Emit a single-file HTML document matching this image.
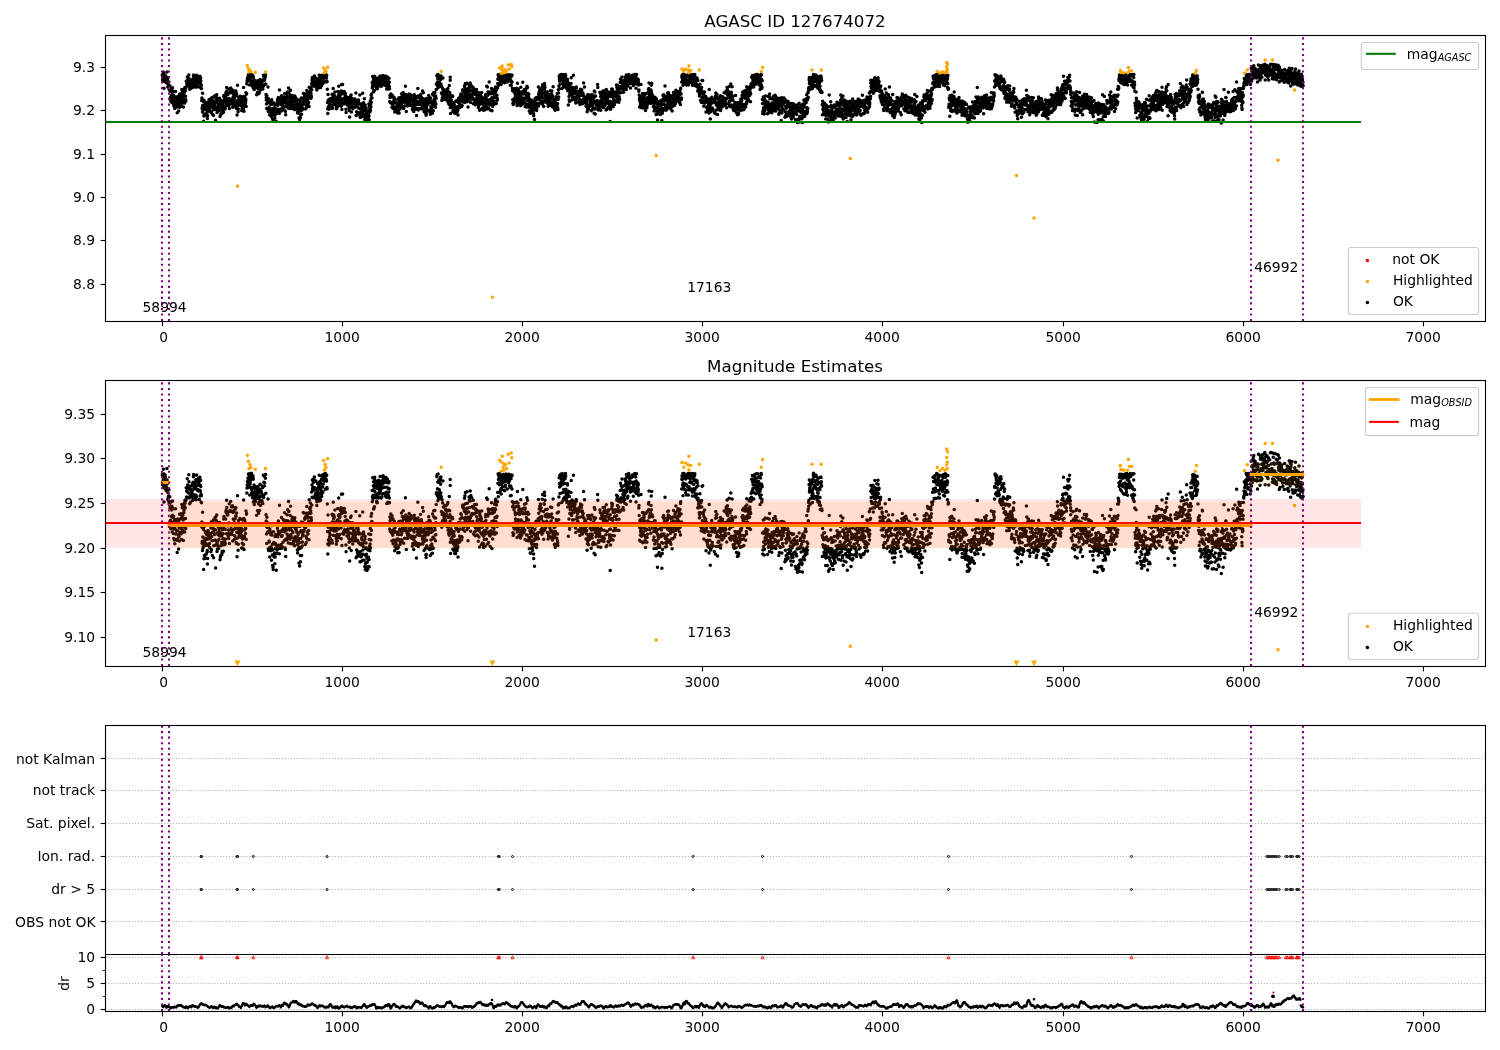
<!DOCTYPE html>
<html lang="en"><head><meta charset="utf-8"><title>AGASC ID 127674072</title>
<style>html,body{margin:0;padding:0;background:#fff;overflow:hidden}svg{display:block;will-change:transform;-webkit-font-smoothing:antialiased}</style>
</head><body>
<svg width="1500" height="1050" viewBox="0 0 1500 1050" font-family='"DejaVu Sans", "Liberation Sans", sans-serif' font-size="13.89" fill="#000">
<rect width="1500" height="1050" fill="#fff"/>
<defs>
<clipPath id="c1"><rect x="105.5" y="35.5" width="1380" height="286"/></clipPath>
<clipPath id="c2"><rect x="105.5" y="380.5" width="1380" height="286"/></clipPath>
<clipPath id="c3"><rect x="105.5" y="725.5" width="1380" height="229"/></clipPath>
<clipPath id="c4"><rect x="105.5" y="954.5" width="1380" height="57"/></clipPath>
</defs>
<g id="panel1">
<g clip-path="url(#c1)">
<path d="M162.3 75.1h.01M162.5 79.9h.01M162.7 74.6h.01M162.9 75.6h.01M163 78h.01M163.2 77.7h.01M163.4 72.3h.01M163.6 76.4h.01M163.8 81h.01M164 88.3h.01M164.1 74.6h.01M164.3 81.6h.01M164.5 80h.01M164.7 79h.01M164.9 81.3h.01M165.1 75.2h.01M165.3 77.4h.01M165.4 76.1h.01M165.6 80.4h.01M165.8 82.3h.01M166 78.5h.01M166.2 80.5h.01M166.4 82.8h.01M166.5 78.8h.01M166.7 78.3h.01M166.9 72h.01M167.1 77.5h.01M167.3 81.6h.01M167.5 79.2h.01M167.7 78.9h.01M167.8 87h.01M168 83.8h.01M168.2 86.2h.01M168.4 87.3h.01M168.6 85.5h.01M168.8 88.1h.01M168.9 82.1h.01M169.1 89.3h.01M169.4 88.2h.01M169.6 89.8h.01M169.8 85.7h.01M170 91.3h.01M170.1 91h.01M170.3 98.5h.01M170.5 97.2h.01M170.7 101.3h.01M170.9 98.7h.01M171.1 88.4h.01M171.2 100.7h.01M171.4 95.4h.01M171.6 92.1h.01M171.8 90.3h.01M172 90.6h.01M172.2 102.8h.01M172.4 94.8h.01M172.5 87.8h.01M172.7 98.3h.01M172.9 100.8h.01M173.1 95.9h.01M173.3 103.6h.01M173.5 91.6h.01M173.6 95.3h.01M173.8 106h.01M174 101.5h.01M174.2 97.6h.01M174.4 106.8h.01M174.6 100.6h.01M174.8 108.6h.01M174.9 96.8h.01M175.1 99.2h.01M175.3 98.5h.01M175.5 91.5h.01M175.7 103.9h.01M175.9 99.1h.01M176 103.8h.01M176.2 101.8h.01M176.4 99.7h.01M176.6 102.4h.01M176.8 106.4h.01M177 106.9h.01M177.2 112.8h.01M177.3 102.2h.01M177.5 97.4h.01M177.7 96.6h.01M177.9 99.4h.01M178.1 98h.01M178.3 97.6h.01M178.4 104.3h.01M178.6 111.1h.01M178.8 97.6h.01M179 105.3h.01M179.2 100.7h.01M179.4 107.2h.01M179.6 94.3h.01M179.7 100.1h.01M179.9 103h.01M180.1 103.1h.01M180.3 101.1h.01M180.5 96.4h.01M180.7 94h.01M180.8 100.9h.01M181 103.9h.01M181.2 99.7h.01M181.4 94.2h.01M181.6 106.5h.01M181.8 89.5h.01M182 95.5h.01M182.1 103.3h.01M182.3 91h.01M182.5 90.7h.01M182.7 102h.01M182.9 94.7h.01M183.1 97h.01M183.2 96.4h.01M183.4 107.1h.01M183.6 100.3h.01M183.8 93.4h.01M184 92.4h.01M184.2 90.2h.01M184.4 88.8h.01M184.5 91h.01M184.7 102.9h.01M184.9 87.4h.01M185.1 88.9h.01M185.3 91.1h.01M185.5 96.2h.01M185.7 99.5h.01M185.8 101.2h.01M186 87.5h.01M186.2 81.3h.01M186.4 86.4h.01M186.6 85.8h.01M186.8 83h.01M186.9 83.2h.01M187.1 81.2h.01M187.3 76.9h.01M187.5 81h.01M187.7 80h.01M187.9 81.6h.01M188.1 81.2h.01M188.2 83.8h.01M188.4 80.5h.01M188.6 80.8h.01M188.8 75h.01M189 78.4h.01M189.2 80.8h.01M189.3 86.4h.01M189.5 85.8h.01M189.7 89.2h.01M189.9 80.9h.01M190.1 82.3h.01M190.3 84.7h.01M190.5 85.8h.01M190.6 88.4h.01M190.8 82.1h.01M191 82.5h.01M191.2 82.8h.01M191.4 84.9h.01M191.6 83.8h.01M191.7 80.2h.01M191.9 83.3h.01M192.1 82.6h.01M192.3 82.7h.01M192.5 79.2h.01M192.7 87.5h.01M192.9 86h.01M193 84.6h.01M193.2 78.7h.01M193.4 76h.01M193.6 74.9h.01M193.8 80.7h.01M194 75.3h.01M194.1 81.8h.01M194.3 79.8h.01M194.5 84.9h.01M194.7 79h.01M194.9 86.8h.01M195.1 81.5h.01M195.3 81.3h.01M195.4 79.7h.01M195.6 81.7h.01M195.8 77.5h.01M196 85h.01M196.2 87.2h.01M196.4 85.8h.01M196.5 78.1h.01M196.7 75.2h.01M196.9 82.2h.01M197.1 78.1h.01M197.3 77.6h.01M197.5 82.5h.01M197.7 82.2h.01M197.8 80.2h.01M198 79.9h.01M198.2 76.9h.01M198.4 82.9h.01M198.6 78.7h.01M198.8 78.7h.01M198.9 79.3h.01M199.1 76.8h.01M199.3 87h.01M199.5 80.2h.01M199.7 82.6h.01M199.9 76.3h.01M200.1 85.4h.01M200.2 80.2h.01M200.4 82.9h.01M200.6 77.7h.01M200.8 80.8h.01M201 84.4h.01M201.2 88.4h.01M201.3 85.3h.01M201.5 88.6h.01M201.7 100.4h.01M201.9 98h.01M202.1 108.4h.01M202.3 107.3h.01M202.5 111.9h.01M202.6 93.2h.01M202.8 105.3h.01M203 110.6h.01M203.2 110.1h.01M203.4 101.5h.01M203.6 121.2h.01M203.7 109.1h.01M203.9 115.9h.01M204.1 100.3h.01M204.3 114.3h.01M204.5 107.7h.01M204.7 107h.01M204.9 105.9h.01M205 114.2h.01M205.2 102.7h.01M205.4 109.4h.01M205.6 115.6h.01M205.8 103.5h.01M206 103.6h.01M206.1 108.4h.01M206.3 113.5h.01M206.5 106.5h.01M206.7 106.1h.01M206.9 104.2h.01M207.1 112.6h.01M207.3 111.9h.01M207.4 118.5h.01M207.6 115.7h.01M207.8 109.4h.01M208 102.1h.01M208.2 104.9h.01M208.4 102.9h.01M208.5 106.3h.01M208.7 109.2h.01M208.9 103.6h.01M209.1 99.4h.01M209.3 99.7h.01M209.5 108.5h.01M209.7 110.4h.01M209.8 105.5h.01M210 99.7h.01M210.2 104.1h.01M210.4 104.1h.01M210.6 105.6h.01M210.8 103.6h.01M210.9 112.4h.01M211.1 100.9h.01M211.3 98h.01M211.5 111.5h.01M211.7 105h.01M211.9 107h.01M212.1 99.9h.01M212.2 100.9h.01M212.4 114.3h.01M212.6 97.6h.01M212.8 102.8h.01M213 106.9h.01M213.2 103h.01M213.4 97.1h.01M213.5 115.4h.01M213.7 109.6h.01M213.9 101.5h.01M214.1 103.5h.01M214.3 109.5h.01M214.5 104.1h.01M214.6 101.9h.01M214.8 96.7h.01M215 95.8h.01M215.2 106.7h.01M215.4 101.7h.01M215.6 120.3h.01M215.8 95.5h.01M215.9 109.2h.01M216.1 98.7h.01M216.3 97.3h.01M216.5 108.9h.01M216.7 94.7h.01M216.9 108h.01M217 112.4h.01M217.2 108.8h.01M217.4 111.1h.01M217.6 103.2h.01M217.8 107.3h.01M218 104.2h.01M218.2 100.4h.01M218.3 109.8h.01M218.5 98.4h.01M218.7 110.9h.01M218.9 106.5h.01M219.1 101.8h.01M219.3 104.4h.01M219.4 103.8h.01M219.6 98.2h.01M219.8 104.8h.01M220 116.4h.01M220.2 103.1h.01M220.4 115h.01M220.6 114.7h.01M220.7 103.4h.01M220.9 109.5h.01M221.1 114h.01M221.3 100.7h.01M221.5 108h.01M221.7 104.8h.01M221.8 113.8h.01M222 113.1h.01M222.2 112.2h.01M222.4 108.8h.01M222.6 101.8h.01M222.8 106.3h.01M223 109.2h.01M223.1 103.8h.01M223.3 106.2h.01M223.5 112.2h.01M223.7 96.5h.01M223.9 95.4h.01M224.1 101.2h.01M224.2 108.2h.01M224.4 99.4h.01M224.6 107.8h.01M224.8 99.2h.01M225 108.9h.01M225.2 108.3h.01M225.4 101.6h.01M225.5 106.3h.01M225.7 96.5h.01M225.9 93.2h.01M226.1 92.3h.01M226.3 93.5h.01M226.5 103.7h.01M226.6 87.5h.01M226.8 90.9h.01M227 98.9h.01M227.2 94.7h.01M227.4 93.7h.01M227.6 104.1h.01M227.8 94.6h.01M227.9 99.9h.01M228.1 93.3h.01M228.3 104.8h.01M228.5 101.9h.01M228.7 106.1h.01M228.9 98.5h.01M229 103.5h.01M229.2 89.1h.01M229.4 108.5h.01M229.6 99.4h.01M229.8 104.1h.01M230 92.5h.01M230.2 92.8h.01M230.3 92.8h.01M230.5 92.6h.01M230.7 88h.01M230.9 101.7h.01M231.1 100.2h.01M231.3 103.6h.01M231.4 90.6h.01M231.6 104h.01M231.8 99h.01M232 102.7h.01M232.2 90.8h.01M232.4 90.1h.01M232.6 99.1h.01M232.7 107.2h.01M232.9 99.3h.01M233.1 93.4h.01M233.3 96.6h.01M233.5 92.7h.01M233.7 101.7h.01M233.8 92.8h.01M234 96.8h.01M234.2 98.2h.01M234.4 106.5h.01M234.6 104.7h.01M234.8 101.3h.01M235 91h.01M235.1 96.4h.01M235.3 91.8h.01M235.5 106.1h.01M235.7 95.2h.01M235.9 91.1h.01M236.1 95.2h.01M236.2 108h.01M236.4 108.5h.01M236.6 93.7h.01M236.8 103h.01M237 114.9h.01M237.2 100.4h.01M237.4 105.7h.01M237.5 85.3h.01M237.7 101.2h.01M237.9 101.1h.01M238.1 111.7h.01M238.3 108.9h.01M238.5 97.3h.01M238.6 103.2h.01M238.8 102.7h.01M239 101.8h.01M239.2 104.3h.01M239.4 104.6h.01M239.6 103.5h.01M239.8 100.1h.01M239.9 96.3h.01M240.1 99.3h.01M240.3 103.6h.01M240.5 105.4h.01M240.7 102.2h.01M240.9 96.6h.01M241 100.7h.01M241.2 104.2h.01M241.4 100h.01M241.6 110.6h.01M241.8 102.6h.01M242 104.8h.01M242.2 108.3h.01M242.3 110.6h.01M242.5 106.3h.01M242.7 97h.01M242.9 101.9h.01M243.1 110.9h.01M243.3 111.1h.01M243.5 108.9h.01M243.6 87.4h.01M243.8 96.4h.01M244 111.3h.01M244.2 99.4h.01M244.4 105h.01M244.6 101.9h.01M244.7 97.1h.01M244.9 106h.01M245.1 100.2h.01M245.3 98.3h.01M245.5 103.6h.01M245.7 101.2h.01M245.9 99.5h.01M246 92.7h.01M246.2 106.5h.01M246.4 94.2h.01M246.6 93.8h.01M246.8 83.9h.01M247 81.5h.01M247.1 81.4h.01M247.3 80.1h.01M247.5 78.4h.01M247.7 78.4h.01M247.9 76.7h.01M248.1 76.9h.01M248.3 78h.01M248.4 74.7h.01M248.6 76.5h.01M248.8 75.2h.01M249 74.5h.01M249.2 79.2h.01M249.4 81.1h.01M249.5 77.8h.01M249.7 84.9h.01M249.9 76.3h.01M250.1 79.5h.01M250.3 78.3h.01M250.5 75.1h.01M250.7 75.4h.01M250.8 77.3h.01M251 84.6h.01M251.2 81.3h.01M251.4 74.4h.01M251.6 82.2h.01M251.8 83.7h.01M251.9 76.2h.01M252.1 81.5h.01M252.3 83.5h.01M252.5 86.2h.01M252.7 85.3h.01M252.9 75.5h.01M253.1 76.7h.01M253.2 77.3h.01M253.4 88.2h.01M253.6 83.7h.01M253.8 85.1h.01M254 80h.01M254.2 80.8h.01M254.3 89.6h.01M254.5 85.3h.01M254.7 87.3h.01M254.9 86.1h.01M255.1 82.1h.01M255.3 84.7h.01M255.5 88h.01M255.6 82.8h.01M255.8 80.9h.01M256 85h.01M256.2 83.8h.01M256.4 82.8h.01M256.6 94.8h.01M256.7 83.9h.01M256.9 85.4h.01M257.1 82.2h.01M257.3 86.6h.01M257.5 92.6h.01M257.7 82.7h.01M257.9 85.6h.01M258 80.8h.01M258.2 84.2h.01M258.4 89.1h.01M258.6 93.8h.01M258.8 83.3h.01M259 82.8h.01M259.1 88.6h.01M259.3 86.8h.01M259.5 92.4h.01M259.7 82.1h.01M259.9 87.9h.01M260.1 79.6h.01M260.3 83.1h.01M260.4 89.9h.01M260.6 85.4h.01M260.8 87.7h.01M261 87.7h.01M261.2 83.1h.01M261.4 83.7h.01M261.5 87.8h.01M261.7 85.4h.01M261.9 87.6h.01M262.1 88.3h.01M262.3 80.6h.01M262.5 81.3h.01M262.7 85h.01M262.8 89h.01M263 86h.01M263.2 85.4h.01M263.4 75.3h.01M263.6 86h.01M263.8 78.6h.01M263.9 75.7h.01M264.1 84.8h.01M264.3 80.5h.01M264.5 75.5h.01M264.7 79h.01M264.9 75.3h.01M265.1 74.9h.01M265.2 75h.01M265.4 76.7h.01M265.6 74.9h.01M265.8 84.1h.01M266 94.4h.01M266.2 97.6h.01M266.3 100.1h.01M266.5 103.9h.01M266.7 108.5h.01M266.9 95.7h.01M267.1 98.1h.01M267.3 100.7h.01M267.5 99.4h.01M267.6 102.8h.01M267.8 103.1h.01M268 86.9h.01M268.2 111.2h.01M268.4 98.7h.01M268.6 111.8h.01M268.7 100.9h.01M268.9 110.9h.01M269.1 107.2h.01M269.3 107.8h.01M269.5 110.5h.01M269.7 115.1h.01M269.9 101.7h.01M270 103h.01M270.2 103.1h.01M270.4 111.5h.01M270.6 110.1h.01M270.8 104.2h.01M271 112h.01M271.1 103h.01M271.3 110.4h.01M271.5 116.7h.01M271.7 99.8h.01M271.9 104.3h.01M272.1 111.5h.01M272.3 108.8h.01M272.4 114h.01M272.6 119.2h.01M272.8 111.5h.01M273 120h.01M273.2 121.2h.01M273.4 102.8h.01M273.6 108.3h.01M273.7 107.9h.01M273.9 108.6h.01M274.1 115h.01M274.3 114.6h.01M274.5 113.1h.01M274.7 108.6h.01M274.8 118.3h.01M275 105h.01M275.2 115h.01M275.4 108.5h.01M275.6 110.8h.01M275.8 104.1h.01M276 109.1h.01M276.1 111h.01M276.3 121.5h.01M276.5 113.4h.01M276.7 104.9h.01M276.9 113.3h.01M277.1 111.6h.01M277.2 109.4h.01M277.4 101h.01M277.6 99.1h.01M277.8 105.2h.01M278 103.8h.01M278.2 102.4h.01M278.4 97.6h.01M278.5 109.3h.01M278.7 98.8h.01M278.9 110.9h.01M279.1 104h.01M279.3 113.4h.01M279.5 89.9h.01M279.6 103.3h.01M279.8 102.9h.01M280 110.5h.01M280.2 99.5h.01M280.4 98.8h.01M280.6 110.1h.01M280.8 109.3h.01M280.9 109.3h.01M281.1 108.9h.01M281.3 110.9h.01M281.5 95.8h.01M281.7 105.1h.01M281.9 102.6h.01M282 101.8h.01M282.2 104.5h.01M282.4 110.1h.01M282.6 99.2h.01M282.8 102.2h.01M283 107.8h.01M283.2 96.9h.01M283.3 98.7h.01M283.5 99.4h.01M283.7 100.5h.01M283.9 101.7h.01M284.1 98.5h.01M284.3 97.1h.01M284.4 106.9h.01M284.6 93.5h.01M284.8 102.9h.01M285 110.7h.01M285.2 111.2h.01M285.4 111.4h.01M285.6 100.6h.01M285.7 114.8h.01M285.9 100.7h.01M286.1 106.3h.01M286.3 102.1h.01M286.5 106.7h.01M286.7 97.4h.01M286.8 98.4h.01M287 94.5h.01M287.2 104h.01M287.4 105.7h.01M287.6 92h.01M287.8 106.1h.01M288 97.5h.01M288.1 104.4h.01M288.3 108.3h.01M288.5 88h.01M288.7 92.9h.01M288.9 92.9h.01M289.1 101.2h.01M289.2 105.7h.01M289.4 106.3h.01M289.6 101.9h.01M289.8 98.2h.01M290 106.2h.01M290.2 94.9h.01M290.4 108.5h.01M290.5 90.3h.01M290.7 104.2h.01M290.9 104.5h.01M291.1 101.9h.01M291.3 105.4h.01M291.5 100.5h.01M291.6 98.1h.01M291.8 97.8h.01M292 96.7h.01M292.2 108.6h.01M292.4 95.7h.01M292.6 108.4h.01M292.8 102.9h.01M292.9 103.1h.01M293.1 100.1h.01M293.3 107.1h.01M293.5 97.8h.01M293.7 108.7h.01M293.9 107.5h.01M294 105.9h.01M294.2 109.3h.01M294.4 96.9h.01M294.6 109.6h.01M294.8 95.9h.01M295 105.2h.01M295.2 105.6h.01M295.3 101.2h.01M295.5 106.6h.01M295.7 101.4h.01M295.9 98h.01M296.1 99h.01M296.3 102.1h.01M296.4 100.7h.01M296.6 106.3h.01M296.8 103h.01M297 105.3h.01M297.2 107.8h.01M297.4 111.7h.01M297.6 113.1h.01M297.7 109h.01M297.9 105.9h.01M298.1 104.2h.01M298.3 111.3h.01M298.5 106.8h.01M298.7 110.4h.01M298.8 100.1h.01M299 117.9h.01M299.2 108.1h.01M299.4 110.3h.01M299.6 119.4h.01M299.8 110.8h.01M300 102.9h.01M300.1 100h.01M300.3 114.3h.01M300.5 117.4h.01M300.7 106.1h.01M300.9 110.3h.01M301.1 102.2h.01M301.3 98h.01M301.4 110.4h.01M301.6 114.3h.01M301.8 107.8h.01M302 98.2h.01M302.2 109.8h.01M302.4 107.8h.01M302.5 104.8h.01M302.7 103.6h.01M302.9 104.1h.01M303.1 98.2h.01M303.3 93.4h.01M303.5 102.6h.01M303.7 99.7h.01M303.8 93.6h.01M304 102h.01M304.2 99.6h.01M304.4 100.4h.01M304.6 96.3h.01M304.8 96.6h.01M304.9 99.1h.01M305.1 100.7h.01M305.3 109h.01M305.5 95.4h.01M305.7 100.7h.01M305.9 104.9h.01M306.1 96h.01M306.2 108h.01M306.4 93.7h.01M306.6 105.8h.01M306.8 90.5h.01M307 94.4h.01M307.2 102.8h.01M307.3 106.3h.01M307.5 95.3h.01M307.7 99.2h.01M307.9 96h.01M308.1 103.8h.01M308.3 93.6h.01M308.5 97.8h.01M308.6 102.2h.01M308.8 98.1h.01M309 106.6h.01M309.2 87.2h.01M309.4 95.9h.01M309.6 93.8h.01M309.7 91.4h.01M309.9 91.4h.01M310.1 98.1h.01M310.3 88.8h.01M310.5 90.9h.01M310.7 92.5h.01M310.9 93.7h.01M311 98.3h.01M311.2 96h.01M311.4 97.1h.01M311.6 83.4h.01M311.8 89.8h.01M312 80h.01M312.1 86h.01M312.3 77.6h.01M312.5 82h.01M312.7 82h.01M312.9 81.3h.01M313.1 86.2h.01M313.3 78.7h.01M313.4 82.7h.01M313.6 86h.01M313.8 82.3h.01M314 76.9h.01M314.2 78.6h.01M314.4 76.1h.01M314.5 81.3h.01M314.7 81.8h.01M314.9 82h.01M315.1 84.9h.01M315.3 82h.01M315.5 82h.01M315.7 84.1h.01M315.8 78.1h.01M316 86.9h.01M316.2 85.5h.01M316.4 83.7h.01M316.6 81.8h.01M316.8 90h.01M316.9 88.2h.01M317.1 88.1h.01M317.3 84.1h.01M317.5 83h.01M317.7 79.4h.01M317.9 81.5h.01M318.1 86.6h.01M318.2 84.9h.01M318.4 83.9h.01M318.6 86h.01M318.8 80.7h.01M319 81.3h.01M319.2 75.3h.01M319.3 78.6h.01M319.5 87.8h.01M319.7 84.3h.01M319.9 82h.01M320.1 86.2h.01M320.3 75.5h.01M320.5 79.3h.01M320.6 87.4h.01M320.8 80.8h.01M321 82.6h.01M321.2 77.9h.01M321.4 83.6h.01M321.6 77.2h.01M321.7 85.5h.01M321.9 84.1h.01M322.1 77.2h.01M322.3 77h.01M322.5 75.2h.01M322.7 81h.01M322.9 83.4h.01M323 77.6h.01M323.2 79.6h.01M323.4 75.8h.01M323.6 76h.01M323.8 74.8h.01M324 77.4h.01M324.1 77.7h.01M324.3 74.8h.01M324.5 77h.01M324.7 76.2h.01M324.9 78h.01M325.1 77.6h.01M325.3 82.1h.01M325.4 74.4h.01M325.6 77.2h.01M325.8 74.7h.01M326 77.1h.01M326.2 77.3h.01M326.4 75.4h.01M326.5 78.1h.01M326.7 75.3h.01M326.9 81.2h.01M327.1 81.8h.01M327.3 89.3h.01M327.5 102.6h.01M327.7 108.7h.01M327.8 113.5h.01M328 94.6h.01M328.2 100.6h.01M328.4 106.8h.01M328.6 102.8h.01M328.8 109.2h.01M328.9 109.2h.01M329.1 99.3h.01M329.3 108.1h.01M329.5 105.2h.01M329.7 102.4h.01M329.9 103.7h.01M330.1 104.2h.01M330.2 105.9h.01M330.4 98.7h.01M330.6 108.1h.01M330.8 108.1h.01M331 98.8h.01M331.2 101.1h.01M331.4 99.7h.01M331.5 100.3h.01M331.7 99.3h.01M331.9 107h.01M332.1 94.2h.01M332.3 98h.01M332.5 108.2h.01M332.6 94.9h.01M332.8 100.9h.01M333 102.1h.01M333.2 88.4h.01M333.4 104.5h.01M333.6 96.5h.01M333.8 94.6h.01M333.9 98.3h.01M334.1 95.3h.01M334.3 95.7h.01M334.5 102.5h.01M334.7 99.3h.01M334.9 92.1h.01M335 104.7h.01M335.2 101.1h.01M335.4 100.4h.01M335.6 99.6h.01M335.8 98.1h.01M336 102.4h.01M336.2 106.1h.01M336.3 108.8h.01M336.5 107.6h.01M336.7 101h.01M336.9 104.8h.01M337.1 104.1h.01M337.3 107.2h.01M337.4 104.3h.01M337.6 97h.01M337.8 91.5h.01M338 105.1h.01M338.2 98.4h.01M338.4 94.9h.01M338.6 101.4h.01M338.7 86.3h.01M338.9 99.7h.01M339.1 105.6h.01M339.3 99.2h.01M339.5 94.4h.01M339.7 96h.01M339.8 104.1h.01M340 95.4h.01M340.2 97.9h.01M340.4 92.4h.01M340.6 92.5h.01M340.8 98.8h.01M341 91.1h.01M341.1 100.9h.01M341.3 106.2h.01M341.5 93.9h.01M341.7 93.2h.01M341.9 109.4h.01M342.1 99.7h.01M342.2 91.4h.01M342.4 99h.01M342.6 84.4h.01M342.8 103.6h.01M343 93.5h.01M343.2 93.4h.01M343.4 98.8h.01M343.5 102.7h.01M343.7 104h.01M343.9 92h.01M344.1 99.9h.01M344.3 91.5h.01M344.5 92.9h.01M344.6 101.8h.01M344.8 97.8h.01M345 97.6h.01M345.2 95.3h.01M345.4 93.4h.01M345.6 98.9h.01M345.8 99h.01M345.9 109.3h.01M346.1 112.5h.01M346.3 102.9h.01M346.5 101.7h.01M346.7 97h.01M346.9 97.3h.01M347 104.8h.01M347.2 99.2h.01M347.4 101.5h.01M347.6 97.4h.01M347.8 102.4h.01M348 99.9h.01M348.2 101.7h.01M348.3 104.1h.01M348.5 99.6h.01M348.7 104.8h.01M348.9 106.1h.01M349.1 107.8h.01M349.3 110.6h.01M349.4 103.5h.01M349.6 116.9h.01M349.8 98.3h.01M350 99.6h.01M350.2 99.3h.01M350.4 103.4h.01M350.6 95.8h.01M350.7 101h.01M350.9 107.2h.01M351.1 95.1h.01M351.3 111.9h.01M351.5 107.2h.01M351.7 106.3h.01M351.8 99.9h.01M352 103.7h.01M352.2 98.4h.01M352.4 105.7h.01M352.6 100.3h.01M352.8 108.7h.01M353 100.3h.01M353.1 103.3h.01M353.3 104.4h.01M353.5 101.9h.01M353.7 102.9h.01M353.9 103h.01M354.1 101.9h.01M354.2 102.6h.01M354.4 107.1h.01M354.6 99.2h.01M354.8 105.1h.01M355 99h.01M355.2 107h.01M355.4 107.1h.01M355.5 105.8h.01M355.7 104.1h.01M355.9 92.9h.01M356.1 115.4h.01M356.3 106.7h.01M356.5 103.1h.01M356.6 111.7h.01M356.8 100.9h.01M357 114.7h.01M357.2 103.5h.01M357.4 113h.01M357.6 112.4h.01M357.8 107.1h.01M357.9 101.7h.01M358.1 107.6h.01M358.3 101.7h.01M358.5 100h.01M358.7 108.2h.01M358.9 103.1h.01M359 103.9h.01M359.2 113.8h.01M359.4 114.6h.01M359.6 114.5h.01M359.8 95h.01M360 117.3h.01M360.2 112.4h.01M360.3 108.9h.01M360.5 114.3h.01M360.7 117.3h.01M360.9 114.9h.01M361.1 103.9h.01M361.3 108.4h.01M361.5 114.6h.01M361.6 105.7h.01M361.8 106.5h.01M362 109.3h.01M362.2 113.8h.01M362.4 108.7h.01M362.6 116.6h.01M362.7 93.2h.01M362.9 111.6h.01M363.1 113.7h.01M363.3 109.9h.01M363.5 102.8h.01M363.7 103.8h.01M363.9 107.8h.01M364 104.7h.01M364.2 116.6h.01M364.4 98.8h.01M364.6 108.1h.01M364.8 119.7h.01M365 106.4h.01M365.1 105h.01M365.3 121.2h.01M365.5 118.2h.01M365.7 114.3h.01M365.9 110.9h.01M366.1 108.3h.01M366.3 110.5h.01M366.4 113.6h.01M366.6 120h.01M366.8 115.2h.01M367 115.6h.01M367.2 117.6h.01M367.4 119.8h.01M367.5 115.4h.01M367.7 120.8h.01M367.9 111.7h.01M368.1 119.7h.01M368.3 116.4h.01M368.5 115.1h.01M368.7 110.9h.01M368.8 103.9h.01M369 116.3h.01M369.2 106.5h.01M369.4 111.2h.01M369.6 109.6h.01M369.8 110h.01M369.9 112h.01M370.1 108.7h.01M370.3 101.1h.01M370.5 110.6h.01M370.7 104.1h.01M370.9 106.8h.01M371.1 95.2h.01M371.2 98.4h.01M371.4 102.2h.01M371.6 93.9h.01M371.8 97.8h.01M372 97.9h.01M372.2 82.7h.01M372.3 88.1h.01M372.5 85.8h.01M372.7 76.5h.01M372.9 86.9h.01M373.1 85h.01M373.3 80.4h.01M373.5 91.6h.01M373.6 78.4h.01M373.8 91.7h.01M374 91.3h.01M374.2 81.5h.01M374.4 90.6h.01M374.6 77.8h.01M374.7 76.3h.01M374.9 83.1h.01M375.1 77.7h.01M375.3 79.3h.01M375.5 84.8h.01M375.7 86.1h.01M375.9 78.8h.01M376 80.2h.01M376.2 78.5h.01M376.4 81.5h.01M376.6 87.9h.01M376.8 88.6h.01M377 84.8h.01M377.1 78.8h.01M377.3 88.7h.01M377.5 80.2h.01M377.7 81.7h.01M377.9 84.1h.01M378.1 84.2h.01M378.3 81.2h.01M378.4 86.3h.01M378.6 77.7h.01M378.8 81.9h.01M379 79.4h.01M379.2 78.3h.01M379.4 85.9h.01M379.5 83.1h.01M379.7 83h.01M379.9 84h.01M380.1 75.9h.01M380.3 80.8h.01M380.5 82.8h.01M380.7 82h.01M380.8 79.5h.01M381 78.8h.01M381.2 86.3h.01M381.4 78.1h.01M381.6 85.9h.01M381.8 85.9h.01M381.9 80h.01M382.1 79.4h.01M382.3 81.1h.01M382.5 81.5h.01M382.7 84.2h.01M382.9 79.2h.01M383.1 75.5h.01M383.2 77h.01M383.4 76.3h.01M383.6 79h.01M383.8 76.9h.01M384 84.2h.01M384.2 77.2h.01M384.3 78.1h.01M384.5 76.3h.01M384.7 81.1h.01M384.9 84.3h.01M385.1 77.8h.01M385.3 85.4h.01M385.5 84.7h.01M385.6 77.4h.01M385.8 77h.01M386 76.3h.01M386.2 83.5h.01M386.4 85.9h.01M386.6 78.8h.01M386.7 89h.01M386.9 83.7h.01M387.1 81.1h.01M387.3 77.1h.01M387.5 84.2h.01M387.7 83.6h.01M387.9 88.9h.01M388 88.4h.01M388.2 81.7h.01M388.4 79.1h.01M388.6 85.3h.01M388.8 83.4h.01M389 78.3h.01M389.2 81.9h.01M389.3 86.4h.01M389.5 88.7h.01M389.7 101.4h.01M389.9 95.5h.01M390.1 97.4h.01M390.3 102.6h.01M390.4 97h.01M390.6 96.7h.01M390.8 94.1h.01M391 95.3h.01M391.2 95.6h.01M391.4 96.1h.01M391.6 103.4h.01M391.7 96.7h.01M391.9 107.2h.01M392.1 95h.01M392.3 103.6h.01M392.5 102.2h.01M392.7 96.9h.01M392.8 104.4h.01M393 96.5h.01M393.2 108.6h.01M393.4 102.1h.01M393.6 106.7h.01M393.8 101.7h.01M394 100h.01M394.1 103h.01M394.3 97.7h.01M394.5 102.2h.01M394.7 112h.01M394.9 110h.01M395.1 100.7h.01M395.2 99.2h.01M395.4 107.3h.01M395.6 102.9h.01M395.8 108.2h.01M396 110.4h.01M396.2 107.2h.01M396.4 109.1h.01M396.5 109.6h.01M396.7 110.7h.01M396.9 110.8h.01M397.1 106.3h.01M397.3 103.1h.01M397.5 110.8h.01M397.6 104.1h.01M397.8 113h.01M398 106.2h.01M398.2 110.4h.01M398.4 110.3h.01M398.6 99.6h.01M398.8 104h.01M398.9 97.8h.01M399.1 112.9h.01M399.3 102.5h.01M399.5 106.7h.01M399.7 101.4h.01M399.9 107.5h.01M400 108.9h.01M400.2 101.8h.01M400.4 106.8h.01M400.6 107.9h.01M400.8 97.6h.01M401 102.3h.01M401.2 98.5h.01M401.3 104.2h.01M401.5 93.7h.01M401.7 106.6h.01M401.9 103.1h.01M402.1 107.5h.01M402.3 95.4h.01M402.4 97.5h.01M402.6 100.8h.01M402.8 101.6h.01M403 100.2h.01M403.2 92.6h.01M403.4 96.9h.01M403.6 100.7h.01M403.7 108.4h.01M403.9 99h.01M404.1 96.2h.01M404.3 102.2h.01M404.5 95.5h.01M404.7 105.9h.01M404.8 101.6h.01M405 102h.01M405.2 101.3h.01M405.4 86.2h.01M405.6 95.4h.01M405.8 94.6h.01M406 100.7h.01M406.1 96.9h.01M406.3 111.4h.01M406.5 98h.01M406.7 95.7h.01M406.9 103.3h.01M407.1 95.9h.01M407.2 102.5h.01M407.4 106.1h.01M407.6 104.5h.01M407.8 103.2h.01M408 95.6h.01M408.2 97.4h.01M408.4 97.1h.01M408.5 103.8h.01M408.7 96.6h.01M408.9 99.4h.01M409.1 93.9h.01M409.3 101.3h.01M409.5 97.2h.01M409.6 104.4h.01M409.8 105.3h.01M410 102.1h.01M410.2 96.4h.01M410.4 101.4h.01M410.6 96.3h.01M410.8 100.8h.01M410.9 94.9h.01M411.1 96.6h.01M411.3 95.9h.01M411.5 95.9h.01M411.7 105h.01M411.9 106.1h.01M412 96h.01M412.2 99.5h.01M412.4 109.8h.01M412.6 99.6h.01M412.8 108.5h.01M413 109.2h.01M413.2 105h.01M413.3 102h.01M413.5 105.9h.01M413.7 111.4h.01M413.9 106.7h.01M414.1 102.9h.01M414.3 94.8h.01M414.4 98.9h.01M414.6 97.2h.01M414.8 96.2h.01M415 105.4h.01M415.2 101.2h.01M415.4 101.2h.01M415.6 107.9h.01M415.7 108.6h.01M415.9 101.1h.01M416.1 109.3h.01M416.3 98.4h.01M416.5 115.5h.01M416.7 108.4h.01M416.8 101.4h.01M417 96.6h.01M417.2 104.2h.01M417.4 97.4h.01M417.6 102.8h.01M417.8 88.4h.01M418 96h.01M418.1 103.7h.01M418.3 109.9h.01M418.5 108.5h.01M418.7 103.1h.01M418.9 103h.01M419.1 97.6h.01M419.3 104.6h.01M419.4 103.4h.01M419.6 101.8h.01M419.8 104.1h.01M420 100.8h.01M420.2 98.5h.01M420.4 100.6h.01M420.5 94.4h.01M420.7 108.8h.01M420.9 101.9h.01M421.1 101.1h.01M421.3 96.9h.01M421.5 108.8h.01M421.7 98h.01M421.8 98.4h.01M422 104.9h.01M422.2 103h.01M422.4 106.4h.01M422.6 90.9h.01M422.8 98.5h.01M422.9 108.7h.01M423.1 107.8h.01M423.3 92.8h.01M423.5 102.4h.01M423.7 106.1h.01M423.9 98.9h.01M424.1 111.8h.01M424.2 107.5h.01M424.4 101.6h.01M424.6 104.2h.01M424.8 105.4h.01M425 104.1h.01M425.2 100h.01M425.3 110.8h.01M425.5 103h.01M425.7 104.3h.01M425.9 113.9h.01M426.1 115.2h.01M426.3 113.8h.01M426.5 98.4h.01M426.6 106.9h.01M426.8 109.5h.01M427 110.8h.01M427.2 101.5h.01M427.4 110.4h.01M427.6 99.8h.01M427.7 100.8h.01M427.9 99.1h.01M428.1 104.2h.01M428.3 103h.01M428.5 103.4h.01M428.7 95.4h.01M428.9 103.3h.01M429 97.2h.01M429.2 101.7h.01M429.4 110.7h.01M429.6 111.4h.01M429.8 97.4h.01M430 100.5h.01M430.1 111.1h.01M430.3 114.3h.01M430.5 98h.01M430.7 109.4h.01M430.9 106.8h.01M431.1 103.1h.01M431.3 101.2h.01M431.4 101.3h.01M431.6 113.4h.01M431.8 108.7h.01M432 111h.01M432.2 109.9h.01M432.4 113.2h.01M432.5 94.2h.01M432.7 102.5h.01M432.9 105.4h.01M433.1 106.2h.01M433.3 110.8h.01M433.5 105.9h.01M433.7 92.5h.01M433.8 95.5h.01M434 106h.01M434.2 99.3h.01M434.4 98.8h.01M434.6 100.6h.01M434.8 96h.01M434.9 92.4h.01M435.1 101.8h.01M435.3 104.4h.01M435.5 107.2h.01M435.7 96h.01M435.9 104.1h.01M436.1 98.3h.01M436.2 89.6h.01M436.4 84.2h.01M436.6 83.7h.01M436.8 75.8h.01M437 84.7h.01M437.2 75.1h.01M437.3 85.1h.01M437.5 81.9h.01M437.7 78.6h.01M437.9 87.7h.01M438.1 74.6h.01M438.3 86.2h.01M438.5 78.2h.01M438.6 86.3h.01M438.8 77.6h.01M439 84.2h.01M439.2 82.4h.01M439.4 82.6h.01M439.6 86.5h.01M439.7 78.9h.01M439.9 85.6h.01M440.1 84.8h.01M440.3 76.3h.01M440.5 77.4h.01M440.7 79.6h.01M440.9 83.9h.01M441 76.1h.01M441.2 85.7h.01M441.4 92.9h.01M441.6 86.8h.01M441.8 100.6h.01M442 87.2h.01M442.1 94.3h.01M442.3 97.9h.01M442.5 97.4h.01M442.7 88.8h.01M442.9 78h.01M443.1 97.1h.01M443.3 90.7h.01M443.4 93.7h.01M443.6 97.9h.01M443.8 99.6h.01M444 95.7h.01M444.2 99.2h.01M444.4 97.5h.01M444.5 94.6h.01M444.7 96.9h.01M444.9 90.1h.01M445.1 97.4h.01M445.3 96.8h.01M445.5 92.1h.01M445.7 97.2h.01M445.8 91.8h.01M446 90h.01M446.2 95h.01M446.4 94.2h.01M446.6 99.9h.01M446.8 89.7h.01M446.9 92.8h.01M447.1 98.8h.01M447.3 100.3h.01M447.5 89.2h.01M447.7 99.3h.01M447.9 88.5h.01M448.1 102.1h.01M448.2 98.7h.01M448.4 95.8h.01M448.6 103.6h.01M448.8 100.5h.01M449 92.3h.01M449.2 104.4h.01M449.4 102.8h.01M449.5 102.6h.01M449.7 92.5h.01M449.9 94.5h.01M450.1 97.7h.01M450.3 107.8h.01M450.5 99.7h.01M450.6 113.4h.01M450.8 95.6h.01M451 106.3h.01M451.2 101.6h.01M451.4 100h.01M451.6 103.8h.01M451.8 96.2h.01M451.9 102.3h.01M452.1 105.5h.01M452.3 95.7h.01M452.5 106.8h.01M452.7 96.4h.01M452.9 111.2h.01M453 111.1h.01M453.2 108.5h.01M453.4 111.6h.01M453.6 104.9h.01M453.8 104.2h.01M454 102.7h.01M454.2 104.8h.01M454.3 109.3h.01M454.5 107.5h.01M454.7 113.3h.01M454.9 113h.01M455.1 107.1h.01M455.3 110.8h.01M455.4 110.9h.01M455.6 113.3h.01M455.8 100.9h.01M456 112.1h.01M456.2 108.1h.01M456.4 100.8h.01M456.6 101.5h.01M456.7 107.9h.01M456.9 109.6h.01M457.1 111.9h.01M457.3 106.8h.01M457.5 108.1h.01M457.7 109.7h.01M457.8 110.4h.01M458 115.1h.01M458.2 101.6h.01M458.4 102.6h.01M458.6 98.2h.01M458.8 107.9h.01M459 107.1h.01M459.1 102h.01M459.3 98.4h.01M459.5 105h.01M459.7 107.8h.01M459.9 101.4h.01M460.1 106h.01M460.2 96.5h.01M460.4 98.5h.01M460.6 105.1h.01M460.8 94h.01M461 98.9h.01M461.2 99.2h.01M461.4 94.4h.01M461.5 105.1h.01M461.7 106.6h.01M461.9 95.9h.01M462.1 105.4h.01M462.3 99.9h.01M462.5 98.5h.01M462.6 90.5h.01M462.8 89.8h.01M463 101.7h.01M463.2 91.2h.01M463.4 100.8h.01M463.6 98.6h.01M463.8 96.3h.01M463.9 89.7h.01M464.1 91.5h.01M464.3 92.8h.01M464.5 86.4h.01M464.7 102.5h.01M464.9 85.2h.01M465 100.1h.01M465.2 97.7h.01M465.4 95.8h.01M465.6 96.8h.01M465.8 89.1h.01M466 93.8h.01M466.2 92.9h.01M466.3 94h.01M466.5 98.4h.01M466.7 91.3h.01M466.9 83.3h.01M467.1 101.7h.01M467.3 88.9h.01M467.4 100.1h.01M467.6 91.4h.01M467.8 98.1h.01M468 107.1h.01M468.2 95.7h.01M468.4 100.8h.01M468.6 96h.01M468.7 93.2h.01M468.9 96.9h.01M469.1 85.8h.01M469.3 87.3h.01M469.5 90.9h.01M469.7 97.6h.01M469.8 86.2h.01M470 88h.01M470.2 83h.01M470.4 96h.01M470.6 102.5h.01M470.8 85.1h.01M471 94.7h.01M471.1 94.8h.01M471.3 98.9h.01M471.5 94.9h.01M471.7 86.2h.01M471.9 94.1h.01M472.1 93.9h.01M472.2 90.5h.01M472.4 99.2h.01M472.6 94.2h.01M472.8 97.8h.01M473 91.2h.01M473.2 87.4h.01M473.4 91.1h.01M473.5 103.8h.01M473.7 98.9h.01M473.9 91h.01M474.1 94.2h.01M474.3 100h.01M474.5 102.8h.01M474.6 89.6h.01M474.8 100.1h.01M475 93.8h.01M475.2 104.7h.01M475.4 100.8h.01M475.6 92.1h.01M475.8 102.4h.01M475.9 91.7h.01M476.1 98.8h.01M476.3 93.5h.01M476.5 89.6h.01M476.7 95.5h.01M476.9 98.5h.01M477.1 97.6h.01M477.2 104.3h.01M477.4 97.1h.01M477.6 98.7h.01M477.8 101.1h.01M478 92.6h.01M478.2 99.4h.01M478.3 107.4h.01M478.5 98.9h.01M478.7 101.8h.01M478.9 105.3h.01M479.1 96.7h.01M479.3 102.3h.01M479.5 110.2h.01M479.6 94.2h.01M479.8 92.9h.01M480 99.9h.01M480.2 95h.01M480.4 100.8h.01M480.6 95.5h.01M480.7 98.2h.01M480.9 96.9h.01M481.1 103.7h.01M481.3 96.5h.01M481.5 109h.01M481.7 92.6h.01M481.9 103.3h.01M482 100.6h.01M482.2 108.7h.01M482.4 108.2h.01M482.6 104.3h.01M482.8 100.1h.01M483 98.1h.01M483.1 98.7h.01M483.3 102.8h.01M483.5 110.3h.01M483.7 105h.01M483.9 108.7h.01M484.1 109.5h.01M484.3 106.5h.01M484.4 102.1h.01M484.6 98.1h.01M484.8 98.6h.01M485 99.2h.01M485.2 109.8h.01M485.4 103.9h.01M485.5 95.5h.01M485.7 94.4h.01M485.9 97.3h.01M486.1 102.5h.01M486.3 103.7h.01M486.5 106.4h.01M486.7 86.3h.01M486.8 100.2h.01M487 101h.01M487.2 99.5h.01M487.4 87.1h.01M487.6 99.8h.01M487.8 108.8h.01M487.9 95.2h.01M488.1 91.7h.01M488.3 94.2h.01M488.5 107.9h.01M488.7 92.9h.01M488.9 103.2h.01M489.1 103h.01M489.2 81.9h.01M489.4 104.5h.01M489.6 102.6h.01M489.8 92h.01M490 104.8h.01M490.2 109.9h.01M490.3 103.8h.01M490.5 99.6h.01M490.7 93.8h.01M490.9 102.3h.01M491.1 103.2h.01M491.3 102.6h.01M491.5 88.6h.01M491.6 103.8h.01M491.8 97.7h.01M492 110.8h.01M492.2 100.4h.01M492.4 91.5h.01M492.6 106.2h.01M492.7 92.5h.01M492.9 93.8h.01M493.1 91.5h.01M493.3 92.5h.01M493.5 103.6h.01M493.7 97.4h.01M493.9 102.6h.01M494 101.2h.01M494.2 92.5h.01M494.4 93.1h.01M494.6 89.4h.01M494.8 104h.01M495 95.9h.01M495.1 91.6h.01M495.3 88.2h.01M495.5 86.9h.01M495.7 91.9h.01M495.9 95.8h.01M496.1 97.9h.01M496.3 103.4h.01M496.4 89.8h.01M496.6 95.9h.01M496.8 87.9h.01M497 95.2h.01M497.2 100.2h.01M497.4 98.8h.01M497.5 88.1h.01M497.7 83.6h.01M497.9 79.2h.01M498.1 74.7h.01M498.3 85.7h.01M498.5 77.4h.01M498.7 75.2h.01M498.8 75.1h.01M499 75.9h.01M499.2 75.3h.01M499.4 79.9h.01M499.6 74.4h.01M499.8 83.4h.01M499.9 79h.01M500.1 76.8h.01M500.3 75.4h.01M500.5 82.6h.01M500.7 76h.01M500.9 79.5h.01M501.1 81.7h.01M501.2 84.4h.01M501.4 78.3h.01M501.6 82.3h.01M501.8 76h.01M502 79.2h.01M502.2 76.3h.01M502.3 75.4h.01M502.5 76.9h.01M502.7 80.8h.01M502.9 75.1h.01M503.1 75.7h.01M503.3 76.3h.01M503.5 78.6h.01M503.6 74.9h.01M503.8 77h.01M504 76.5h.01M504.2 82.6h.01M504.4 78.4h.01M504.6 74.9h.01M504.7 82.8h.01M504.9 76.6h.01M505.1 80.8h.01M505.3 74.9h.01M505.5 80.2h.01M505.7 77.3h.01M505.9 74.7h.01M506 77.5h.01M506.2 76.9h.01M506.4 75.2h.01M506.6 77.1h.01M506.8 75.8h.01M507 76.1h.01M507.2 76.8h.01M507.3 82h.01M507.5 75.8h.01M507.7 76.7h.01M507.9 78.7h.01M508.1 74.8h.01M508.3 75.2h.01M508.4 76.6h.01M508.6 78.9h.01M508.8 74.9h.01M509 74.8h.01M509.2 78.2h.01M509.4 75.1h.01M509.6 80.4h.01M509.7 75.1h.01M509.9 76.9h.01M510.1 81.1h.01M510.3 85.2h.01M510.5 76.9h.01M510.7 76.1h.01M510.8 80.6h.01M511 77h.01M511.2 85.1h.01M511.4 81.6h.01M511.6 75.1h.01M511.8 75.6h.01M512 81.9h.01M512.1 75.3h.01M512.3 88.2h.01M512.5 90.6h.01M512.7 99.8h.01M512.9 103.2h.01M513.1 90.3h.01M513.2 104.5h.01M513.4 100.3h.01M513.6 88.8h.01M513.8 103.8h.01M514 92.1h.01M514.2 101.4h.01M514.4 98.6h.01M514.5 91h.01M514.7 98.7h.01M514.9 88.7h.01M515.1 93.4h.01M515.3 94.5h.01M515.5 96.5h.01M515.6 100h.01M515.8 96.9h.01M516 98h.01M516.2 97.3h.01M516.4 101.4h.01M516.6 90.4h.01M516.8 88.2h.01M516.9 101h.01M517.1 105.5h.01M517.3 102.8h.01M517.5 100.3h.01M517.7 93.9h.01M517.9 97.9h.01M518 88.9h.01M518.2 97h.01M518.4 101.8h.01M518.6 90.5h.01M518.8 92.4h.01M519 104.6h.01M519.2 91.5h.01M519.3 100.3h.01M519.5 94.4h.01M519.7 92h.01M519.9 104.5h.01M520.1 98.4h.01M520.3 92.6h.01M520.4 103.3h.01M520.6 105.7h.01M520.8 87.2h.01M521 97.1h.01M521.2 93.4h.01M521.4 102.1h.01M521.6 97.7h.01M521.7 104.5h.01M521.9 102.2h.01M522.1 100.8h.01M522.3 93.2h.01M522.5 99.4h.01M522.7 91.6h.01M522.8 82.3h.01M523 94h.01M523.2 98.3h.01M523.4 100.9h.01M523.6 98.3h.01M523.8 103.3h.01M524 101.8h.01M524.1 91.2h.01M524.3 102.5h.01M524.5 89.4h.01M524.7 101.9h.01M524.9 91.9h.01M525.1 106.5h.01M525.2 91.3h.01M525.4 98.3h.01M525.6 94h.01M525.8 93.4h.01M526 89.1h.01M526.2 106.9h.01M526.4 96h.01M526.5 104.3h.01M526.7 97h.01M526.9 86.2h.01M527.1 104.3h.01M527.3 99.7h.01M527.5 87.4h.01M527.6 93.4h.01M527.8 93.3h.01M528 94.2h.01M528.2 100.8h.01M528.4 107.2h.01M528.6 97.1h.01M528.8 94.2h.01M528.9 105.7h.01M529.1 105.6h.01M529.3 111h.01M529.5 99h.01M529.7 105.7h.01M529.9 102.3h.01M530 106.7h.01M530.2 113.1h.01M530.4 103.6h.01M530.6 113.2h.01M530.8 107.5h.01M531 103.4h.01M531.2 102.3h.01M531.3 100.6h.01M531.5 108.5h.01M531.7 105h.01M531.9 100.3h.01M532.1 110.1h.01M532.3 100.7h.01M532.4 110.6h.01M532.6 111.8h.01M532.8 107.2h.01M533 103.2h.01M533.2 103.1h.01M533.4 106.8h.01M533.6 113.6h.01M533.7 115.7h.01M533.9 107.1h.01M534.1 103.9h.01M534.3 109h.01M534.5 119.6h.01M534.7 104.1h.01M534.9 101.7h.01M535 109.7h.01M535.2 98.5h.01M535.4 105.6h.01M535.6 108.9h.01M535.8 106.4h.01M536 97.7h.01M536.1 100h.01M536.3 103.9h.01M536.5 110.4h.01M536.7 109h.01M536.9 99.3h.01M537.1 105.8h.01M537.3 104.7h.01M537.4 104.3h.01M537.6 103.4h.01M537.8 105.7h.01M538 98.1h.01M538.2 96.5h.01M538.4 87.1h.01M538.5 106.1h.01M538.7 93.7h.01M538.9 97.5h.01M539.1 99.3h.01M539.3 91.8h.01M539.5 103h.01M539.7 91.4h.01M539.8 90.3h.01M540 98.8h.01M540.2 95.5h.01M540.4 89.2h.01M540.6 89.4h.01M540.8 92.5h.01M540.9 95.9h.01M541.1 101.6h.01M541.3 91.1h.01M541.5 96.6h.01M541.7 95.3h.01M541.9 103.9h.01M542.1 101.2h.01M542.2 86.9h.01M542.4 102.9h.01M542.6 84.7h.01M542.8 103.3h.01M543 101.9h.01M543.2 102.6h.01M543.3 97.9h.01M543.5 92.9h.01M543.7 106.4h.01M543.9 101.4h.01M544.1 89.1h.01M544.3 89.4h.01M544.5 83.5h.01M544.6 85.1h.01M544.8 101.9h.01M545 87.4h.01M545.2 95.2h.01M545.4 94.6h.01M545.6 100.9h.01M545.7 91.9h.01M545.9 99h.01M546.1 94.4h.01M546.3 94.8h.01M546.5 97.7h.01M546.7 97.7h.01M546.9 95.5h.01M547 94.1h.01M547.2 91.8h.01M547.4 103.1h.01M547.6 94.8h.01M547.8 99.7h.01M548 98.5h.01M548.1 106.3h.01M548.3 95.6h.01M548.5 104.6h.01M548.7 105.2h.01M548.9 94.3h.01M549.1 95h.01M549.3 103.3h.01M549.4 98.6h.01M549.6 105.2h.01M549.8 100.8h.01M550 100.3h.01M550.2 98.7h.01M550.4 101.8h.01M550.5 90.7h.01M550.7 98.7h.01M550.9 95.5h.01M551.1 97.5h.01M551.3 105.5h.01M551.5 102.2h.01M551.7 94.1h.01M551.8 91h.01M552 106.1h.01M552.2 102.9h.01M552.4 106.7h.01M552.6 96h.01M552.8 104.8h.01M552.9 104.3h.01M553.1 86.8h.01M553.3 105.9h.01M553.5 98.9h.01M553.7 102.7h.01M553.9 105.5h.01M554.1 100.8h.01M554.2 105.6h.01M554.4 109h.01M554.6 105.6h.01M554.8 108.7h.01M555 104.2h.01M555.2 110.3h.01M555.3 100.3h.01M555.5 102.6h.01M555.7 109.6h.01M555.9 98.5h.01M556.1 96.8h.01M556.3 98.1h.01M556.5 98.8h.01M556.6 103.7h.01M556.8 105.9h.01M557 98.3h.01M557.2 93.6h.01M557.4 107.1h.01M557.6 103.8h.01M557.7 108.1h.01M557.9 109.4h.01M558.1 99.6h.01M558.3 89.7h.01M558.5 93.1h.01M558.7 96.9h.01M558.9 85.9h.01M559 89h.01M559.2 76.5h.01M559.4 79.3h.01M559.6 80.9h.01M559.8 75.3h.01M560 84.2h.01M560.1 80.6h.01M560.3 79.3h.01M560.5 76.5h.01M560.7 74.8h.01M560.9 80.4h.01M561.1 76.9h.01M561.3 75.8h.01M561.4 78.3h.01M561.6 74.6h.01M561.8 88.5h.01M562 78.5h.01M562.2 76h.01M562.4 83.8h.01M562.5 76h.01M562.7 74.6h.01M562.9 75.1h.01M563.1 87.4h.01M563.3 79.6h.01M563.5 86.8h.01M563.7 82.2h.01M563.8 77.5h.01M564 75.6h.01M564.2 75.7h.01M564.4 86.1h.01M564.6 79.3h.01M564.8 77h.01M565 85.9h.01M565.1 76.9h.01M565.3 83.3h.01M565.5 74.4h.01M565.7 75.8h.01M565.9 82.1h.01M566.1 84.3h.01M566.2 87.3h.01M566.4 85.5h.01M566.6 86.5h.01M566.8 88.6h.01M567 83.4h.01M567.2 88.3h.01M567.4 79.2h.01M567.5 80h.01M567.7 90.7h.01M567.9 84.4h.01M568.1 88.2h.01M568.3 105h.01M568.5 83.1h.01M568.6 89h.01M568.8 89h.01M569 96.6h.01M569.2 100.1h.01M569.4 85.6h.01M569.6 101.5h.01M569.8 93.8h.01M569.9 90.3h.01M570.1 92.1h.01M570.3 89h.01M570.5 91.2h.01M570.7 88h.01M570.9 89.6h.01M571 83.6h.01M571.2 77.8h.01M571.4 88.6h.01M571.6 94.8h.01M571.8 99.9h.01M572 87.3h.01M572.2 99.8h.01M572.3 93.6h.01M572.5 97.1h.01M572.7 99h.01M572.9 90.5h.01M573.1 92.4h.01M573.3 93h.01M573.4 75.3h.01M573.6 89.2h.01M573.8 96.9h.01M574 93.4h.01M574.2 92.8h.01M574.4 88.1h.01M574.6 91.2h.01M574.7 90.2h.01M574.9 91.5h.01M575.1 89.3h.01M575.3 98.7h.01M575.5 101h.01M575.7 92.3h.01M575.8 103.1h.01M576 99.3h.01M576.2 87.1h.01M576.4 87.9h.01M576.6 92.6h.01M576.8 96.4h.01M577 95.3h.01M577.1 91.7h.01M577.3 95.6h.01M577.5 93.8h.01M577.7 97.5h.01M577.9 92h.01M578.1 98.1h.01M578.2 101.9h.01M578.4 93h.01M578.6 91.8h.01M578.8 91.8h.01M579 102.5h.01M579.2 91.1h.01M579.4 102.2h.01M579.5 95.7h.01M579.7 99.3h.01M579.9 104.6h.01M580.1 102.3h.01M580.3 90.5h.01M580.5 89.2h.01M580.6 100.6h.01M580.8 89.6h.01M581 101.8h.01M581.2 92.8h.01M581.4 91h.01M581.6 103.2h.01M581.8 89.8h.01M581.9 101.8h.01M582.1 95.5h.01M582.3 92.6h.01M582.5 103.8h.01M582.7 93.9h.01M582.9 95.3h.01M583 95.5h.01M583.2 93.8h.01M583.4 99.2h.01M583.6 83.1h.01M583.8 101.1h.01M584 96.2h.01M584.2 102.2h.01M584.3 102.8h.01M584.5 87.1h.01M584.7 97.9h.01M584.9 97.4h.01M585.1 98.2h.01M585.3 101.8h.01M585.4 101.2h.01M585.6 97.6h.01M585.8 98.1h.01M586 106.3h.01M586.2 106.2h.01M586.4 100.2h.01M586.6 103.9h.01M586.7 102.2h.01M586.9 106.5h.01M587.1 111.8h.01M587.3 106.5h.01M587.5 108.7h.01M587.7 94.8h.01M587.8 107.5h.01M588 96.3h.01M588.2 98.8h.01M588.4 105.2h.01M588.6 109.1h.01M588.8 94.8h.01M589 96.1h.01M589.1 95.7h.01M589.3 95.2h.01M589.5 106.5h.01M589.7 99.1h.01M589.9 103.9h.01M590.1 101.1h.01M590.2 96.1h.01M590.4 104.3h.01M590.6 98.6h.01M590.8 96.9h.01M591 101.2h.01M591.2 110.8h.01M591.4 105.3h.01M591.5 101.9h.01M591.7 103.9h.01M591.9 94.6h.01M592.1 105.8h.01M592.3 104.3h.01M592.5 99.5h.01M592.6 108.8h.01M592.8 109h.01M593 108.9h.01M593.2 100.4h.01M593.4 108h.01M593.6 98.1h.01M593.8 101.6h.01M593.9 95.9h.01M594.1 113.2h.01M594.3 91h.01M594.5 108.8h.01M594.7 96.7h.01M594.9 91.9h.01M595.1 103.1h.01M595.2 113.9h.01M595.4 101.5h.01M595.6 96.1h.01M595.8 108.7h.01M596 105.2h.01M596.2 102h.01M596.3 103h.01M596.5 100.9h.01M596.7 100.8h.01M596.9 104h.01M597.1 102.4h.01M597.3 101.5h.01M597.5 100.8h.01M597.6 84.6h.01M597.8 87.5h.01M598 101.8h.01M598.2 110h.01M598.4 106.9h.01M598.6 103.6h.01M598.7 108h.01M598.9 102.2h.01M599.1 105h.01M599.3 101.7h.01M599.5 103.3h.01M599.7 104.1h.01M599.9 92.2h.01M600 102.5h.01M600.2 107.1h.01M600.4 93.6h.01M600.6 96.4h.01M600.8 110.3h.01M601 100h.01M601.1 96.3h.01M601.3 101.4h.01M601.5 105.3h.01M601.7 94.9h.01M601.9 101.9h.01M602.1 106.4h.01M602.3 94.2h.01M602.4 96.5h.01M602.6 98.7h.01M602.8 107.3h.01M603 90.9h.01M603.2 105.1h.01M603.4 95.1h.01M603.5 97.8h.01M603.7 93h.01M603.9 107.5h.01M604.1 102.1h.01M604.3 106h.01M604.5 90.9h.01M604.7 99h.01M604.8 93.4h.01M605 92.1h.01M605.2 96.4h.01M605.4 99.4h.01M605.6 97.6h.01M605.8 95.2h.01M605.9 104.2h.01M606.1 110h.01M606.3 89.6h.01M606.5 98.5h.01M606.7 102.5h.01M606.9 109.5h.01M607.1 97.7h.01M607.2 102.6h.01M607.4 94.3h.01M607.6 99.6h.01M607.8 93h.01M608 107.5h.01M608.2 107.8h.01M608.3 92.7h.01M608.5 92h.01M608.7 107.7h.01M608.9 95.8h.01M609.1 96.4h.01M609.3 104.3h.01M609.5 101.7h.01M609.6 105.8h.01M609.8 105h.01M610 107h.01M610.2 94.5h.01M610.4 101.4h.01M610.6 109.2h.01M610.7 106.7h.01M610.9 104.4h.01M611.1 96.8h.01M611.3 106.4h.01M611.5 91.7h.01M611.7 88.9h.01M611.9 90.5h.01M612 96.3h.01M612.2 90.2h.01M612.4 89.2h.01M612.6 104.7h.01M612.8 97.2h.01M613 93.3h.01M613.1 106.8h.01M613.3 102.3h.01M613.5 92.2h.01M613.7 99.8h.01M613.9 99.2h.01M614.1 100.1h.01M614.3 104.7h.01M614.4 93.4h.01M614.6 95.3h.01M614.8 100.7h.01M615 92.1h.01M615.2 101.8h.01M615.4 100.7h.01M615.5 95.2h.01M615.7 102h.01M615.9 92.7h.01M616.1 92.9h.01M616.3 96.8h.01M616.5 85h.01M616.7 95h.01M616.8 87.4h.01M617 86.7h.01M617.2 92.8h.01M617.4 90h.01M617.6 85.6h.01M617.8 91.8h.01M617.9 98.6h.01M618.1 99.6h.01M618.3 102h.01M618.5 88h.01M618.7 90.8h.01M618.9 102.2h.01M619.1 96.7h.01M619.2 93.1h.01M619.4 98.8h.01M619.6 99.4h.01M619.8 92.6h.01M620 93h.01M620.2 82.6h.01M620.3 86.8h.01M620.5 79.1h.01M620.7 88.4h.01M620.9 86.7h.01M621.1 86.2h.01M621.3 80.5h.01M621.5 82.4h.01M621.6 92.2h.01M621.8 87.5h.01M622 77.1h.01M622.2 80.7h.01M622.4 82.6h.01M622.6 87.9h.01M622.8 87.7h.01M622.9 84.6h.01M623.1 91h.01M623.3 86.3h.01M623.5 84.1h.01M623.7 92.2h.01M623.9 80.4h.01M624 87.3h.01M624.2 82.7h.01M624.4 85.4h.01M624.6 87.1h.01M624.8 88.9h.01M625 84.2h.01M625.2 82.4h.01M625.3 77.1h.01M625.5 77.8h.01M625.7 78.3h.01M625.9 79.6h.01M626.1 78.3h.01M626.3 89.4h.01M626.4 74.9h.01M626.6 83.2h.01M626.8 81h.01M627 76h.01M627.2 78.6h.01M627.4 75.4h.01M627.6 86.3h.01M627.7 79.2h.01M627.9 85.5h.01M628.1 80.2h.01M628.3 81.8h.01M628.5 81.7h.01M628.7 74.4h.01M628.8 74.8h.01M629 76.8h.01M629.2 78.6h.01M629.4 79.5h.01M629.6 82.1h.01M629.8 76.6h.01M630 78.1h.01M630.1 76.1h.01M630.3 83.4h.01M630.5 87.9h.01M630.7 82.6h.01M630.9 81.2h.01M631.1 82.4h.01M631.2 83.2h.01M631.4 82.2h.01M631.6 76.4h.01M631.8 82.7h.01M632 82.1h.01M632.2 78.8h.01M632.4 81.6h.01M632.5 75.2h.01M632.7 75.3h.01M632.9 79.1h.01M633.1 82.3h.01M633.3 85.5h.01M633.5 75.8h.01M633.6 80.2h.01M633.8 81.3h.01M634 78.6h.01M634.2 74.8h.01M634.4 74.9h.01M634.6 74.9h.01M634.8 74.5h.01M634.9 83.5h.01M635.1 78.9h.01M635.3 79.2h.01M635.5 74.6h.01M635.7 76.1h.01M635.9 82h.01M636 88.2h.01M636.2 78.1h.01M636.4 84.1h.01M636.6 74.5h.01M636.8 83.1h.01M637 81.7h.01M637.2 80.5h.01M637.3 79.6h.01M637.5 81.9h.01M637.7 81.3h.01M637.9 79.1h.01M638.1 83.4h.01M638.3 79.9h.01M638.4 82.2h.01M638.6 85h.01M638.8 91.2h.01M639 89.9h.01M639.2 94.9h.01M639.4 98.9h.01M639.6 106.9h.01M639.7 100.8h.01M639.9 97.2h.01M640.1 97.7h.01M640.3 104.4h.01M640.5 102.7h.01M640.7 101.8h.01M640.8 107.5h.01M641 84.6h.01M641.2 96.6h.01M641.4 102.5h.01M641.6 104.9h.01M641.8 100.3h.01M642 100.9h.01M642.1 103.9h.01M642.3 96.4h.01M642.5 93.4h.01M642.7 102.8h.01M642.9 108.1h.01M643.1 107.7h.01M643.2 98h.01M643.4 103h.01M643.6 100.7h.01M643.8 94.9h.01M644 100.6h.01M644.2 95.7h.01M644.4 97.4h.01M644.5 104.6h.01M644.7 93.6h.01M644.9 101.3h.01M645.1 106.9h.01M645.3 107.7h.01M645.5 110.4h.01M645.6 105.6h.01M645.8 102.2h.01M646 93.8h.01M646.2 107.6h.01M646.4 101.8h.01M646.6 101.5h.01M646.8 98.8h.01M646.9 107.8h.01M647.1 105.5h.01M647.3 92.9h.01M647.5 104h.01M647.7 97.6h.01M647.9 97.6h.01M648 99.6h.01M648.2 98.5h.01M648.4 89.3h.01M648.6 92.1h.01M648.8 88.6h.01M649 82.9h.01M649.2 100.2h.01M649.3 95.9h.01M649.5 95.4h.01M649.7 101.8h.01M649.9 94.8h.01M650.1 94.1h.01M650.3 94.9h.01M650.4 98.3h.01M650.6 93.5h.01M650.8 103.5h.01M651 90h.01M651.2 85.3h.01M651.4 92.1h.01M651.6 94.4h.01M651.7 83.2h.01M651.9 98.4h.01M652.1 94.5h.01M652.3 95.4h.01M652.5 101h.01M652.7 95.5h.01M652.9 98.2h.01M653 98.3h.01M653.2 98.8h.01M653.4 106.8h.01M653.6 99.9h.01M653.8 102.7h.01M654 105.3h.01M654.1 110.9h.01M654.3 98.6h.01M654.5 97.4h.01M654.7 108.8h.01M654.9 107.1h.01M655.1 97.4h.01M655.3 101.4h.01M655.4 102.8h.01M655.6 100.9h.01M655.8 101.9h.01M656 114.4h.01M656.2 110.9h.01M656.4 102.5h.01M656.5 98.9h.01M656.7 110.7h.01M656.9 107.3h.01M657.1 107.2h.01M657.3 103.7h.01M657.5 120h.01M657.7 101.7h.01M657.8 114h.01M658 104.8h.01M658.2 108.8h.01M658.4 106h.01M658.6 110.3h.01M658.8 104.5h.01M658.9 105.6h.01M659.1 112.8h.01M659.3 105.3h.01M659.5 109.3h.01M659.7 104.9h.01M659.9 110.3h.01M660.1 101.2h.01M660.2 114.4h.01M660.4 114.6h.01M660.6 104.3h.01M660.8 104.7h.01M661 100.4h.01M661.2 105.1h.01M661.3 101.9h.01M661.5 101.6h.01M661.7 108h.01M661.9 120.5h.01M662.1 103.8h.01M662.3 113.3h.01M662.5 111.4h.01M662.6 104.4h.01M662.8 108.4h.01M663 95.6h.01M663.2 99.1h.01M663.4 95.6h.01M663.6 94.8h.01M663.7 96.2h.01M663.9 100.4h.01M664.1 103.9h.01M664.3 97.8h.01M664.5 100.5h.01M664.7 96.2h.01M664.9 105.1h.01M665 86h.01M665.2 110.1h.01M665.4 105.7h.01M665.6 106.2h.01M665.8 108h.01M666 98h.01M666.1 105.6h.01M666.3 108.4h.01M666.5 110h.01M666.7 100.3h.01M666.9 96.1h.01M667.1 106.5h.01M667.3 101.4h.01M667.4 97h.01M667.6 92.9h.01M667.8 104.3h.01M668 100.3h.01M668.2 94.7h.01M668.4 107.9h.01M668.5 92.7h.01M668.7 101.9h.01M668.9 95.8h.01M669.1 102.2h.01M669.3 106.8h.01M669.5 99.3h.01M669.7 99.6h.01M669.8 95.3h.01M670 102.3h.01M670.2 98.7h.01M670.4 107.9h.01M670.6 103.4h.01M670.8 100.9h.01M670.9 108.9h.01M671.1 96.6h.01M671.3 98.3h.01M671.5 101.8h.01M671.7 98.4h.01M671.9 106.2h.01M672.1 111h.01M672.2 100.9h.01M672.4 102.7h.01M672.6 101.4h.01M672.8 106.2h.01M673 95.6h.01M673.2 101h.01M673.3 102.7h.01M673.5 92.4h.01M673.7 97.6h.01M673.9 95.6h.01M674.1 98.4h.01M674.3 100h.01M674.5 100.8h.01M674.6 105.3h.01M674.8 99.5h.01M675 94.2h.01M675.2 104.1h.01M675.4 100.4h.01M675.6 101.2h.01M675.7 93.4h.01M675.9 90.3h.01M676.1 102.1h.01M676.3 99.8h.01M676.5 95.5h.01M676.7 97.8h.01M676.9 101.4h.01M677 99.9h.01M677.2 96.5h.01M677.4 95.5h.01M677.6 92.3h.01M677.8 96.7h.01M678 100.5h.01M678.1 91.5h.01M678.3 101.3h.01M678.5 97.7h.01M678.7 92h.01M678.9 94.4h.01M679.1 97.9h.01M679.3 93.5h.01M679.4 95.1h.01M679.6 102.7h.01M679.8 94.4h.01M680 91.9h.01M680.2 100.6h.01M680.4 104.4h.01M680.5 89h.01M680.7 88.2h.01M680.9 98.6h.01M681.1 94.1h.01M681.3 99.5h.01M681.5 98h.01M681.7 82h.01M681.8 77.3h.01M682 75.6h.01M682.2 77.3h.01M682.4 76.4h.01M682.6 80h.01M682.8 74.4h.01M683 85.3h.01M683.1 79h.01M683.3 80.7h.01M683.5 81.3h.01M683.7 80.5h.01M683.9 76.8h.01M684.1 74.4h.01M684.2 82.1h.01M684.4 75.8h.01M684.6 79.4h.01M684.8 75.9h.01M685 75.1h.01M685.2 76.7h.01M685.4 80h.01M685.5 83.8h.01M685.7 77.2h.01M685.9 75.7h.01M686.1 82.4h.01M686.3 79.6h.01M686.5 76h.01M686.6 84.9h.01M686.8 76.6h.01M687 75.8h.01M687.2 76.2h.01M687.4 75.6h.01M687.6 80.7h.01M687.8 75.9h.01M687.9 80.8h.01M688.1 74.5h.01M688.3 84.9h.01M688.5 75.1h.01M688.7 82.4h.01M688.9 76h.01M689 80.8h.01M689.2 75.4h.01M689.4 82.4h.01M689.6 75.9h.01M689.8 78.8h.01M690 77.2h.01M690.2 74.5h.01M690.3 75.6h.01M690.5 75.6h.01M690.7 75h.01M690.9 76h.01M691.1 82h.01M691.3 78.5h.01M691.4 78.9h.01M691.6 75.5h.01M691.8 75.6h.01M692 75.9h.01M692.2 83.5h.01M692.4 85.3h.01M692.6 76h.01M692.7 74.4h.01M692.9 82.5h.01M693.1 74.7h.01M693.3 76.9h.01M693.5 76.5h.01M693.7 79.7h.01M693.8 81.8h.01M694 83.5h.01M694.2 77.8h.01M694.4 82.5h.01M694.6 75.5h.01M694.8 74.6h.01M695 82.2h.01M695.1 85.6h.01M695.3 84.9h.01M695.5 85.1h.01M695.7 77.6h.01M695.9 85.3h.01M696.1 78.5h.01M696.2 86.2h.01M696.4 86.2h.01M696.6 81h.01M696.8 84.5h.01M697 77.9h.01M697.2 78.9h.01M697.4 87h.01M697.5 86.4h.01M697.7 91.1h.01M697.9 80.4h.01M698.1 86.6h.01M698.3 91.3h.01M698.5 89.2h.01M698.6 87.9h.01M698.8 90.9h.01M699 90h.01M699.2 93.5h.01M699.4 96.1h.01M699.6 94.5h.01M699.8 95.8h.01M699.9 84.2h.01M700.1 90.3h.01M700.3 93.4h.01M700.5 100.2h.01M700.7 90.8h.01M700.9 87.7h.01M701 88.5h.01M701.2 102.3h.01M701.4 100.8h.01M701.6 87.5h.01M701.8 90.7h.01M702 80.6h.01M702.2 101.6h.01M702.3 97.4h.01M702.5 102.5h.01M702.7 80.4h.01M702.9 102.6h.01M703.1 94.1h.01M703.3 94.3h.01M703.4 101.3h.01M703.6 93.1h.01M703.8 106.3h.01M704 95.4h.01M704.2 98h.01M704.4 101.7h.01M704.6 92.1h.01M704.7 103.1h.01M704.9 96.2h.01M705.1 101.4h.01M705.3 97.8h.01M705.5 102.2h.01M705.7 96.6h.01M705.8 102.3h.01M706 112h.01M706.2 107.1h.01M706.4 98.1h.01M706.6 101h.01M706.8 100.2h.01M707 98.5h.01M707.1 107.9h.01M707.3 108.1h.01M707.5 109.5h.01M707.7 106.8h.01M707.9 109.2h.01M708.1 109.6h.01M708.2 102.8h.01M708.4 110.2h.01M708.6 104.5h.01M708.8 110h.01M709 113h.01M709.2 89.5h.01M709.4 104.4h.01M709.5 110.3h.01M709.7 99.7h.01M709.9 106.8h.01M710.1 98.8h.01M710.3 119h.01M710.5 104.6h.01M710.7 111.7h.01M710.8 100.6h.01M711 98.5h.01M711.2 110.7h.01M711.4 102.8h.01M711.6 109.1h.01M711.8 97.2h.01M711.9 110.1h.01M712.1 101.4h.01M712.3 108h.01M712.5 98.7h.01M712.7 102.8h.01M712.9 109.6h.01M713.1 109.7h.01M713.2 100h.01M713.4 100.7h.01M713.6 98.9h.01M713.8 100.6h.01M714 101.4h.01M714.2 98.7h.01M714.3 112.4h.01M714.5 102.3h.01M714.7 98.7h.01M714.9 100h.01M715.1 101.2h.01M715.3 113.5h.01M715.5 103.1h.01M715.6 96.2h.01M715.8 93h.01M716 102.8h.01M716.2 94.8h.01M716.4 109.9h.01M716.6 105.2h.01M716.7 95.9h.01M716.9 94.3h.01M717.1 105h.01M717.3 104.4h.01M717.5 114.5h.01M717.7 98.6h.01M717.9 102.6h.01M718 108h.01M718.2 107.7h.01M718.4 99.2h.01M718.6 107.4h.01M718.8 107.7h.01M719 97.7h.01M719.1 109.8h.01M719.3 105.3h.01M719.5 101.9h.01M719.7 98.6h.01M719.9 97.4h.01M720.1 100.5h.01M720.3 103.2h.01M720.4 95.8h.01M720.6 110.6h.01M720.8 109.2h.01M721 96.8h.01M721.2 104.5h.01M721.4 106.3h.01M721.5 99.6h.01M721.7 101.4h.01M721.9 98.9h.01M722.1 106.7h.01M722.3 97.3h.01M722.5 96.7h.01M722.7 102.5h.01M722.8 104.6h.01M723 100.1h.01M723.2 100.2h.01M723.4 98.8h.01M723.6 98.9h.01M723.8 105.7h.01M723.9 100.7h.01M724.1 92.7h.01M724.3 104.6h.01M724.5 98.3h.01M724.7 101h.01M724.9 101h.01M725.1 98.3h.01M725.2 103.3h.01M725.4 101.2h.01M725.6 101.8h.01M725.8 104.6h.01M726 93.3h.01M726.2 90.7h.01M726.3 91.6h.01M726.5 93.6h.01M726.7 107.7h.01M726.9 98.5h.01M727.1 87.4h.01M727.3 94.6h.01M727.5 90.1h.01M727.6 97.9h.01M727.8 94.8h.01M728 92.5h.01M728.2 97h.01M728.4 91.8h.01M728.6 97.2h.01M728.7 103.7h.01M728.9 92h.01M729.1 86.5h.01M729.3 101.5h.01M729.5 106h.01M729.7 96.4h.01M729.9 97h.01M730 93.6h.01M730.2 98.1h.01M730.4 92.7h.01M730.6 106.8h.01M730.8 83.9h.01M731 104.9h.01M731.1 100.5h.01M731.3 92.2h.01M731.5 96.6h.01M731.7 97.3h.01M731.9 95.3h.01M732.1 86.8h.01M732.3 99.2h.01M732.4 106.2h.01M732.6 97.3h.01M732.8 96.4h.01M733 100.1h.01M733.2 109.1h.01M733.4 109.4h.01M733.5 110.3h.01M733.7 109h.01M733.9 104.8h.01M734.1 109.3h.01M734.3 110.8h.01M734.5 107.1h.01M734.7 105.8h.01M734.8 106.9h.01M735 102.6h.01M735.2 104.8h.01M735.4 107.7h.01M735.6 95.5h.01M735.8 108.3h.01M735.9 103.7h.01M736.1 110.6h.01M736.3 103.6h.01M736.5 112.8h.01M736.7 107h.01M736.9 105.9h.01M737.1 113h.01M737.2 103.7h.01M737.4 114.8h.01M737.6 108.1h.01M737.8 107.4h.01M738 102.6h.01M738.2 114.6h.01M738.3 113.7h.01M738.5 113.1h.01M738.7 113.6h.01M738.9 108.3h.01M739.1 109.6h.01M739.3 104.8h.01M739.5 107.4h.01M739.6 103.2h.01M739.8 108h.01M740 105.1h.01M740.2 106.3h.01M740.4 110.2h.01M740.6 101.4h.01M740.8 99h.01M740.9 101.7h.01M741.1 102h.01M741.3 104.4h.01M741.5 99.2h.01M741.7 100.9h.01M741.9 106.5h.01M742 95.6h.01M742.2 109.9h.01M742.4 96h.01M742.6 92.2h.01M742.8 94.9h.01M743 97.3h.01M743.2 106.2h.01M743.3 92.1h.01M743.5 104.5h.01M743.7 91.3h.01M743.9 109.4h.01M744.1 97.8h.01M744.3 104.9h.01M744.4 91.9h.01M744.6 91.4h.01M744.8 92.7h.01M745 96.3h.01M745.2 98.3h.01M745.4 91.6h.01M745.6 90.4h.01M745.7 106.9h.01M745.9 95.4h.01M746.1 96h.01M746.3 102.6h.01M746.5 103.8h.01M746.7 86.7h.01M746.8 89.7h.01M747 96.5h.01M747.2 100.7h.01M747.4 92.8h.01M747.6 98.1h.01M747.8 91.9h.01M748 94.7h.01M748.1 99.3h.01M748.3 93.2h.01M748.5 91.5h.01M748.7 95.7h.01M748.9 95.7h.01M749.1 87.8h.01M749.2 95.8h.01M749.4 101.2h.01M749.6 95.6h.01M749.8 90.7h.01M750 91.8h.01M750.2 86.6h.01M750.4 93.2h.01M750.5 101.7h.01M750.7 93.9h.01M750.9 87.9h.01M751.1 84h.01M751.3 87.5h.01M751.5 86h.01M751.6 77.3h.01M751.8 87h.01M752 83h.01M752.2 83.5h.01M752.4 75.5h.01M752.6 78.6h.01M752.8 82.2h.01M752.9 81.8h.01M753.1 79.9h.01M753.3 83.7h.01M753.5 77.5h.01M753.7 86.9h.01M753.9 83.7h.01M754 83.7h.01M754.2 76.9h.01M754.4 75.9h.01M754.6 76.9h.01M754.8 75h.01M755 80.7h.01M755.2 78.1h.01M755.3 78.3h.01M755.5 78.4h.01M755.7 79.9h.01M755.9 84.3h.01M756.1 78.8h.01M756.3 82h.01M756.4 74.6h.01M756.6 81h.01M756.8 76.6h.01M757 82.1h.01M757.2 82.7h.01M757.4 80.6h.01M757.6 83.4h.01M757.7 74.6h.01M757.9 78.7h.01M758.1 81.4h.01M758.3 78.2h.01M758.5 83h.01M758.7 83.9h.01M758.8 78.5h.01M759 76.2h.01M759.2 82.5h.01M759.4 76h.01M759.6 85h.01M759.8 80.1h.01M760 83h.01M760.1 89.5h.01M760.3 86.2h.01M760.5 76.6h.01M760.7 81.8h.01M760.9 79.6h.01M761.1 74.4h.01M761.2 84.9h.01M761.4 74.9h.01M761.6 79.6h.01M761.8 88.2h.01M762 87.1h.01M762.2 80.7h.01M762.4 99.6h.01M762.5 103.4h.01M762.7 113.6h.01M762.9 111.6h.01M763.1 98.9h.01M763.3 97h.01M763.5 109.9h.01M763.6 107.7h.01M763.8 102.8h.01M764 97h.01M764.2 114.1h.01M764.4 103.6h.01M764.6 111.3h.01M764.8 99.4h.01M764.9 107h.01M765.1 105.6h.01M765.3 96.1h.01M765.5 108.7h.01M765.7 101.4h.01M765.9 101.5h.01M766 103.5h.01M766.2 104.2h.01M766.4 103.1h.01M766.6 105.6h.01M766.8 105h.01M767 106.9h.01M767.2 102.4h.01M767.3 103.6h.01M767.5 113.8h.01M767.7 96.3h.01M767.9 101.9h.01M768.1 108.2h.01M768.3 110.3h.01M768.5 108.3h.01M768.6 104.8h.01M768.8 109.8h.01M769 104.1h.01M769.2 96.6h.01M769.4 112.4h.01M769.6 93.9h.01M769.7 106.8h.01M769.9 98.8h.01M770.1 109.8h.01M770.3 108h.01M770.5 106.1h.01M770.7 110.2h.01M770.9 104.4h.01M771 108.4h.01M771.2 105.3h.01M771.4 110.9h.01M771.6 107.8h.01M771.8 112.8h.01M772 103.1h.01M772.1 98.9h.01M772.3 104.9h.01M772.5 97.8h.01M772.7 109.8h.01M772.9 105.7h.01M773.1 104h.01M773.3 108h.01M773.4 103.4h.01M773.6 96.3h.01M773.8 107.7h.01M774 102.7h.01M774.2 102.7h.01M774.4 99.7h.01M774.5 110.7h.01M774.7 104.1h.01M774.9 104.4h.01M775.1 95.3h.01M775.3 106.6h.01M775.5 102.8h.01M775.7 96.6h.01M775.8 110.9h.01M776 109.7h.01M776.2 107.6h.01M776.4 97.8h.01M776.6 101.6h.01M776.8 102.1h.01M776.9 97.8h.01M777.1 98.8h.01M777.3 104.7h.01M777.5 101.5h.01M777.7 100.4h.01M777.9 108.6h.01M778.1 99.5h.01M778.2 102.8h.01M778.4 107.3h.01M778.6 98.7h.01M778.8 114.3h.01M779 104.2h.01M779.2 104.1h.01M779.3 112.9h.01M779.5 102.5h.01M779.7 109.9h.01M779.9 102.8h.01M780.1 103.6h.01M780.3 110.5h.01M780.5 102.7h.01M780.6 99.5h.01M780.8 97.9h.01M781 104.7h.01M781.2 120.6h.01M781.4 106.4h.01M781.6 100.1h.01M781.7 105.9h.01M781.9 113.1h.01M782.1 97.7h.01M782.3 101.5h.01M782.5 108.5h.01M782.7 102.4h.01M782.9 104.3h.01M783 110h.01M783.2 104.7h.01M783.4 100.6h.01M783.6 103.2h.01M783.8 102h.01M784 98h.01M784.1 100.5h.01M784.3 100.7h.01M784.5 101.7h.01M784.7 99.9h.01M784.9 117.3h.01M785.1 99.5h.01M785.3 101.3h.01M785.4 111.8h.01M785.6 116h.01M785.8 106.4h.01M786 108.2h.01M786.2 114.3h.01M786.4 116.4h.01M786.5 108h.01M786.7 106.2h.01M786.9 101.7h.01M787.1 103.7h.01M787.3 105.7h.01M787.5 104.4h.01M787.7 113.3h.01M787.8 101.3h.01M788 115h.01M788.2 115.6h.01M788.4 104.5h.01M788.6 102.6h.01M788.8 111.5h.01M788.9 103.4h.01M789.1 106.8h.01M789.3 113.2h.01M789.5 111.8h.01M789.7 105.8h.01M789.9 112.8h.01M790.1 111.9h.01M790.2 109.8h.01M790.4 110.1h.01M790.6 112h.01M790.8 117h.01M791 107.9h.01M791.2 103.6h.01M791.3 113.8h.01M791.5 118.9h.01M791.7 115.3h.01M791.9 110.4h.01M792.1 110.5h.01M792.3 104.1h.01M792.5 114.7h.01M792.6 103.8h.01M792.8 107.1h.01M793 115.2h.01M793.2 117.1h.01M793.4 109h.01M793.6 103.9h.01M793.7 113.1h.01M793.9 109.2h.01M794.1 108.7h.01M794.3 106.1h.01M794.5 113.1h.01M794.7 107.2h.01M794.9 112.9h.01M795 112.6h.01M795.2 108.7h.01M795.4 119.6h.01M795.6 108.5h.01M795.8 113.9h.01M796 120.9h.01M796.1 113.5h.01M796.3 108.8h.01M796.5 108.6h.01M796.7 114.5h.01M796.9 105h.01M797.1 111.2h.01M797.3 108.5h.01M797.4 122.5h.01M797.6 107.1h.01M797.8 121.4h.01M798 120.4h.01M798.2 110.6h.01M798.4 120.1h.01M798.6 119h.01M798.7 119.9h.01M798.9 120.3h.01M799.1 103.3h.01M799.3 111h.01M799.5 122h.01M799.7 118.3h.01M799.8 116.6h.01M800 110.3h.01M800.2 110.1h.01M800.4 107h.01M800.6 105.9h.01M800.8 116.5h.01M801 116.9h.01M801.1 112.7h.01M801.3 116.6h.01M801.5 108.8h.01M801.7 108.8h.01M801.9 118.7h.01M802.1 118.1h.01M802.2 105h.01M802.4 107.6h.01M802.6 110.6h.01M802.8 103.9h.01M803 116.3h.01M803.2 111.1h.01M803.4 112h.01M803.5 115h.01M803.7 107.4h.01M803.9 99.9h.01M804.1 105.7h.01M804.3 104.7h.01M804.5 114.5h.01M804.6 116.4h.01M804.8 111.9h.01M805 102.7h.01M805.2 113.1h.01M805.4 112.9h.01M805.6 101.4h.01M805.8 99.4h.01M805.9 113.9h.01M806.1 102.7h.01M806.3 110.9h.01M806.5 98.7h.01M806.7 94.8h.01M806.9 107.7h.01M807 113.4h.01M807.2 110.1h.01M807.4 111.7h.01M807.6 99.8h.01M807.8 108.5h.01M808 92.7h.01M808.2 91.7h.01M808.3 97.4h.01M808.5 88.5h.01M808.7 90.4h.01M808.9 87.4h.01M809.1 79.7h.01M809.3 77.6h.01M809.4 83.4h.01M809.6 82.4h.01M809.8 81.4h.01M810 82.6h.01M810.2 80.9h.01M810.4 89.3h.01M810.6 78.8h.01M810.7 86.5h.01M810.9 77.8h.01M811.1 78.2h.01M811.3 79.5h.01M811.5 86.4h.01M811.7 82.5h.01M811.8 79h.01M812 85h.01M812.2 83.8h.01M812.4 88.5h.01M812.6 82.6h.01M812.8 84h.01M813 85.2h.01M813.1 77.2h.01M813.3 75.2h.01M813.5 74.4h.01M813.7 81.4h.01M813.9 75.9h.01M814.1 86.5h.01M814.2 80.4h.01M814.4 77.9h.01M814.6 85.6h.01M814.8 80.2h.01M815 78.6h.01M815.2 75.4h.01M815.4 80.2h.01M815.5 81.4h.01M815.7 75.5h.01M815.9 75.1h.01M816.1 75.5h.01M816.3 85.6h.01M816.5 76h.01M816.6 82.1h.01M816.8 85.8h.01M817 77.7h.01M817.2 87.2h.01M817.4 79.8h.01M817.6 83.7h.01M817.8 85.6h.01M817.9 88.2h.01M818.1 84.1h.01M818.3 76.8h.01M818.5 78.5h.01M818.7 88h.01M818.9 81.8h.01M819 88.1h.01M819.2 78.7h.01M819.4 89.7h.01M819.6 88.6h.01M819.8 82.4h.01M820 86.1h.01M820.2 81.2h.01M820.3 92h.01M820.5 90h.01M820.7 76.1h.01M820.9 79.5h.01M821.1 76.4h.01M821.3 80.6h.01M821.4 78.5h.01M821.6 80.5h.01M821.8 91.7h.01M822 92.4h.01M822.2 104.6h.01M822.4 114.8h.01M822.6 101.2h.01M822.7 105.6h.01M822.9 109.1h.01M823.1 105.8h.01M823.3 110.2h.01M823.5 105.7h.01M823.7 106.7h.01M823.8 103.3h.01M824 112.7h.01M824.2 114h.01M824.4 106.6h.01M824.6 103.2h.01M824.8 106.5h.01M825 114.7h.01M825.1 111.4h.01M825.3 109.6h.01M825.5 110.5h.01M825.7 119.1h.01M825.9 115.5h.01M826.1 113.4h.01M826.2 113.8h.01M826.4 105.3h.01M826.6 106.3h.01M826.8 111.3h.01M827 110.3h.01M827.2 112.7h.01M827.4 106.4h.01M827.5 119.1h.01M827.7 110.1h.01M827.9 107.1h.01M828.1 115.2h.01M828.3 112.4h.01M828.5 122h.01M828.7 121.6h.01M828.8 111h.01M829 115.3h.01M829.2 94.9h.01M829.4 115.7h.01M829.6 112.7h.01M829.8 106.4h.01M829.9 120.7h.01M830.1 116.9h.01M830.3 117h.01M830.5 113.7h.01M830.7 101.8h.01M830.9 110.8h.01M831.1 111.2h.01M831.2 105.6h.01M831.4 118.4h.01M831.6 113.6h.01M831.8 108h.01M832 111.1h.01M832.2 112.3h.01M832.3 119.1h.01M832.5 115.1h.01M832.7 106.8h.01M832.9 107.7h.01M833.1 114.5h.01M833.3 121.1h.01M833.5 114h.01M833.6 118.3h.01M833.8 114.2h.01M834 116h.01M834.2 113.1h.01M834.4 105h.01M834.6 113.8h.01M834.7 116.9h.01M834.9 112.1h.01M835.1 107.2h.01M835.3 117.9h.01M835.5 114.2h.01M835.7 115.1h.01M835.9 112.5h.01M836 113.4h.01M836.2 109.7h.01M836.4 114.7h.01M836.6 104.8h.01M836.8 111.5h.01M837 102.3h.01M837.1 113.7h.01M837.3 104.6h.01M837.5 110.8h.01M837.7 105.8h.01M837.9 103.6h.01M838.1 109.4h.01M838.3 104.7h.01M838.4 116.1h.01M838.6 109.4h.01M838.8 111h.01M839 114h.01M839.2 109.5h.01M839.4 111h.01M839.5 113h.01M839.7 103.2h.01M839.9 113h.01M840.1 107.7h.01M840.3 104.7h.01M840.5 100.2h.01M840.7 116.6h.01M840.8 95.1h.01M841 110.4h.01M841.2 109.1h.01M841.4 110.7h.01M841.6 112.5h.01M841.8 97.9h.01M841.9 109.4h.01M842.1 111.1h.01M842.3 114.4h.01M842.5 115.3h.01M842.7 102.6h.01M842.9 96.1h.01M843.1 101.8h.01M843.2 119h.01M843.4 105.6h.01M843.6 102.4h.01M843.8 109.6h.01M844 117h.01M844.2 108.3h.01M844.3 99.9h.01M844.5 103.5h.01M844.7 104.3h.01M844.9 111.2h.01M845.1 113.8h.01M845.3 107.6h.01M845.5 113.4h.01M845.6 111.2h.01M845.8 106.3h.01M846 117.5h.01M846.2 110h.01M846.4 101.3h.01M846.6 109.5h.01M846.7 105.2h.01M846.9 107h.01M847.1 115.1h.01M847.3 121.4h.01M847.5 103h.01M847.7 106h.01M847.9 112.4h.01M848 104.5h.01M848.2 114.4h.01M848.4 111.5h.01M848.6 108.8h.01M848.8 112.1h.01M849 107.1h.01M849.1 102.4h.01M849.3 115.3h.01M849.5 112.9h.01M849.7 101.3h.01M849.9 114h.01M850.1 102.7h.01M850.3 108h.01M850.4 115.8h.01M850.6 109.6h.01M850.8 111.4h.01M851 119.7h.01M851.2 113.9h.01M851.4 105.5h.01M851.5 103.7h.01M851.7 106.1h.01M851.9 104.3h.01M852.1 106.2h.01M852.3 116.5h.01M852.5 110.1h.01M852.7 98.9h.01M852.8 101h.01M853 115.9h.01M853.2 109.8h.01M853.4 105.1h.01M853.6 104.3h.01M853.8 104.7h.01M853.9 114h.01M854.1 108.8h.01M854.3 108.9h.01M854.5 110.7h.01M854.7 105.6h.01M854.9 104h.01M855.1 106.1h.01M855.2 106.6h.01M855.4 101.4h.01M855.6 110.5h.01M855.8 105.3h.01M856 113.4h.01M856.2 112h.01M856.4 103.9h.01M856.5 114.9h.01M856.7 113.1h.01M856.9 108.3h.01M857.1 106.4h.01M857.3 102.4h.01M857.5 107.1h.01M857.6 102.7h.01M857.8 100.4h.01M858 105.4h.01M858.2 99h.01M858.4 106.2h.01M858.6 109.3h.01M858.8 103.2h.01M858.9 103.3h.01M859.1 111.2h.01M859.3 101.9h.01M859.5 105.7h.01M859.7 100h.01M859.9 114h.01M860 106.5h.01M860.2 110.5h.01M860.4 114h.01M860.6 114.4h.01M860.8 105.8h.01M861 115.2h.01M861.2 104.9h.01M861.3 101h.01M861.5 101.6h.01M861.7 106.5h.01M861.9 104.3h.01M862.1 105.7h.01M862.3 103h.01M862.4 95.3h.01M862.6 101.4h.01M862.8 104.2h.01M863 104h.01M863.2 113.5h.01M863.4 107.4h.01M863.6 113.8h.01M863.7 100.6h.01M863.9 102.5h.01M864.1 105.5h.01M864.3 113.2h.01M864.5 105.7h.01M864.7 110.3h.01M864.8 105h.01M865 108.7h.01M865.2 99.9h.01M865.4 107.6h.01M865.6 112.1h.01M865.8 107.6h.01M866 102.4h.01M866.1 109.5h.01M866.3 109.6h.01M866.5 110.3h.01M866.7 108.1h.01M866.9 97.1h.01M867.1 100.2h.01M867.2 102.5h.01M867.4 101.4h.01M867.6 112.2h.01M867.8 98.4h.01M868 98.4h.01M868.2 108.8h.01M868.4 99.8h.01M868.5 98.5h.01M868.7 103.7h.01M868.9 104.3h.01M869.1 105.1h.01M869.3 93h.01M869.5 106.7h.01M869.6 102.1h.01M869.8 103.9h.01M870 96.8h.01M870.2 91.7h.01M870.4 98.8h.01M870.6 96.3h.01M870.8 83.1h.01M870.9 80.2h.01M871.1 86.2h.01M871.3 87.9h.01M871.5 83.4h.01M871.7 82.3h.01M871.9 89h.01M872 83h.01M872.2 82.6h.01M872.4 81.2h.01M872.6 84.2h.01M872.8 91.2h.01M873 80.2h.01M873.2 85.9h.01M873.3 93.2h.01M873.5 80.8h.01M873.7 88.7h.01M873.9 83h.01M874.1 86.2h.01M874.3 89.2h.01M874.4 86.7h.01M874.6 91h.01M874.8 77.8h.01M875 85.2h.01M875.2 84.2h.01M875.4 86.7h.01M875.6 88.4h.01M875.7 81.5h.01M875.9 90.4h.01M876.1 85h.01M876.3 82.8h.01M876.5 83.9h.01M876.7 90.2h.01M876.8 79.4h.01M877 82.1h.01M877.2 82.8h.01M877.4 85.6h.01M877.6 90.3h.01M877.8 86.1h.01M878 77.7h.01M878.1 79.7h.01M878.3 84.1h.01M878.5 88.9h.01M878.7 82.3h.01M878.9 81.5h.01M879.1 81.7h.01M879.2 88.2h.01M879.4 89.3h.01M879.6 91.5h.01M879.8 86.1h.01M880 95.7h.01M880.2 97.6h.01M880.4 87.2h.01M880.5 98h.01M880.7 86h.01M880.9 97.6h.01M881.1 99.9h.01M881.3 101.9h.01M881.5 98.2h.01M881.6 91.1h.01M881.8 97.4h.01M882 93.2h.01M882.2 93.7h.01M882.4 104.5h.01M882.6 101.6h.01M882.8 96.9h.01M882.9 95.4h.01M883.1 101.7h.01M883.3 97.7h.01M883.5 109.2h.01M883.7 110.4h.01M883.9 100.5h.01M884 100.7h.01M884.2 98.4h.01M884.4 105.2h.01M884.6 108h.01M884.8 108.4h.01M885 95.7h.01M885.2 89.1h.01M885.3 99.2h.01M885.5 98.7h.01M885.7 108.3h.01M885.9 98.4h.01M886.1 103.1h.01M886.3 92.9h.01M886.5 102.1h.01M886.6 104.4h.01M886.8 99.6h.01M887 110.8h.01M887.2 98.9h.01M887.4 98.1h.01M887.6 106.9h.01M887.7 102.5h.01M887.9 97.4h.01M888.1 109.9h.01M888.3 105.6h.01M888.5 94.7h.01M888.7 97h.01M888.9 101.1h.01M889 98h.01M889.2 98.3h.01M889.4 87.1h.01M889.6 110h.01M889.8 104.7h.01M890 112.3h.01M890.1 102.1h.01M890.3 101.2h.01M890.5 109.7h.01M890.7 98h.01M890.9 104h.01M891.1 103.6h.01M891.3 111.1h.01M891.4 104.5h.01M891.6 100.4h.01M891.8 100.8h.01M892 113.2h.01M892.2 109.4h.01M892.4 108.1h.01M892.5 115.5h.01M892.7 94.5h.01M892.9 109h.01M893.1 110.8h.01M893.3 107.1h.01M893.5 106.7h.01M893.7 110.4h.01M893.8 111.9h.01M894 104.2h.01M894.2 117.6h.01M894.4 113h.01M894.6 112.1h.01M894.8 115.3h.01M894.9 101.8h.01M895.1 108.1h.01M895.3 113.1h.01M895.5 108.6h.01M895.7 101.2h.01M895.9 108h.01M896.1 104.5h.01M896.2 110.6h.01M896.4 105.8h.01M896.6 101.6h.01M896.8 110.9h.01M897 97.5h.01M897.2 104.5h.01M897.3 109.5h.01M897.5 103.4h.01M897.7 100.3h.01M897.9 97.7h.01M898.1 109.7h.01M898.3 110.7h.01M898.5 108h.01M898.6 106.9h.01M898.8 103h.01M899 101.4h.01M899.2 102.9h.01M899.4 98.8h.01M899.6 100.9h.01M899.7 100.6h.01M899.9 98.8h.01M900.1 99.2h.01M900.3 112.4h.01M900.5 103.9h.01M900.7 105.8h.01M900.9 98.6h.01M901 100.9h.01M901.2 114.7h.01M901.4 98.3h.01M901.6 105.8h.01M901.8 96.4h.01M902 101.4h.01M902.1 98.2h.01M902.3 93.9h.01M902.5 100.9h.01M902.7 100.8h.01M902.9 97h.01M903.1 102.2h.01M903.3 104.1h.01M903.4 101.1h.01M903.6 101.7h.01M903.8 109.1h.01M904 96h.01M904.2 101h.01M904.4 97.5h.01M904.5 103.2h.01M904.7 95.9h.01M904.9 110.8h.01M905.1 110.4h.01M905.3 106.6h.01M905.5 99.5h.01M905.7 101.8h.01M905.8 95.2h.01M906 108h.01M906.2 106.6h.01M906.4 100.2h.01M906.6 96.4h.01M906.8 103h.01M906.9 111.1h.01M907.1 110.6h.01M907.3 104.1h.01M907.5 103.3h.01M907.7 112.2h.01M907.9 107.4h.01M908.1 105h.01M908.2 100h.01M908.4 112.1h.01M908.6 105.4h.01M908.8 112.6h.01M909 97.6h.01M909.2 102.8h.01M909.3 105.2h.01M909.5 107.9h.01M909.7 112.2h.01M909.9 107.7h.01M910.1 104.1h.01M910.3 107.2h.01M910.5 100.1h.01M910.6 106.8h.01M910.8 99.7h.01M911 101.4h.01M911.2 110.8h.01M911.4 107.7h.01M911.6 98.5h.01M911.7 112.6h.01M911.9 101.7h.01M912.1 109.2h.01M912.3 111.6h.01M912.5 106h.01M912.7 110.9h.01M912.9 113.3h.01M913 99.9h.01M913.2 106.6h.01M913.4 109h.01M913.6 112.7h.01M913.8 111.1h.01M914 112.3h.01M914.1 104.4h.01M914.3 110.8h.01M914.5 99.8h.01M914.7 94.5h.01M914.9 103h.01M915.1 114.9h.01M915.3 113.2h.01M915.4 113.4h.01M915.6 106.9h.01M915.8 111.6h.01M916 101.5h.01M916.2 108.5h.01M916.4 110.6h.01M916.6 108.9h.01M916.7 114.4h.01M916.9 96.5h.01M917.1 113.3h.01M917.3 110.9h.01M917.5 107.2h.01M917.7 115.2h.01M917.8 107.1h.01M918 109.4h.01M918.2 105.3h.01M918.4 113.2h.01M918.6 107.7h.01M918.8 119h.01M919 107.4h.01M919.1 108h.01M919.3 109.6h.01M919.5 120.1h.01M919.7 116.6h.01M919.9 112h.01M920.1 110.6h.01M920.2 116h.01M920.4 103.1h.01M920.6 114h.01M920.8 113.9h.01M921 115h.01M921.2 105h.01M921.4 108h.01M921.5 118h.01M921.7 122.6h.01M921.9 105.3h.01M922.1 104.2h.01M922.3 103h.01M922.5 115.2h.01M922.6 100.7h.01M922.8 105.7h.01M923 106h.01M923.2 110.4h.01M923.4 109h.01M923.6 101.1h.01M923.8 108.5h.01M923.9 97h.01M924.1 94.9h.01M924.3 97.9h.01M924.5 109.3h.01M924.7 97.5h.01M924.9 112.2h.01M925 100.1h.01M925.2 94.9h.01M925.4 106.4h.01M925.6 100.4h.01M925.8 96.5h.01M926 98.9h.01M926.2 93.9h.01M926.3 107h.01M926.5 105.6h.01M926.7 105.2h.01M926.9 94.1h.01M927.1 105.5h.01M927.3 106.8h.01M927.4 90.4h.01M927.6 98.3h.01M927.8 108.9h.01M928 91.4h.01M928.2 91.1h.01M928.4 102.6h.01M928.6 97.6h.01M928.7 97h.01M928.9 104.3h.01M929.1 95.3h.01M929.3 100.8h.01M929.5 96.3h.01M929.7 99.7h.01M929.8 104.2h.01M930 108.3h.01M930.2 105.5h.01M930.4 98.1h.01M930.6 95.1h.01M930.8 90.7h.01M931 92h.01M931.1 95.7h.01M931.3 103.5h.01M931.5 94h.01M931.7 88.4h.01M931.9 100.8h.01M932.1 99.4h.01M932.2 88.9h.01M932.4 89.5h.01M932.6 83.5h.01M932.8 88.2h.01M933 76.2h.01M933.2 76.2h.01M933.4 81.9h.01M933.5 78.4h.01M933.7 78.3h.01M933.9 83.2h.01M934.1 86.5h.01M934.3 83.5h.01M934.5 78.1h.01M934.6 86.7h.01M934.8 75.5h.01M935 77.1h.01M935.2 77.4h.01M935.4 81.5h.01M935.6 86.7h.01M935.8 86.6h.01M935.9 78.3h.01M936.1 79.1h.01M936.3 83.1h.01M936.5 78.5h.01M936.7 74.5h.01M936.9 79.8h.01M937 77.7h.01M937.2 82.9h.01M937.4 75.2h.01M937.6 78.7h.01M937.8 79.7h.01M938 86.2h.01M938.2 76.3h.01M938.3 77.3h.01M938.5 82.8h.01M938.7 75.2h.01M938.9 80h.01M939.1 78.2h.01M939.3 84.4h.01M939.4 79h.01M939.6 86.4h.01M939.8 80h.01M940 75.7h.01M940.2 82.3h.01M940.4 81.7h.01M940.6 79.1h.01M940.7 81.2h.01M940.9 75.5h.01M941.1 75.5h.01M941.3 78.4h.01M941.5 81.8h.01M941.7 78.3h.01M941.8 77.9h.01M942 79.3h.01M942.2 80.5h.01M942.4 83h.01M942.6 81.3h.01M942.8 82.7h.01M943 81.2h.01M943.1 76.5h.01M943.3 75.1h.01M943.5 85h.01M943.7 76.3h.01M943.9 79.5h.01M944.1 81.8h.01M944.3 78.8h.01M944.4 78.9h.01M944.6 85.4h.01M944.8 81h.01M945 78.6h.01M945.2 74.6h.01M945.4 76.3h.01M945.5 83.7h.01M945.7 74.9h.01M945.9 78.5h.01M946.1 75.6h.01M946.3 75.5h.01M946.5 75.1h.01M946.7 75.2h.01M946.8 82.7h.01M947 79.9h.01M947.2 77.9h.01M947.4 87.2h.01M947.6 78.6h.01M947.8 83.4h.01M947.9 75.4h.01M948.1 89.3h.01M948.3 89.3h.01M948.5 88.6h.01M948.7 106.7h.01M948.9 107.6h.01M949.1 104.2h.01M949.2 98.3h.01M949.4 105h.01M949.6 100h.01M949.8 116.2h.01M950 95.8h.01M950.2 97.3h.01M950.3 107.8h.01M950.5 107.9h.01M950.7 110.8h.01M950.9 98.7h.01M951.1 103.7h.01M951.3 101.2h.01M951.5 95.3h.01M951.6 110h.01M951.8 95.2h.01M952 111.6h.01M952.2 95.8h.01M952.4 105.6h.01M952.6 100.2h.01M952.7 97.9h.01M952.9 99.6h.01M953.1 101h.01M953.3 101.2h.01M953.5 104.1h.01M953.7 110.2h.01M953.9 96.5h.01M954 103.2h.01M954.2 92h.01M954.4 99.1h.01M954.6 105.1h.01M954.8 98.4h.01M955 111.3h.01M955.1 110.4h.01M955.3 102.8h.01M955.5 107.3h.01M955.7 99.8h.01M955.9 105.5h.01M956.1 109.2h.01M956.3 108.6h.01M956.4 111.9h.01M956.6 106.9h.01M956.8 113h.01M957 113h.01M957.2 108.8h.01M957.4 99.5h.01M957.5 104.6h.01M957.7 101.7h.01M957.9 112.1h.01M958.1 103.8h.01M958.3 100.5h.01M958.5 111h.01M958.7 104.8h.01M958.8 100.8h.01M959 97.6h.01M959.2 111.2h.01M959.4 104.9h.01M959.6 104.7h.01M959.8 100.9h.01M959.9 106.1h.01M960.1 110.2h.01M960.3 107h.01M960.5 102.9h.01M960.7 111.4h.01M960.9 106.3h.01M961.1 105.7h.01M961.2 111.3h.01M961.4 109h.01M961.6 106.2h.01M961.8 101h.01M962 115.2h.01M962.2 113.4h.01M962.3 102.3h.01M962.5 109.7h.01M962.7 102.1h.01M962.9 104.9h.01M963.1 103.7h.01M963.3 103.6h.01M963.5 111.5h.01M963.6 102h.01M963.8 103.9h.01M964 115.2h.01M964.2 107.9h.01M964.4 102.3h.01M964.6 112.1h.01M964.7 104.2h.01M964.9 114.3h.01M965.1 103.1h.01M965.3 104.2h.01M965.5 116.1h.01M965.7 111h.01M965.9 113.3h.01M966 109.6h.01M966.2 110.1h.01M966.4 104.2h.01M966.6 110.3h.01M966.8 111.8h.01M967 114.7h.01M967.1 108.9h.01M967.3 121.9h.01M967.5 119h.01M967.7 116.1h.01M967.9 119.7h.01M968.1 116.6h.01M968.3 115.8h.01M968.4 115.9h.01M968.6 107.1h.01M968.8 115.1h.01M969 121.5h.01M969.2 116.8h.01M969.4 116.7h.01M969.5 118.1h.01M969.7 120.7h.01M969.9 116h.01M970.1 108.3h.01M970.3 111.7h.01M970.5 115.8h.01M970.7 107.9h.01M970.8 116.1h.01M971 109.8h.01M971.2 112.4h.01M971.4 106.7h.01M971.6 117.4h.01M971.8 115.5h.01M971.9 116h.01M972.1 110.1h.01M972.3 116.9h.01M972.5 101.9h.01M972.7 110.9h.01M972.9 117.5h.01M973.1 106.8h.01M973.2 116.9h.01M973.4 106.4h.01M973.6 108.5h.01M973.8 105.3h.01M974 109.1h.01M974.2 108h.01M974.4 118.1h.01M974.5 104.9h.01M974.7 113.2h.01M974.9 108.5h.01M975.1 113.8h.01M975.3 106.2h.01M975.5 101.5h.01M975.6 103.3h.01M975.8 110.4h.01M976 96.9h.01M976.2 110.2h.01M976.4 103.3h.01M976.6 109.2h.01M976.8 100.8h.01M976.9 111.8h.01M977.1 106.6h.01M977.3 87.6h.01M977.5 98.7h.01M977.7 111.5h.01M977.9 98.4h.01M978 113.4h.01M978.2 97.1h.01M978.4 107.6h.01M978.6 98.1h.01M978.8 109h.01M979 101.2h.01M979.2 103.4h.01M979.3 99.6h.01M979.5 99.8h.01M979.7 108.4h.01M979.9 106.5h.01M980.1 111.2h.01M980.3 103.1h.01M980.4 111.2h.01M980.6 110.7h.01M980.8 98.6h.01M981 98.9h.01M981.2 103.9h.01M981.4 104.2h.01M981.6 105.4h.01M981.7 97.3h.01M981.9 102.8h.01M982.1 107.4h.01M982.3 103.8h.01M982.5 103.8h.01M982.7 106.2h.01M982.8 102h.01M983 100.9h.01M983.2 108h.01M983.4 106.3h.01M983.6 113.8h.01M983.8 102.8h.01M984 100.3h.01M984.1 99.2h.01M984.3 107h.01M984.5 95.7h.01M984.7 105.7h.01M984.9 98.3h.01M985.1 99.9h.01M985.2 100.7h.01M985.4 97.4h.01M985.6 96.6h.01M985.8 96.4h.01M986 101.3h.01M986.2 100.3h.01M986.4 104.3h.01M986.5 95h.01M986.7 106.5h.01M986.9 108.6h.01M987.1 102h.01M987.3 102.8h.01M987.5 98.6h.01M987.6 100.5h.01M987.8 108h.01M988 108.3h.01M988.2 97.9h.01M988.4 100.5h.01M988.6 103.9h.01M988.8 100.4h.01M988.9 107.9h.01M989.1 103.8h.01M989.3 100h.01M989.5 103.5h.01M989.7 101h.01M989.9 109.1h.01M990 107.2h.01M990.2 104.4h.01M990.4 97.9h.01M990.6 98.9h.01M990.8 97.3h.01M991 100h.01M991.2 104.8h.01M991.3 92.6h.01M991.5 108.4h.01M991.7 98h.01M991.9 105.3h.01M992.1 105.7h.01M992.3 105.2h.01M992.4 106.1h.01M992.6 99.8h.01M992.8 103.8h.01M993 93.1h.01M993.2 93.1h.01M993.4 98.4h.01M993.6 94.5h.01M993.7 100.8h.01M993.9 96.8h.01M994.1 93h.01M994.3 95.6h.01M994.5 86.9h.01M994.7 80.7h.01M994.8 81.3h.01M995 74.9h.01M995.2 74.7h.01M995.4 75.1h.01M995.6 84.5h.01M995.8 75.9h.01M996 79.1h.01M996.1 76.4h.01M996.3 77.6h.01M996.5 77.5h.01M996.7 83.7h.01M996.9 75.5h.01M997.1 85.3h.01M997.2 81.4h.01M997.4 84.3h.01M997.6 83.7h.01M997.8 79.1h.01M998 79.8h.01M998.2 83.1h.01M998.4 79.4h.01M998.5 84.1h.01M998.7 84.1h.01M998.9 85.1h.01M999.1 78.2h.01M999.3 84.8h.01M999.5 76.8h.01M999.6 79h.01M999.8 87.6h.01M1000 88.5h.01M1000.2 87h.01M1000.4 78.7h.01M1000.6 82.2h.01M1000.8 76h.01M1000.9 87h.01M1001.1 77.2h.01M1001.3 89.7h.01M1001.5 81.4h.01M1001.7 88.1h.01M1001.9 89.7h.01M1002 80.2h.01M1002.2 87.1h.01M1002.4 87.1h.01M1002.6 89.3h.01M1002.8 88.3h.01M1003 80.8h.01M1003.2 85.8h.01M1003.3 86.7h.01M1003.5 91.4h.01M1003.7 79.3h.01M1003.9 89.4h.01M1004.1 93.5h.01M1004.3 83.1h.01M1004.5 86.6h.01M1004.6 81.9h.01M1004.8 93h.01M1005 98.5h.01M1005.2 96.9h.01M1005.4 89.9h.01M1005.6 93.1h.01M1005.7 97.2h.01M1005.9 94.4h.01M1006.1 94.2h.01M1006.3 89.3h.01M1006.5 96.1h.01M1006.7 102.2h.01M1006.9 94.3h.01M1007 100.1h.01M1007.2 87h.01M1007.4 86.9h.01M1007.6 97.9h.01M1007.8 85.7h.01M1008 89.5h.01M1008.1 94.5h.01M1008.3 94.3h.01M1008.5 95.5h.01M1008.7 100.3h.01M1008.9 90.2h.01M1009.1 101h.01M1009.3 96.8h.01M1009.4 102.2h.01M1009.6 89.6h.01M1009.8 86h.01M1010 94.7h.01M1010.2 97.3h.01M1010.4 93h.01M1010.5 100.4h.01M1010.7 99.2h.01M1010.9 95.4h.01M1011.1 98.6h.01M1011.3 94.4h.01M1011.5 106.2h.01M1011.7 105.2h.01M1011.8 93.2h.01M1012 104h.01M1012.2 94.7h.01M1012.4 96.2h.01M1012.6 96h.01M1012.8 97.7h.01M1012.9 97.1h.01M1013.1 92.3h.01M1013.3 91.2h.01M1013.5 101.1h.01M1013.7 92.2h.01M1013.9 88.6h.01M1014.1 100.6h.01M1014.2 106.1h.01M1014.4 106.9h.01M1014.6 97.3h.01M1014.8 108h.01M1015 98.2h.01M1015.2 112.2h.01M1015.3 96.9h.01M1015.5 99.2h.01M1015.7 97.3h.01M1015.9 99.7h.01M1016.1 103.9h.01M1016.3 99.8h.01M1016.5 102.7h.01M1016.6 99.8h.01M1016.8 99.2h.01M1017 110.7h.01M1017.2 115.5h.01M1017.4 112.9h.01M1017.6 113.1h.01M1017.7 118.7h.01M1017.9 112.2h.01M1018.1 105.4h.01M1018.3 105h.01M1018.5 106.6h.01M1018.7 112h.01M1018.9 112.6h.01M1019 106.4h.01M1019.2 113.6h.01M1019.4 108.2h.01M1019.6 101.3h.01M1019.8 105h.01M1020 107.5h.01M1020.1 110.4h.01M1020.3 104.7h.01M1020.5 103.6h.01M1020.7 111.3h.01M1020.9 110.9h.01M1021.1 105h.01M1021.3 104h.01M1021.4 117.3h.01M1021.6 104.9h.01M1021.8 101.1h.01M1022 105.3h.01M1022.2 108.1h.01M1022.4 111h.01M1022.5 113.8h.01M1022.7 101.9h.01M1022.9 99.4h.01M1023.1 112.2h.01M1023.3 103.9h.01M1023.5 111.4h.01M1023.7 104.6h.01M1023.8 112.2h.01M1024 99.6h.01M1024.2 98.8h.01M1024.4 103.1h.01M1024.6 101.7h.01M1024.8 100.6h.01M1024.9 99h.01M1025.1 105h.01M1025.3 109.5h.01M1025.5 100h.01M1025.7 104h.01M1025.9 105h.01M1026.1 102.3h.01M1026.2 102.9h.01M1026.4 90.2h.01M1026.6 100.1h.01M1026.8 95.6h.01M1027 109.4h.01M1027.2 109.3h.01M1027.3 99.8h.01M1027.5 98h.01M1027.7 105.3h.01M1027.9 111.8h.01M1028.1 107.2h.01M1028.3 96.6h.01M1028.5 106.1h.01M1028.6 105.9h.01M1028.8 107.4h.01M1029 100.5h.01M1029.2 108.8h.01M1029.4 111.7h.01M1029.6 97.6h.01M1029.7 114.7h.01M1029.9 101.1h.01M1030.1 113.1h.01M1030.3 106.7h.01M1030.5 109.5h.01M1030.7 102.9h.01M1030.9 105h.01M1031 100.9h.01M1031.2 109.8h.01M1031.4 108.7h.01M1031.6 110.3h.01M1031.8 97.5h.01M1032 102.6h.01M1032.2 101.1h.01M1032.3 99.1h.01M1032.5 105.9h.01M1032.7 105.5h.01M1032.9 105.1h.01M1033.1 103.7h.01M1033.3 112.5h.01M1033.4 97.7h.01M1033.6 112.7h.01M1033.8 108h.01M1034 111.5h.01M1034.2 111.3h.01M1034.4 104.9h.01M1034.6 111.9h.01M1034.7 110.2h.01M1034.9 108.5h.01M1035.1 107.8h.01M1035.3 110.6h.01M1035.5 103.3h.01M1035.7 101.8h.01M1035.8 111.4h.01M1036 110.1h.01M1036.2 115.3h.01M1036.4 107.3h.01M1036.6 105.3h.01M1036.8 114.2h.01M1037 106.8h.01M1037.1 110.5h.01M1037.3 101.3h.01M1037.5 107h.01M1037.7 103.5h.01M1037.9 112.3h.01M1038.1 109.4h.01M1038.2 106.7h.01M1038.4 111.8h.01M1038.6 97.1h.01M1038.8 98.6h.01M1039 102.9h.01M1039.2 107.8h.01M1039.4 101.7h.01M1039.5 110h.01M1039.7 108.3h.01M1039.9 98.6h.01M1040.1 102.5h.01M1040.3 109.6h.01M1040.5 104.4h.01M1040.6 105.4h.01M1040.8 104.6h.01M1041 102.9h.01M1041.2 106.5h.01M1041.4 98.8h.01M1041.6 103.9h.01M1041.8 102.5h.01M1041.9 108.9h.01M1042.1 101.6h.01M1042.3 115.3h.01M1042.5 107.3h.01M1042.7 109.3h.01M1042.9 106.8h.01M1043 109.1h.01M1043.2 115.3h.01M1043.4 113.6h.01M1043.6 106.1h.01M1043.8 107h.01M1044 110.5h.01M1044.2 104.7h.01M1044.3 104h.01M1044.5 108.7h.01M1044.7 109.2h.01M1044.9 113.6h.01M1045.1 113.7h.01M1045.3 116h.01M1045.4 99.9h.01M1045.6 113.8h.01M1045.8 103.9h.01M1046 109.6h.01M1046.2 116.7h.01M1046.4 116.4h.01M1046.6 101.8h.01M1046.7 108.1h.01M1046.9 111.5h.01M1047.1 107.1h.01M1047.3 111.5h.01M1047.5 113.4h.01M1047.7 100.6h.01M1047.8 108.2h.01M1048 118.7h.01M1048.2 114.4h.01M1048.4 110.7h.01M1048.6 107.5h.01M1048.8 114.3h.01M1049 104.8h.01M1049.1 100.7h.01M1049.3 102.7h.01M1049.5 111.3h.01M1049.7 111.1h.01M1049.9 99.9h.01M1050.1 102.8h.01M1050.2 106.8h.01M1050.4 103.9h.01M1050.6 112.1h.01M1050.8 101.6h.01M1051 102.8h.01M1051.2 94.8h.01M1051.4 112.4h.01M1051.5 104.1h.01M1051.7 99.6h.01M1051.9 112h.01M1052.1 95.3h.01M1052.3 97h.01M1052.5 102.8h.01M1052.6 105.6h.01M1052.8 102.1h.01M1053 110.1h.01M1053.2 106h.01M1053.4 110.2h.01M1053.6 104.8h.01M1053.8 108.9h.01M1053.9 95.6h.01M1054.1 96.4h.01M1054.3 109.6h.01M1054.5 100.1h.01M1054.7 98.3h.01M1054.9 102.8h.01M1055 106.5h.01M1055.2 108.3h.01M1055.4 101.6h.01M1055.6 106.4h.01M1055.8 95h.01M1056 93.7h.01M1056.2 103.2h.01M1056.3 96.4h.01M1056.5 94.5h.01M1056.7 96.4h.01M1056.9 95.1h.01M1057.1 98.7h.01M1057.3 95.5h.01M1057.4 88.1h.01M1057.6 90.3h.01M1057.8 100.8h.01M1058 93.4h.01M1058.2 96.6h.01M1058.4 104.4h.01M1058.6 96.7h.01M1058.7 93.8h.01M1058.9 92.3h.01M1059.1 93.4h.01M1059.3 100.2h.01M1059.5 94.2h.01M1059.7 103.7h.01M1059.8 101.7h.01M1060 96.3h.01M1060.2 102.9h.01M1060.4 99.2h.01M1060.6 104.8h.01M1060.8 103.3h.01M1061 89.2h.01M1061.1 89.7h.01M1061.3 95h.01M1061.5 92.6h.01M1061.7 99.6h.01M1061.9 87.2h.01M1062.1 101.1h.01M1062.3 89.4h.01M1062.4 94.1h.01M1062.6 84.9h.01M1062.8 96.8h.01M1063 86.5h.01M1063.2 84.4h.01M1063.4 98.6h.01M1063.5 76.3h.01M1063.7 87.8h.01M1063.9 96.3h.01M1064.1 93.3h.01M1064.3 89.7h.01M1064.5 81.2h.01M1064.7 90.3h.01M1064.8 88.2h.01M1065 84.3h.01M1065.2 98.5h.01M1065.4 90.7h.01M1065.6 84h.01M1065.8 84.4h.01M1065.9 81.3h.01M1066.1 89.1h.01M1066.3 91.2h.01M1066.5 92.7h.01M1066.7 84.3h.01M1066.9 88.6h.01M1067.1 87.1h.01M1067.2 87h.01M1067.4 80.5h.01M1067.6 80.8h.01M1067.8 77.4h.01M1068 82h.01M1068.2 78h.01M1068.3 88.2h.01M1068.5 86h.01M1068.7 86.1h.01M1068.9 85.6h.01M1069.1 77.2h.01M1069.3 80.5h.01M1069.5 86.8h.01M1069.6 75.3h.01M1069.8 85.9h.01M1070 81h.01M1070.2 89.4h.01M1070.4 87.7h.01M1070.6 91h.01M1070.7 94.5h.01M1070.9 92.4h.01M1071.1 105.8h.01M1071.3 101.5h.01M1071.5 97.8h.01M1071.7 105.9h.01M1071.9 102.7h.01M1072 101.8h.01M1072.2 107.2h.01M1072.4 110.6h.01M1072.6 97.7h.01M1072.8 102.1h.01M1073 93h.01M1073.1 104.3h.01M1073.3 97h.01M1073.5 102.1h.01M1073.7 109.2h.01M1073.9 96.5h.01M1074.1 98.4h.01M1074.3 100.3h.01M1074.4 100.2h.01M1074.6 101.3h.01M1074.8 111.5h.01M1075 109.6h.01M1075.2 114.9h.01M1075.4 100.2h.01M1075.5 95.2h.01M1075.7 105.1h.01M1075.9 109.3h.01M1076.1 92.4h.01M1076.3 97.1h.01M1076.5 100.6h.01M1076.7 91.8h.01M1076.8 100.3h.01M1077 95.6h.01M1077.2 115.5h.01M1077.4 104h.01M1077.6 110.2h.01M1077.8 100.3h.01M1077.9 100.7h.01M1078.1 103.8h.01M1078.3 99.2h.01M1078.5 105.5h.01M1078.7 99.1h.01M1078.9 107.7h.01M1079.1 97.7h.01M1079.2 97.6h.01M1079.4 106.4h.01M1079.6 92.6h.01M1079.8 100.7h.01M1080 101.2h.01M1080.2 112.6h.01M1080.3 110.2h.01M1080.5 99.2h.01M1080.7 104h.01M1080.9 102.1h.01M1081.1 111.4h.01M1081.3 105.4h.01M1081.5 98.2h.01M1081.6 98.4h.01M1081.8 98.6h.01M1082 99.7h.01M1082.2 100.8h.01M1082.4 106.2h.01M1082.6 114.8h.01M1082.7 96.1h.01M1082.9 108.9h.01M1083.1 102.8h.01M1083.3 100.4h.01M1083.5 103.7h.01M1083.7 98.9h.01M1083.9 101.5h.01M1084 102.2h.01M1084.2 107.3h.01M1084.4 94.3h.01M1084.6 108h.01M1084.8 98.9h.01M1085 100.9h.01M1085.1 96.5h.01M1085.3 104.1h.01M1085.5 99h.01M1085.7 101.5h.01M1085.9 105.2h.01M1086.1 96.6h.01M1086.3 95.2h.01M1086.4 104.8h.01M1086.6 94.4h.01M1086.8 108.1h.01M1087 102.8h.01M1087.2 107.3h.01M1087.4 105.8h.01M1087.5 104.3h.01M1087.7 105h.01M1087.9 98.5h.01M1088.1 104.1h.01M1088.3 106.9h.01M1088.5 100.2h.01M1088.7 105h.01M1088.8 96.9h.01M1089 105h.01M1089.2 98.7h.01M1089.4 102.9h.01M1089.6 109.4h.01M1089.8 98.3h.01M1090 99.4h.01M1090.1 104.8h.01M1090.3 112.4h.01M1090.5 106.6h.01M1090.7 97.5h.01M1090.9 107.5h.01M1091.1 98.3h.01M1091.2 106.8h.01M1091.4 97.8h.01M1091.6 104.2h.01M1091.8 107.4h.01M1092 101.5h.01M1092.2 101.4h.01M1092.4 101.7h.01M1092.5 110.1h.01M1092.7 114.3h.01M1092.9 107.7h.01M1093.1 110.5h.01M1093.3 116.5h.01M1093.5 112.4h.01M1093.6 106.1h.01M1093.8 110.1h.01M1094 100.5h.01M1094.2 111.1h.01M1094.4 122.1h.01M1094.6 110.9h.01M1094.8 111.5h.01M1094.9 109.6h.01M1095.1 108.7h.01M1095.3 110.9h.01M1095.5 110.6h.01M1095.7 103.5h.01M1095.9 105.1h.01M1096 107.3h.01M1096.2 104.5h.01M1096.4 110.2h.01M1096.6 106.1h.01M1096.8 112h.01M1097 122.4h.01M1097.2 108.9h.01M1097.3 106.8h.01M1097.5 106.8h.01M1097.7 106.3h.01M1097.9 110.7h.01M1098.1 119.8h.01M1098.3 114.2h.01M1098.4 103.1h.01M1098.6 110.7h.01M1098.8 106h.01M1099 109.5h.01M1099.2 107.7h.01M1099.4 112.7h.01M1099.6 111.5h.01M1099.7 106.6h.01M1099.9 105.3h.01M1100.1 109.1h.01M1100.3 109.7h.01M1100.5 104.2h.01M1100.7 119.6h.01M1100.8 112.8h.01M1101 105.7h.01M1101.2 110.7h.01M1101.4 106.9h.01M1101.6 110.9h.01M1101.8 119.7h.01M1102 120.7h.01M1102.1 104.6h.01M1102.3 105.4h.01M1102.5 94.8h.01M1102.7 113h.01M1102.9 121.6h.01M1103.1 105.7h.01M1103.2 116.7h.01M1103.4 121h.01M1103.6 109.6h.01M1103.8 104.7h.01M1104 109.5h.01M1104.2 111.2h.01M1104.4 96.4h.01M1104.5 114.4h.01M1104.7 111h.01M1104.9 114.5h.01M1105.1 107h.01M1105.3 115.6h.01M1105.5 116.5h.01M1105.6 112.1h.01M1105.8 107.1h.01M1106 108.1h.01M1106.2 112.7h.01M1106.4 111.4h.01M1106.6 113.2h.01M1106.8 100.4h.01M1106.9 109.7h.01M1107.1 103.2h.01M1107.3 109.9h.01M1107.5 112.8h.01M1107.7 103h.01M1107.9 111.2h.01M1108 109h.01M1108.2 111.1h.01M1108.4 113.6h.01M1108.6 101.3h.01M1108.8 109h.01M1109 112.3h.01M1109.2 102.3h.01M1109.3 101.7h.01M1109.5 95.1h.01M1109.7 102.6h.01M1109.9 100.5h.01M1110.1 107.2h.01M1110.3 98h.01M1110.4 102.1h.01M1110.6 102.1h.01M1110.8 92h.01M1111 105.2h.01M1111.2 106.2h.01M1111.4 109h.01M1111.6 107h.01M1111.7 100.9h.01M1111.9 103.7h.01M1112.1 96.4h.01M1112.3 98.3h.01M1112.5 98h.01M1112.7 100.7h.01M1112.8 96.6h.01M1113 107.3h.01M1113.2 106.6h.01M1113.4 99.4h.01M1113.6 106.4h.01M1113.8 105.5h.01M1114 105.9h.01M1114.1 100.9h.01M1114.3 95.2h.01M1114.5 111.5h.01M1114.7 104.6h.01M1114.9 97.6h.01M1115.1 100.4h.01M1115.2 101.8h.01M1115.4 95.5h.01M1115.6 108.8h.01M1115.8 104.3h.01M1116 99.9h.01M1116.2 101.9h.01M1116.4 102.1h.01M1116.5 104.8h.01M1116.7 103.2h.01M1116.9 104.9h.01M1117.1 96.1h.01M1117.3 96.3h.01M1117.5 103.4h.01M1117.6 89.3h.01M1117.8 102h.01M1118 94.9h.01M1118.2 86.5h.01M1118.4 89.3h.01M1118.6 87.5h.01M1118.8 88.1h.01M1118.9 78.9h.01M1119.1 80.8h.01M1119.3 76.2h.01M1119.5 79.9h.01M1119.7 74.8h.01M1119.9 79.5h.01M1120.1 80h.01M1120.2 75.9h.01M1120.4 82.2h.01M1120.6 78.1h.01M1120.8 75.3h.01M1121 74.8h.01M1121.2 79.8h.01M1121.3 76.2h.01M1121.5 82.9h.01M1121.7 80.2h.01M1121.9 80.3h.01M1122.1 74.9h.01M1122.3 75.2h.01M1122.5 75.9h.01M1122.6 80.8h.01M1122.8 76.7h.01M1123 79.6h.01M1123.2 84.1h.01M1123.4 75h.01M1123.6 75.4h.01M1123.7 75.3h.01M1123.9 75.2h.01M1124.1 75.5h.01M1124.3 76.3h.01M1124.5 75.4h.01M1124.7 84.6h.01M1124.9 79.1h.01M1125 81.4h.01M1125.2 74.7h.01M1125.4 75.3h.01M1125.6 79.6h.01M1125.8 75.5h.01M1126 79.9h.01M1126.1 74.5h.01M1126.3 82.1h.01M1126.5 83.5h.01M1126.7 74.4h.01M1126.9 76.3h.01M1127.1 77.5h.01M1127.3 79.7h.01M1127.4 75.1h.01M1127.6 85h.01M1127.8 76.2h.01M1128 81h.01M1128.2 76.3h.01M1128.4 75.3h.01M1128.5 76.7h.01M1128.7 80.7h.01M1128.9 78h.01M1129.1 76.1h.01M1129.3 78.8h.01M1129.5 81.4h.01M1129.7 79.8h.01M1129.8 74.7h.01M1130 79.8h.01M1130.2 79.6h.01M1130.4 74.5h.01M1130.6 79.9h.01M1130.8 75.9h.01M1130.9 80.3h.01M1131.1 75.1h.01M1131.3 80.8h.01M1131.5 80.6h.01M1131.7 85.2h.01M1131.9 84.8h.01M1132.1 80.7h.01M1132.2 84.9h.01M1132.4 74.9h.01M1132.6 81.8h.01M1132.8 86.2h.01M1133 74.6h.01M1133.2 87h.01M1133.3 84.5h.01M1133.5 82.2h.01M1133.7 77.6h.01M1133.9 74.5h.01M1134.1 88h.01M1134.3 82.3h.01M1134.5 82.3h.01M1134.6 84.9h.01M1134.8 91.2h.01M1135 103.2h.01M1135.2 105.9h.01M1135.4 104.5h.01M1135.6 112.5h.01M1135.7 109.3h.01M1135.9 108.4h.01M1136.1 92.1h.01M1136.3 98.3h.01M1136.5 101.9h.01M1136.7 100.6h.01M1136.9 110.9h.01M1137 108.2h.01M1137.2 117.9h.01M1137.4 106h.01M1137.6 104.3h.01M1137.8 105.1h.01M1138 106.1h.01M1138.1 110h.01M1138.3 110.5h.01M1138.5 109.4h.01M1138.7 102.1h.01M1138.9 103.5h.01M1139.1 106.1h.01M1139.3 103.5h.01M1139.4 104.5h.01M1139.6 103.8h.01M1139.8 115.2h.01M1140 105.8h.01M1140.2 107.3h.01M1140.4 107.3h.01M1140.5 117.1h.01M1140.7 104.8h.01M1140.9 112.5h.01M1141.1 118.6h.01M1141.3 106.6h.01M1141.5 105.5h.01M1141.7 120.5h.01M1141.8 113.7h.01M1142 109.3h.01M1142.2 107.7h.01M1142.4 117.2h.01M1142.6 107h.01M1142.8 111.1h.01M1142.9 119.1h.01M1143.1 110.9h.01M1143.3 108.5h.01M1143.5 104.4h.01M1143.7 108.6h.01M1143.9 107.2h.01M1144.1 119.3h.01M1144.2 116.3h.01M1144.4 117.1h.01M1144.6 102.5h.01M1144.8 115.5h.01M1145 109.7h.01M1145.2 105.3h.01M1145.3 113.9h.01M1145.5 103h.01M1145.7 110.7h.01M1145.9 113.6h.01M1146.1 110h.01M1146.3 106.6h.01M1146.5 99.2h.01M1146.6 106.1h.01M1146.8 116.6h.01M1147 109.6h.01M1147.2 111.8h.01M1147.4 112.6h.01M1147.6 121.3h.01M1147.7 111.7h.01M1147.9 113.8h.01M1148.1 106.1h.01M1148.3 112.7h.01M1148.5 118.4h.01M1148.7 111.8h.01M1148.9 113.2h.01M1149 100.3h.01M1149.2 95.7h.01M1149.4 117.6h.01M1149.6 110.2h.01M1149.8 111.1h.01M1150 118.3h.01M1150.2 110h.01M1150.3 111.2h.01M1150.5 109.9h.01M1150.7 106.6h.01M1150.9 103.9h.01M1151.1 98.8h.01M1151.3 109.2h.01M1151.4 109.7h.01M1151.6 100.8h.01M1151.8 98.6h.01M1152 99.4h.01M1152.2 106h.01M1152.4 100.4h.01M1152.6 105h.01M1152.7 96.6h.01M1152.9 107h.01M1153.1 98.6h.01M1153.3 102.7h.01M1153.5 98.5h.01M1153.7 95.2h.01M1153.8 108.1h.01M1154 97.8h.01M1154.2 109.5h.01M1154.4 106.9h.01M1154.6 110h.01M1154.8 105.5h.01M1155 107.4h.01M1155.1 96.6h.01M1155.3 100.4h.01M1155.5 99.9h.01M1155.7 92.7h.01M1155.9 97.3h.01M1156.1 105.2h.01M1156.2 110.7h.01M1156.4 91.9h.01M1156.6 95.2h.01M1156.8 90.6h.01M1157 95.7h.01M1157.2 105h.01M1157.4 100.6h.01M1157.5 97.2h.01M1157.7 99.9h.01M1157.9 107.9h.01M1158.1 102h.01M1158.3 104.5h.01M1158.5 107.2h.01M1158.6 91.6h.01M1158.8 102h.01M1159 95.8h.01M1159.2 109.4h.01M1159.4 94.8h.01M1159.6 95.9h.01M1159.8 103.2h.01M1159.9 98.4h.01M1160.1 103h.01M1160.3 103.7h.01M1160.5 105.2h.01M1160.7 107.5h.01M1160.9 102.5h.01M1161 98.3h.01M1161.2 101.5h.01M1161.4 94.9h.01M1161.6 91.9h.01M1161.8 99.2h.01M1162 87.3h.01M1162.2 110.2h.01M1162.3 101.9h.01M1162.5 94.9h.01M1162.7 98.1h.01M1162.9 104.2h.01M1163.1 99.4h.01M1163.3 98.8h.01M1163.4 97.7h.01M1163.6 96.1h.01M1163.8 102.7h.01M1164 99.3h.01M1164.2 95.3h.01M1164.4 100.3h.01M1164.6 92.6h.01M1164.7 93.3h.01M1164.9 102.5h.01M1165.1 98.1h.01M1165.3 92.9h.01M1165.5 92.3h.01M1165.7 102h.01M1165.8 96.4h.01M1166 88.6h.01M1166.2 102.6h.01M1166.4 95.8h.01M1166.6 100.9h.01M1166.8 90.8h.01M1167 96.5h.01M1167.1 106.7h.01M1167.3 105.5h.01M1167.5 105.5h.01M1167.7 100.7h.01M1167.9 99.7h.01M1168.1 115.8h.01M1168.2 84.4h.01M1168.4 96.9h.01M1168.6 97h.01M1168.8 101.7h.01M1169 103.7h.01M1169.2 100.7h.01M1169.4 101h.01M1169.5 99.3h.01M1169.7 96.2h.01M1169.9 108.1h.01M1170.1 110.6h.01M1170.3 101.5h.01M1170.5 106.8h.01M1170.6 94.6h.01M1170.8 96.6h.01M1171 111.4h.01M1171.2 97.3h.01M1171.4 98.9h.01M1171.6 101.4h.01M1171.8 107.7h.01M1171.9 112.2h.01M1172.1 103h.01M1172.3 109.3h.01M1172.5 104.7h.01M1172.7 110.9h.01M1172.9 110.1h.01M1173 101.8h.01M1173.2 108.4h.01M1173.4 104.2h.01M1173.6 112.9h.01M1173.8 101.4h.01M1174 101.5h.01M1174.2 110.2h.01M1174.3 112.9h.01M1174.5 115.7h.01M1174.7 119h.01M1174.9 99.2h.01M1175.1 94.5h.01M1175.3 96.4h.01M1175.4 107.2h.01M1175.6 107.5h.01M1175.8 110.8h.01M1176 103h.01M1176.2 107.3h.01M1176.4 93.5h.01M1176.6 107.6h.01M1176.7 110.4h.01M1176.9 96.2h.01M1177.1 99.1h.01M1177.3 101h.01M1177.5 100.4h.01M1177.7 103.2h.01M1177.9 95.2h.01M1178 101h.01M1178.2 104.5h.01M1178.4 95.6h.01M1178.6 94.9h.01M1178.8 105.4h.01M1179 95.5h.01M1179.1 99.2h.01M1179.3 93.8h.01M1179.5 101.2h.01M1179.7 90.7h.01M1179.9 95.1h.01M1180.1 93h.01M1180.3 83.4h.01M1180.4 95h.01M1180.6 100.4h.01M1180.8 107.8h.01M1181 91.8h.01M1181.2 87.8h.01M1181.4 91.4h.01M1181.5 105.1h.01M1181.7 92.7h.01M1181.9 95.4h.01M1182.1 92h.01M1182.3 98.1h.01M1182.5 90.9h.01M1182.7 98.6h.01M1182.8 97.5h.01M1183 94.2h.01M1183.2 93.2h.01M1183.4 103.3h.01M1183.6 106.6h.01M1183.8 97.8h.01M1183.9 89.5h.01M1184.1 99.8h.01M1184.3 87.5h.01M1184.5 101.1h.01M1184.7 92h.01M1184.9 96.9h.01M1185.1 99.9h.01M1185.2 89.2h.01M1185.4 99.9h.01M1185.6 98.2h.01M1185.8 97.9h.01M1186 101.7h.01M1186.2 94.6h.01M1186.3 84.9h.01M1186.5 89.1h.01M1186.7 79.9h.01M1186.9 104.5h.01M1187.1 87.2h.01M1187.3 94.8h.01M1187.5 95.4h.01M1187.6 95.9h.01M1187.8 94h.01M1188 102.8h.01M1188.2 97.8h.01M1188.4 97.6h.01M1188.6 90.4h.01M1188.7 90h.01M1188.9 92.6h.01M1189.1 100.8h.01M1189.3 92.4h.01M1189.5 94.5h.01M1189.7 98.6h.01M1189.9 97.4h.01M1190 83.9h.01M1190.2 96.2h.01M1190.4 89h.01M1190.6 92.2h.01M1190.8 81.2h.01M1191 79.1h.01M1191.1 85.4h.01M1191.3 90.4h.01M1191.5 85.7h.01M1191.7 81.2h.01M1191.9 85.6h.01M1192.1 77.9h.01M1192.3 83.8h.01M1192.4 86.6h.01M1192.6 75.1h.01M1192.8 76.4h.01M1193 74.9h.01M1193.2 79.2h.01M1193.4 77.8h.01M1193.5 85.4h.01M1193.7 78.1h.01M1193.9 79.8h.01M1194.1 78.9h.01M1194.3 80h.01M1194.5 76.8h.01M1194.7 75.3h.01M1194.8 82.8h.01M1195 77.2h.01M1195.2 76.7h.01M1195.4 81.7h.01M1195.6 77.9h.01M1195.8 85.2h.01M1195.9 78.3h.01M1196.1 82.3h.01M1196.3 80.4h.01M1196.5 84.8h.01M1196.7 84.1h.01M1196.9 80.4h.01M1197.1 83.2h.01M1197.2 75.8h.01M1197.4 78.6h.01M1197.6 82.4h.01M1197.8 79.4h.01M1198 89.3h.01M1198.2 97.2h.01M1198.3 95.8h.01M1198.5 102.1h.01M1198.7 97.7h.01M1198.9 100.2h.01M1199.1 109.4h.01M1199.3 103.6h.01M1199.5 95h.01M1199.6 97h.01M1199.8 111.9h.01M1200 107.7h.01M1200.2 103h.01M1200.4 111.3h.01M1200.6 103.2h.01M1200.7 102.4h.01M1200.9 115.1h.01M1201.1 112.4h.01M1201.3 104.3h.01M1201.5 103.6h.01M1201.7 102.2h.01M1201.9 113.7h.01M1202 106.3h.01M1202.2 99.7h.01M1202.4 92.6h.01M1202.6 107.3h.01M1202.8 103.2h.01M1203 108.4h.01M1203.1 107.6h.01M1203.3 98.9h.01M1203.5 103.7h.01M1203.7 113.2h.01M1203.9 111.3h.01M1204.1 108.4h.01M1204.3 101.6h.01M1204.4 104.3h.01M1204.6 108.8h.01M1204.8 115.1h.01M1205 117h.01M1205.2 114.8h.01M1205.4 119.4h.01M1205.5 112.5h.01M1205.7 111.9h.01M1205.9 110.4h.01M1206.1 106.5h.01M1206.3 106.2h.01M1206.5 114.9h.01M1206.7 113.8h.01M1206.8 115.1h.01M1207 114.5h.01M1207.2 117.8h.01M1207.4 110.1h.01M1207.6 120.4h.01M1207.8 112.4h.01M1208 116.1h.01M1208.1 119.7h.01M1208.3 104h.01M1208.5 111.7h.01M1208.7 107.5h.01M1208.9 106.1h.01M1209.1 107.5h.01M1209.2 114.9h.01M1209.4 114.2h.01M1209.6 118h.01M1209.8 105h.01M1210 117.7h.01M1210.2 115.2h.01M1210.4 117.7h.01M1210.5 112.8h.01M1210.7 106.9h.01M1210.9 104.9h.01M1211.1 117.6h.01M1211.3 113.5h.01M1211.5 117.5h.01M1211.6 105h.01M1211.8 111.9h.01M1212 108.5h.01M1212.2 120.9h.01M1212.4 106.3h.01M1212.6 108.1h.01M1212.8 104.6h.01M1212.9 110.3h.01M1213.1 107.7h.01M1213.3 114.4h.01M1213.5 120.7h.01M1213.7 102.6h.01M1213.9 107.9h.01M1214 108.3h.01M1214.2 103.3h.01M1214.4 108.5h.01M1214.6 115.1h.01M1214.8 109.9h.01M1215 117.5h.01M1215.2 96.1h.01M1215.3 113h.01M1215.5 104.3h.01M1215.7 110.2h.01M1215.9 97.2h.01M1216.1 109.9h.01M1216.3 104.4h.01M1216.4 107.3h.01M1216.6 101.4h.01M1216.8 116.1h.01M1217 108.7h.01M1217.2 116.5h.01M1217.4 102.7h.01M1217.6 108.8h.01M1217.7 110.5h.01M1217.9 101.7h.01M1218.1 115.8h.01M1218.3 118.9h.01M1218.5 106.3h.01M1218.7 107.8h.01M1218.8 113.3h.01M1219 119.8h.01M1219.2 114.3h.01M1219.4 106.5h.01M1219.6 108.1h.01M1219.8 114.2h.01M1220 109.6h.01M1220.1 111.2h.01M1220.3 113.4h.01M1220.5 116.1h.01M1220.7 111.7h.01M1220.9 109h.01M1221.1 106.1h.01M1221.2 102.8h.01M1221.4 99.2h.01M1221.6 107.7h.01M1221.8 106.3h.01M1222 100.1h.01M1222.2 102.3h.01M1222.4 108.9h.01M1222.5 101.6h.01M1222.7 113.2h.01M1222.9 103.5h.01M1223.1 120h.01M1223.3 105.7h.01M1223.5 108.7h.01M1223.6 110.2h.01M1223.8 105.9h.01M1224 89.6h.01M1224.2 102.1h.01M1224.4 110.4h.01M1224.6 105.2h.01M1224.8 115.4h.01M1224.9 105.8h.01M1225.1 113.6h.01M1225.3 108.9h.01M1225.5 110.8h.01M1225.7 97.5h.01M1225.9 111.1h.01M1226 97.6h.01M1226.2 109.1h.01M1226.4 109h.01M1226.6 101.5h.01M1226.8 104.3h.01M1227 107h.01M1227.2 111.2h.01M1227.3 103.4h.01M1227.5 110h.01M1227.7 111.3h.01M1227.9 108.9h.01M1228.1 103.8h.01M1228.3 104.9h.01M1228.4 92.2h.01M1228.6 111.4h.01M1228.8 106h.01M1229 111.4h.01M1229.2 104.2h.01M1229.4 106.8h.01M1229.6 104h.01M1229.7 104.3h.01M1229.9 103.9h.01M1230.1 109.1h.01M1230.3 107.4h.01M1230.5 111.7h.01M1230.7 111.6h.01M1230.8 111h.01M1231 111.3h.01M1231.2 108.8h.01M1231.4 107.8h.01M1231.6 101.4h.01M1231.8 99.8h.01M1232 101.1h.01M1232.1 110.3h.01M1232.3 105.1h.01M1232.5 98.9h.01M1232.7 101.6h.01M1232.9 107.4h.01M1233.1 91.6h.01M1233.2 109.6h.01M1233.4 110.6h.01M1233.6 102.4h.01M1233.8 106.4h.01M1234 106.2h.01M1234.2 97.6h.01M1234.4 106h.01M1234.5 104.2h.01M1234.7 106.7h.01M1234.9 89.7h.01M1235.1 101.5h.01M1235.3 109.1h.01M1235.5 108.5h.01M1235.6 100.9h.01M1235.8 101.7h.01M1236 97.4h.01M1236.2 98.3h.01M1236.4 105.9h.01M1236.6 82.1h.01M1236.8 99.4h.01M1236.9 92.1h.01M1237.1 97.3h.01M1237.3 96.7h.01M1237.5 91.2h.01M1237.7 91.7h.01M1237.9 91.7h.01M1238.1 98.4h.01M1238.2 99.3h.01M1238.4 93.9h.01M1238.6 98.8h.01M1238.8 88.4h.01M1239 100.8h.01M1239.2 93.2h.01M1239.3 89.5h.01M1239.5 95.6h.01M1239.7 98.7h.01M1239.9 92.4h.01M1240.1 90h.01M1240.3 96.6h.01M1240.5 98.7h.01M1240.6 95.1h.01M1240.8 88.6h.01M1241 94.6h.01M1241.2 101.3h.01M1241.4 93.6h.01M1241.6 98.7h.01M1241.7 105.2h.01M1241.9 108h.01M1242.1 109.6h.01M1242.3 92.4h.01M1242.5 102.7h.01M1242.7 101.4h.01M1242.9 102.4h.01M1243 96.7h.01M1243.2 95h.01M1243.4 88.6h.01M1243.6 85.9h.01M1243.8 86.4h.01M1244 83h.01M1244.1 85.1h.01M1244.3 78.4h.01M1244.5 84.3h.01M1244.7 81.2h.01M1244.9 78.9h.01M1245.1 81.2h.01M1245.3 83.6h.01M1245.4 80h.01M1245.6 83.4h.01M1245.8 77.7h.01M1246 78.9h.01M1246.2 74.4h.01M1246.4 77.4h.01M1246.5 75h.01M1246.7 79.8h.01M1246.9 84.6h.01M1247.1 81.6h.01M1247.3 75.7h.01M1247.5 75.2h.01M1247.7 74.9h.01M1247.8 77.9h.01M1248 81.9h.01M1248.2 77.7h.01M1248.4 81.3h.01M1248.6 74.4h.01M1248.8 75.5h.01M1248.9 76.8h.01M1249.1 77.4h.01M1249.3 74.6h.01M1249.5 75h.01M1249.7 77.3h.01M1249.9 75.2h.01M1250.1 79.5h.01M1250.2 77.5h.01M1250.4 84.4h.01M1250.6 82.7h.01M1250.8 82.8h.01M1251 77.6h.01M1251.2 68.5h.01M1251.4 68.3h.01M1251.6 80.6h.01M1251.7 75.2h.01M1251.9 77.5h.01M1252.1 71.3h.01M1252.3 78.8h.01M1252.5 74.1h.01M1252.7 76.3h.01M1252.8 70.4h.01M1253 67.6h.01M1253.2 66.8h.01M1253.4 72.6h.01M1253.6 68h.01M1253.8 65.7h.01M1254 74.3h.01M1254.1 70.5h.01M1254.3 73.8h.01M1254.5 77.5h.01M1254.7 69.4h.01M1254.9 70.8h.01M1255.1 68.5h.01M1255.2 69.1h.01M1255.4 77.8h.01M1255.6 69.7h.01M1255.8 70.8h.01M1256 73.2h.01M1256.2 75.6h.01M1256.4 72.7h.01M1256.5 77.6h.01M1256.7 70.8h.01M1256.9 78.1h.01M1257.1 70.2h.01M1257.3 70.6h.01M1257.5 82h.01M1257.6 76.1h.01M1257.8 71.3h.01M1258 69.8h.01M1258.2 70.1h.01M1258.4 65.1h.01M1258.6 75.2h.01M1258.8 74.5h.01M1258.9 76h.01M1259.1 76h.01M1259.3 72.7h.01M1259.5 73h.01M1259.7 77.9h.01M1259.9 73h.01M1260 80.1h.01M1260.2 65.7h.01M1260.4 67.5h.01M1260.6 75.5h.01M1260.8 66.5h.01M1261 76.4h.01M1261.2 72.1h.01M1261.3 77.7h.01M1261.5 69.9h.01M1261.7 73.1h.01M1261.9 77.2h.01M1262.1 67.8h.01M1262.3 66.9h.01M1262.4 65.3h.01M1262.6 66.9h.01M1262.8 72.8h.01M1263 72.9h.01M1263.2 71.9h.01M1263.4 69.5h.01M1263.6 71.1h.01M1263.7 70.6h.01M1263.9 65h.01M1264.1 67.8h.01M1264.3 71h.01M1264.5 67.6h.01M1264.7 69.4h.01M1264.8 64.3h.01M1265 66.6h.01M1265.2 79.9h.01M1265.4 68.5h.01M1265.6 75.3h.01M1265.8 69.1h.01M1266 74h.01M1266.1 71.7h.01M1266.3 65.5h.01M1266.5 69.2h.01M1266.7 66.1h.01M1266.9 65.6h.01M1267.1 71.1h.01M1267.3 73.6h.01M1267.4 76.1h.01M1267.6 68.5h.01M1267.8 76.9h.01M1268 76.8h.01M1268.2 66.7h.01M1268.4 70.5h.01M1268.5 73.2h.01M1268.7 80.1h.01M1268.9 67.5h.01M1269.1 72.5h.01M1269.3 73.7h.01M1269.5 75h.01M1269.7 67.7h.01M1269.8 72.6h.01M1270 73.4h.01M1270.2 73.4h.01M1270.4 64.4h.01M1270.6 74.2h.01M1270.8 64.2h.01M1270.9 74.1h.01M1271.1 69.8h.01M1271.3 75h.01M1271.5 73.7h.01M1271.7 72.2h.01M1271.9 72h.01M1272.1 72.6h.01M1272.2 72.5h.01M1272.4 78.7h.01M1272.6 77.1h.01M1272.8 69.5h.01M1273 64.5h.01M1273.2 66.5h.01M1273.3 64.6h.01M1273.5 74.2h.01M1273.7 75.4h.01M1273.9 69.3h.01M1274.1 77.4h.01M1274.3 79h.01M1274.5 69.9h.01M1274.6 69.8h.01M1274.8 73.2h.01M1275 74.5h.01M1275.2 64.8h.01M1275.4 74.2h.01M1275.6 75.7h.01M1275.7 75.2h.01M1275.9 78.4h.01M1276.1 67.5h.01M1276.3 78.5h.01M1276.5 75.8h.01M1276.7 79.8h.01M1276.9 75.2h.01M1277 69.6h.01M1277.2 74.6h.01M1277.4 68h.01M1277.6 65.2h.01M1277.8 76.6h.01M1278 75.4h.01M1278.1 76.6h.01M1278.3 65.6h.01M1278.5 71.5h.01M1278.7 72.9h.01M1278.9 77.3h.01M1279.1 70.9h.01M1279.3 82.1h.01M1279.4 66.9h.01M1279.6 69.6h.01M1279.8 69.3h.01M1280 81.3h.01M1280.2 72.4h.01M1280.4 77.7h.01M1280.5 73.4h.01M1280.7 75.4h.01M1280.9 70h.01M1281.1 72.6h.01M1281.3 75.1h.01M1281.5 71.7h.01M1281.7 76.9h.01M1281.8 70.4h.01M1282 72.5h.01M1282.2 77h.01M1282.4 78.9h.01M1282.6 79h.01M1282.8 72.9h.01M1282.9 80.6h.01M1283.1 72.8h.01M1283.3 73.5h.01M1283.5 77.5h.01M1283.7 77.2h.01M1283.9 73.3h.01M1284.1 82.2h.01M1284.2 74.5h.01M1284.4 77h.01M1284.6 69.6h.01M1284.8 77.4h.01M1285 75.2h.01M1285.2 74.6h.01M1285.3 73.4h.01M1285.5 79h.01M1285.7 75.1h.01M1285.9 74.1h.01M1286.1 72.7h.01M1286.3 77.6h.01M1286.5 79.4h.01M1286.6 75.1h.01M1286.8 72.4h.01M1287 82h.01M1287.2 70.8h.01M1287.4 78.4h.01M1287.6 71h.01M1287.7 71.1h.01M1287.9 81.8h.01M1288.1 73.9h.01M1288.3 72.5h.01M1288.5 79.4h.01M1288.7 83h.01M1288.9 73.6h.01M1289 79.1h.01M1289.2 68.2h.01M1289.4 74.8h.01M1289.6 77.1h.01M1289.8 77.5h.01M1290 77.5h.01M1290.1 80.4h.01M1290.3 69.4h.01M1290.5 72h.01M1290.7 86h.01M1290.9 71.2h.01M1291.1 70.1h.01M1291.3 77.3h.01M1291.4 73.4h.01M1291.6 76.7h.01M1291.8 79.2h.01M1292 68.6h.01M1292.2 82.3h.01M1292.4 78.2h.01M1292.5 76h.01M1292.7 75.6h.01M1292.9 83.9h.01M1293.1 79.4h.01M1293.3 74.5h.01M1293.5 73.4h.01M1293.7 84h.01M1293.8 83.8h.01M1294 75.2h.01M1294.2 75.5h.01M1294.4 77.4h.01M1294.6 76.7h.01M1294.8 71.6h.01M1295 83.7h.01M1295.1 82.5h.01M1295.3 73h.01M1295.5 69h.01M1295.7 82.8h.01M1295.9 75.6h.01M1296.1 80.1h.01M1296.2 73h.01M1296.4 74h.01M1296.6 80.7h.01M1296.8 78.5h.01M1297 80.4h.01M1297.2 77.4h.01M1297.4 73.4h.01M1297.5 79.5h.01M1297.7 84.9h.01M1297.9 82.5h.01M1298.1 77.6h.01M1298.3 75h.01M1298.5 82.4h.01M1298.6 73.8h.01M1298.8 82.5h.01M1299 70.9h.01M1299.2 76h.01M1299.4 78.7h.01M1299.6 84.9h.01M1299.8 74.4h.01M1299.9 81.2h.01M1300.1 80.4h.01M1300.3 85.7h.01M1300.5 85.9h.01M1300.7 83.3h.01M1300.9 80.3h.01M1301 80.5h.01M1301.2 78.8h.01M1301.4 74.2h.01M1301.6 76.6h.01M1301.8 81.7h.01M1302 86.4h.01M1302.2 76.3h.01M1302.3 82.2h.01M1302.5 79.6h.01M1302.7 83.1h.01M1302.9 82.1h.01M1303.1 85.7h.01M341.5 84.6h.01M1202.3 92.3h.01M450.2 77.3h.01M450.2 80.2h.01M449.3 85.6h.01M517.4 83.2h.01M610.2 121.5h.01M465.4 83.6h.01M1166.7 86.6h.01M1182.3 86h.01M802.4 122.4h.01M968.4 122h.01M1221.3 123.1h.01M1216.5 121.1h.01M366.8 121.6h.01M369.2 119.8h.01" fill="none" stroke="#000" stroke-width="3.5" stroke-linecap="round" />
<path d="M247.3 65.6h.01M248.4 68.5h.01M250 70h.01M248.9 72h.01M250.8 71.6h.01M255.3 72.3h.01M265.5 72h.01M323.6 68.1h.01M327.6 67.3h.01M325.2 70h.01M326 71.6h.01M324.4 72.7h.01M441.2 71.4h.01M499.6 68h.01M502.2 66.1h.01M501.3 68.9h.01M503.9 69.7h.01M505.6 70.1h.01M509.1 69.3h.01M508.2 65.1h.01M511.2 64.4h.01M511.7 66.8h.01M503.1 71.4h.01M506.5 72h.01M501.3 73.3h.01M503.9 72.8h.01M688.9 66.1h.01M682 69.1h.01M685.5 69.3h.01M688.1 70.1h.01M690.7 70.6h.01M683.7 71.4h.01M699.3 70h.01M688.9 72.7h.01M762.6 67.6h.01M761.2 71.4h.01M812 70h.01M821.2 70h.01M946.7 62.6h.01M947.6 63.8h.01M946.7 66.6h.01M947.2 68.9h.01M946.7 70.1h.01M937.2 71.4h.01M942.4 72h.01M939.8 73.1h.01M945 72.8h.01M947.2 72h.01M1128.4 67.6h.01M1120.4 70.6h.01M1129.6 71h.01M1131.6 71h.01M1120.9 72.5h.01M1123.5 72.8h.01M1127.5 72.8h.01M1196.4 70.6h.01M1195.3 73.3h.01M1247.3 70.1h.01M1244.4 73.1h.01M1265.2 59.9h.01M1272.4 59.9h.01M1294.5 89.9h.01M237.5 186.2h.01M492.4 297.3h.01M656.2 155.4h.01M850.3 158.4h.01M1016.5 175.4h.01M1034 217.9h.01M1278 160.2h.01" fill="none" stroke="#ffa500" stroke-width="3.5" stroke-linecap="round" />
<line x1="105.5" y1="122" x2="1361" y2="122" stroke="#008000" stroke-width="2.08" />
<line x1="162" y1="321" x2="162" y2="35.5" stroke="#800080" stroke-width="2.08" stroke-dasharray="2.083 3.4375"/>
<line x1="169" y1="321" x2="169" y2="35.5" stroke="#800080" stroke-width="2.08" stroke-dasharray="2.083 3.4375"/>
<line x1="1251" y1="321" x2="1251" y2="35.5" stroke="#800080" stroke-width="2.08" stroke-dasharray="2.083 3.4375"/>
<line x1="1303" y1="321" x2="1303" y2="35.5" stroke="#800080" stroke-width="2.08" stroke-dasharray="2.083 3.4375"/>
</g>
<rect x="105.5" y="35.5" width="1380" height="286" fill="none" stroke="#000" stroke-width="1.11"/>
<line x1="162.5" y1="321.5" x2="162.5" y2="326.36" stroke="#000" stroke-width="1.11" />
<text x="163.7" y="341.8" text-anchor="middle" >0</text>
<line x1="342.5" y1="321.5" x2="342.5" y2="326.36" stroke="#000" stroke-width="1.11" />
<text x="342.2" y="341.8" text-anchor="middle" >1000</text>
<line x1="522.5" y1="321.5" x2="522.5" y2="326.36" stroke="#000" stroke-width="1.11" />
<text x="522.2" y="341.8" text-anchor="middle" >2000</text>
<line x1="702.5" y1="321.5" x2="702.5" y2="326.36" stroke="#000" stroke-width="1.11" />
<text x="702.2" y="341.8" text-anchor="middle" >3000</text>
<line x1="882.5" y1="321.5" x2="882.5" y2="326.36" stroke="#000" stroke-width="1.11" />
<text x="882.2" y="341.8" text-anchor="middle" >4000</text>
<line x1="1063.5" y1="321.5" x2="1063.5" y2="326.36" stroke="#000" stroke-width="1.11" />
<text x="1063.2" y="341.8" text-anchor="middle" >5000</text>
<line x1="1243.5" y1="321.5" x2="1243.5" y2="326.36" stroke="#000" stroke-width="1.11" />
<text x="1243.2" y="341.8" text-anchor="middle" >6000</text>
<line x1="1423.5" y1="321.5" x2="1423.5" y2="326.36" stroke="#000" stroke-width="1.11" />
<text x="1423.2" y="341.8" text-anchor="middle" >7000</text>
<line x1="100.64" y1="67.5" x2="105.5" y2="67.5" stroke="#000" stroke-width="1.11" />
<text x="95.1" y="72.45" text-anchor="end" >9.3</text>
<line x1="100.64" y1="110.5" x2="105.5" y2="110.5" stroke="#000" stroke-width="1.11" />
<text x="95.1" y="115.45" text-anchor="end" >9.2</text>
<line x1="100.64" y1="154.5" x2="105.5" y2="154.5" stroke="#000" stroke-width="1.11" />
<text x="95.1" y="159.45" text-anchor="end" >9.1</text>
<line x1="100.64" y1="197.5" x2="105.5" y2="197.5" stroke="#000" stroke-width="1.11" />
<text x="95.1" y="202.45" text-anchor="end" >9.0</text>
<line x1="100.64" y1="240.5" x2="105.5" y2="240.5" stroke="#000" stroke-width="1.11" />
<text x="95.1" y="245.45" text-anchor="end" >8.9</text>
<line x1="100.64" y1="284.5" x2="105.5" y2="284.5" stroke="#000" stroke-width="1.11" />
<text x="95.1" y="289.45" text-anchor="end" >8.8</text>
<text x="164.6" y="312" text-anchor="middle" >58994</text>
<text x="709.3" y="292" text-anchor="middle" >17163</text>
<text x="1276.3" y="272" text-anchor="middle" >46992</text>
<text x="795" y="26.7" text-anchor="middle" font-size="16.67" >AGASC ID 127674072</text>
<rect x="1361.3" y="42.5" width="117.3" height="27" rx="2.8" ry="2.8" fill="#fff" fill-opacity="0.8" stroke="#ccc" stroke-width="1.11"/>
<line x1="1366.9" y1="53.8" x2="1394.7" y2="53.8" stroke="#008000" stroke-width="2.08" stroke-linecap="square"/>
<text x="1406.8" y="58.8">mag<tspan font-size="9.72" font-style="italic" dy="2">AGASC</tspan></text>
<rect x="1348.3" y="247.5" width="130.3" height="67" rx="2.8" ry="2.8" fill="#fff" fill-opacity="0.8" stroke="#ccc" stroke-width="1.11"/>
<circle cx="1367.4" cy="260.4" r="1.75" fill="#f00"/>
<text x="1392.3" y="264" >not OK</text>
<circle cx="1367.4" cy="281.4" r="1.75" fill="#ffa500"/>
<text x="1392.9" y="285" >Highlighted</text>
<circle cx="1367.4" cy="302.4" r="1.75" fill="#000"/>
<text x="1392.9" y="306" >OK</text>
</g>
<g id="panel2">
<g clip-path="url(#c2)">
<path d="M162.3 474.8h.01M162.5 484.7h.01M162.7 473.9h.01M162.9 475.8h.01M163 480.8h.01M163.2 480.1h.01M163.4 469.2h.01M163.6 477.5h.01M163.8 487h.01M164 502.1h.01M164.1 473.9h.01M164.3 488.1h.01M164.5 485h.01M164.7 482.9h.01M164.9 487.6h.01M165.1 475h.01M165.3 479.7h.01M165.4 477h.01M165.6 485.7h.01M165.8 489.7h.01M166 481.8h.01M166.2 485.9h.01M166.4 490.7h.01M166.5 482.5h.01M166.7 481.5h.01M166.9 468.4h.01M167.1 479.9h.01M167.3 488.3h.01M167.5 483.4h.01M167.7 482.7h.01M167.8 499.4h.01M168 492.8h.01M168.2 497.7h.01M168.4 499.9h.01M168.6 496.2h.01M168.8 501.5h.01M168.9 489.4h.01M169.1 504h.01M169.4 501.9h.01M169.6 505h.01M169.8 496.7h.01M170 508.1h.01M170.1 507.7h.01M170.3 523h.01M170.5 520.3h.01M170.7 528.8h.01M170.9 523.5h.01M171.1 502.1h.01M171.2 527.5h.01M171.4 516.6h.01M171.6 509.9h.01M171.8 506.2h.01M172 506.8h.01M172.2 531.9h.01M172.4 515.3h.01M172.5 500.9h.01M172.7 522.5h.01M172.9 527.8h.01M173.1 517.6h.01M173.3 533.4h.01M173.5 508.7h.01M173.6 516.4h.01M173.8 538.4h.01M174 529.1h.01M174.2 521.1h.01M174.4 540.1h.01M174.6 527.4h.01M174.8 543.8h.01M174.9 519.5h.01M175.1 524.4h.01M175.3 523h.01M175.5 508.7h.01M175.7 534.1h.01M175.9 524.2h.01M176 533.9h.01M176.2 529.9h.01M176.4 525.4h.01M176.6 531.1h.01M176.8 539.2h.01M177 540.3h.01M177.2 552.5h.01M177.3 530.6h.01M177.5 520.6h.01M177.7 519.1h.01M177.9 524.9h.01M178.1 521.9h.01M178.3 521.1h.01M178.4 535h.01M178.6 549h.01M178.8 521.1h.01M179 537h.01M179.2 527.5h.01M179.4 540.9h.01M179.6 514.3h.01M179.7 526.2h.01M179.9 532.3h.01M180.1 532.4h.01M180.3 528.3h.01M180.5 518.7h.01M180.7 513.7h.01M180.8 528h.01M181 534.1h.01M181.2 525.4h.01M181.4 514.1h.01M181.6 539.5h.01M181.8 504.5h.01M182 516.8h.01M182.1 532.9h.01M182.3 507.7h.01M182.5 507h.01M182.7 530.2h.01M182.9 515.1h.01M183.1 519.9h.01M183.2 518.7h.01M183.4 540.6h.01M183.6 526.7h.01M183.8 512.4h.01M184 510.4h.01M184.2 505.9h.01M184.4 503h.01M184.5 507.6h.01M184.7 532.1h.01M184.9 500.2h.01M185.1 503.2h.01M185.3 507.8h.01M185.5 518.4h.01M185.7 525.1h.01M185.8 528.5h.01M186 500.4h.01M186.2 487.7h.01M186.4 498.1h.01M186.6 497h.01M186.8 491.1h.01M186.9 491.5h.01M187.1 487.5h.01M187.3 478.7h.01M187.5 487h.01M187.7 484.9h.01M187.9 488.2h.01M188.1 487.4h.01M188.2 492.7h.01M188.4 486.1h.01M188.6 486.5h.01M188.8 474.7h.01M189 481.7h.01M189.2 486.6h.01M189.3 498h.01M189.5 496.8h.01M189.7 503.8h.01M189.9 486.8h.01M190.1 489.6h.01M190.3 494.5h.01M190.5 496.9h.01M190.6 502.3h.01M190.8 489.3h.01M191 490.1h.01M191.2 490.7h.01M191.4 494.9h.01M191.6 492.7h.01M191.7 485.4h.01M191.9 491.7h.01M192.1 490.3h.01M192.3 490.4h.01M192.5 483.4h.01M192.7 500.3h.01M192.9 497.2h.01M193 494.4h.01M193.2 482.3h.01M193.4 476.8h.01M193.6 474.5h.01M193.8 486.4h.01M194 475.3h.01M194.1 488.7h.01M194.3 484.6h.01M194.5 495h.01M194.7 482.8h.01M194.9 498.9h.01M195.1 488h.01M195.3 487.6h.01M195.4 484.4h.01M195.6 488.5h.01M195.8 479.8h.01M196 495.3h.01M196.2 499.7h.01M196.4 496.8h.01M196.5 481.1h.01M196.7 475.1h.01M196.9 489.5h.01M197.1 481.1h.01M197.3 480.1h.01M197.5 490.2h.01M197.7 489.5h.01M197.8 485.4h.01M198 484.7h.01M198.2 478.5h.01M198.4 490.9h.01M198.6 482.3h.01M198.8 482.2h.01M198.9 483.6h.01M199.1 478.3h.01M199.3 499.4h.01M199.5 485.3h.01M199.7 490.3h.01M199.9 477.3h.01M200.1 496.1h.01M200.2 485.3h.01M200.4 490.9h.01M200.6 480.2h.01M200.8 486.6h.01M201 494h.01M201.2 502.2h.01M201.3 495.8h.01M201.5 502.7h.01M201.7 527h.01M201.9 522h.01M202.1 543.3h.01M202.3 541.2h.01M202.5 550.6h.01M202.6 512.2h.01M202.8 536.9h.01M203 547.9h.01M203.2 546.8h.01M203.4 529.2h.01M203.6 569.6h.01M203.7 544.8h.01M203.9 558.7h.01M204.1 526.7h.01M204.3 555.5h.01M204.5 542h.01M204.7 540.5h.01M204.9 538.3h.01M205 555.3h.01M205.2 531.7h.01M205.4 545.5h.01M205.6 558.2h.01M205.8 533.3h.01M206 533.5h.01M206.1 543.4h.01M206.3 553.9h.01M206.5 539.5h.01M206.7 538.7h.01M206.9 534.8h.01M207.1 551.9h.01M207.3 550.6h.01M207.4 564.1h.01M207.6 558.4h.01M207.8 545.3h.01M208 530.4h.01M208.2 536.1h.01M208.4 532.1h.01M208.5 539h.01M208.7 545h.01M208.9 533.5h.01M209.1 524.8h.01M209.3 525.4h.01M209.5 543.5h.01M209.7 547.4h.01M209.8 537.5h.01M210 525.4h.01M210.2 534.6h.01M210.4 534.6h.01M210.6 537.6h.01M210.8 533.5h.01M210.9 551.7h.01M211.1 528h.01M211.3 522.1h.01M211.5 549.8h.01M211.7 536.4h.01M211.9 540.6h.01M212.1 525.9h.01M212.2 527.9h.01M212.4 555.5h.01M212.6 521.2h.01M212.8 531.9h.01M213 540.4h.01M213.2 532.4h.01M213.4 520.1h.01M213.5 557.7h.01M213.7 545.7h.01M213.9 529.1h.01M214.1 533.2h.01M214.3 545.6h.01M214.5 534.5h.01M214.6 530h.01M214.8 519.3h.01M215 517.5h.01M215.2 540h.01M215.4 529.7h.01M215.6 567.9h.01M215.8 516.9h.01M215.9 545.1h.01M216.1 523.5h.01M216.3 520.5h.01M216.5 544.4h.01M216.7 515.1h.01M216.9 542.5h.01M217 551.6h.01M217.2 544.2h.01M217.4 548.9h.01M217.6 532.7h.01M217.8 541h.01M218 534.8h.01M218.2 526.9h.01M218.3 546.3h.01M218.5 522.8h.01M218.7 548.6h.01M218.9 539.5h.01M219.1 529.8h.01M219.3 535.1h.01M219.4 533.9h.01M219.6 522.4h.01M219.8 536h.01M220 559.7h.01M220.2 532.5h.01M220.4 556.9h.01M220.6 556.2h.01M220.7 533h.01M220.9 545.7h.01M221.1 554.9h.01M221.3 527.4h.01M221.5 542.6h.01M221.7 536h.01M221.8 554.5h.01M222 553.1h.01M222.2 551.2h.01M222.4 544.2h.01M222.6 529.7h.01M222.8 539.1h.01M223 545h.01M223.1 533.8h.01M223.3 538.8h.01M223.5 551.2h.01M223.7 518.9h.01M223.9 516.5h.01M224.1 528.6h.01M224.2 542.9h.01M224.4 524.9h.01M224.6 542.1h.01M224.8 524.5h.01M225 544.4h.01M225.2 543.1h.01M225.4 529.4h.01M225.5 538.9h.01M225.7 518.9h.01M225.9 512h.01M226.1 510.2h.01M226.3 512.7h.01M226.5 533.8h.01M226.6 500.3h.01M226.8 507.4h.01M227 523.8h.01M227.2 515.1h.01M227.4 513.1h.01M227.6 534.6h.01M227.8 514.9h.01M227.9 525.9h.01M228.1 512.3h.01M228.3 536h.01M228.5 530h.01M228.7 538.6h.01M228.9 523.1h.01M229 533.2h.01M229.2 503.8h.01M229.4 543.5h.01M229.6 524.9h.01M229.8 534.6h.01M230 510.6h.01M230.2 511.3h.01M230.3 511.4h.01M230.5 510.8h.01M230.7 501.5h.01M230.9 529.5h.01M231.1 526.5h.01M231.3 533.4h.01M231.4 506.7h.01M231.6 534.4h.01M231.8 524h.01M232 531.7h.01M232.2 507.1h.01M232.4 505.7h.01M232.6 524.2h.01M232.7 540.9h.01M232.9 524.7h.01M233.1 512.4h.01M233.3 519.1h.01M233.5 511.1h.01M233.7 529.5h.01M233.8 511.3h.01M234 519.4h.01M234.2 522.4h.01M234.4 539.5h.01M234.6 535.8h.01M234.8 528.7h.01M235 507.5h.01M235.1 518.7h.01M235.3 509.2h.01M235.5 538.5h.01M235.7 516.1h.01M235.9 507.8h.01M236.1 516.3h.01M236.2 542.5h.01M236.4 543.6h.01M236.6 513.1h.01M236.8 532.2h.01M237 556.8h.01M237.2 526.9h.01M237.4 537.9h.01M237.5 495.8h.01M237.7 528.6h.01M237.9 528.3h.01M238.1 550.2h.01M238.3 544.3h.01M238.5 520.6h.01M238.6 532.6h.01M238.8 531.6h.01M239 529.8h.01M239.2 535h.01M239.4 535.5h.01M239.6 533.2h.01M239.8 526.3h.01M239.9 518.5h.01M240.1 524.7h.01M240.3 533.4h.01M240.5 537.2h.01M240.7 530.7h.01M240.9 519.1h.01M241 527.6h.01M241.2 534.8h.01M241.4 526h.01M241.6 548h.01M241.8 531.3h.01M242 536h.01M242.2 543.2h.01M242.3 547.9h.01M242.5 539h.01M242.7 520h.01M242.9 530h.01M243.1 548.5h.01M243.3 548.8h.01M243.5 544.4h.01M243.6 500.1h.01M243.8 518.6h.01M244 549.4h.01M244.2 524.9h.01M244.4 536.3h.01M244.6 530.1h.01M244.7 520.1h.01M244.9 538.3h.01M245.1 526.5h.01M245.3 522.6h.01M245.5 533.5h.01M245.7 528.5h.01M245.9 525.1h.01M246 511h.01M246.2 539.4h.01M246.4 514.2h.01M246.6 513.4h.01M246.8 492.9h.01M247 487.9h.01M247.1 487.9h.01M247.3 485.1h.01M247.5 481.7h.01M247.7 481.6h.01M247.9 478.3h.01M248.1 478.5h.01M248.3 480.9h.01M248.4 474.1h.01M248.6 477.7h.01M248.8 475.1h.01M249 473.7h.01M249.2 483.3h.01M249.4 487.2h.01M249.5 480.5h.01M249.7 495h.01M249.9 477.3h.01M250.1 483.9h.01M250.3 481.4h.01M250.5 474.8h.01M250.7 475.5h.01M250.8 479.4h.01M251 494.5h.01M251.2 487.6h.01M251.4 473.3h.01M251.6 489.5h.01M251.8 492.5h.01M251.9 477.2h.01M252.1 487.9h.01M252.3 492.2h.01M252.5 497.7h.01M252.7 495.7h.01M252.9 475.8h.01M253.1 478.1h.01M253.2 479.3h.01M253.4 501.9h.01M253.6 492.6h.01M253.8 495.4h.01M254 485h.01M254.2 486.5h.01M254.3 504.6h.01M254.5 495.9h.01M254.7 500h.01M254.9 497.5h.01M255.1 489.3h.01M255.3 494.6h.01M255.5 501.4h.01M255.6 490.7h.01M255.8 486.7h.01M256 495.1h.01M256.2 492.8h.01M256.4 490.7h.01M256.6 515.3h.01M256.7 493.1h.01M256.9 496h.01M257.1 489.5h.01M257.3 498.5h.01M257.5 510.8h.01M257.7 490.6h.01M257.9 496.5h.01M258 486.6h.01M258.2 493.5h.01M258.4 503.7h.01M258.6 513.3h.01M258.8 491.8h.01M259 490.7h.01M259.1 502.5h.01M259.3 499h.01M259.5 510.4h.01M259.7 489.2h.01M259.9 501.2h.01M260.1 484.2h.01M260.3 491.3h.01M260.4 505.4h.01M260.6 496.1h.01M260.8 500.7h.01M261 500.7h.01M261.2 491.3h.01M261.4 492.5h.01M261.5 500.9h.01M261.7 496h.01M261.9 500.7h.01M262.1 502.1h.01M262.3 486.1h.01M262.5 487.7h.01M262.7 495.2h.01M262.8 503.4h.01M263 497.2h.01M263.2 496h.01M263.4 475.3h.01M263.6 497.4h.01M263.8 482.2h.01M263.9 476.1h.01M264.1 494.8h.01M264.3 485.9h.01M264.5 475.7h.01M264.7 482.8h.01M264.9 475.4h.01M265.1 474.5h.01M265.2 474.7h.01M265.4 478.2h.01M265.6 474.4h.01M265.8 493.3h.01M266 514.7h.01M266.2 521.1h.01M266.3 526.3h.01M266.5 534h.01M266.7 543.6h.01M266.9 517.2h.01M267.1 522.3h.01M267.3 527.5h.01M267.5 524.8h.01M267.6 531.9h.01M267.8 532.5h.01M268 499.1h.01M268.2 549.1h.01M268.4 523.4h.01M268.6 550.4h.01M268.7 527.8h.01M268.9 548.5h.01M269.1 541h.01M269.3 542.1h.01M269.5 547.7h.01M269.7 557.1h.01M269.9 529.6h.01M270 532.2h.01M270.2 532.5h.01M270.4 549.7h.01M270.6 546.9h.01M270.8 534.7h.01M271 550.7h.01M271.1 532.3h.01M271.3 547.4h.01M271.5 560.3h.01M271.7 525.7h.01M271.9 534.9h.01M272.1 549.7h.01M272.3 544.3h.01M272.4 554.9h.01M272.6 565.6h.01M272.8 549.7h.01M273 567.2h.01M273.2 569.6h.01M273.4 531.8h.01M273.6 543.1h.01M273.7 542.4h.01M273.9 543.8h.01M274.1 556.9h.01M274.3 556.1h.01M274.5 552.9h.01M274.7 543.7h.01M274.8 563.8h.01M275 536.4h.01M275.2 556.9h.01M275.4 543.5h.01M275.6 548.2h.01M275.8 534.6h.01M276 544.7h.01M276.1 548.6h.01M276.3 570.2h.01M276.5 553.6h.01M276.7 536.3h.01M276.9 553.4h.01M277.1 549.9h.01M277.2 545.3h.01M277.4 528.2h.01M277.6 524.3h.01M277.8 536.8h.01M278 534h.01M278.2 531h.01M278.4 521.1h.01M278.5 545.3h.01M278.7 523.7h.01M278.9 548.6h.01M279.1 534.2h.01M279.3 553.7h.01M279.5 505.3h.01M279.6 532.8h.01M279.8 532.1h.01M280 547.6h.01M280.2 525.1h.01M280.4 523.7h.01M280.6 546.8h.01M280.8 545.3h.01M280.9 545.2h.01M281.1 544.4h.01M281.3 548.5h.01M281.5 517.4h.01M281.7 536.6h.01M281.9 531.4h.01M282 529.9h.01M282.2 535.4h.01M282.4 546.9h.01M282.6 524.5h.01M282.8 530.5h.01M283 542.2h.01M283.2 519.8h.01M283.3 523.4h.01M283.5 524.9h.01M283.7 527.2h.01M283.9 529.7h.01M284.1 522.9h.01M284.3 520.2h.01M284.4 540.4h.01M284.6 512.7h.01M284.8 532h.01M285 548.1h.01M285.2 549.1h.01M285.4 549.6h.01M285.6 527.2h.01M285.7 556.5h.01M285.9 527.4h.01M286.1 539h.01M286.3 530.3h.01M286.5 540h.01M286.7 520.8h.01M286.8 522.8h.01M287 514.7h.01M287.2 534.2h.01M287.4 537.8h.01M287.6 509.7h.01M287.8 538.7h.01M288 520.9h.01M288.1 535.2h.01M288.3 543.1h.01M288.5 501.5h.01M288.7 511.5h.01M288.9 511.5h.01M289.1 528.6h.01M289.2 537.9h.01M289.4 539.1h.01M289.6 530h.01M289.8 522.3h.01M290 538.9h.01M290.2 515.6h.01M290.4 543.5h.01M290.5 506.2h.01M290.7 534.8h.01M290.9 535.4h.01M291.1 530h.01M291.3 537.2h.01M291.5 527h.01M291.6 522.3h.01M291.8 521.6h.01M292 519.2h.01M292.2 543.8h.01M292.4 517.2h.01M292.6 543.4h.01M292.8 532.1h.01M292.9 532.4h.01M293.1 526.3h.01M293.3 540.7h.01M293.5 521.5h.01M293.7 543.9h.01M293.9 541.5h.01M294 538.2h.01M294.2 545.3h.01M294.4 519.8h.01M294.6 545.8h.01M294.8 517.8h.01M295 536.8h.01M295.2 537.7h.01M295.3 528.5h.01M295.5 539.7h.01M295.7 528.9h.01M295.9 521.9h.01M296.1 524.1h.01M296.3 530.3h.01M296.4 527.5h.01M296.6 539h.01M296.8 532.3h.01M297 537h.01M297.2 542.1h.01M297.4 550.1h.01M297.6 553.1h.01M297.7 544.6h.01M297.9 538.3h.01M298.1 534.7h.01M298.3 549.2h.01M298.5 540.1h.01M298.7 547.5h.01M298.8 526.3h.01M299 562.9h.01M299.2 542.8h.01M299.4 547.2h.01M299.6 565.9h.01M299.8 548.4h.01M300 532h.01M300.1 526.2h.01M300.3 555.6h.01M300.5 561.8h.01M300.7 538.5h.01M300.9 547.2h.01M301.1 530.5h.01M301.3 522h.01M301.4 547.4h.01M301.6 555.6h.01M301.8 542.2h.01M302 522.4h.01M302.2 546.1h.01M302.4 542h.01M302.5 535.9h.01M302.7 533.6h.01M302.9 534.5h.01M303.1 522.4h.01M303.3 512.6h.01M303.5 531.4h.01M303.7 525.4h.01M303.8 513h.01M304 530.2h.01M304.2 525.2h.01M304.4 527h.01M304.6 518.5h.01M304.8 519.2h.01M304.9 524.2h.01M305.1 527.5h.01M305.3 544.5h.01M305.5 516.7h.01M305.7 527.6h.01M305.9 536.2h.01M306.1 517.9h.01M306.2 542.5h.01M306.4 513.2h.01M306.6 538.1h.01M306.8 506.5h.01M307 514.5h.01M307.2 531.9h.01M307.3 538.9h.01M307.5 516.4h.01M307.7 524.5h.01M307.9 517.9h.01M308.1 533.9h.01M308.3 513h.01M308.5 521.5h.01M308.6 530.6h.01M308.8 522.1h.01M309 539.7h.01M309.2 499.7h.01M309.4 517.6h.01M309.6 513.3h.01M309.7 508.4h.01M309.9 508.4h.01M310.1 522.1h.01M310.3 503.1h.01M310.5 507.3h.01M310.7 510.7h.01M310.9 513.2h.01M311 522.5h.01M311.2 517.8h.01M311.4 520.2h.01M311.6 492h.01M311.8 505.1h.01M312 485h.01M312.1 497.2h.01M312.3 480.1h.01M312.5 489h.01M312.7 489h.01M312.9 487.6h.01M313.1 497.8h.01M313.3 482.3h.01M313.4 490.5h.01M313.6 497.3h.01M313.8 489.6h.01M314 478.6h.01M314.2 482.1h.01M314.4 477h.01M314.5 487.6h.01M314.7 488.7h.01M314.9 489h.01M315.1 495.1h.01M315.3 489h.01M315.5 489.1h.01M315.7 493.4h.01M315.8 481h.01M316 499h.01M316.2 496.2h.01M316.4 492.5h.01M316.6 488.7h.01M316.8 505.5h.01M316.9 501.8h.01M317.1 501.6h.01M317.3 493.3h.01M317.5 491.2h.01M317.7 483.8h.01M317.9 488.1h.01M318.1 498.5h.01M318.2 495.1h.01M318.4 493h.01M318.6 497.4h.01M318.8 486.3h.01M319 487.6h.01M319.2 475.2h.01M319.3 482h.01M319.5 501h.01M319.7 493.8h.01M319.9 489.1h.01M320.1 497.7h.01M320.3 475.8h.01M320.5 483.4h.01M320.6 500.2h.01M320.8 486.7h.01M321 490.3h.01M321.2 480.6h.01M321.4 492.3h.01M321.6 479.2h.01M321.7 496.2h.01M321.9 493.4h.01M322.1 479.2h.01M322.3 478.9h.01M322.5 475h.01M322.7 487h.01M322.9 492h.01M323 480h.01M323.2 484.1h.01M323.4 476.3h.01M323.6 476.6h.01M323.8 474.2h.01M324 479.6h.01M324.1 480.2h.01M324.3 474.2h.01M324.5 478.9h.01M324.7 477.1h.01M324.9 480.9h.01M325.1 480.1h.01M325.3 489.2h.01M325.4 473.5h.01M325.6 479.3h.01M325.8 474h.01M326 478.9h.01M326.2 479.4h.01M326.4 475.5h.01M326.5 481h.01M326.7 475.3h.01M326.9 487.4h.01M327.1 488.7h.01M327.3 504h.01M327.5 531.5h.01M327.7 543.9h.01M327.8 553.9h.01M328 515.1h.01M328.2 527.3h.01M328.4 540.1h.01M328.6 531.8h.01M328.8 545.1h.01M328.9 545h.01M329.1 524.7h.01M329.3 542.7h.01M329.5 536.8h.01M329.7 531.1h.01M329.9 533.7h.01M330.1 534.7h.01M330.2 538.3h.01M330.4 523.4h.01M330.6 542.7h.01M330.8 542.7h.01M331 523.6h.01M331.2 528.4h.01M331.4 525.5h.01M331.5 526.6h.01M331.7 524.6h.01M331.9 540.4h.01M332.1 514.2h.01M332.3 522.1h.01M332.5 542.9h.01M332.6 515.6h.01M332.8 527.9h.01M333 530.3h.01M333.2 502.2h.01M333.4 535.3h.01M333.6 518.8h.01M333.8 515.1h.01M333.9 522.7h.01M334.1 516.4h.01M334.3 517.2h.01M334.5 531.1h.01M334.7 524.6h.01M334.9 509.9h.01M335 535.8h.01M335.2 528.4h.01M335.4 526.9h.01M335.6 525.3h.01M335.8 522.1h.01M336 530.9h.01M336.2 538.6h.01M336.3 544.2h.01M336.5 541.6h.01M336.7 528.2h.01M336.9 536h.01M337.1 534.5h.01M337.3 541h.01M337.4 534.9h.01M337.6 519.9h.01M337.8 508.5h.01M338 536.6h.01M338.2 522.8h.01M338.4 515.6h.01M338.6 528.9h.01M338.7 498h.01M338.9 525.4h.01M339.1 537.7h.01M339.3 524.5h.01M339.5 514.5h.01M339.7 517.8h.01M339.8 534.6h.01M340 516.7h.01M340.2 521.7h.01M340.4 510.4h.01M340.6 510.6h.01M340.8 523.5h.01M341 507.8h.01M341.1 528h.01M341.3 538.8h.01M341.5 513.5h.01M341.7 512.1h.01M341.9 545.4h.01M342.1 525.5h.01M342.2 508.3h.01M342.4 524h.01M342.6 494h.01M342.8 533.5h.01M343 512.7h.01M343.2 512.5h.01M343.4 523.5h.01M343.5 531.7h.01M343.7 534.2h.01M343.9 509.6h.01M344.1 525.8h.01M344.3 508.5h.01M344.5 511.5h.01M344.6 529.8h.01M344.8 521.6h.01M345 521.1h.01M345.2 516.5h.01M345.4 512.4h.01M345.6 523.7h.01M345.8 523.9h.01M345.9 545.1h.01M346.1 551.7h.01M346.3 532h.01M346.5 529.7h.01M346.7 520h.01M346.9 520.5h.01M347 536h.01M347.2 524.4h.01M347.4 529.2h.01M347.6 520.7h.01M347.8 531h.01M348 525.8h.01M348.2 529.5h.01M348.3 534.6h.01M348.5 525.2h.01M348.7 536h.01M348.9 538.7h.01M349.1 542.2h.01M349.3 547.9h.01M349.4 533.2h.01M349.6 560.9h.01M349.8 522.5h.01M350 525.3h.01M350.2 524.6h.01M350.4 533h.01M350.6 517.5h.01M350.7 528.2h.01M350.9 540.8h.01M351.1 516h.01M351.3 550.5h.01M351.5 540.8h.01M351.7 539h.01M351.8 525.9h.01M352 533.7h.01M352.2 522.8h.01M352.4 537.8h.01M352.6 526.8h.01M352.8 544h.01M353 526.8h.01M353.1 532.9h.01M353.3 535.1h.01M353.5 530.1h.01M353.7 532h.01M353.9 532.2h.01M354.1 529.9h.01M354.2 531.3h.01M354.4 540.7h.01M354.6 524.4h.01M354.8 536.6h.01M355 524h.01M355.2 540.4h.01M355.4 540.7h.01M355.5 538h.01M355.7 534.5h.01M355.9 511.5h.01M356.1 557.7h.01M356.3 539.8h.01M356.5 532.4h.01M356.6 550h.01M356.8 527.9h.01M357 556.3h.01M357.2 533.3h.01M357.4 552.9h.01M357.6 551.5h.01M357.8 540.6h.01M357.9 529.5h.01M358.1 541.8h.01M358.3 529.6h.01M358.5 526.2h.01M358.7 542.9h.01M358.9 532.5h.01M359 534h.01M359.2 554.4h.01M359.4 556h.01M359.6 555.9h.01M359.8 515.7h.01M360 561.7h.01M360.2 551.7h.01M360.3 544.4h.01M360.5 555.4h.01M360.7 561.7h.01M360.9 556.7h.01M361.1 534.1h.01M361.3 543.3h.01M361.5 556.2h.01M361.6 537.7h.01M361.8 539.5h.01M362 545.2h.01M362.2 554.5h.01M362.4 544h.01M362.6 560.2h.01M362.7 512h.01M362.9 549.9h.01M363.1 554.2h.01M363.3 546.5h.01M363.5 531.9h.01M363.7 533.9h.01M363.9 542.1h.01M364 535.7h.01M364.2 560.3h.01M364.4 523.6h.01M364.6 542.7h.01M364.8 566.6h.01M365 539.3h.01M365.1 536.4h.01M365.3 569.6h.01M365.5 563.5h.01M365.7 555.5h.01M365.9 548.5h.01M366.1 543.1h.01M366.3 547.7h.01M366.4 554.2h.01M366.6 567.2h.01M366.8 557.3h.01M367 558.1h.01M367.2 562.3h.01M367.4 566.8h.01M367.5 557.7h.01M367.7 569h.01M367.9 550.1h.01M368.1 566.6h.01M368.3 559.9h.01M368.5 557.2h.01M368.7 548.6h.01M368.8 534h.01M369 559.6h.01M369.2 539.4h.01M369.4 549h.01M369.6 545.9h.01M369.8 546.6h.01M369.9 550.8h.01M370.1 544h.01M370.3 528.4h.01M370.5 547.8h.01M370.7 534.5h.01M370.9 540.1h.01M371.1 516.3h.01M371.2 522.8h.01M371.4 530.6h.01M371.6 513.6h.01M371.8 521.5h.01M372 521.8h.01M372.2 490.4h.01M372.3 501.7h.01M372.5 496.8h.01M372.7 477.8h.01M372.9 499.1h.01M373.1 495.3h.01M373.3 485.8h.01M373.5 508.9h.01M373.6 481.7h.01M373.8 508.9h.01M374 508.2h.01M374.2 488.1h.01M374.4 506.8h.01M374.6 480.5h.01M374.7 477.3h.01M374.9 491.4h.01M375.1 480.2h.01M375.3 483.6h.01M375.5 494.7h.01M375.7 497.6h.01M375.9 482.5h.01M376 485.3h.01M376.2 481.8h.01M376.4 488.1h.01M376.6 501.2h.01M376.8 502.7h.01M377 494.9h.01M377.1 482.5h.01M377.3 502.8h.01M377.5 485.3h.01M377.7 488.4h.01M377.9 493.5h.01M378.1 493.6h.01M378.3 487.4h.01M378.4 497.9h.01M378.6 480.3h.01M378.8 488.8h.01M379 483.6h.01M379.2 481.4h.01M379.4 497.1h.01M379.5 491.4h.01M379.7 491.2h.01M379.9 493.2h.01M380.1 476.4h.01M380.3 486.6h.01M380.5 490.7h.01M380.7 489h.01M380.8 484h.01M381 482.6h.01M381.2 497.9h.01M381.4 481h.01M381.6 497.1h.01M381.8 497.1h.01M381.9 484.9h.01M382.1 483.6h.01M382.3 487.3h.01M382.5 488.1h.01M382.7 493.7h.01M382.9 483.3h.01M383.1 475.7h.01M383.2 478.8h.01M383.4 477.2h.01M383.6 482.9h.01M383.8 478.5h.01M384 493.6h.01M384.2 479.3h.01M384.3 481h.01M384.5 477.3h.01M384.7 487.2h.01M384.9 493.8h.01M385.1 480.4h.01M385.3 496.1h.01M385.5 494.5h.01M385.6 479.6h.01M385.8 478.8h.01M386 477.4h.01M386.2 492.2h.01M386.4 497.2h.01M386.6 482.5h.01M386.7 503.4h.01M386.9 492.6h.01M387.1 487.2h.01M387.3 479h.01M387.5 493.5h.01M387.7 492.4h.01M387.9 503.3h.01M388 502.3h.01M388.2 488.4h.01M388.4 483.1h.01M388.6 495.8h.01M388.8 492h.01M389 481.4h.01M389.2 488.8h.01M389.3 498h.01M389.5 502.8h.01M389.7 528.9h.01M389.9 516.9h.01M390.1 520.8h.01M390.3 531.5h.01M390.4 519.8h.01M390.6 519.3h.01M390.8 514h.01M391 516.4h.01M391.2 517.1h.01M391.4 518h.01M391.6 533h.01M391.7 519.2h.01M391.9 540.9h.01M392.1 515.8h.01M392.3 533.5h.01M392.5 530.7h.01M392.7 519.7h.01M392.8 535.2h.01M393 519h.01M393.2 543.8h.01M393.4 530.5h.01M393.6 539.9h.01M393.8 529.5h.01M394 526h.01M394.1 532.3h.01M394.3 521.3h.01M394.5 530.5h.01M394.7 550.8h.01M394.9 546.7h.01M395.1 527.6h.01M395.2 524.4h.01M395.4 541h.01M395.6 532h.01M395.8 542.9h.01M396 547.6h.01M396.2 541h.01M396.4 544.9h.01M396.5 545.7h.01M396.7 548.2h.01M396.9 548.2h.01M397.1 539h.01M397.3 532.5h.01M397.5 548.3h.01M397.6 534.6h.01M397.8 552.7h.01M398 538.9h.01M398.2 547.6h.01M398.4 547.2h.01M398.6 525.2h.01M398.8 534.4h.01M398.9 521.5h.01M399.1 552.6h.01M399.3 531.1h.01M399.5 539.9h.01M399.7 528.9h.01M399.9 541.4h.01M400 544.4h.01M400.2 529.7h.01M400.4 540h.01M400.6 542.3h.01M400.8 521.2h.01M401 530.8h.01M401.2 523h.01M401.3 534.7h.01M401.5 513.1h.01M401.7 539.8h.01M401.9 532.5h.01M402.1 541.6h.01M402.3 516.6h.01M402.4 520.9h.01M402.6 527.8h.01M402.8 529.3h.01M403 526.5h.01M403.2 510.8h.01M403.4 519.6h.01M403.6 527.5h.01M403.7 543.3h.01M403.9 524.1h.01M404.1 518.2h.01M404.3 530.5h.01M404.5 516.9h.01M404.7 538.2h.01M404.8 529.4h.01M405 530.1h.01M405.2 528.7h.01M405.4 497.7h.01M405.6 516.6h.01M405.8 515h.01M406 527.5h.01M406.1 519.6h.01M406.3 549.6h.01M406.5 521.9h.01M406.7 517.2h.01M406.9 532.9h.01M407.1 517.7h.01M407.2 531.1h.01M407.4 538.6h.01M407.6 535.4h.01M407.8 532.7h.01M408 517h.01M408.2 520.7h.01M408.4 520.1h.01M408.5 533.9h.01M408.7 519.2h.01M408.9 524.9h.01M409.1 513.6h.01M409.3 528.7h.01M409.5 520.4h.01M409.6 535.2h.01M409.8 536.9h.01M410 530.4h.01M410.2 518.8h.01M410.4 528.9h.01M410.6 518.5h.01M410.8 527.7h.01M410.9 515.5h.01M411.1 519.1h.01M411.3 517.7h.01M411.5 517.6h.01M411.7 536.3h.01M411.9 538.6h.01M412 517.8h.01M412.2 525h.01M412.4 546.3h.01M412.6 525.3h.01M412.8 543.6h.01M413 545.1h.01M413.2 536.3h.01M413.3 530.1h.01M413.5 538.2h.01M413.7 549.6h.01M413.9 540h.01M414.1 532h.01M414.3 515.3h.01M414.4 523.9h.01M414.6 520.4h.01M414.8 518.3h.01M415 537.1h.01M415.2 528.6h.01M415.4 528.6h.01M415.6 542.3h.01M415.7 543.8h.01M415.9 528.3h.01M416.1 545.2h.01M416.3 522.9h.01M416.5 557.9h.01M416.7 543.4h.01M416.8 528.9h.01M417 519h.01M417.2 534.7h.01M417.4 520.7h.01M417.6 531.8h.01M417.8 502.2h.01M418 517.9h.01M418.1 533.7h.01M418.3 546.4h.01M418.5 543.6h.01M418.7 532.4h.01M418.9 532.2h.01M419.1 521.1h.01M419.3 535.6h.01M419.4 533.1h.01M419.6 529.8h.01M419.8 534.5h.01M420 527.8h.01M420.2 522.9h.01M420.4 527.3h.01M420.5 514.6h.01M420.7 544.2h.01M420.9 529.9h.01M421.1 528.4h.01M421.3 519.8h.01M421.5 544.1h.01M421.7 522h.01M421.8 522.9h.01M422 536.2h.01M422.2 532.3h.01M422.4 539.2h.01M422.6 507.5h.01M422.8 523h.01M422.9 543.9h.01M423.1 542.2h.01M423.3 511.3h.01M423.5 531.1h.01M423.7 538.7h.01M423.9 523.9h.01M424.1 550.4h.01M424.2 541.5h.01M424.4 529.3h.01M424.6 534.6h.01M424.8 537.2h.01M425 534.5h.01M425.2 526h.01M425.3 548.3h.01M425.5 532.3h.01M425.7 534.9h.01M425.9 554.7h.01M426.1 557.4h.01M426.3 554.5h.01M426.5 522.8h.01M426.6 540.3h.01M426.8 545.7h.01M427 548.2h.01M427.2 529.1h.01M427.4 547.5h.01M427.6 525.6h.01M427.7 527.8h.01M427.9 524.3h.01M428.1 534.7h.01M428.3 532.2h.01M428.5 533.1h.01M428.7 516.7h.01M428.9 532.9h.01M429 520.4h.01M429.2 529.5h.01M429.4 548.2h.01M429.6 549.6h.01M429.8 520.6h.01M430 527.1h.01M430.1 548.9h.01M430.3 555.5h.01M430.5 521.9h.01M430.7 545.4h.01M430.9 540h.01M431.1 532.4h.01M431.3 528.6h.01M431.4 528.8h.01M431.6 553.7h.01M431.8 544.1h.01M432 548.7h.01M432.2 546.5h.01M432.4 553.2h.01M432.5 514.1h.01M432.7 531.2h.01M432.9 537.2h.01M433.1 538.8h.01M433.3 548.3h.01M433.5 538.2h.01M433.7 510.7h.01M433.8 516.7h.01M434 538.4h.01M434.2 524.7h.01M434.4 523.5h.01M434.6 527.3h.01M434.8 517.9h.01M434.9 510.5h.01M435.1 529.8h.01M435.3 535.1h.01M435.5 540.8h.01M435.7 518h.01M435.9 534.6h.01M436.1 522.7h.01M436.2 504.6h.01M436.4 493.7h.01M436.6 492.6h.01M436.8 476.4h.01M437 494.6h.01M437.2 474.8h.01M437.3 495.4h.01M437.5 488.8h.01M437.7 482h.01M437.9 500.8h.01M438.1 473.9h.01M438.3 497.7h.01M438.5 481.2h.01M438.6 497.8h.01M438.8 480h.01M439 493.5h.01M439.2 489.8h.01M439.4 490.2h.01M439.6 498.3h.01M439.7 482.7h.01M439.9 496.5h.01M440.1 494.9h.01M440.3 477.4h.01M440.5 479.6h.01M440.7 484.2h.01M440.9 493.1h.01M441 477h.01M441.2 496.6h.01M441.4 511.5h.01M441.6 498.9h.01M441.8 527.3h.01M442 499.7h.01M442.1 514.4h.01M442.3 521.7h.01M442.5 520.7h.01M442.7 503h.01M442.9 480.9h.01M443.1 520.2h.01M443.3 506.9h.01M443.4 513h.01M443.6 521.8h.01M443.8 525.3h.01M444 517.3h.01M444.2 524.5h.01M444.4 520.8h.01M444.5 514.9h.01M444.7 519.7h.01M444.9 505.6h.01M445.1 520.8h.01M445.3 519.6h.01M445.5 509.8h.01M445.7 520.4h.01M445.8 509.3h.01M446 505.6h.01M446.2 515.7h.01M446.4 514.2h.01M446.6 525.9h.01M446.8 504.9h.01M446.9 511.2h.01M447.1 523.6h.01M447.3 526.8h.01M447.5 503.8h.01M447.7 524.6h.01M447.9 502.4h.01M448.1 530.3h.01M448.2 523.4h.01M448.4 517.5h.01M448.6 533.6h.01M448.8 527.1h.01M449 510.3h.01M449.2 535.2h.01M449.4 531.8h.01M449.5 531.5h.01M449.7 510.7h.01M449.9 514.8h.01M450.1 521.3h.01M450.3 542.2h.01M450.5 525.5h.01M450.6 553.6h.01M450.8 517.1h.01M451 539.1h.01M451.2 529.4h.01M451.4 526h.01M451.6 533.9h.01M451.8 518.3h.01M451.9 530.7h.01M452.1 537.4h.01M452.3 517.2h.01M452.5 540.2h.01M452.7 518.7h.01M452.9 549.2h.01M453 549h.01M453.2 543.6h.01M453.4 550h.01M453.6 536.2h.01M453.8 534.6h.01M454 531.7h.01M454.2 536h.01M454.3 545.2h.01M454.5 541.5h.01M454.7 553.5h.01M454.9 552.8h.01M455.1 540.6h.01M455.3 548.3h.01M455.4 548.6h.01M455.6 553.4h.01M455.8 528h.01M456 550.9h.01M456.2 542.7h.01M456.4 527.8h.01M456.6 529.2h.01M456.7 542.3h.01M456.9 545.8h.01M457.1 550.5h.01M457.3 540h.01M457.5 542.8h.01M457.7 545.9h.01M457.8 547.5h.01M458 557.1h.01M458.2 529.4h.01M458.4 531.5h.01M458.6 522.4h.01M458.8 542.4h.01M459 540.8h.01M459.1 530.2h.01M459.3 522.8h.01M459.5 536.3h.01M459.7 542.1h.01M459.9 529.1h.01M460.1 538.4h.01M460.2 518.9h.01M460.4 523.1h.01M460.6 536.5h.01M460.8 513.7h.01M461 523.9h.01M461.2 524.4h.01M461.4 514.6h.01M461.5 536.5h.01M461.7 539.7h.01M461.9 517.6h.01M462.1 537.3h.01M462.3 526h.01M462.5 523.1h.01M462.6 506.5h.01M462.8 505.1h.01M463 529.5h.01M463.2 508h.01M463.4 527.6h.01M463.6 523.2h.01M463.8 518.5h.01M463.9 504.9h.01M464.1 508.7h.01M464.3 511.2h.01M464.5 498.2h.01M464.7 531.3h.01M464.9 495.7h.01M465 526.3h.01M465.2 521.4h.01M465.4 517.4h.01M465.6 519.5h.01M465.8 503.6h.01M466 513.4h.01M466.2 511.4h.01M466.3 513.8h.01M466.5 522.8h.01M466.7 508.3h.01M466.9 491.8h.01M467.1 529.5h.01M467.3 503.2h.01M467.4 526.4h.01M467.6 508.3h.01M467.8 522.2h.01M468 540.8h.01M468.2 517.2h.01M468.4 527.8h.01M468.6 517.8h.01M468.7 512h.01M468.9 519.6h.01M469.1 496.9h.01M469.3 500h.01M469.5 507.5h.01M469.7 521.1h.01M469.8 497.8h.01M470 501.3h.01M470.2 491h.01M470.4 517.9h.01M470.6 531.2h.01M470.8 495.4h.01M471 515.2h.01M471.1 515.3h.01M471.3 523.9h.01M471.5 515.5h.01M471.7 497.8h.01M471.9 514h.01M472.1 513.6h.01M472.2 506.6h.01M472.4 524.4h.01M472.6 514.3h.01M472.8 521.5h.01M473 508.1h.01M473.2 500.2h.01M473.4 507.9h.01M473.5 533.9h.01M473.7 523.9h.01M473.9 507.6h.01M474.1 514.1h.01M474.3 526h.01M474.5 531.9h.01M474.6 504.6h.01M474.8 526.4h.01M475 513.3h.01M475.2 535.8h.01M475.4 527.7h.01M475.6 509.8h.01M475.8 531h.01M475.9 509h.01M476.1 523.6h.01M476.3 512.8h.01M476.5 504.6h.01M476.7 516.7h.01M476.9 523h.01M477.1 521.1h.01M477.2 534.9h.01M477.4 520h.01M477.6 523.3h.01M477.8 528.3h.01M478 510.9h.01M478.2 524.8h.01M478.3 541.2h.01M478.5 523.7h.01M478.7 529.8h.01M478.9 536.9h.01M479.1 519.4h.01M479.3 530.9h.01M479.5 547h.01M479.6 514.2h.01M479.8 511.6h.01M480 525.9h.01M480.2 515.8h.01M480.4 527.7h.01M480.6 516.9h.01M480.7 522.4h.01M480.9 519.7h.01M481.1 533.8h.01M481.3 518.8h.01M481.5 544.6h.01M481.7 510.9h.01M481.9 532.9h.01M482 527.4h.01M482.2 543.9h.01M482.4 543h.01M482.6 535h.01M482.8 526.3h.01M483 522.2h.01M483.1 523.5h.01M483.3 531.8h.01M483.5 547.4h.01M483.7 536.3h.01M483.9 543.9h.01M484.1 545.6h.01M484.3 539.6h.01M484.4 530.4h.01M484.6 522.3h.01M484.8 523.3h.01M485 524.4h.01M485.2 546.2h.01M485.4 534.1h.01M485.5 516.8h.01M485.7 514.5h.01M485.9 520.6h.01M486.1 531.2h.01M486.3 533.6h.01M486.5 539.2h.01M486.7 497.9h.01M486.8 526.4h.01M487 528.1h.01M487.2 525h.01M487.4 499.6h.01M487.6 525.7h.01M487.8 544.1h.01M487.9 516.1h.01M488.1 509h.01M488.3 514.1h.01M488.5 542.4h.01M488.7 511.6h.01M488.9 532.7h.01M489.1 532.3h.01M489.2 488.8h.01M489.4 535.3h.01M489.6 531.4h.01M489.8 509.5h.01M490 535.9h.01M490.2 546.4h.01M490.3 533.9h.01M490.5 525.3h.01M490.7 513.4h.01M490.9 530.8h.01M491.1 532.7h.01M491.3 531.5h.01M491.5 502.7h.01M491.6 534h.01M491.8 521.4h.01M492 548.4h.01M492.2 526.9h.01M492.4 508.7h.01M492.6 538.9h.01M492.7 510.8h.01M492.9 513.3h.01M493.1 508.6h.01M493.3 510.6h.01M493.5 533.5h.01M493.7 520.7h.01M493.9 531.4h.01M494 528.5h.01M494.2 510.6h.01M494.4 512h.01M494.6 504.3h.01M494.8 534.2h.01M495 517.6h.01M495.1 508.7h.01M495.3 501.7h.01M495.5 499.2h.01M495.7 509.5h.01M495.9 517.4h.01M496.1 521.8h.01M496.3 533.1h.01M496.4 505.1h.01M496.6 517.6h.01M496.8 501.2h.01M497 516.2h.01M497.2 526.6h.01M497.4 523.7h.01M497.5 501.7h.01M497.7 492.4h.01M497.9 483.3h.01M498.1 474.1h.01M498.3 496.8h.01M498.5 479.6h.01M498.7 475.1h.01M498.8 474.8h.01M499 476.5h.01M499.2 475.2h.01M499.4 484.7h.01M499.6 473.5h.01M499.8 492h.01M499.9 482.8h.01M500.1 478.3h.01M500.3 475.5h.01M500.5 490.2h.01M500.7 476.7h.01M500.9 483.9h.01M501.1 488.5h.01M501.2 494.1h.01M501.4 481.4h.01M501.6 489.7h.01M501.8 476.8h.01M502 483.4h.01M502.2 477.4h.01M502.3 475.4h.01M502.5 478.6h.01M502.7 486.7h.01M502.9 474.8h.01M503.1 476.1h.01M503.3 477.4h.01M503.5 482.1h.01M503.6 474.5h.01M503.8 478.7h.01M504 477.7h.01M504.2 490.4h.01M504.4 481.7h.01M504.6 474.5h.01M504.7 490.7h.01M504.9 478h.01M505.1 486.7h.01M505.3 474.4h.01M505.5 485.3h.01M505.7 479.4h.01M505.9 474.1h.01M506 479.8h.01M506.2 478.6h.01M506.4 475.1h.01M506.6 479h.01M506.8 476.3h.01M507 476.9h.01M507.2 478.3h.01M507.3 489.1h.01M507.5 476.2h.01M507.7 478.1h.01M507.9 482.2h.01M508.1 474.4h.01M508.3 475.2h.01M508.4 478h.01M508.6 482.8h.01M508.8 474.5h.01M509 474.2h.01M509.2 481.3h.01M509.4 474.9h.01M509.6 485.9h.01M509.7 474.8h.01M509.9 478.5h.01M510.1 487.2h.01M510.3 495.7h.01M510.5 478.6h.01M510.7 477h.01M510.8 486.1h.01M511 478.7h.01M511.2 495.4h.01M511.4 488.2h.01M511.6 474.9h.01M511.8 475.9h.01M512 488.9h.01M512.1 475.2h.01M512.3 501.8h.01M512.5 506.7h.01M512.7 525.7h.01M512.9 532.7h.01M513.1 506h.01M513.2 535.4h.01M513.4 526.7h.01M513.6 503.1h.01M513.8 533.9h.01M514 509.8h.01M514.2 529h.01M514.4 523.1h.01M514.5 507.5h.01M514.7 523.4h.01M514.9 502.8h.01M515.1 512.4h.01M515.3 514.7h.01M515.5 519h.01M515.6 526.2h.01M515.8 519.7h.01M516 522h.01M516.2 520.5h.01M516.4 528.9h.01M516.6 506.4h.01M516.8 501.9h.01M516.9 528.2h.01M517.1 537.4h.01M517.3 531.9h.01M517.5 526.8h.01M517.7 513.6h.01M517.9 521.8h.01M518 503.3h.01M518.2 519.8h.01M518.4 529.8h.01M518.6 506.5h.01M518.8 510.6h.01M519 535.5h.01M519.2 508.6h.01M519.3 526.8h.01M519.5 514.5h.01M519.7 509.5h.01M519.9 535.3h.01M520.1 522.7h.01M520.3 510.9h.01M520.4 532.8h.01M520.6 537.9h.01M520.8 499.8h.01M521 520.1h.01M521.2 512.5h.01M521.4 530.3h.01M521.6 521.4h.01M521.7 535.3h.01M521.9 530.7h.01M522.1 527.6h.01M522.3 512.1h.01M522.5 524.9h.01M522.7 508.8h.01M522.8 489.6h.01M523 513.8h.01M523.2 522.7h.01M523.4 528h.01M523.6 522.6h.01M523.8 532.8h.01M524 529.9h.01M524.1 507.9h.01M524.3 531.2h.01M524.5 504.2h.01M524.7 530h.01M524.9 509.3h.01M525.1 539.4h.01M525.2 508.3h.01M525.4 522.5h.01M525.6 513.8h.01M525.8 512.5h.01M526 503.6h.01M526.2 540.3h.01M526.4 517.8h.01M526.5 535h.01M526.7 519.9h.01M526.9 497.7h.01M527.1 535h.01M527.3 525.6h.01M527.5 500.2h.01M527.6 512.4h.01M527.8 512.3h.01M528 514.2h.01M528.2 527.6h.01M528.4 540.8h.01M528.6 520h.01M528.8 514.1h.01M528.9 537.8h.01M529.1 537.5h.01M529.3 548.7h.01M529.5 524h.01M529.7 537.7h.01M529.9 530.7h.01M530 539.9h.01M530.2 553h.01M530.4 533.4h.01M530.6 553.2h.01M530.8 541.4h.01M531 533.1h.01M531.2 530.8h.01M531.3 527.2h.01M531.5 543.5h.01M531.7 536.4h.01M531.9 526.6h.01M532.1 546.8h.01M532.3 527.5h.01M532.4 547.8h.01M532.6 550.4h.01M532.8 540.9h.01M533 532.6h.01M533.2 532.4h.01M533.4 540.1h.01M533.6 554.1h.01M533.7 558.4h.01M533.9 540.7h.01M534.1 534.1h.01M534.3 544.5h.01M534.5 566.3h.01M534.7 534.5h.01M534.9 529.6h.01M535 546.1h.01M535.2 523h.01M535.4 537.7h.01M535.6 544.5h.01M535.8 539.2h.01M536 521.3h.01M536.1 526.1h.01M536.3 534.1h.01M536.5 547.5h.01M536.7 544.6h.01M536.9 524.6h.01M537.1 538h.01M537.3 535.8h.01M537.4 534.9h.01M537.6 533.1h.01M537.8 537.9h.01M538 522.2h.01M538.2 518.8h.01M538.4 499.6h.01M538.5 538.7h.01M538.7 513.2h.01M538.9 520.9h.01M539.1 524.6h.01M539.3 509.1h.01M539.5 532.2h.01M539.7 508.5h.01M539.8 506.2h.01M540 523.6h.01M540.2 516.9h.01M540.4 503.9h.01M540.6 504.3h.01M540.8 510.7h.01M540.9 517.6h.01M541.1 529.4h.01M541.3 507.7h.01M541.5 519.1h.01M541.7 516.5h.01M541.9 534.2h.01M542.1 528.6h.01M542.2 499.2h.01M542.4 532h.01M542.6 494.6h.01M542.8 532.8h.01M543 530h.01M543.2 531.3h.01M543.3 521.8h.01M543.5 511.4h.01M543.7 539.3h.01M543.9 529h.01M544.1 503.8h.01M544.3 504.3h.01M544.5 492.2h.01M544.6 495.5h.01M544.8 530h.01M545 500.2h.01M545.2 516.2h.01M545.4 514.9h.01M545.6 527.8h.01M545.7 509.5h.01M545.9 524h.01M546.1 514.6h.01M546.3 515.3h.01M546.5 521.4h.01M546.7 521.3h.01M546.9 516.9h.01M547 513.9h.01M547.2 509.2h.01M547.4 532.4h.01M547.6 515.3h.01M547.8 525.6h.01M548 523h.01M548.1 539h.01M548.3 517.1h.01M548.5 535.5h.01M548.7 536.8h.01M548.9 514.5h.01M549.1 515.8h.01M549.3 532.9h.01M549.4 523.3h.01M549.6 536.8h.01M549.8 527.8h.01M550 526.6h.01M550.2 523.5h.01M550.4 529.8h.01M550.5 507h.01M550.7 523.5h.01M550.9 516.8h.01M551.1 521h.01M551.3 537.4h.01M551.5 530.7h.01M551.7 514h.01M551.8 507.6h.01M552 538.7h.01M552.2 532.1h.01M552.4 539.9h.01M552.6 517.8h.01M552.8 536h.01M552.9 534.8h.01M553.1 498.9h.01M553.3 538.3h.01M553.5 523.8h.01M553.7 531.7h.01M553.9 537.5h.01M554.1 527.8h.01M554.2 537.5h.01M554.4 544.6h.01M554.6 537.6h.01M554.8 544h.01M555 534.7h.01M555.2 547.3h.01M555.3 526.8h.01M555.5 531.5h.01M555.7 545.8h.01M555.9 523h.01M556.1 519.5h.01M556.3 522.1h.01M556.5 523.6h.01M556.6 533.7h.01M556.8 538.2h.01M557 522.5h.01M557.2 513h.01M557.4 540.7h.01M557.6 534h.01M557.7 542.7h.01M557.9 545.4h.01M558.1 525.3h.01M558.3 505h.01M558.5 512h.01M558.7 519.7h.01M558.9 497h.01M559 503.4h.01M559.2 477.7h.01M559.4 483.4h.01M559.6 486.9h.01M559.8 475.3h.01M560 493.6h.01M560.1 486.2h.01M560.3 483.5h.01M560.5 477.7h.01M560.7 474.2h.01M560.9 485.7h.01M561.1 478.6h.01M561.3 476.3h.01M561.4 481.5h.01M561.6 473.9h.01M561.8 502.4h.01M562 481.9h.01M562.2 476.7h.01M562.4 492.8h.01M562.5 476.8h.01M562.7 473.8h.01M562.9 474.8h.01M563.1 500.2h.01M563.3 484.1h.01M563.5 499h.01M563.7 489.5h.01M563.8 479.9h.01M564 475.9h.01M564.2 476.1h.01M564.4 497.5h.01M564.6 483.6h.01M564.8 478.7h.01M565 497.1h.01M565.1 478.5h.01M565.3 491.7h.01M565.5 473.5h.01M565.7 476.2h.01M565.9 489.3h.01M566.1 493.8h.01M566.2 499.9h.01M566.4 496.4h.01M566.6 498.2h.01M566.8 502.5h.01M567 492h.01M567.2 502h.01M567.4 483.4h.01M567.5 484.9h.01M567.7 507h.01M567.9 494h.01M568.1 501.8h.01M568.3 536.3h.01M568.5 491.3h.01M568.6 503.4h.01M568.8 503.4h.01M569 519h.01M569.2 526.3h.01M569.4 496.6h.01M569.6 529.2h.01M569.8 513.4h.01M569.9 506.2h.01M570.1 509.8h.01M570.3 503.5h.01M570.5 508h.01M570.7 501.5h.01M570.9 504.6h.01M571 492.4h.01M571.2 480.4h.01M571.4 502.6h.01M571.6 515.4h.01M571.8 525.9h.01M572 500h.01M572.2 525.8h.01M572.3 512.8h.01M572.5 520.1h.01M572.7 524.1h.01M572.9 506.6h.01M573.1 510.5h.01M573.3 511.6h.01M573.4 475.3h.01M573.6 503.8h.01M573.8 519.7h.01M574 512.6h.01M574.2 511.2h.01M574.4 501.6h.01M574.6 508h.01M574.7 505.9h.01M574.9 508.5h.01M575.1 504h.01M575.3 523.4h.01M575.5 528.1h.01M575.7 510.2h.01M575.8 532.5h.01M576 524.7h.01M576.2 499.5h.01M576.4 501.2h.01M576.6 510.9h.01M576.8 518.7h.01M577 516.5h.01M577.1 509.1h.01M577.3 517h.01M577.5 513.4h.01M577.7 520.9h.01M577.9 509.7h.01M578.1 522.2h.01M578.2 529.9h.01M578.4 511.7h.01M578.6 509.2h.01M578.8 509.3h.01M579 531.2h.01M579.2 507.7h.01M579.4 530.6h.01M579.5 517.2h.01M579.7 524.7h.01M579.9 535.5h.01M580.1 530.8h.01M580.3 506.5h.01M580.5 503.9h.01M580.6 527.3h.01M580.8 504.7h.01M581 529.8h.01M581.2 511.3h.01M581.4 507.5h.01M581.6 532.7h.01M581.8 505.1h.01M581.9 529.7h.01M582.1 516.8h.01M582.3 510.9h.01M582.5 533.9h.01M582.7 513.6h.01M582.9 516.3h.01M583 516.8h.01M583.2 513.4h.01M583.4 524.4h.01M583.6 491.4h.01M583.8 528.3h.01M584 518.2h.01M584.2 530.5h.01M584.3 531.9h.01M584.5 499.7h.01M584.7 521.7h.01M584.9 520.8h.01M585.1 522.3h.01M585.3 529.8h.01M585.4 528.7h.01M585.6 521.1h.01M585.8 522.2h.01M586 539h.01M586.2 538.8h.01M586.4 526.6h.01M586.6 534h.01M586.7 530.6h.01M586.9 539.4h.01M587.1 550.3h.01M587.3 539.5h.01M587.5 543.9h.01M587.7 515.5h.01M587.8 541.5h.01M588 518.5h.01M588.2 523.5h.01M588.4 536.7h.01M588.6 544.7h.01M588.8 515.4h.01M589 518h.01M589.1 517.3h.01M589.3 516.1h.01M589.5 539.4h.01M589.7 524.3h.01M589.9 534.2h.01M590.1 528.3h.01M590.2 518.1h.01M590.4 535h.01M590.6 523.2h.01M590.8 519.6h.01M591 528.6h.01M591.2 548.3h.01M591.4 536.9h.01M591.5 530h.01M591.7 534.1h.01M591.9 515h.01M592.1 538h.01M592.3 535h.01M592.5 525h.01M592.6 544.1h.01M592.8 544.7h.01M593 544.3h.01M593.2 526.9h.01M593.4 542.4h.01M593.6 522.1h.01M593.8 529.4h.01M593.9 517.6h.01M594.1 553.2h.01M594.3 507.6h.01M594.5 544.1h.01M594.7 519.2h.01M594.9 509.4h.01M595.1 532.4h.01M595.2 554.7h.01M595.4 529.2h.01M595.6 518h.01M595.8 543.9h.01M596 536.8h.01M596.2 530.1h.01M596.3 532.2h.01M596.5 528h.01M596.7 527.8h.01M596.9 534.3h.01M597.1 531h.01M597.3 529.1h.01M597.5 527.7h.01M597.6 494.4h.01M597.8 500.3h.01M598 529.8h.01M598.2 546.7h.01M598.4 540.2h.01M598.6 533.6h.01M598.7 542.5h.01M598.9 530.6h.01M599.1 536.4h.01M599.3 529.5h.01M599.5 532.8h.01M599.7 534.4h.01M599.9 510h.01M600 531.2h.01M600.2 540.8h.01M600.4 512.8h.01M600.6 518.6h.01M600.8 547.3h.01M601 526.1h.01M601.1 518.5h.01M601.3 528.9h.01M601.5 537.1h.01M601.7 515.7h.01M601.9 530.1h.01M602.1 539.2h.01M602.3 514.1h.01M602.4 518.9h.01M602.6 523.4h.01M602.8 541.1h.01M603 507.4h.01M603.2 536.6h.01M603.4 516.1h.01M603.5 521.5h.01M603.7 511.6h.01M603.9 541.4h.01M604.1 530.3h.01M604.3 538.5h.01M604.5 507.4h.01M604.7 524.1h.01M604.8 512.6h.01M605 509.9h.01M605.2 518.8h.01M605.4 524.9h.01M605.6 521.2h.01M605.8 516.2h.01M605.9 534.7h.01M606.1 546.7h.01M606.3 504.8h.01M606.5 523.1h.01M606.7 531.3h.01M606.9 545.6h.01M607.1 521.3h.01M607.2 531.5h.01M607.4 514.3h.01M607.6 525.3h.01M607.8 511.6h.01M608 541.5h.01M608.2 542.1h.01M608.3 511h.01M608.5 509.7h.01M608.7 541.9h.01M608.9 517.4h.01M609.1 518.7h.01M609.3 534.8h.01M609.5 529.6h.01M609.6 538h.01M609.8 536.4h.01M610 540.4h.01M610.2 514.7h.01M610.4 529h.01M610.6 545.1h.01M610.7 539.8h.01M610.9 535.2h.01M611.1 519.5h.01M611.3 539.2h.01M611.5 509.1h.01M611.7 503.2h.01M611.9 506.5h.01M612 518.4h.01M612.2 505.8h.01M612.4 503.9h.01M612.6 535.7h.01M612.8 520.3h.01M613 512.3h.01M613.1 540h.01M613.3 530.8h.01M613.5 510.1h.01M613.7 525.7h.01M613.9 524.5h.01M614.1 526.3h.01M614.3 535.8h.01M614.4 512.6h.01M614.6 516.4h.01M614.8 527.5h.01M615 509.8h.01M615.2 529.7h.01M615.4 527.5h.01M615.5 516.2h.01M615.7 530.2h.01M615.9 511.1h.01M616.1 511.5h.01M616.3 519.5h.01M616.5 495.2h.01M616.7 515.7h.01M616.8 500.2h.01M617 498.7h.01M617.2 511.4h.01M617.4 505.4h.01M617.6 496.5h.01M617.8 509.3h.01M617.9 523.2h.01M618.1 525.3h.01M618.3 530.2h.01M618.5 501.3h.01M618.7 507.1h.01M618.9 530.5h.01M619.1 519.3h.01M619.2 511.9h.01M619.4 523.7h.01M619.6 524.9h.01M619.8 510.9h.01M620 511.7h.01M620.2 490.4h.01M620.3 498.9h.01M620.5 483.2h.01M620.7 502.2h.01M620.9 498.8h.01M621.1 497.8h.01M621.3 486.1h.01M621.5 489.8h.01M621.6 510h.01M621.8 500.3h.01M622 479.1h.01M622.2 486.4h.01M622.4 490.3h.01M622.6 501.2h.01M622.8 500.8h.01M622.9 494.5h.01M623.1 507.5h.01M623.3 497.9h.01M623.5 493.4h.01M623.7 510.1h.01M623.9 485.8h.01M624 499.9h.01M624.2 490.5h.01M624.4 496h.01M624.6 499.6h.01M624.8 503.2h.01M625 493.5h.01M625.2 489.9h.01M625.3 479.1h.01M625.5 480.4h.01M625.7 481.4h.01M625.9 484.1h.01M626.1 481.4h.01M626.3 504.3h.01M626.4 474.4h.01M626.6 491.5h.01M626.8 487.1h.01M627 476.8h.01M627.2 482.1h.01M627.4 475.5h.01M627.6 497.9h.01M627.7 483.4h.01M627.9 496.2h.01M628.1 485.3h.01M628.3 488.7h.01M628.5 488.3h.01M628.7 473.4h.01M628.8 474.2h.01M629 478.3h.01M629.2 482h.01M629.4 483.9h.01M629.6 489.3h.01M629.8 477.9h.01M630 481.1h.01M630.1 477h.01M630.3 492h.01M630.5 501.2h.01M630.7 490.3h.01M630.9 487.5h.01M631.1 489.8h.01M631.2 491.6h.01M631.4 489.6h.01M631.6 477.6h.01M631.8 490.5h.01M632 489.3h.01M632.2 482.5h.01M632.4 488.3h.01M632.5 475.1h.01M632.7 475.3h.01M632.9 483.2h.01M633.1 489.6h.01M633.3 496.2h.01M633.5 476.2h.01M633.6 485.3h.01M633.8 487.6h.01M634 482.1h.01M634.2 474.3h.01M634.4 474.5h.01M634.6 474.4h.01M634.8 473.6h.01M634.9 492.1h.01M635.1 482.8h.01M635.3 483.4h.01M635.5 473.8h.01M635.7 476.9h.01M635.9 489.1h.01M636 501.9h.01M636.2 481.1h.01M636.4 493.5h.01M636.6 473.7h.01M636.8 491.4h.01M637 488.4h.01M637.2 485.9h.01M637.3 484.1h.01M637.5 488.9h.01M637.7 487.6h.01M637.9 483.1h.01M638.1 492h.01M638.3 484.7h.01M638.4 489.5h.01M638.6 495.2h.01M638.8 508h.01M639 505.4h.01M639.2 515.6h.01M639.4 523.8h.01M639.6 540.2h.01M639.7 527.6h.01M639.9 520.3h.01M640.1 521.3h.01M640.3 535.1h.01M640.5 531.6h.01M640.7 529.7h.01M640.8 541.5h.01M641 494.4h.01M641.2 519h.01M641.4 531.2h.01M641.6 536.3h.01M641.8 526.6h.01M642 528h.01M642.1 534.2h.01M642.3 518.8h.01M642.5 512.5h.01M642.7 531.8h.01M642.9 542.7h.01M643.1 541.9h.01M643.2 521.9h.01M643.4 532.2h.01M643.6 527.6h.01M643.8 515.7h.01M644 527.3h.01M644.2 517.2h.01M644.4 520.7h.01M644.5 535.5h.01M644.7 512.9h.01M644.9 528.7h.01M645.1 540.4h.01M645.3 542h.01M645.5 547.6h.01M645.6 537.5h.01M645.8 530.5h.01M646 513.4h.01M646.2 541.8h.01M646.4 529.8h.01M646.6 529.2h.01M646.8 523.7h.01M646.9 542.2h.01M647.1 537.5h.01M647.3 511.6h.01M647.5 534.3h.01M647.7 521.1h.01M647.9 521.1h.01M648 525.3h.01M648.2 523h.01M648.4 504.1h.01M648.6 509.8h.01M648.8 502.6h.01M649 491h.01M649.2 526.6h.01M649.3 517.6h.01M649.5 516.6h.01M649.7 529.8h.01M649.9 515.4h.01M650.1 514h.01M650.3 515.6h.01M650.4 522.5h.01M650.6 512.7h.01M650.8 533.3h.01M651 505.5h.01M651.2 495.9h.01M651.4 509.8h.01M651.6 514.5h.01M651.7 491.5h.01M651.9 522.8h.01M652.1 514.8h.01M652.3 516.7h.01M652.5 528.1h.01M652.7 516.8h.01M652.9 522.4h.01M653 522.6h.01M653.2 523.5h.01M653.4 540h.01M653.6 525.8h.01M653.8 531.6h.01M654 537h.01M654.1 548.6h.01M654.3 523.2h.01M654.5 520.8h.01M654.7 544.1h.01M654.9 540.8h.01M655.1 520.8h.01M655.3 529h.01M655.4 531.8h.01M655.6 528h.01M655.8 530h.01M656 555.8h.01M656.2 548.5h.01M656.4 531.3h.01M656.5 523.9h.01M656.7 548.1h.01M656.9 541.2h.01M657.1 540.8h.01M657.3 533.7h.01M657.5 567.3h.01M657.7 529.6h.01M657.8 554.8h.01M658 535.9h.01M658.2 544.2h.01M658.4 538.4h.01M658.6 547.2h.01M658.8 535.4h.01M658.9 537.6h.01M659.1 552.4h.01M659.3 537h.01M659.5 545.2h.01M659.7 536.1h.01M659.9 547.3h.01M660.1 528.6h.01M660.2 555.8h.01M660.4 556.1h.01M660.6 534.9h.01M660.8 535.7h.01M661 526.9h.01M661.2 536.5h.01M661.3 530h.01M661.5 529.4h.01M661.7 542.5h.01M661.9 568.2h.01M662.1 533.9h.01M662.3 553.4h.01M662.5 549.5h.01M662.6 535.1h.01M662.8 543.3h.01M663 517h.01M663.2 524.2h.01M663.4 516.9h.01M663.6 515.4h.01M663.7 518.2h.01M663.9 527h.01M664.1 534h.01M664.3 521.5h.01M664.5 527.1h.01M664.7 518.2h.01M664.9 536.6h.01M665 497.2h.01M665.2 546.9h.01M665.4 537.9h.01M665.6 538.8h.01M665.8 542.5h.01M666 522h.01M666.1 537.6h.01M666.3 543.4h.01M666.5 546.6h.01M666.7 526.8h.01M666.9 518.1h.01M667.1 539.4h.01M667.3 529h.01M667.4 519.9h.01M667.6 511.5h.01M667.8 535h.01M668 526.7h.01M668.2 515.1h.01M668.4 542.3h.01M668.5 511.1h.01M668.7 529.9h.01M668.9 517.4h.01M669.1 530.6h.01M669.3 540.2h.01M669.5 524.7h.01M669.7 525.2h.01M669.8 516.4h.01M670 530.8h.01M670.2 523.4h.01M670.4 542.3h.01M670.6 533.2h.01M670.8 528h.01M670.9 544.3h.01M671.1 519.1h.01M671.3 522.6h.01M671.5 529.7h.01M671.7 522.8h.01M671.9 538.8h.01M672.1 548.8h.01M672.2 527.9h.01M672.4 531.6h.01M672.6 529h.01M672.8 538.8h.01M673 517h.01M673.2 528.2h.01M673.3 531.6h.01M673.5 510.4h.01M673.7 521.1h.01M673.9 517.1h.01M674.1 522.9h.01M674.3 526.2h.01M674.5 527.6h.01M674.6 536.9h.01M674.8 525.1h.01M675 514.1h.01M675.2 534.4h.01M675.4 526.8h.01M675.6 528.5h.01M675.7 512.5h.01M675.9 506.1h.01M676.1 530.5h.01M676.3 525.7h.01M676.5 516.9h.01M676.7 521.6h.01M676.9 529h.01M677 525.9h.01M677.2 518.9h.01M677.4 516.9h.01M677.6 510.2h.01M677.8 519.3h.01M678 527.1h.01M678.1 508.7h.01M678.3 528.7h.01M678.5 521.3h.01M678.7 509.6h.01M678.9 514.6h.01M679.1 521.8h.01M679.3 512.6h.01M679.4 516.1h.01M679.6 531.7h.01M679.8 514.5h.01M680 509.4h.01M680.2 527.3h.01M680.4 535.1h.01M680.5 503.5h.01M680.7 501.7h.01M680.9 523.2h.01M681.1 514h.01M681.3 525.1h.01M681.5 521.9h.01M681.7 489h.01M681.8 479.3h.01M682 475.9h.01M682.2 479.4h.01M682.4 477.4h.01M682.6 485h.01M682.8 473.4h.01M683 495.8h.01M683.1 482.9h.01M683.3 486.3h.01M683.5 487.6h.01M683.7 485.9h.01M683.9 478.3h.01M684.1 473.5h.01M684.2 489.2h.01M684.4 476.4h.01M684.6 483.7h.01M684.8 476.5h.01M685 474.8h.01M685.2 478.2h.01M685.4 484.9h.01M685.5 492.8h.01M685.7 479.1h.01M685.9 476.1h.01M686.1 489.9h.01M686.3 484.2h.01M686.5 476.7h.01M686.6 495h.01M686.8 477.9h.01M687 476.4h.01M687.2 477h.01M687.4 475.8h.01M687.6 486.4h.01M687.8 476.6h.01M687.9 486.5h.01M688.1 473.6h.01M688.3 495h.01M688.5 474.8h.01M688.7 489.8h.01M688.9 476.7h.01M689 486.7h.01M689.2 475.5h.01M689.4 489.9h.01M689.6 476.6h.01M689.8 482.4h.01M690 479.1h.01M690.2 473.6h.01M690.3 475.9h.01M690.5 475.8h.01M690.7 474.8h.01M690.9 476.8h.01M691.1 489.1h.01M691.3 481.9h.01M691.4 482.8h.01M691.6 475.6h.01M691.8 475.8h.01M692 476.5h.01M692.2 492.1h.01M692.4 496h.01M692.6 476.8h.01M692.7 473.4h.01M692.9 490h.01M693.1 474.1h.01M693.3 478.6h.01M693.5 477.7h.01M693.7 484.4h.01M693.8 488.7h.01M694 492.1h.01M694.2 480.5h.01M694.4 490h.01M694.6 475.7h.01M694.8 473.8h.01M695 489.5h.01M695.1 496.4h.01M695.3 495h.01M695.5 495.5h.01M695.7 480.1h.01M695.9 495.8h.01M696.1 481.9h.01M696.2 497.6h.01M696.4 497.6h.01M696.6 487h.01M696.8 494.1h.01M697 480.7h.01M697.2 482.7h.01M697.4 499.4h.01M697.5 498.1h.01M697.7 507.7h.01M697.9 485.8h.01M698.1 498.6h.01M698.3 508.1h.01M698.5 503.9h.01M698.6 501.2h.01M698.8 507.3h.01M699 505.5h.01M699.2 512.7h.01M699.4 518h.01M699.6 514.7h.01M699.8 517.4h.01M699.9 493.7h.01M700.1 506.1h.01M700.3 512.5h.01M700.5 526.4h.01M700.7 507.2h.01M700.9 500.8h.01M701 502.5h.01M701.2 530.8h.01M701.4 527.7h.01M701.6 500.4h.01M701.8 507h.01M702 486.2h.01M702.2 529.4h.01M702.3 520.7h.01M702.5 531.1h.01M702.7 485.7h.01M702.9 531.5h.01M703.1 514h.01M703.3 514.3h.01M703.4 528.8h.01M703.6 511.9h.01M703.8 539.1h.01M704 516.6h.01M704.2 521.9h.01M704.4 529.7h.01M704.6 509.9h.01M704.7 532.4h.01M704.9 518.2h.01M705.1 528.9h.01M705.3 521.6h.01M705.5 530.6h.01M705.7 519h.01M705.8 530.8h.01M706 550.7h.01M706.2 540.7h.01M706.4 522.1h.01M706.6 528.2h.01M706.8 526.4h.01M707 523.1h.01M707.1 542.4h.01M707.3 542.8h.01M707.5 545.6h.01M707.7 540.2h.01M707.9 545h.01M708.1 545.9h.01M708.2 531.8h.01M708.4 547.1h.01M708.6 535.3h.01M708.8 546.6h.01M709 552.9h.01M709.2 504.5h.01M709.4 535.1h.01M709.5 547.4h.01M709.7 525.4h.01M709.9 540.2h.01M710.1 523.6h.01M710.3 565.2h.01M710.5 535.6h.01M710.7 550.1h.01M710.8 527.3h.01M711 523.1h.01M711.2 548.1h.01M711.4 531.8h.01M711.6 544.8h.01M711.8 520.4h.01M711.9 547h.01M712.1 528.9h.01M712.3 542.5h.01M712.5 523.5h.01M712.7 531.7h.01M712.9 545.8h.01M713.1 546h.01M713.2 526h.01M713.4 527.4h.01M713.6 523.8h.01M713.8 527.4h.01M714 528.9h.01M714.2 523.4h.01M714.3 551.5h.01M714.5 530.9h.01M714.7 523.4h.01M714.9 526h.01M715.1 528.5h.01M715.3 553.9h.01M715.5 532.4h.01M715.6 518.3h.01M715.8 511.6h.01M716 531.9h.01M716.2 515.4h.01M716.4 546.4h.01M716.6 536.7h.01M716.7 517.7h.01M716.9 514.3h.01M717.1 536.4h.01M717.3 535.1h.01M717.5 556h.01M717.7 523.3h.01M717.9 531.3h.01M718 542.6h.01M718.2 541.9h.01M718.4 524.4h.01M718.6 541.2h.01M718.8 541.9h.01M719 521.3h.01M719.1 546.3h.01M719.3 537h.01M719.5 529.9h.01M719.7 523.2h.01M719.9 520.7h.01M720.1 527.1h.01M720.3 532.6h.01M720.4 517.4h.01M720.6 547.9h.01M720.8 545h.01M721 519.4h.01M721.2 535.3h.01M721.4 539h.01M721.5 525.3h.01M721.7 528.9h.01M721.9 523.8h.01M722.1 539.9h.01M722.3 520.5h.01M722.5 519.2h.01M722.7 531.1h.01M722.8 535.6h.01M723 526.2h.01M723.2 526.4h.01M723.4 523.6h.01M723.6 523.9h.01M723.8 537.9h.01M723.9 527.6h.01M724.1 511h.01M724.3 535.5h.01M724.5 522.7h.01M724.7 528.2h.01M724.9 528.1h.01M725.1 522.6h.01M725.2 532.9h.01M725.4 528.6h.01M725.6 529.8h.01M725.8 535.6h.01M726 512.2h.01M726.2 506.9h.01M726.3 508.8h.01M726.5 513h.01M726.7 541.9h.01M726.9 523.1h.01M727.1 500.1h.01M727.3 515h.01M727.5 505.7h.01M727.6 521.7h.01M727.8 515.4h.01M728 510.8h.01M728.2 519.9h.01M728.4 509.3h.01M728.6 520.4h.01M728.7 533.6h.01M728.9 509.5h.01M729.1 498.3h.01M729.3 529.1h.01M729.5 538.3h.01M729.7 518.7h.01M729.9 519.9h.01M730 513h.01M730.2 522.2h.01M730.4 511.1h.01M730.6 540.1h.01M730.8 492.9h.01M731 536.2h.01M731.1 527.2h.01M731.3 510.1h.01M731.5 519.1h.01M731.7 520.5h.01M731.9 516.5h.01M732.1 498.9h.01M732.3 524.5h.01M732.4 538.9h.01M732.6 520.6h.01M732.8 518.7h.01M733 526.3h.01M733.2 544.8h.01M733.4 545.4h.01M733.5 547.3h.01M733.7 544.6h.01M733.9 536h.01M734.1 545.2h.01M734.3 548.3h.01M734.5 540.6h.01M734.7 538.1h.01M734.8 540.3h.01M735 531.5h.01M735.2 536h.01M735.4 541.9h.01M735.6 516.9h.01M735.8 543.1h.01M735.9 533.7h.01M736.1 547.8h.01M736.3 533.6h.01M736.5 552.4h.01M736.7 540.5h.01M736.9 538.2h.01M737.1 552.8h.01M737.2 533.6h.01M737.4 556.5h.01M737.6 542.8h.01M737.8 541.3h.01M738 531.5h.01M738.2 556.1h.01M738.3 554.3h.01M738.5 553h.01M738.7 554h.01M738.9 543.1h.01M739.1 545.7h.01M739.3 536h.01M739.5 541.3h.01M739.6 532.7h.01M739.8 542.6h.01M740 536.6h.01M740.2 539.1h.01M740.4 547.2h.01M740.6 529h.01M740.8 524h.01M740.9 529.5h.01M741.1 530.2h.01M741.3 535.2h.01M741.5 524.4h.01M741.7 528h.01M741.9 539.4h.01M742 517.1h.01M742.2 546.5h.01M742.4 517.8h.01M742.6 510h.01M742.8 515.6h.01M743 520.5h.01M743.2 538.9h.01M743.3 509.8h.01M743.5 535.4h.01M743.7 508.2h.01M743.9 545.5h.01M744.1 521.6h.01M744.3 536.1h.01M744.4 509.3h.01M744.6 508.5h.01M744.8 511h.01M745 518.5h.01M745.2 522.6h.01M745.4 508.8h.01M745.6 506.4h.01M745.7 540.3h.01M745.9 516.7h.01M746.1 517.8h.01M746.3 531.5h.01M746.5 533.9h.01M746.7 498.8h.01M746.8 504.9h.01M747 518.8h.01M747.2 527.6h.01M747.4 511.3h.01M747.6 522.2h.01M747.8 509.4h.01M748 515.1h.01M748.1 524.6h.01M748.3 512h.01M748.5 508.5h.01M748.7 517.3h.01M748.9 517.3h.01M749.1 501h.01M749.2 517.4h.01M749.4 528.6h.01M749.6 517.1h.01M749.8 506.9h.01M750 509.2h.01M750.2 498.5h.01M750.4 512.2h.01M750.5 529.6h.01M750.7 513.5h.01M750.9 501.2h.01M751.1 493.2h.01M751.3 500.4h.01M751.5 497.3h.01M751.6 479.3h.01M751.8 499.4h.01M752 491.2h.01M752.2 492.1h.01M752.4 475.6h.01M752.6 482.1h.01M752.8 489.5h.01M752.9 488.6h.01M753.1 484.8h.01M753.3 492.5h.01M753.5 479.8h.01M753.7 499.1h.01M753.9 492.6h.01M754 492.7h.01M754.2 478.5h.01M754.4 476.6h.01M754.6 478.6h.01M754.8 474.6h.01M755 486.5h.01M755.2 481h.01M755.3 481.5h.01M755.5 481.6h.01M755.7 484.8h.01M755.9 493.7h.01M756.1 482.4h.01M756.3 489.1h.01M756.4 473.8h.01M756.6 486.9h.01M756.8 477.9h.01M757 489.3h.01M757.2 490.6h.01M757.4 486.1h.01M757.6 492h.01M757.7 473.8h.01M757.9 482.4h.01M758.1 487.9h.01M758.3 481.2h.01M758.5 491.1h.01M758.7 492.9h.01M758.8 481.9h.01M759 477.1h.01M759.2 490.1h.01M759.4 476.8h.01M759.6 495.2h.01M759.8 485.2h.01M760 491.2h.01M760.1 504.5h.01M760.3 497.8h.01M760.5 477.9h.01M760.7 488.7h.01M760.9 484.2h.01M761.1 473.5h.01M761.2 495h.01M761.4 474.5h.01M761.6 484.2h.01M761.8 501.9h.01M762 499.6h.01M762.2 486.5h.01M762.4 525.2h.01M762.5 533.1h.01M762.7 554.1h.01M762.9 549.9h.01M763.1 523.8h.01M763.3 520h.01M763.5 546.4h.01M763.6 542h.01M763.8 531.8h.01M764 519.8h.01M764.2 555h.01M764.4 533.6h.01M764.6 549.3h.01M764.8 524.8h.01M764.9 540.5h.01M765.1 537.7h.01M765.3 518.1h.01M765.5 543.9h.01M765.7 529h.01M765.9 529.1h.01M766 533.3h.01M766.2 534.8h.01M766.4 532.4h.01M766.6 537.5h.01M766.8 536.3h.01M767 540.3h.01M767.2 531h.01M767.3 533.5h.01M767.5 554.4h.01M767.7 518.5h.01M767.9 529.9h.01M768.1 542.9h.01M768.3 547.3h.01M768.5 543.1h.01M768.6 535.9h.01M768.8 546.3h.01M769 534.6h.01M769.2 519.1h.01M769.4 551.5h.01M769.6 513.5h.01M769.7 540.2h.01M769.9 523.6h.01M770.1 546.2h.01M770.3 542.5h.01M770.5 538.6h.01M770.7 547.1h.01M770.9 535.1h.01M771 543.3h.01M771.2 537h.01M771.4 548.5h.01M771.6 542.1h.01M771.8 552.3h.01M772 532.5h.01M772.1 523.9h.01M772.3 536.2h.01M772.5 521.6h.01M772.7 546.1h.01M772.9 537.8h.01M773.1 534.2h.01M773.3 542.5h.01M773.4 533h.01M773.6 518.4h.01M773.8 542h.01M774 531.7h.01M774.2 531.6h.01M774.4 525.5h.01M774.5 548.1h.01M774.7 534.4h.01M774.9 535h.01M775.1 516.4h.01M775.3 539.7h.01M775.5 531.9h.01M775.7 519.1h.01M775.8 548.6h.01M776 546h.01M776.2 541.6h.01M776.4 521.6h.01M776.6 529.3h.01M776.8 530.4h.01M776.9 521.6h.01M777.1 523.6h.01M777.3 535.7h.01M777.5 529.2h.01M777.7 526.8h.01M777.9 543.8h.01M778.1 525h.01M778.2 531.9h.01M778.4 541h.01M778.6 523.4h.01M778.8 555.5h.01M779 534.7h.01M779.2 534.5h.01M779.3 552.6h.01M779.5 531.2h.01M779.7 546.4h.01M779.9 531.8h.01M780.1 533.4h.01M780.3 547.6h.01M780.5 531.6h.01M780.6 525.1h.01M780.8 521.8h.01M781 535.8h.01M781.2 568.4h.01M781.4 539.2h.01M781.6 526.2h.01M781.7 538.3h.01M781.9 553.1h.01M782.1 521.4h.01M782.3 529.1h.01M782.5 543.6h.01M782.7 531.1h.01M782.9 535h.01M783 546.6h.01M783.2 535.8h.01M783.4 527.3h.01M783.6 532.6h.01M783.8 530.2h.01M784 522h.01M784.1 527.1h.01M784.3 527.6h.01M784.5 529.7h.01M784.7 525.8h.01M784.9 561.8h.01M785.1 525h.01M785.3 528.7h.01M785.4 550.3h.01M785.6 559h.01M785.8 539.3h.01M786 542.9h.01M786.2 555.5h.01M786.4 559.9h.01M786.5 542.6h.01M786.7 538.9h.01M786.9 529.6h.01M787.1 533.6h.01M787.3 537.8h.01M787.5 535.1h.01M787.7 553.4h.01M787.8 528.8h.01M788 556.9h.01M788.2 558.3h.01M788.4 535.4h.01M788.6 531.5h.01M788.8 549.7h.01M788.9 533.1h.01M789.1 540h.01M789.3 553.2h.01M789.5 550.4h.01M789.7 538.1h.01M789.9 552.4h.01M790.1 550.6h.01M790.2 546.1h.01M790.4 546.8h.01M790.6 550.8h.01M790.8 561h.01M791 542.4h.01M791.2 533.4h.01M791.3 554.5h.01M791.5 565h.01M791.7 557.6h.01M791.9 547.4h.01M792.1 547.7h.01M792.3 534.6h.01M792.5 556.3h.01M792.6 533.9h.01M792.8 540.6h.01M793 557.3h.01M793.2 561.2h.01M793.4 544.7h.01M793.6 534.1h.01M793.7 553.1h.01M793.9 545.1h.01M794.1 544h.01M794.3 538.7h.01M794.5 553h.01M794.7 540.8h.01M794.9 552.7h.01M795 552.1h.01M795.2 544h.01M795.4 566.5h.01M795.6 543.6h.01M795.8 554.7h.01M796 569.1h.01M796.1 553.9h.01M796.3 544.1h.01M796.5 543.8h.01M796.7 556h.01M796.9 536.5h.01M797.1 549h.01M797.3 543.7h.01M797.4 572.3h.01M797.6 540.8h.01M797.8 570.1h.01M798 568.1h.01M798.2 548h.01M798.4 567.4h.01M798.6 565.1h.01M798.7 567.1h.01M798.9 567.7h.01M799.1 532.9h.01M799.3 548.6h.01M799.5 571.4h.01M799.7 563.7h.01M799.8 560.3h.01M800 547.2h.01M800.2 546.8h.01M800.4 540.5h.01M800.6 538.3h.01M800.8 560.1h.01M801 560.8h.01M801.1 552.1h.01M801.3 560.2h.01M801.5 544.3h.01M801.7 544.2h.01M801.9 564.6h.01M802.1 563.3h.01M802.2 536.4h.01M802.4 541.6h.01M802.6 547.9h.01M802.8 534.1h.01M803 559.6h.01M803.2 548.8h.01M803.4 550.7h.01M803.5 556.9h.01M803.7 541.3h.01M803.9 525.8h.01M804.1 537.8h.01M804.3 535.8h.01M804.5 556h.01M804.6 559.7h.01M804.8 550.5h.01M805 531.6h.01M805.2 553.1h.01M805.4 552.6h.01M805.6 528.9h.01M805.8 524.9h.01M805.9 554.8h.01M806.1 531.6h.01M806.3 548.5h.01M806.5 523.5h.01M806.7 515.5h.01M806.9 541.9h.01M807 553.6h.01M807.2 546.8h.01M807.4 550.2h.01M807.6 525.6h.01M807.8 543.5h.01M808 511h.01M808.2 509.1h.01M808.3 520.7h.01M808.5 502.4h.01M808.7 506.3h.01M808.9 500.2h.01M809.1 484.4h.01M809.3 480h.01M809.4 492h.01M809.6 489.8h.01M809.8 487.8h.01M810 490.3h.01M810.2 486.8h.01M810.4 504h.01M810.6 482.5h.01M810.7 498.2h.01M810.9 480.4h.01M811.1 481.2h.01M811.3 484h.01M811.5 498.2h.01M811.7 490.1h.01M811.8 483h.01M812 495.2h.01M812.2 492.8h.01M812.4 502.5h.01M812.6 490.3h.01M812.8 493.2h.01M813 495.6h.01M813.1 479.1h.01M813.3 475.2h.01M813.5 473.3h.01M813.7 487.9h.01M813.9 476.6h.01M814.1 498.4h.01M814.2 485.8h.01M814.4 480.7h.01M814.6 496.5h.01M814.8 485.3h.01M815 482h.01M815.2 475.5h.01M815.4 485.3h.01M815.5 487.8h.01M815.7 475.7h.01M815.9 474.9h.01M816.1 475.7h.01M816.3 496.4h.01M816.5 476.8h.01M816.6 489.2h.01M816.8 496.8h.01M817 480.2h.01M817.2 499.8h.01M817.4 484.5h.01M817.6 492.6h.01M817.8 496.4h.01M817.9 501.9h.01M818.1 493.3h.01M818.3 478.3h.01M818.5 481.9h.01M818.7 501.5h.01M818.9 488.6h.01M819 501.6h.01M819.2 482.4h.01M819.4 505h.01M819.6 502.7h.01M819.8 489.8h.01M820 497.5h.01M820.2 487.4h.01M820.3 509.6h.01M820.5 505.6h.01M820.7 476.9h.01M820.9 483.8h.01M821.1 477.5h.01M821.3 486.1h.01M821.4 481.8h.01M821.6 486h.01M821.8 509h.01M822 510.4h.01M822.2 535.6h.01M822.4 556.5h.01M822.6 528.6h.01M822.7 537.5h.01M822.9 544.8h.01M823.1 538.1h.01M823.3 547h.01M823.5 537.8h.01M823.7 539.8h.01M823.8 532.9h.01M824 552.2h.01M824.2 555h.01M824.4 539.6h.01M824.6 532.7h.01M824.8 539.5h.01M825 556.3h.01M825.1 549.6h.01M825.3 545.8h.01M825.5 547.6h.01M825.7 565.4h.01M825.9 558h.01M826.1 553.6h.01M826.2 554.5h.01M826.4 536.9h.01M826.6 539h.01M826.8 549.4h.01M827 547.2h.01M827.2 552.2h.01M827.4 539.3h.01M827.5 565.4h.01M827.7 546.8h.01M827.9 540.7h.01M828.1 557.3h.01M828.3 551.7h.01M828.5 571.3h.01M828.7 570.4h.01M828.8 548.7h.01M829 557.5h.01M829.2 515.6h.01M829.4 558.4h.01M829.6 552.1h.01M829.8 539.3h.01M829.9 568.7h.01M830.1 560.9h.01M830.3 561.1h.01M830.5 554.2h.01M830.7 529.9h.01M830.9 548.4h.01M831.1 549.1h.01M831.2 537.7h.01M831.4 563.8h.01M831.6 554h.01M831.8 542.5h.01M832 548.9h.01M832.2 551.4h.01M832.3 565.4h.01M832.5 557.2h.01M832.7 540.1h.01M832.9 542h.01M833.1 556h.01M833.3 569.4h.01M833.5 554.8h.01M833.6 563.6h.01M833.8 555.4h.01M834 558.9h.01M834.2 553.1h.01M834.4 536.5h.01M834.6 554.5h.01M834.7 560.9h.01M834.9 550.9h.01M835.1 540.9h.01M835.3 562.8h.01M835.5 555.2h.01M835.7 557.1h.01M835.9 551.8h.01M836 553.7h.01M836.2 546.1h.01M836.4 556.4h.01M836.6 535.9h.01M836.8 549.8h.01M837 530.8h.01M837.1 554.2h.01M837.3 535.6h.01M837.5 548.4h.01M837.7 538.1h.01M837.9 533.5h.01M838.1 545.4h.01M838.3 535.8h.01M838.4 559.2h.01M838.6 545.3h.01M838.8 548.6h.01M839 554.8h.01M839.2 545.6h.01M839.4 548.8h.01M839.5 552.8h.01M839.7 532.6h.01M839.9 552.7h.01M840.1 541.8h.01M840.3 535.7h.01M840.5 526.6h.01M840.7 560.2h.01M840.8 516h.01M841 547.4h.01M841.2 544.8h.01M841.4 548.1h.01M841.6 551.8h.01M841.8 521.8h.01M841.9 545.4h.01M842.1 548.8h.01M842.3 555.7h.01M842.5 557.6h.01M842.7 531.3h.01M842.9 518h.01M843.1 529.8h.01M843.2 565.2h.01M843.4 537.6h.01M843.6 531.1h.01M843.8 545.9h.01M844 561.1h.01M844.2 543.1h.01M844.3 526h.01M844.5 533.3h.01M844.7 535h.01M844.9 549h.01M845.1 554.4h.01M845.3 541.8h.01M845.5 553.7h.01M845.6 549.1h.01M845.8 539.1h.01M846 562.1h.01M846.2 546.6h.01M846.4 528.8h.01M846.6 545.7h.01M846.7 536.8h.01M846.9 540.5h.01M847.1 557.1h.01M847.3 570.2h.01M847.5 532.2h.01M847.7 538.5h.01M847.9 551.6h.01M848 535.3h.01M848.2 555.6h.01M848.4 549.8h.01M848.6 544.2h.01M848.8 551h.01M849 540.7h.01M849.1 530.9h.01M849.3 557.6h.01M849.5 552.5h.01M849.7 528.7h.01M849.9 554.8h.01M850.1 531.6h.01M850.3 542.5h.01M850.4 558.7h.01M850.6 545.9h.01M850.8 549.5h.01M851 566.5h.01M851.2 554.7h.01M851.4 537.5h.01M851.5 533.7h.01M851.7 538.7h.01M851.9 535h.01M852.1 538.7h.01M852.3 560.1h.01M852.5 546.9h.01M852.7 523.9h.01M852.8 528.1h.01M853 558.8h.01M853.2 546.3h.01M853.4 536.6h.01M853.6 535h.01M853.8 535.7h.01M853.9 554.9h.01M854.1 544.2h.01M854.3 544.4h.01M854.5 548.2h.01M854.7 537.5h.01M854.9 534.2h.01M855.1 538.7h.01M855.2 539.6h.01M855.4 528.9h.01M855.6 547.6h.01M855.8 537h.01M856 553.7h.01M856.2 550.8h.01M856.4 534.2h.01M856.5 556.6h.01M856.7 553.1h.01M856.9 543.1h.01M857.1 539.2h.01M857.3 530.9h.01M857.5 540.7h.01M857.6 531.6h.01M857.8 526.9h.01M858 537.3h.01M858.2 524h.01M858.4 538.8h.01M858.6 545.2h.01M858.8 532.6h.01M858.9 532.8h.01M859.1 549.1h.01M859.3 529.9h.01M859.5 537.8h.01M859.7 526.1h.01M859.9 554.8h.01M860 539.4h.01M860.2 547.7h.01M860.4 554.9h.01M860.6 555.7h.01M860.8 538h.01M861 557.3h.01M861.2 536.2h.01M861.3 528.2h.01M861.5 529.4h.01M861.7 539.5h.01M861.9 534.9h.01M862.1 537.8h.01M862.3 532.2h.01M862.4 516.5h.01M862.6 529h.01M862.8 534.8h.01M863 534.2h.01M863.2 553.8h.01M863.4 541.3h.01M863.6 554.4h.01M863.7 527.4h.01M863.9 531.1h.01M864.1 537.4h.01M864.3 553.3h.01M864.5 537.9h.01M864.7 547.3h.01M864.8 536.4h.01M865 544.1h.01M865.2 525.8h.01M865.4 541.7h.01M865.6 550.9h.01M865.8 541.7h.01M866 531h.01M866.1 545.6h.01M866.3 545.8h.01M866.5 547.2h.01M866.7 542.7h.01M866.9 520h.01M867.1 526.6h.01M867.2 531.3h.01M867.4 529h.01M867.6 551.1h.01M867.8 522.7h.01M868 522.8h.01M868.2 544.1h.01M868.4 525.6h.01M868.5 523.1h.01M868.7 533.7h.01M868.9 535h.01M869.1 536.6h.01M869.3 511.8h.01M869.5 539.9h.01M869.6 530.3h.01M869.8 534.1h.01M870 519.5h.01M870.2 509h.01M870.4 523.6h.01M870.6 518.5h.01M870.8 491.2h.01M870.9 485.4h.01M871.1 497.6h.01M871.3 501.2h.01M871.5 492h.01M871.7 489.6h.01M871.9 503.4h.01M872 491.2h.01M872.2 490.3h.01M872.4 487.4h.01M872.6 493.7h.01M872.8 508h.01M873 485.3h.01M873.2 497.1h.01M873.3 512.1h.01M873.5 486.7h.01M873.7 502.9h.01M873.9 491.1h.01M874.1 497.7h.01M874.3 503.9h.01M874.4 498.6h.01M874.6 507.7h.01M874.8 480.4h.01M875 495.7h.01M875.2 493.6h.01M875.4 498.7h.01M875.6 502.3h.01M875.7 488.1h.01M875.9 506.4h.01M876.1 495.2h.01M876.3 490.8h.01M876.5 492.9h.01M876.7 505.9h.01M876.8 483.7h.01M877 489.2h.01M877.2 490.7h.01M877.4 496.6h.01M877.6 506.2h.01M877.8 497.5h.01M878 480.2h.01M878.1 484.3h.01M878.3 493.4h.01M878.5 503.2h.01M878.7 489.6h.01M878.9 488.1h.01M879.1 488.5h.01M879.2 501.9h.01M879.4 504.1h.01M879.6 508.6h.01M879.8 497.5h.01M880 517.3h.01M880.2 521.1h.01M880.4 499.7h.01M880.5 522.1h.01M880.7 497.3h.01M880.9 521.2h.01M881.1 525.9h.01M881.3 529.9h.01M881.5 522.3h.01M881.6 507.9h.01M881.8 520.7h.01M882 512h.01M882.2 513.2h.01M882.4 535.4h.01M882.6 529.4h.01M882.8 519.6h.01M882.9 516.6h.01M883.1 529.7h.01M883.3 521.4h.01M883.5 544.9h.01M883.7 547.4h.01M883.9 527h.01M884 527.5h.01M884.2 522.8h.01M884.4 536.8h.01M884.6 542.6h.01M884.8 543.3h.01M885 517.2h.01M885.2 503.7h.01M885.3 524.5h.01M885.5 523.3h.01M885.7 543.1h.01M885.9 522.9h.01M886.1 532.5h.01M886.3 511.4h.01M886.5 530.4h.01M886.6 535.1h.01M886.8 525.4h.01M887 548.3h.01M887.2 523.9h.01M887.4 522.3h.01M887.6 540.2h.01M887.7 531.2h.01M887.9 520.7h.01M888.1 546.4h.01M888.3 537.6h.01M888.5 515.1h.01M888.7 520h.01M888.9 528.4h.01M889 521.9h.01M889.2 522.5h.01M889.4 499.5h.01M889.6 546.7h.01M889.8 535.8h.01M890 551.4h.01M890.1 530.5h.01M890.3 528.5h.01M890.5 545.9h.01M890.7 522h.01M890.9 534.2h.01M891.1 533.5h.01M891.3 548.8h.01M891.4 535.4h.01M891.6 526.8h.01M891.8 527.7h.01M892 553.1h.01M892.2 545.4h.01M892.4 542.7h.01M892.5 558h.01M892.7 514.7h.01M892.9 544.6h.01M893.1 548.2h.01M893.3 540.7h.01M893.5 539.9h.01M893.7 547.5h.01M893.8 550.6h.01M894 534.7h.01M894.2 562.3h.01M894.4 552.8h.01M894.6 550.9h.01M894.8 557.6h.01M894.9 529.7h.01M895.1 542.7h.01M895.3 553.1h.01M895.5 543.8h.01M895.7 528.5h.01M895.9 542.6h.01M896.1 535.4h.01M896.2 547.9h.01M896.4 538h.01M896.6 529.3h.01M896.8 548.5h.01M897 521h.01M897.2 535.4h.01M897.3 545.6h.01M897.5 533h.01M897.7 526.7h.01M897.9 521.3h.01M898.1 546.1h.01M898.3 548.1h.01M898.5 542.6h.01M898.6 540.2h.01M898.8 532.2h.01M899 528.9h.01M899.2 532h.01M899.4 523.6h.01M899.6 527.9h.01M899.7 527.4h.01M899.9 523.6h.01M900.1 524.5h.01M900.3 551.7h.01M900.5 534h.01M900.7 538.1h.01M900.9 523.2h.01M901 527.9h.01M901.2 556.3h.01M901.4 522.6h.01M901.6 538.1h.01M901.8 518.8h.01M902 528.9h.01M902.1 522.3h.01M902.3 513.6h.01M902.5 527.9h.01M902.7 527.8h.01M902.9 519.9h.01M903.1 530.6h.01M903.3 534.6h.01M903.4 528.3h.01M903.6 529.6h.01M903.8 544.8h.01M904 517.8h.01M904.2 528.2h.01M904.4 520.9h.01M904.5 532.7h.01M904.7 517.6h.01M904.9 548.2h.01M905.1 547.5h.01M905.3 539.7h.01M905.5 525.1h.01M905.7 529.8h.01M905.8 516.2h.01M906 542.6h.01M906.2 539.6h.01M906.4 526.5h.01M906.6 518.7h.01M906.8 532.2h.01M906.9 548.9h.01M907.1 547.9h.01M907.3 534.5h.01M907.5 532.8h.01M907.7 551.1h.01M907.9 541.2h.01M908.1 536.4h.01M908.2 526.2h.01M908.4 550.9h.01M908.6 537.2h.01M908.8 552h.01M909 521.2h.01M909.2 531.8h.01M909.3 536.7h.01M909.5 542.4h.01M909.7 551.2h.01M909.9 542h.01M910.1 534.5h.01M910.3 541h.01M910.5 526.3h.01M910.6 540.1h.01M910.8 525.4h.01M911 528.9h.01M911.2 548.2h.01M911.4 541.9h.01M911.6 523h.01M911.7 552h.01M911.9 529.6h.01M912.1 545.1h.01M912.3 549.9h.01M912.5 538.4h.01M912.7 548.4h.01M912.9 553.5h.01M913 525.8h.01M913.2 539.6h.01M913.4 544.6h.01M913.6 552.1h.01M913.8 548.9h.01M914 551.5h.01M914.1 535.2h.01M914.3 548.3h.01M914.5 525.6h.01M914.7 514.7h.01M914.9 532.3h.01M915.1 556.8h.01M915.3 553.3h.01M915.4 553.7h.01M915.6 540.4h.01M915.8 549.9h.01M916 529.2h.01M916.2 543.5h.01M916.4 548h.01M916.6 544.3h.01M916.7 555.6h.01M916.9 518.9h.01M917.1 553.4h.01M917.3 548.5h.01M917.5 541h.01M917.7 557.4h.01M917.8 540.8h.01M918 545.4h.01M918.2 536.9h.01M918.4 553.3h.01M918.6 541.8h.01M918.8 565.1h.01M919 541.3h.01M919.1 542.5h.01M919.3 545.9h.01M919.5 567.5h.01M919.7 560.2h.01M919.9 550.7h.01M920.1 547.9h.01M920.2 558.9h.01M920.4 532.4h.01M920.6 554.9h.01M920.8 554.6h.01M921 556.9h.01M921.2 536.4h.01M921.4 542.5h.01M921.5 563.1h.01M921.7 572.5h.01M921.9 537h.01M922.1 534.7h.01M922.3 532.3h.01M922.5 557.4h.01M922.6 527.5h.01M922.8 537.7h.01M923 538.4h.01M923.2 547.4h.01M923.4 544.6h.01M923.6 528.4h.01M923.8 543.5h.01M923.9 519.9h.01M924.1 515.7h.01M924.3 521.8h.01M924.5 545.1h.01M924.7 520.9h.01M924.9 551.1h.01M925 526.3h.01M925.2 515.6h.01M925.4 539.3h.01M925.6 526.9h.01M925.8 519h.01M926 523.9h.01M926.2 513.5h.01M926.3 540.4h.01M926.5 537.6h.01M926.7 536.7h.01M926.9 514h.01M927.1 537.4h.01M927.3 540.1h.01M927.4 506.4h.01M927.6 522.5h.01M927.8 544.3h.01M928 508.4h.01M928.2 507.8h.01M928.4 531.3h.01M928.6 521.2h.01M928.7 520h.01M928.9 534.9h.01M929.1 516.3h.01M929.3 527.7h.01M929.5 518.6h.01M929.7 525.5h.01M929.8 534.6h.01M930 543.2h.01M930.2 537.3h.01M930.4 522.1h.01M930.6 515.9h.01M930.8 507h.01M931 509.7h.01M931.1 517.3h.01M931.3 533.4h.01M931.5 513.7h.01M931.7 502.2h.01M931.9 527.7h.01M932.1 524.8h.01M932.2 503.2h.01M932.4 504.5h.01M932.6 492.2h.01M932.8 501.8h.01M933 477.2h.01M933.2 477.2h.01M933.4 488.9h.01M933.5 481.6h.01M933.7 481.5h.01M933.9 491.6h.01M934.1 498.4h.01M934.3 492.1h.01M934.5 481.1h.01M934.6 498.8h.01M934.8 475.8h.01M935 479h.01M935.2 479.6h.01M935.4 488.1h.01M935.6 498.6h.01M935.8 498.5h.01M935.9 481.4h.01M936.1 483.1h.01M936.3 491.3h.01M936.5 481.9h.01M936.7 473.6h.01M936.9 484.6h.01M937 480.3h.01M937.2 490.8h.01M937.4 475h.01M937.6 482.2h.01M937.8 484.4h.01M938 497.7h.01M938.2 477.4h.01M938.3 479.3h.01M938.5 490.8h.01M938.7 475h.01M938.9 484.9h.01M939.1 481.2h.01M939.3 494h.01M939.4 482.9h.01M939.6 498.1h.01M939.8 485h.01M940 476h.01M940.2 489.6h.01M940.4 488.4h.01M940.6 483.1h.01M940.7 487.4h.01M940.9 475.8h.01M941.1 475.7h.01M941.3 481.7h.01M941.5 488.7h.01M941.7 481.5h.01M941.8 480.5h.01M942 483.5h.01M942.2 485.9h.01M942.4 491.2h.01M942.6 487.6h.01M942.8 490.6h.01M943 487.5h.01M943.1 477.7h.01M943.3 474.8h.01M943.5 495.3h.01M943.7 477.3h.01M943.9 483.9h.01M944.1 488.7h.01M944.3 482.6h.01M944.4 482.7h.01M944.6 496.1h.01M944.8 486.9h.01M945 482.1h.01M945.2 473.8h.01M945.4 477.3h.01M945.5 492.6h.01M945.7 474.5h.01M945.9 482h.01M946.1 476h.01M946.3 475.7h.01M946.5 474.9h.01M946.7 475.1h.01M946.8 490.5h.01M947 484.7h.01M947.2 480.7h.01M947.4 499.8h.01M947.6 482.2h.01M947.8 492h.01M947.9 475.6h.01M948.1 504h.01M948.3 504h.01M948.5 502.7h.01M948.7 539.9h.01M948.9 541.7h.01M949.1 534.7h.01M949.2 522.7h.01M949.4 536.3h.01M949.6 526.1h.01M949.8 559.4h.01M950 517.5h.01M950.2 520.5h.01M950.3 542.1h.01M950.5 542.4h.01M950.7 548.4h.01M950.9 523.3h.01M951.1 533.8h.01M951.3 528.6h.01M951.5 516.4h.01M951.6 546.6h.01M951.8 516.3h.01M952 549.9h.01M952.2 517.4h.01M952.4 537.6h.01M952.6 526.6h.01M952.7 521.7h.01M952.9 525.3h.01M953.1 528.2h.01M953.3 528.6h.01M953.5 534.5h.01M953.7 547h.01M953.9 518.9h.01M954 532.6h.01M954.2 509.6h.01M954.4 524.3h.01M954.6 536.7h.01M954.8 522.8h.01M955 549.3h.01M955.1 547.4h.01M955.3 531.9h.01M955.5 541.1h.01M955.7 525.7h.01M955.9 537.5h.01M956.1 545h.01M956.3 543.8h.01M956.4 550.5h.01M956.6 540.3h.01M956.8 552.7h.01M957 552.9h.01M957.2 544.2h.01M957.4 525h.01M957.5 535.6h.01M957.7 529.6h.01M957.9 550.9h.01M958.1 533.9h.01M958.3 527.1h.01M958.5 548.8h.01M958.7 535.9h.01M958.8 527.7h.01M959 521.1h.01M959.2 549h.01M959.4 536.2h.01M959.6 535.7h.01M959.8 528h.01M959.9 538.5h.01M960.1 547.1h.01M960.3 540.5h.01M960.5 532h.01M960.7 549.5h.01M960.9 539h.01M961.1 537.8h.01M961.2 549.3h.01M961.4 544.5h.01M961.6 538.9h.01M961.8 528.1h.01M962 557.3h.01M962.2 553.6h.01M962.3 530.8h.01M962.5 546.1h.01M962.7 530.4h.01M962.9 536.2h.01M963.1 533.7h.01M963.3 533.5h.01M963.5 549.8h.01M963.6 530.2h.01M963.8 534.1h.01M964 557.4h.01M964.2 542.3h.01M964.4 530.9h.01M964.6 551h.01M964.7 534.8h.01M964.9 555.4h.01M965.1 532.5h.01M965.3 534.7h.01M965.5 559.2h.01M965.7 548.7h.01M965.9 553.4h.01M966 545.9h.01M966.2 546.8h.01M966.4 534.8h.01M966.6 547.3h.01M966.8 550.4h.01M967 556.3h.01M967.1 544.4h.01M967.3 571.2h.01M967.5 565.1h.01M967.7 559.3h.01M967.9 566.6h.01M968.1 560.3h.01M968.3 558.7h.01M968.4 558.8h.01M968.6 540.6h.01M968.8 557h.01M969 570.3h.01M969.2 560.6h.01M969.4 560.4h.01M969.5 563.3h.01M969.7 568.8h.01M969.9 558.9h.01M970.1 543.1h.01M970.3 550.1h.01M970.5 558.5h.01M970.7 542.4h.01M970.8 559.1h.01M971 546.1h.01M971.2 551.5h.01M971.4 539.8h.01M971.6 561.8h.01M971.8 558h.01M971.9 559h.01M972.1 546.8h.01M972.3 560.9h.01M972.5 530.1h.01M972.7 548.5h.01M972.9 562.1h.01M973.1 540h.01M973.2 560.9h.01M973.4 539.3h.01M973.6 543.6h.01M973.8 536.9h.01M974 544.8h.01M974.2 542.6h.01M974.4 563.2h.01M974.5 536.2h.01M974.7 553.1h.01M974.9 543.6h.01M975.1 554.5h.01M975.3 538.9h.01M975.5 529.2h.01M975.6 532.8h.01M975.8 547.5h.01M976 519.7h.01M976.2 547.1h.01M976.4 532.8h.01M976.6 545.1h.01M976.8 527.8h.01M976.9 550.3h.01M977.1 539.7h.01M977.3 500.5h.01M977.5 523.3h.01M977.7 549.7h.01M977.9 522.8h.01M978 553.7h.01M978.2 520h.01M978.4 541.8h.01M978.6 522.1h.01M978.8 544.5h.01M979 528.6h.01M979.2 533.1h.01M979.3 525.3h.01M979.5 525.6h.01M979.7 543.3h.01M979.9 539.5h.01M980.1 549.1h.01M980.3 532.5h.01M980.4 549.2h.01M980.6 548h.01M980.8 523.2h.01M981 523.8h.01M981.2 534.1h.01M981.4 534.6h.01M981.6 537.1h.01M981.7 520.4h.01M981.9 531.9h.01M982.1 541.2h.01M982.3 533.9h.01M982.5 533.9h.01M982.7 538.8h.01M982.8 530.1h.01M983 527.9h.01M983.2 542.6h.01M983.4 539.1h.01M983.6 554.5h.01M983.8 531.8h.01M984 526.7h.01M984.1 524.3h.01M984.3 540.5h.01M984.5 517.3h.01M984.7 537.7h.01M984.9 522.6h.01M985.1 525.9h.01M985.2 527.6h.01M985.4 520.8h.01M985.6 519.1h.01M985.8 518.7h.01M986 528.7h.01M986.2 526.7h.01M986.4 534.9h.01M986.5 515.8h.01M986.7 539.5h.01M986.9 543.8h.01M987.1 530.2h.01M987.3 531.9h.01M987.5 523.3h.01M987.6 527.1h.01M987.8 542.6h.01M988 543.1h.01M988.2 521.7h.01M988.4 527h.01M988.6 534h.01M988.8 527h.01M988.9 542.3h.01M989.1 533.9h.01M989.3 526.1h.01M989.5 533.4h.01M989.7 528.2h.01M989.9 544.8h.01M990 540.9h.01M990.2 535.2h.01M990.4 521.7h.01M990.6 523.9h.01M990.8 520.5h.01M991 526h.01M991.2 535.9h.01M991.3 511h.01M991.5 543.5h.01M991.7 522h.01M991.9 536.9h.01M992.1 537.9h.01M992.3 536.8h.01M992.4 538.6h.01M992.6 525.7h.01M992.8 533.9h.01M993 511.9h.01M993.2 511.8h.01M993.4 522.8h.01M993.6 514.7h.01M993.7 527.6h.01M993.9 519.4h.01M994.1 511.7h.01M994.3 516.9h.01M994.5 499.1h.01M994.7 486.4h.01M994.8 487.6h.01M995 474.4h.01M995.2 474.1h.01M995.4 474.8h.01M995.6 494.1h.01M995.8 476.5h.01M996 483.2h.01M996.1 477.5h.01M996.3 480h.01M996.5 479.9h.01M996.7 492.6h.01M996.9 475.8h.01M997.1 495.8h.01M997.2 487.9h.01M997.4 493.8h.01M997.6 492.5h.01M997.8 483.1h.01M998 484.4h.01M998.2 491.3h.01M998.4 483.7h.01M998.5 493.5h.01M998.7 493.3h.01M998.9 495.4h.01M999.1 481.3h.01M999.3 494.8h.01M999.5 478.3h.01M999.6 482.9h.01M999.8 500.7h.01M1000 502.5h.01M1000.2 499.3h.01M1000.4 482.2h.01M1000.6 489.5h.01M1000.8 476.8h.01M1000.9 499.4h.01M1001.1 479.1h.01M1001.3 504.8h.01M1001.5 487.8h.01M1001.7 501.6h.01M1001.9 504.9h.01M1002 485.4h.01M1002.2 499.5h.01M1002.4 499.5h.01M1002.6 504h.01M1002.8 501.9h.01M1003 486.5h.01M1003.2 496.9h.01M1003.3 498.8h.01M1003.5 508.4h.01M1003.7 483.5h.01M1003.9 504.3h.01M1004.1 512.8h.01M1004.3 491.4h.01M1004.5 498.6h.01M1004.6 488.9h.01M1004.8 511.7h.01M1005 522.9h.01M1005.2 519.7h.01M1005.4 505.3h.01M1005.6 512h.01M1005.7 520.4h.01M1005.9 514.6h.01M1006.1 514.1h.01M1006.3 504.1h.01M1006.5 518h.01M1006.7 530.7h.01M1006.9 514.3h.01M1007 526.2h.01M1007.2 499.3h.01M1007.4 499.1h.01M1007.6 521.8h.01M1007.8 496.6h.01M1008 504.4h.01M1008.1 514.8h.01M1008.3 514.3h.01M1008.5 516.9h.01M1008.7 526.7h.01M1008.9 506h.01M1009.1 528.1h.01M1009.3 519.5h.01M1009.4 530.5h.01M1009.6 504.7h.01M1009.8 497.3h.01M1010 515.2h.01M1010.2 520.5h.01M1010.4 511.7h.01M1010.5 527h.01M1010.7 524.4h.01M1010.9 516.5h.01M1011.1 523.2h.01M1011.3 514.6h.01M1011.5 538.8h.01M1011.7 536.8h.01M1011.8 512.1h.01M1012 534.2h.01M1012.2 515.1h.01M1012.4 518.3h.01M1012.6 517.8h.01M1012.8 521.4h.01M1012.9 520.1h.01M1013.1 510.2h.01M1013.3 508h.01M1013.5 528.4h.01M1013.7 509.9h.01M1013.9 502.7h.01M1014.1 527.3h.01M1014.2 538.6h.01M1014.4 540.2h.01M1014.6 520.5h.01M1014.8 542.6h.01M1015 522.3h.01M1015.2 551.1h.01M1015.3 519.8h.01M1015.5 524.5h.01M1015.7 520.5h.01M1015.9 525.5h.01M1016.1 534.2h.01M1016.3 525.7h.01M1016.5 531.5h.01M1016.6 525.7h.01M1016.8 524.5h.01M1017 548.2h.01M1017.2 558h.01M1017.4 552.7h.01M1017.6 553.1h.01M1017.7 564.5h.01M1017.9 551.2h.01M1018.1 537.2h.01M1018.3 536.4h.01M1018.5 539.7h.01M1018.7 550.8h.01M1018.9 552h.01M1019 539.2h.01M1019.2 554h.01M1019.4 543h.01M1019.6 528.8h.01M1019.8 536.4h.01M1020 541.6h.01M1020.1 547.5h.01M1020.3 535.7h.01M1020.5 533.5h.01M1020.7 549.4h.01M1020.9 548.5h.01M1021.1 536.4h.01M1021.3 534.4h.01M1021.4 561.7h.01M1021.6 536.1h.01M1021.8 528.3h.01M1022 536.9h.01M1022.2 542.8h.01M1022.4 548.8h.01M1022.5 554.5h.01M1022.7 530h.01M1022.9 524.9h.01M1023.1 551.3h.01M1023.3 534.1h.01M1023.5 549.5h.01M1023.7 535.5h.01M1023.8 551.2h.01M1024 525.3h.01M1024.2 523.5h.01M1024.4 532.4h.01M1024.6 529.5h.01M1024.8 527.4h.01M1024.9 524h.01M1025.1 536.3h.01M1025.3 545.6h.01M1025.5 526.1h.01M1025.7 534.3h.01M1025.9 536.3h.01M1026.1 530.8h.01M1026.2 532h.01M1026.4 506h.01M1026.6 526.3h.01M1026.8 517h.01M1027 545.3h.01M1027.2 545.3h.01M1027.3 525.6h.01M1027.5 522h.01M1027.7 536.9h.01M1027.9 550.4h.01M1028.1 540.8h.01M1028.3 519.1h.01M1028.5 538.6h.01M1028.6 538.1h.01M1028.8 541.3h.01M1029 527.1h.01M1029.2 544.3h.01M1029.4 550.2h.01M1029.6 521.2h.01M1029.7 556.2h.01M1029.9 528.3h.01M1030.1 553.1h.01M1030.3 539.9h.01M1030.5 545.7h.01M1030.7 532h.01M1030.9 536.4h.01M1031 527.8h.01M1031.2 546.3h.01M1031.4 544h.01M1031.6 547.2h.01M1031.8 521h.01M1032 531.4h.01M1032.2 528.4h.01M1032.3 524.2h.01M1032.5 538.1h.01M1032.7 537.3h.01M1032.9 536.6h.01M1033.1 533.6h.01M1033.3 551.9h.01M1033.4 521.3h.01M1033.6 552.3h.01M1033.8 542.6h.01M1034 549.8h.01M1034.2 549.3h.01M1034.4 536.3h.01M1034.6 550.6h.01M1034.7 547.1h.01M1034.9 543.5h.01M1035.1 542.2h.01M1035.3 547.9h.01M1035.5 532.9h.01M1035.7 529.8h.01M1035.8 549.6h.01M1036 546.8h.01M1036.2 557.6h.01M1036.4 541.1h.01M1036.6 537.1h.01M1036.8 555.2h.01M1037 540h.01M1037.1 547.7h.01M1037.3 528.8h.01M1037.5 540.4h.01M1037.7 533.2h.01M1037.9 551.4h.01M1038.1 545.4h.01M1038.2 539.8h.01M1038.4 550.4h.01M1038.6 520.2h.01M1038.8 523.2h.01M1039 532h.01M1039.2 542.2h.01M1039.4 529.6h.01M1039.5 546.6h.01M1039.7 543.2h.01M1039.9 523.2h.01M1040.1 531.3h.01M1040.3 545.8h.01M1040.5 535.2h.01M1040.6 537.3h.01M1040.8 535.6h.01M1041 532.1h.01M1041.2 539.5h.01M1041.4 523.6h.01M1041.6 534h.01M1041.8 531.3h.01M1041.9 544.3h.01M1042.1 529.4h.01M1042.3 557.6h.01M1042.5 541h.01M1042.7 545.3h.01M1042.9 540.1h.01M1043 544.7h.01M1043.2 557.6h.01M1043.4 554h.01M1043.6 538.5h.01M1043.8 540.5h.01M1044 547.7h.01M1044.2 535.7h.01M1044.3 534.2h.01M1044.5 544h.01M1044.7 545h.01M1044.9 554.1h.01M1045.1 554.3h.01M1045.3 558.9h.01M1045.4 526h.01M1045.6 554.5h.01M1045.8 534h.01M1046 545.8h.01M1046.2 560.5h.01M1046.4 559.8h.01M1046.6 529.7h.01M1046.7 542.7h.01M1046.9 549.7h.01M1047.1 540.7h.01M1047.3 549.7h.01M1047.5 553.6h.01M1047.7 527.3h.01M1047.8 542.9h.01M1048 564.6h.01M1048.2 555.7h.01M1048.4 548.2h.01M1048.6 541.5h.01M1048.8 555.5h.01M1049 535.9h.01M1049.1 527.5h.01M1049.3 531.7h.01M1049.5 549.4h.01M1049.7 548.9h.01M1049.9 525.8h.01M1050.1 531.9h.01M1050.2 540.1h.01M1050.4 534.1h.01M1050.6 551h.01M1050.8 529.4h.01M1051 531.8h.01M1051.2 515.5h.01M1051.4 551.6h.01M1051.5 534.6h.01M1051.7 525.3h.01M1051.9 550.8h.01M1052.1 516.3h.01M1052.3 519.8h.01M1052.5 531.8h.01M1052.6 537.7h.01M1052.8 530.3h.01M1053 546.8h.01M1053.2 538.4h.01M1053.4 547h.01M1053.6 536h.01M1053.8 544.4h.01M1053.9 517.1h.01M1054.1 518.8h.01M1054.3 545.7h.01M1054.5 526.2h.01M1054.7 522.6h.01M1054.9 531.9h.01M1055 539.4h.01M1055.2 543.2h.01M1055.4 529.4h.01M1055.6 539.3h.01M1055.8 515.8h.01M1056 513.1h.01M1056.2 532.7h.01M1056.3 518.6h.01M1056.5 514.8h.01M1056.7 518.6h.01M1056.9 516h.01M1057.1 523.4h.01M1057.3 516.9h.01M1057.4 501.7h.01M1057.6 506.1h.01M1057.8 527.8h.01M1058 512.6h.01M1058.2 519h.01M1058.4 535.1h.01M1058.6 519.2h.01M1058.7 513.3h.01M1058.9 510.3h.01M1059.1 512.6h.01M1059.3 526.5h.01M1059.5 514.1h.01M1059.7 533.8h.01M1059.8 529.5h.01M1060 518.5h.01M1060.2 532h.01M1060.4 524.4h.01M1060.6 535.9h.01M1060.8 532.9h.01M1061 503.8h.01M1061.1 505h.01M1061.3 515.7h.01M1061.5 510.9h.01M1061.7 525.4h.01M1061.9 499.8h.01M1062.1 528.3h.01M1062.3 504.3h.01M1062.4 514h.01M1062.6 495h.01M1062.8 519.5h.01M1063 498.2h.01M1063.2 494.1h.01M1063.4 523.1h.01M1063.5 477.3h.01M1063.7 500.9h.01M1063.9 518.4h.01M1064.1 512.3h.01M1064.3 504.8h.01M1064.5 487.5h.01M1064.7 506.1h.01M1064.8 501.8h.01M1065 493.8h.01M1065.2 523h.01M1065.4 506.9h.01M1065.6 493.3h.01M1065.8 494.1h.01M1065.9 487.5h.01M1066.1 503.6h.01M1066.3 508h.01M1066.5 511h.01M1066.7 493.8h.01M1066.9 502.7h.01M1067.1 499.6h.01M1067.2 499.4h.01M1067.4 486h.01M1067.6 486.7h.01M1067.8 479.6h.01M1068 489h.01M1068.2 480.9h.01M1068.3 501.9h.01M1068.5 497.2h.01M1068.7 497.6h.01M1068.9 496.6h.01M1069.1 479.2h.01M1069.3 485.9h.01M1069.5 499h.01M1069.6 475.2h.01M1069.8 497h.01M1070 487h.01M1070.2 504.2h.01M1070.4 500.8h.01M1070.6 507.7h.01M1070.7 514.8h.01M1070.9 510.5h.01M1071.1 538.1h.01M1071.3 529.3h.01M1071.5 521.6h.01M1071.7 538.1h.01M1071.9 531.6h.01M1072 529.7h.01M1072.2 540.8h.01M1072.4 547.9h.01M1072.6 521.3h.01M1072.8 530.4h.01M1073 511.7h.01M1073.1 534.9h.01M1073.3 520h.01M1073.5 530.4h.01M1073.7 545.1h.01M1073.9 518.9h.01M1074.1 522.8h.01M1074.3 526.8h.01M1074.4 526.4h.01M1074.6 528.7h.01M1074.8 549.7h.01M1075 545.9h.01M1075.2 556.8h.01M1075.4 526.6h.01M1075.5 516.2h.01M1075.7 536.5h.01M1075.9 545.2h.01M1076.1 510.5h.01M1076.3 520.2h.01M1076.5 527.4h.01M1076.7 509.3h.01M1076.8 526.7h.01M1077 517.1h.01M1077.2 558.1h.01M1077.4 534.3h.01M1077.6 547h.01M1077.8 526.7h.01M1077.9 527.5h.01M1078.1 533.8h.01M1078.3 524.5h.01M1078.5 537.5h.01M1078.7 524.2h.01M1078.9 542h.01M1079.1 521.3h.01M1079.2 521.2h.01M1079.4 539.2h.01M1079.6 510.8h.01M1079.8 527.5h.01M1080 528.5h.01M1080.2 552.1h.01M1080.3 547.1h.01M1080.5 524.5h.01M1080.7 534.3h.01M1080.9 530.4h.01M1081.1 549.5h.01M1081.3 537.3h.01M1081.5 522.3h.01M1081.6 522.8h.01M1081.8 523.2h.01M1082 525.4h.01M1082.2 527.7h.01M1082.4 538.8h.01M1082.6 556.4h.01M1082.7 518.1h.01M1082.9 544.3h.01M1083.1 531.9h.01M1083.3 526.9h.01M1083.5 533.7h.01M1083.7 523.8h.01M1083.9 529.1h.01M1084 530.6h.01M1084.2 541h.01M1084.4 514.5h.01M1084.6 542.6h.01M1084.8 523.8h.01M1085 527.8h.01M1085.1 518.9h.01M1085.3 534.6h.01M1085.5 524.1h.01M1085.7 529.2h.01M1085.9 536.8h.01M1086.1 519.1h.01M1086.3 516.3h.01M1086.4 536h.01M1086.6 514.6h.01M1086.8 542.7h.01M1087 531.8h.01M1087.2 541.1h.01M1087.4 538h.01M1087.5 535h.01M1087.7 536.3h.01M1087.9 523h.01M1088.1 534.5h.01M1088.3 540.4h.01M1088.5 526.5h.01M1088.7 536.3h.01M1088.8 519.8h.01M1089 536.3h.01M1089.2 523.4h.01M1089.4 532.1h.01M1089.6 545.5h.01M1089.8 522.6h.01M1090 524.9h.01M1090.1 536h.01M1090.3 551.6h.01M1090.5 539.7h.01M1090.7 520.9h.01M1090.9 541.6h.01M1091.1 522.6h.01M1091.2 540h.01M1091.4 521.6h.01M1091.6 534.8h.01M1091.8 541.2h.01M1092 529.2h.01M1092.2 529.1h.01M1092.4 529.5h.01M1092.5 546.8h.01M1092.7 555.6h.01M1092.9 541.9h.01M1093.1 547.6h.01M1093.3 560h.01M1093.5 551.5h.01M1093.6 538.7h.01M1093.8 546.9h.01M1094 527.1h.01M1094.2 548.8h.01M1094.4 571.6h.01M1094.6 548.5h.01M1094.8 549.7h.01M1094.9 545.8h.01M1095.1 543.9h.01M1095.3 548.5h.01M1095.5 547.8h.01M1095.7 533.3h.01M1095.9 536.7h.01M1096 541h.01M1096.2 535.3h.01M1096.4 547.1h.01M1096.6 538.7h.01M1096.8 550.8h.01M1097 572.2h.01M1097.2 544.5h.01M1097.3 540h.01M1097.5 540h.01M1097.7 539.1h.01M1097.9 548.1h.01M1098.1 566.9h.01M1098.3 555.3h.01M1098.4 532.5h.01M1098.6 548.1h.01M1098.8 538.4h.01M1099 545.6h.01M1099.2 541.8h.01M1099.4 552.2h.01M1099.6 549.8h.01M1099.7 539.6h.01M1099.9 537h.01M1100.1 544.8h.01M1100.3 546h.01M1100.5 534.6h.01M1100.7 566.4h.01M1100.8 552.5h.01M1101 537.8h.01M1101.2 548h.01M1101.4 540.2h.01M1101.6 548.4h.01M1101.8 566.6h.01M1102 568.6h.01M1102.1 535.5h.01M1102.3 537.3h.01M1102.5 515.4h.01M1102.7 552.7h.01M1102.9 570.5h.01M1103.1 537.8h.01M1103.2 560.3h.01M1103.4 569.4h.01M1103.6 545.8h.01M1103.8 535.6h.01M1104 545.5h.01M1104.2 549.1h.01M1104.4 518.7h.01M1104.5 555.7h.01M1104.7 548.7h.01M1104.9 555.8h.01M1105.1 540.4h.01M1105.3 558.3h.01M1105.5 560h.01M1105.6 551h.01M1105.8 540.8h.01M1106 542.8h.01M1106.2 552.2h.01M1106.4 549.4h.01M1106.6 553.2h.01M1106.8 526.8h.01M1106.9 545.9h.01M1107.1 532.6h.01M1107.3 546.4h.01M1107.5 552.5h.01M1107.7 532.2h.01M1107.9 549.1h.01M1108 544.7h.01M1108.2 548.9h.01M1108.4 554h.01M1108.6 528.8h.01M1108.8 544.5h.01M1109 551.4h.01M1109.2 530.9h.01M1109.3 529.5h.01M1109.5 516.1h.01M1109.7 531.5h.01M1109.9 527.2h.01M1110.1 540.8h.01M1110.3 522h.01M1110.4 530.3h.01M1110.6 530.4h.01M1110.8 509.6h.01M1111 536.8h.01M1111.2 538.9h.01M1111.4 544.5h.01M1111.6 540.5h.01M1111.7 527.9h.01M1111.9 533.7h.01M1112.1 518.7h.01M1112.3 522.5h.01M1112.5 521.9h.01M1112.7 527.5h.01M1112.8 519h.01M1113 541.2h.01M1113.2 539.6h.01M1113.4 524.9h.01M1113.6 539.2h.01M1113.8 537.5h.01M1114 538.3h.01M1114.1 528h.01M1114.3 516.3h.01M1114.5 549.8h.01M1114.7 535.5h.01M1114.9 521.1h.01M1115.1 526.9h.01M1115.2 529.8h.01M1115.4 516.9h.01M1115.6 544.1h.01M1115.8 534.9h.01M1116 526h.01M1116.2 529.9h.01M1116.4 530.4h.01M1116.5 536.1h.01M1116.7 532.8h.01M1116.9 536.2h.01M1117.1 518.1h.01M1117.3 518.5h.01M1117.5 533h.01M1117.6 504.1h.01M1117.8 530.1h.01M1118 515.6h.01M1118.2 498.3h.01M1118.4 504.1h.01M1118.6 500.4h.01M1118.8 501.7h.01M1118.9 482.7h.01M1119.1 486.5h.01M1119.3 477.2h.01M1119.5 484.7h.01M1119.7 474.2h.01M1119.9 483.9h.01M1120.1 485.1h.01M1120.2 476.5h.01M1120.4 489.5h.01M1120.6 481.1h.01M1120.8 475.2h.01M1121 474.3h.01M1121.2 484.6h.01M1121.3 477.2h.01M1121.5 490.9h.01M1121.7 485.3h.01M1121.9 485.5h.01M1122.1 474.5h.01M1122.3 475h.01M1122.5 476.5h.01M1122.6 486.6h.01M1122.8 478.2h.01M1123 484.1h.01M1123.2 493.4h.01M1123.4 474.7h.01M1123.6 475.5h.01M1123.7 475.3h.01M1123.9 475h.01M1124.1 475.7h.01M1124.3 477.4h.01M1124.5 475.6h.01M1124.7 494.4h.01M1124.9 483.1h.01M1125 487.8h.01M1125.2 473.9h.01M1125.4 475.2h.01M1125.6 484.2h.01M1125.8 475.6h.01M1126 484.7h.01M1126.1 473.7h.01M1126.3 489.3h.01M1126.5 492.1h.01M1126.7 473.5h.01M1126.9 477.3h.01M1127.1 479.8h.01M1127.3 484.4h.01M1127.4 474.8h.01M1127.6 495.3h.01M1127.8 477h.01M1128 487h.01M1128.2 477.4h.01M1128.4 475.3h.01M1128.5 478.1h.01M1128.7 486.5h.01M1128.9 480.9h.01M1129.1 477h.01M1129.3 482.5h.01M1129.5 487.7h.01M1129.7 484.6h.01M1129.8 474.1h.01M1130 484.5h.01M1130.2 484.2h.01M1130.4 473.5h.01M1130.6 484.8h.01M1130.8 476.5h.01M1130.9 485.5h.01M1131.1 475h.01M1131.3 486.6h.01M1131.5 486.3h.01M1131.7 495.6h.01M1131.9 494.9h.01M1132.1 486.5h.01M1132.2 495h.01M1132.4 474.5h.01M1132.6 488.6h.01M1132.8 497.7h.01M1133 473.7h.01M1133.2 499.3h.01M1133.3 494.2h.01M1133.5 489.5h.01M1133.7 480.1h.01M1133.9 473.7h.01M1134.1 501.4h.01M1134.3 489.8h.01M1134.5 489.7h.01M1134.6 495h.01M1134.8 508h.01M1135 532.6h.01M1135.2 538.2h.01M1135.4 535.2h.01M1135.6 551.7h.01M1135.7 545.3h.01M1135.9 543.3h.01M1136.1 509.8h.01M1136.3 522.6h.01M1136.5 529.9h.01M1136.7 527.3h.01M1136.9 548.6h.01M1137 543h.01M1137.2 562.9h.01M1137.4 538.4h.01M1137.6 535h.01M1137.8 536.6h.01M1138 538.6h.01M1138.1 546.7h.01M1138.3 547.6h.01M1138.5 545.3h.01M1138.7 530.3h.01M1138.9 533.2h.01M1139.1 538.6h.01M1139.3 533.4h.01M1139.4 535.4h.01M1139.6 534h.01M1139.8 557.3h.01M1140 538h.01M1140.2 541.2h.01M1140.4 541.2h.01M1140.5 561.2h.01M1140.7 535.9h.01M1140.9 551.8h.01M1141.1 564.4h.01M1141.3 539.6h.01M1141.5 537.4h.01M1141.7 568.3h.01M1141.8 554.2h.01M1142 545.3h.01M1142.2 541.8h.01M1142.4 561.5h.01M1142.6 540.6h.01M1142.8 548.8h.01M1142.9 565.4h.01M1143.1 548.6h.01M1143.3 543.6h.01M1143.5 535h.01M1143.7 543.8h.01M1143.9 540.9h.01M1144.1 565.8h.01M1144.2 559.6h.01M1144.4 561.2h.01M1144.6 531.2h.01M1144.8 557.9h.01M1145 546h.01M1145.2 537h.01M1145.3 554.7h.01M1145.5 532.3h.01M1145.7 548h.01M1145.9 554.1h.01M1146.1 546.7h.01M1146.3 539.6h.01M1146.5 524.5h.01M1146.6 538.6h.01M1146.8 560.3h.01M1147 545.7h.01M1147.2 550.3h.01M1147.4 552.1h.01M1147.6 570h.01M1147.7 550.1h.01M1147.9 554.5h.01M1148.1 538.7h.01M1148.3 552.2h.01M1148.5 563.8h.01M1148.7 550.4h.01M1148.9 553.2h.01M1149 526.7h.01M1149.2 517.3h.01M1149.4 562.2h.01M1149.6 547h.01M1149.8 548.9h.01M1150 563.8h.01M1150.2 546.7h.01M1150.3 549.2h.01M1150.5 546.4h.01M1150.7 539.6h.01M1150.9 534.1h.01M1151.1 523.6h.01M1151.3 545.1h.01M1151.4 546.1h.01M1151.6 527.8h.01M1151.8 523.1h.01M1152 524.8h.01M1152.2 538.4h.01M1152.4 526.9h.01M1152.6 536.4h.01M1152.7 519.2h.01M1152.9 540.6h.01M1153.1 523.2h.01M1153.3 531.7h.01M1153.5 522.9h.01M1153.7 516.2h.01M1153.8 542.7h.01M1154 521.7h.01M1154.2 545.6h.01M1154.4 540.3h.01M1154.6 546.6h.01M1154.8 537.3h.01M1155 541.3h.01M1155.1 519.1h.01M1155.3 526.9h.01M1155.5 525.8h.01M1155.7 511.1h.01M1155.9 520.6h.01M1156.1 536.8h.01M1156.2 548h.01M1156.4 509.5h.01M1156.6 516.2h.01M1156.8 506.6h.01M1157 517.3h.01M1157.2 536.4h.01M1157.4 527.3h.01M1157.5 520.3h.01M1157.7 526h.01M1157.9 542.3h.01M1158.1 530.1h.01M1158.3 535.2h.01M1158.5 541h.01M1158.6 508.8h.01M1158.8 530.2h.01M1159 517.5h.01M1159.2 545.3h.01M1159.4 515.4h.01M1159.6 517.7h.01M1159.8 532.6h.01M1159.9 522.9h.01M1160.1 532.3h.01M1160.3 533.6h.01M1160.5 536.7h.01M1160.7 541.6h.01M1160.9 531.3h.01M1161 522.5h.01M1161.2 529.1h.01M1161.4 515.6h.01M1161.6 509.5h.01M1161.8 524.4h.01M1162 500.1h.01M1162.2 547.1h.01M1162.3 530.1h.01M1162.5 515.5h.01M1162.7 522.2h.01M1162.9 534.7h.01M1163.1 524.8h.01M1163.3 523.5h.01M1163.4 521.3h.01M1163.6 518h.01M1163.8 531.6h.01M1164 524.6h.01M1164.2 516.5h.01M1164.4 526.6h.01M1164.6 510.8h.01M1164.7 512.3h.01M1164.9 531.3h.01M1165.1 522.2h.01M1165.3 511.6h.01M1165.5 510.3h.01M1165.7 530.2h.01M1165.8 518.7h.01M1166 502.7h.01M1166.2 531.5h.01M1166.4 517.5h.01M1166.6 528h.01M1166.8 507.2h.01M1167 518.9h.01M1167.1 539.8h.01M1167.3 537.5h.01M1167.5 537.5h.01M1167.7 527.6h.01M1167.9 525.4h.01M1168.1 558.5h.01M1168.2 493.9h.01M1168.4 519.7h.01M1168.6 519.9h.01M1168.8 529.6h.01M1169 533.8h.01M1169.2 527.4h.01M1169.4 528.1h.01M1169.5 524.6h.01M1169.7 518.2h.01M1169.9 542.7h.01M1170.1 547.9h.01M1170.3 529.2h.01M1170.5 540.1h.01M1170.6 515h.01M1170.8 519.1h.01M1171 549.6h.01M1171.2 520.5h.01M1171.4 523.8h.01M1171.6 528.9h.01M1171.8 541.8h.01M1171.9 551.3h.01M1172.1 532.2h.01M1172.3 545.2h.01M1172.5 535.7h.01M1172.7 548.5h.01M1172.9 546.9h.01M1173 529.8h.01M1173.2 543.4h.01M1173.4 534.7h.01M1173.6 552.7h.01M1173.8 528.9h.01M1174 529.1h.01M1174.2 547.1h.01M1174.3 552.5h.01M1174.5 558.4h.01M1174.7 565.2h.01M1174.9 524.4h.01M1175.1 514.8h.01M1175.3 518.6h.01M1175.4 540.8h.01M1175.6 541.6h.01M1175.8 548.3h.01M1176 532.3h.01M1176.2 541h.01M1176.4 512.8h.01M1176.6 541.8h.01M1176.7 547.6h.01M1176.9 518.4h.01M1177.1 524.2h.01M1177.3 528.2h.01M1177.5 526.9h.01M1177.7 532.6h.01M1177.9 516.2h.01M1178 528.2h.01M1178.2 535.4h.01M1178.4 517h.01M1178.6 515.6h.01M1178.8 537.1h.01M1179 516.8h.01M1179.1 524.4h.01M1179.3 513.3h.01M1179.5 528.6h.01M1179.7 507h.01M1179.9 516.1h.01M1180.1 511.8h.01M1180.3 491.9h.01M1180.4 515.9h.01M1180.6 527h.01M1180.8 542.2h.01M1181 509.2h.01M1181.2 500.9h.01M1181.4 508.4h.01M1181.5 536.6h.01M1181.7 511h.01M1181.9 516.6h.01M1182.1 509.6h.01M1182.3 522.2h.01M1182.5 507.4h.01M1182.7 523.2h.01M1182.8 520.9h.01M1183 514.2h.01M1183.2 512h.01M1183.4 532.9h.01M1183.6 539.6h.01M1183.8 521.5h.01M1183.9 504.4h.01M1184.1 525.7h.01M1184.3 500.4h.01M1184.5 528.4h.01M1184.7 509.7h.01M1184.9 519.8h.01M1185.1 525.9h.01M1185.2 503.9h.01M1185.4 525.9h.01M1185.6 522.3h.01M1185.8 521.8h.01M1186 529.5h.01M1186.2 514.9h.01M1186.3 495.1h.01M1186.5 503.7h.01M1186.7 484.8h.01M1186.9 535.4h.01M1187.1 499.7h.01M1187.3 515.4h.01M1187.5 516.7h.01M1187.6 517.6h.01M1187.8 513.8h.01M1188 531.9h.01M1188.2 521.6h.01M1188.4 521.1h.01M1188.6 506.4h.01M1188.7 505.6h.01M1188.9 510.8h.01M1189.1 527.6h.01M1189.3 510.5h.01M1189.5 514.9h.01M1189.7 523.1h.01M1189.9 520.7h.01M1190 492.9h.01M1190.2 518.4h.01M1190.4 503.4h.01M1190.6 510.1h.01M1190.8 487.4h.01M1191 483.1h.01M1191.1 496.1h.01M1191.3 506.3h.01M1191.5 496.6h.01M1191.7 487.5h.01M1191.9 496.5h.01M1192.1 480.6h.01M1192.3 492.9h.01M1192.4 498.6h.01M1192.6 474.9h.01M1192.8 477.6h.01M1193 474.4h.01M1193.2 483.3h.01M1193.4 480.4h.01M1193.5 496h.01M1193.7 481.1h.01M1193.9 484.5h.01M1194.1 482.7h.01M1194.3 484.9h.01M1194.5 478.4h.01M1194.7 475.3h.01M1194.8 490.7h.01M1195 479.2h.01M1195.2 478.2h.01M1195.4 488.5h.01M1195.6 480.6h.01M1195.8 495.5h.01M1195.9 481.5h.01M1196.1 489.7h.01M1196.3 485.7h.01M1196.5 494.9h.01M1196.7 493.4h.01M1196.9 485.8h.01M1197.1 491.5h.01M1197.2 476.2h.01M1197.4 482h.01M1197.6 489.9h.01M1197.8 483.7h.01M1198 504.1h.01M1198.2 520.3h.01M1198.3 517.4h.01M1198.5 530.4h.01M1198.7 521.3h.01M1198.9 526.5h.01M1199.1 545.4h.01M1199.3 533.4h.01M1199.5 515.8h.01M1199.6 519.9h.01M1199.8 550.7h.01M1200 542h.01M1200.2 532.2h.01M1200.4 549.2h.01M1200.6 532.8h.01M1200.7 531h.01M1200.9 557.1h.01M1201.1 551.6h.01M1201.3 534.9h.01M1201.5 533.6h.01M1201.7 530.6h.01M1201.9 554.4h.01M1202 539h.01M1202.2 525.5h.01M1202.4 510.9h.01M1202.6 541.1h.01M1202.8 532.6h.01M1203 543.4h.01M1203.1 541.8h.01M1203.3 523.9h.01M1203.5 533.7h.01M1203.7 553.2h.01M1203.9 549.4h.01M1204.1 543.4h.01M1204.3 529.3h.01M1204.4 534.9h.01M1204.6 544.3h.01M1204.8 557.1h.01M1205 561h.01M1205.2 556.5h.01M1205.4 566h.01M1205.5 551.7h.01M1205.7 550.6h.01M1205.9 547.6h.01M1206.1 539.5h.01M1206.3 538.8h.01M1206.5 556.7h.01M1206.7 554.4h.01M1206.8 557.1h.01M1207 555.8h.01M1207.2 562.8h.01M1207.4 546.8h.01M1207.6 568.1h.01M1207.8 551.6h.01M1208 559.2h.01M1208.1 566.6h.01M1208.3 534.3h.01M1208.5 550.2h.01M1208.7 541.4h.01M1208.9 538.7h.01M1209.1 541.4h.01M1209.2 556.7h.01M1209.4 555.2h.01M1209.6 563h.01M1209.8 536.4h.01M1210 562.5h.01M1210.2 557.4h.01M1210.4 562.4h.01M1210.5 552.3h.01M1210.7 540.2h.01M1210.9 536.1h.01M1211.1 562.3h.01M1211.3 553.9h.01M1211.5 562.2h.01M1211.6 536.4h.01M1211.8 550.6h.01M1212 543.6h.01M1212.2 569h.01M1212.4 539.1h.01M1212.6 542.8h.01M1212.8 535.5h.01M1212.9 547.2h.01M1213.1 542h.01M1213.3 555.6h.01M1213.5 568.8h.01M1213.7 531.3h.01M1213.9 542.2h.01M1214 543.3h.01M1214.2 532.8h.01M1214.4 543.6h.01M1214.6 557.1h.01M1214.8 546.5h.01M1215 562h.01M1215.2 518h.01M1215.3 552.9h.01M1215.5 534.9h.01M1215.7 547h.01M1215.9 520.4h.01M1216.1 546.5h.01M1216.3 535.2h.01M1216.4 541.1h.01M1216.6 528.9h.01M1216.8 559.2h.01M1217 544h.01M1217.2 560h.01M1217.4 531.6h.01M1217.6 544.1h.01M1217.7 547.6h.01M1217.9 529.7h.01M1218.1 558.7h.01M1218.3 564.9h.01M1218.5 539h.01M1218.7 542.1h.01M1218.8 553.5h.01M1219 566.8h.01M1219.2 555.5h.01M1219.4 539.4h.01M1219.6 542.8h.01M1219.8 555.4h.01M1220 545.8h.01M1220.1 549.2h.01M1220.3 553.7h.01M1220.5 559.2h.01M1220.7 550.2h.01M1220.9 544.6h.01M1221.1 538.6h.01M1221.2 531.8h.01M1221.4 524.4h.01M1221.6 541.8h.01M1221.8 539.1h.01M1222 526.2h.01M1222.2 530.9h.01M1222.4 544.4h.01M1222.5 529.4h.01M1222.7 553.3h.01M1222.9 533.2h.01M1223.1 567.2h.01M1223.3 537.7h.01M1223.5 544h.01M1223.6 547h.01M1223.8 538.3h.01M1224 504.7h.01M1224.2 530.4h.01M1224.4 547.4h.01M1224.6 536.7h.01M1224.8 557.8h.01M1224.9 538h.01M1225.1 554.1h.01M1225.3 544.3h.01M1225.5 548.3h.01M1225.7 520.9h.01M1225.9 548.8h.01M1226 521.1h.01M1226.2 544.8h.01M1226.4 544.6h.01M1226.6 529.2h.01M1226.8 534.8h.01M1227 540.4h.01M1227.2 549.2h.01M1227.3 533h.01M1227.5 546.7h.01M1227.7 549.2h.01M1227.9 544.4h.01M1228.1 534h.01M1228.3 536.2h.01M1228.4 510h.01M1228.6 549.6h.01M1228.8 538.4h.01M1229 549.5h.01M1229.2 534.7h.01M1229.4 540.1h.01M1229.6 534.3h.01M1229.7 535h.01M1229.9 534.1h.01M1230.1 544.8h.01M1230.3 541.3h.01M1230.5 550.1h.01M1230.7 549.8h.01M1230.8 548.7h.01M1231 549.4h.01M1231.2 544.3h.01M1231.4 542.1h.01M1231.6 528.9h.01M1231.8 525.8h.01M1232 528.4h.01M1232.1 547.2h.01M1232.3 536.7h.01M1232.5 523.8h.01M1232.7 529.3h.01M1232.9 541.3h.01M1233.1 508.8h.01M1233.2 545.9h.01M1233.4 547.8h.01M1233.6 531h.01M1233.8 539.2h.01M1234 538.8h.01M1234.2 521.2h.01M1234.4 538.4h.01M1234.5 534.6h.01M1234.7 539.8h.01M1234.9 504.9h.01M1235.1 529.2h.01M1235.3 544.9h.01M1235.5 543.5h.01M1235.6 528h.01M1235.8 529.5h.01M1236 520.8h.01M1236.2 522.7h.01M1236.4 538.2h.01M1236.6 489.2h.01M1236.8 524.8h.01M1236.9 509.9h.01M1237.1 520.5h.01M1237.3 519.3h.01M1237.5 508h.01M1237.7 509.1h.01M1237.9 509.1h.01M1238.1 522.7h.01M1238.2 524.7h.01M1238.4 513.5h.01M1238.6 523.6h.01M1238.8 502.2h.01M1239 527.7h.01M1239.2 512.2h.01M1239.3 504.5h.01M1239.5 517h.01M1239.7 523.4h.01M1239.9 510.5h.01M1240.1 505.5h.01M1240.3 519.2h.01M1240.5 523.4h.01M1240.6 516.1h.01M1240.8 502.7h.01M1241 514.9h.01M1241.2 528.7h.01M1241.4 512.9h.01M1241.6 523.4h.01M1241.7 536.8h.01M1241.9 542.6h.01M1242.1 545.8h.01M1242.3 510.4h.01M1242.5 531.7h.01M1242.7 528.9h.01M1242.9 531h.01M1243 519.3h.01M1243.2 515.8h.01M1243.4 502.6h.01M1243.6 497.2h.01M1243.8 498.1h.01M1244 491.1h.01M1244.1 495.5h.01M1244.3 481.7h.01M1244.5 493.8h.01M1244.7 487.5h.01M1244.9 482.7h.01M1245.1 487.5h.01M1245.3 492.4h.01M1245.4 485h.01M1245.6 492h.01M1245.8 480.3h.01M1246 482.6h.01M1246.2 473.5h.01M1246.4 479.5h.01M1246.5 474.6h.01M1246.7 484.4h.01M1246.9 494.4h.01M1247.1 488.1h.01M1247.3 476.1h.01M1247.5 475.2h.01M1247.7 474.5h.01M1247.8 480.6h.01M1248 488.9h.01M1248.2 480.1h.01M1248.4 487.5h.01M1248.6 473.4h.01M1248.8 475.7h.01M1248.9 478.3h.01M1249.1 479.7h.01M1249.3 473.8h.01M1249.5 474.7h.01M1249.7 479.3h.01M1249.9 475.1h.01M1250.1 484h.01M1250.2 479.8h.01M1250.4 494h.01M1250.6 490.4h.01M1250.8 490.7h.01M1251 480h.01M1251.2 461.3h.01M1251.4 460.9h.01M1251.6 486.1h.01M1251.7 475.2h.01M1251.9 479.8h.01M1252.1 467h.01M1252.3 482.5h.01M1252.5 472.7h.01M1252.7 477.3h.01M1252.8 465.2h.01M1253 459.5h.01M1253.2 457.8h.01M1253.4 469.8h.01M1253.6 460.4h.01M1253.8 455.5h.01M1254 473.2h.01M1254.1 465.4h.01M1254.3 472.1h.01M1254.5 479.8h.01M1254.7 463.1h.01M1254.9 466.1h.01M1255.1 461.2h.01M1255.2 462.6h.01M1255.4 480.5h.01M1255.6 463.8h.01M1255.8 466h.01M1256 471h.01M1256.2 475.8h.01M1256.4 469.8h.01M1256.5 479.9h.01M1256.7 466h.01M1256.9 481h.01M1257.1 464.7h.01M1257.3 465.5h.01M1257.5 489h.01M1257.6 476.9h.01M1257.8 467h.01M1258 463.9h.01M1258.2 464.5h.01M1258.4 454.3h.01M1258.6 475h.01M1258.8 473.7h.01M1258.9 476.7h.01M1259.1 476.6h.01M1259.3 470h.01M1259.5 470.6h.01M1259.7 480.6h.01M1259.9 470.5h.01M1260 485.2h.01M1260.2 455.6h.01M1260.4 459.1h.01M1260.6 475.7h.01M1260.8 457.3h.01M1261 477.5h.01M1261.2 468.7h.01M1261.3 480.2h.01M1261.5 464.2h.01M1261.7 470.7h.01M1261.9 479.1h.01M1262.1 459.8h.01M1262.3 457.9h.01M1262.4 454.7h.01M1262.6 458h.01M1262.8 470.2h.01M1263 470.3h.01M1263.2 468.3h.01M1263.4 463.3h.01M1263.6 466.6h.01M1263.7 465.6h.01M1263.9 454h.01M1264.1 459.9h.01M1264.3 466.4h.01M1264.5 459.3h.01M1264.7 463.1h.01M1264.8 452.6h.01M1265 457.4h.01M1265.2 484.7h.01M1265.4 461.4h.01M1265.6 475.3h.01M1265.8 462.6h.01M1266 472.6h.01M1266.1 467.9h.01M1266.3 455.2h.01M1266.5 462.8h.01M1266.7 456.3h.01M1266.9 455.4h.01M1267.1 466.5h.01M1267.3 471.8h.01M1267.4 477h.01M1267.6 461.2h.01M1267.8 478.6h.01M1268 478.4h.01M1268.2 457.5h.01M1268.4 465.5h.01M1268.5 471h.01M1268.7 485.1h.01M1268.9 459.3h.01M1269.1 469.5h.01M1269.3 472h.01M1269.5 474.6h.01M1269.7 459.7h.01M1269.8 469.8h.01M1270 471.5h.01M1270.2 471.4h.01M1270.4 452.8h.01M1270.6 473h.01M1270.8 452.4h.01M1270.9 472.8h.01M1271.1 464.1h.01M1271.3 474.6h.01M1271.5 472h.01M1271.7 468.9h.01M1271.9 468.6h.01M1272.1 469.6h.01M1272.2 469.5h.01M1272.4 482.3h.01M1272.6 479.1h.01M1272.8 463.4h.01M1273 453.1h.01M1273.2 457.2h.01M1273.3 453.2h.01M1273.5 473h.01M1273.7 475.6h.01M1273.9 462.9h.01M1274.1 479.6h.01M1274.3 482.9h.01M1274.5 464.3h.01M1274.6 463.9h.01M1274.8 471h.01M1275 473.6h.01M1275.2 453.8h.01M1275.4 473h.01M1275.6 476.1h.01M1275.7 475h.01M1275.9 481.7h.01M1276.1 459.3h.01M1276.3 481.9h.01M1276.5 476.4h.01M1276.7 484.5h.01M1276.9 475.1h.01M1277 463.5h.01M1277.2 473.9h.01M1277.4 460.3h.01M1277.6 454.5h.01M1277.8 478h.01M1278 475.5h.01M1278.1 478h.01M1278.3 455.3h.01M1278.5 467.5h.01M1278.7 470.3h.01M1278.9 479.4h.01M1279.1 466.2h.01M1279.3 489.4h.01M1279.4 458h.01M1279.6 463.5h.01M1279.8 463h.01M1280 487.6h.01M1280.2 469.4h.01M1280.4 480.2h.01M1280.5 471.3h.01M1280.7 475.6h.01M1280.9 464.4h.01M1281.1 469.8h.01M1281.3 474.9h.01M1281.5 467.8h.01M1281.7 478.5h.01M1281.8 465.1h.01M1282 469.5h.01M1282.2 478.9h.01M1282.4 482.7h.01M1282.6 482.9h.01M1282.8 470.4h.01M1282.9 486.2h.01M1283.1 470.2h.01M1283.3 471.6h.01M1283.5 479.8h.01M1283.7 479.2h.01M1283.9 471.1h.01M1284.1 489.5h.01M1284.2 473.7h.01M1284.4 478.8h.01M1284.6 463.5h.01M1284.8 479.6h.01M1285 475.1h.01M1285.2 473.8h.01M1285.3 471.3h.01M1285.5 483h.01M1285.7 474.8h.01M1285.9 472.7h.01M1286.1 470h.01M1286.3 480h.01M1286.5 483.7h.01M1286.6 474.9h.01M1286.8 469.3h.01M1287 489h.01M1287.2 466h.01M1287.4 481.7h.01M1287.6 466.3h.01M1287.7 466.6h.01M1287.9 488.6h.01M1288.1 472.5h.01M1288.3 469.5h.01M1288.5 483.8h.01M1288.7 491.2h.01M1288.9 471.8h.01M1289 483.1h.01M1289.2 460.7h.01M1289.4 474.3h.01M1289.6 479h.01M1289.8 479.8h.01M1290 479.9h.01M1290.1 485.9h.01M1290.3 463.2h.01M1290.5 468.5h.01M1290.7 497.3h.01M1290.9 466.8h.01M1291.1 464.6h.01M1291.3 479.4h.01M1291.4 471.4h.01M1291.6 478.1h.01M1291.8 483.3h.01M1292 461.6h.01M1292.2 489.7h.01M1292.4 481.2h.01M1292.5 476.8h.01M1292.7 475.9h.01M1292.9 493h.01M1293.1 483.7h.01M1293.3 473.6h.01M1293.5 471.3h.01M1293.7 493.1h.01M1293.8 492.8h.01M1294 475.1h.01M1294.2 475.6h.01M1294.4 479.7h.01M1294.6 478.1h.01M1294.8 467.7h.01M1295 492.6h.01M1295.1 490h.01M1295.3 470.5h.01M1295.5 462.3h.01M1295.7 490.6h.01M1295.9 475.9h.01M1296.1 485.1h.01M1296.2 470.5h.01M1296.4 472.5h.01M1296.6 486.4h.01M1296.8 482h.01M1297 485.8h.01M1297.2 479.6h.01M1297.4 471.4h.01M1297.5 484h.01M1297.7 495.1h.01M1297.9 490h.01M1298.1 480.1h.01M1298.3 474.6h.01M1298.5 489.8h.01M1298.6 472.3h.01M1298.8 490.1h.01M1299 466.1h.01M1299.2 476.8h.01M1299.4 482.2h.01M1299.6 495h.01M1299.8 473.5h.01M1299.9 487.4h.01M1300.1 485.8h.01M1300.3 496.6h.01M1300.5 497h.01M1300.7 491.8h.01M1300.9 485.5h.01M1301 485.9h.01M1301.2 482.5h.01M1301.4 473.1h.01M1301.6 477.9h.01M1301.8 488.5h.01M1302 498.2h.01M1302.2 477.3h.01M1302.3 489.6h.01M1302.5 484h.01M1302.7 491.3h.01M1302.9 489.4h.01M1303.1 496.6h.01M341.5 494.3h.01M1202.3 510.2h.01M450.2 479.4h.01M450.2 485.5h.01M449.3 496.4h.01M517.4 491.5h.01M610.2 570.4h.01M465.4 492.4h.01M1166.7 498.5h.01M1182.3 497.2h.01M802.4 572.1h.01M968.4 571.2h.01M1221.3 573.5h.01M1216.5 569.5h.01M366.8 570.5h.01M369.2 566.8h.01" fill="none" stroke="#000" stroke-width="3.5" stroke-linecap="round" />
<path d="M247.3 455.3h.01M248.4 461.2h.01M250 464.4h.01M248.9 468.4h.01M250.8 467.6h.01M255.3 469.2h.01M265.5 468.4h.01M323.6 460.4h.01M327.6 458.8h.01M325.2 464.4h.01M326 467.6h.01M324.4 470h.01M441.2 467.3h.01M499.6 460.3h.01M502.2 456.3h.01M501.3 462.1h.01M503.9 463.8h.01M505.6 464.7h.01M509.1 462.9h.01M508.2 454.3h.01M511.2 452.9h.01M511.7 457.7h.01M503.1 467.3h.01M506.5 468.5h.01M501.3 471.2h.01M503.9 470.2h.01M688.9 456.3h.01M682 462.6h.01M685.5 462.9h.01M688.1 464.7h.01M690.7 465.5h.01M683.7 467.3h.01M699.3 464.3h.01M688.9 469.9h.01M762.6 459.5h.01M761.2 467.3h.01M812 464.3h.01M821.2 464.3h.01M946.7 449.1h.01M947.6 451.7h.01M946.7 457.4h.01M947.2 462.1h.01M946.7 464.7h.01M937.2 467.3h.01M942.4 468.5h.01M939.8 470.7h.01M945 470.2h.01M947.2 468.5h.01M1128.4 459.5h.01M1120.4 465.5h.01M1129.6 466.4h.01M1131.6 466.4h.01M1120.9 469.5h.01M1123.5 470.2h.01M1127.5 470.2h.01M1196.4 465.5h.01M1195.3 471.2h.01M1247.3 464.7h.01M1244.4 470.7h.01M1265.2 443.5h.01M1272.4 443.5h.01M1294.5 505.4h.01" fill="none" stroke="#ffa500" stroke-width="3.5" stroke-linecap="round" />
<path d="M656.2 640h.01M850.3 646.3h.01M1278 649.8h.01" fill="none" stroke="#ffa500" stroke-width="3.5" stroke-linecap="round" />
<path d="M234.5 660.6l6 0l-3 5.6z" fill="#ffa500"/>
<path d="M489.4 660.6l6 0l-3 5.6z" fill="#ffa500"/>
<path d="M1013.5 660.6l6 0l-3 5.6z" fill="#ffa500"/>
<path d="M1031 660.6l6 0l-3 5.6z" fill="#ffa500"/>
<line x1="162" y1="482.5" x2="169" y2="482.5" stroke="#ffa500" stroke-width="2.78" stroke-linecap="square"/>
<line x1="169" y1="525.5" x2="1251" y2="525.5" stroke="#ffa500" stroke-width="2.78" stroke-linecap="square"/>
<line x1="1251" y1="474.5" x2="1303" y2="474.5" stroke="#ffa500" stroke-width="2.78" stroke-linecap="square"/>
<line x1="105.5" y1="523" x2="1361" y2="523" stroke="#f00" stroke-width="2.08" />
<line x1="162" y1="666" x2="162" y2="380.5" stroke="#800080" stroke-width="2.08" stroke-dasharray="2.083 3.4375"/>
<line x1="169" y1="666" x2="169" y2="380.5" stroke="#800080" stroke-width="2.08" stroke-dasharray="2.083 3.4375"/>
<line x1="1251" y1="666" x2="1251" y2="380.5" stroke="#800080" stroke-width="2.08" stroke-dasharray="2.083 3.4375"/>
<line x1="1303" y1="666" x2="1303" y2="380.5" stroke="#800080" stroke-width="2.08" stroke-dasharray="2.083 3.4375"/>
<rect x="105.5" y="499" width="1255.5" height="49" fill="#f00" fill-opacity="0.1"/>
<rect x="162" y="473.6" width="7" height="20.5" fill="#ffa500" fill-opacity="0.1"/>
<rect x="169" y="502" width="1082" height="46.4" fill="#ffa500" fill-opacity="0.1"/>
<rect x="1251" y="463" width="52" height="23.3" fill="#ffa500" fill-opacity="0.1"/>
</g>
<rect x="105.5" y="380.5" width="1380" height="286" fill="none" stroke="#000" stroke-width="1.11"/>
<line x1="162.5" y1="666.5" x2="162.5" y2="671.36" stroke="#000" stroke-width="1.11" />
<text x="163.7" y="686.8" text-anchor="middle" >0</text>
<line x1="342.5" y1="666.5" x2="342.5" y2="671.36" stroke="#000" stroke-width="1.11" />
<text x="342.2" y="686.8" text-anchor="middle" >1000</text>
<line x1="522.5" y1="666.5" x2="522.5" y2="671.36" stroke="#000" stroke-width="1.11" />
<text x="522.2" y="686.8" text-anchor="middle" >2000</text>
<line x1="702.5" y1="666.5" x2="702.5" y2="671.36" stroke="#000" stroke-width="1.11" />
<text x="702.2" y="686.8" text-anchor="middle" >3000</text>
<line x1="882.5" y1="666.5" x2="882.5" y2="671.36" stroke="#000" stroke-width="1.11" />
<text x="882.2" y="686.8" text-anchor="middle" >4000</text>
<line x1="1063.5" y1="666.5" x2="1063.5" y2="671.36" stroke="#000" stroke-width="1.11" />
<text x="1063.2" y="686.8" text-anchor="middle" >5000</text>
<line x1="1243.5" y1="666.5" x2="1243.5" y2="671.36" stroke="#000" stroke-width="1.11" />
<text x="1243.2" y="686.8" text-anchor="middle" >6000</text>
<line x1="1423.5" y1="666.5" x2="1423.5" y2="671.36" stroke="#000" stroke-width="1.11" />
<text x="1423.2" y="686.8" text-anchor="middle" >7000</text>
<line x1="100.64" y1="414.5" x2="105.5" y2="414.5" stroke="#000" stroke-width="1.11" />
<text x="95.1" y="419.45" text-anchor="end" >9.35</text>
<line x1="100.64" y1="458.5" x2="105.5" y2="458.5" stroke="#000" stroke-width="1.11" />
<text x="95.1" y="463.45" text-anchor="end" >9.30</text>
<line x1="100.64" y1="503.5" x2="105.5" y2="503.5" stroke="#000" stroke-width="1.11" />
<text x="95.1" y="508.45" text-anchor="end" >9.25</text>
<line x1="100.64" y1="548.5" x2="105.5" y2="548.5" stroke="#000" stroke-width="1.11" />
<text x="95.1" y="553.45" text-anchor="end" >9.20</text>
<line x1="100.64" y1="592.5" x2="105.5" y2="592.5" stroke="#000" stroke-width="1.11" />
<text x="95.1" y="597.45" text-anchor="end" >9.15</text>
<line x1="100.64" y1="637.5" x2="105.5" y2="637.5" stroke="#000" stroke-width="1.11" />
<text x="95.1" y="642.45" text-anchor="end" >9.10</text>
<text x="164.6" y="657" text-anchor="middle" >58994</text>
<text x="709.3" y="637" text-anchor="middle" >17163</text>
<text x="1276.3" y="617" text-anchor="middle" >46992</text>
<text x="795" y="371.8" text-anchor="middle" font-size="16.67" >Magnitude Estimates</text>
<rect x="1365.4" y="387.5" width="113.2" height="48.1" rx="2.8" ry="2.8" fill="#fff" fill-opacity="0.8" stroke="#ccc" stroke-width="1.11"/>
<line x1="1370.2" y1="399.5" x2="1398" y2="399.5" stroke="#ffa500" stroke-width="2.78" stroke-linecap="square"/>
<line x1="1370.1" y1="421.9" x2="1397.9" y2="421.9" stroke="#f00" stroke-width="2.08" stroke-linecap="square"/>
<text x="1410.3" y="403.8">mag<tspan font-size="9.72" font-style="italic" dy="1.9">OBSID</tspan></text>
<text x="1409.4" y="426.5" >mag</text>
<rect x="1348.3" y="613.3" width="130.3" height="46.2" rx="2.8" ry="2.8" fill="#fff" fill-opacity="0.8" stroke="#ccc" stroke-width="1.11"/>
<circle cx="1367.4" cy="626.5" r="1.75" fill="#ffa500"/>
<text x="1392.9" y="629.9" >Highlighted</text>
<circle cx="1367.4" cy="647.4" r="1.75" fill="#000"/>
<text x="1392.9" y="650.8" >OK</text>
</g>
<g id="panel3">
<line x1="105.5" y1="921.5" x2="1485.5" y2="921.5" stroke="#b0b0b0" stroke-width="1.11" stroke-dasharray="1.11 1.83"/>
<line x1="105.5" y1="889.5" x2="1485.5" y2="889.5" stroke="#b0b0b0" stroke-width="1.11" stroke-dasharray="1.11 1.83"/>
<line x1="105.5" y1="856.5" x2="1485.5" y2="856.5" stroke="#b0b0b0" stroke-width="1.11" stroke-dasharray="1.11 1.83"/>
<line x1="105.5" y1="823.5" x2="1485.5" y2="823.5" stroke="#b0b0b0" stroke-width="1.11" stroke-dasharray="1.11 1.83"/>
<line x1="105.5" y1="790.5" x2="1485.5" y2="790.5" stroke="#b0b0b0" stroke-width="1.11" stroke-dasharray="1.11 1.83"/>
<line x1="105.5" y1="758.5" x2="1485.5" y2="758.5" stroke="#b0b0b0" stroke-width="1.11" stroke-dasharray="1.11 1.83"/>
<line x1="105.5" y1="1009.5" x2="1485.5" y2="1009.5" stroke="#b0b0b0" stroke-width="1.11" stroke-dasharray="1.11 1.83"/>
<line x1="105.5" y1="983.5" x2="1485.5" y2="983.5" stroke="#b0b0b0" stroke-width="1.11" stroke-dasharray="1.11 1.83"/>
<line x1="105.5" y1="957.5" x2="1485.5" y2="957.5" stroke="#b0b0b0" stroke-width="1.11" stroke-dasharray="1.11 1.83"/>
<g clip-path="url(#c3)" fill="none" stroke="#000" stroke-width="0.95">
<circle cx="201" cy="889.5" r="1.0"/>
<circle cx="201.6" cy="889.5" r="1.0"/>
<circle cx="237" cy="889.5" r="1.0"/>
<circle cx="237.6" cy="889.5" r="1.0"/>
<circle cx="253.3" cy="889.5" r="1.0"/>
<circle cx="327" cy="889.5" r="1.0"/>
<circle cx="498.3" cy="889.5" r="1.0"/>
<circle cx="499.3" cy="889.5" r="1.0"/>
<circle cx="512.5" cy="889.5" r="1.0"/>
<circle cx="693.2" cy="889.5" r="1.0"/>
<circle cx="762.5" cy="889.5" r="1.0"/>
<circle cx="948.5" cy="889.5" r="1.0"/>
<circle cx="1131.5" cy="889.5" r="1.0"/>
<circle cx="1266.8" cy="889.5" r="1.0"/>
<circle cx="1268.25" cy="889.5" r="1.0"/>
<circle cx="1269.7" cy="889.5" r="1.0"/>
<circle cx="1271.15" cy="889.5" r="1.0"/>
<circle cx="1272.6" cy="889.5" r="1.0"/>
<circle cx="1274.05" cy="889.5" r="1.0"/>
<circle cx="1275.5" cy="889.5" r="1.0"/>
<circle cx="1277" cy="889.5" r="1.0"/>
<circle cx="1279.3" cy="889.5" r="1.0"/>
<circle cx="1285.8" cy="889.5" r="1.0"/>
<circle cx="1287.3" cy="889.5" r="1.0"/>
<circle cx="1290" cy="889.5" r="1.0"/>
<circle cx="1291.2" cy="889.5" r="1.0"/>
<circle cx="1292.6" cy="889.5" r="1.0"/>
<circle cx="1296.6" cy="889.5" r="1.0"/>
<circle cx="1297.5" cy="889.5" r="1.0"/>
<circle cx="1299" cy="889.5" r="1.0"/>
<circle cx="201" cy="856.5" r="1.0"/>
<circle cx="201.6" cy="856.5" r="1.0"/>
<circle cx="237" cy="856.5" r="1.0"/>
<circle cx="237.6" cy="856.5" r="1.0"/>
<circle cx="253.3" cy="856.5" r="1.0"/>
<circle cx="327" cy="856.5" r="1.0"/>
<circle cx="498.3" cy="856.5" r="1.0"/>
<circle cx="499.3" cy="856.5" r="1.0"/>
<circle cx="512.5" cy="856.5" r="1.0"/>
<circle cx="693.2" cy="856.5" r="1.0"/>
<circle cx="762.5" cy="856.5" r="1.0"/>
<circle cx="948.5" cy="856.5" r="1.0"/>
<circle cx="1131.5" cy="856.5" r="1.0"/>
<circle cx="1266.8" cy="856.5" r="1.0"/>
<circle cx="1268.25" cy="856.5" r="1.0"/>
<circle cx="1269.7" cy="856.5" r="1.0"/>
<circle cx="1271.15" cy="856.5" r="1.0"/>
<circle cx="1272.6" cy="856.5" r="1.0"/>
<circle cx="1274.05" cy="856.5" r="1.0"/>
<circle cx="1275.5" cy="856.5" r="1.0"/>
<circle cx="1277" cy="856.5" r="1.0"/>
<circle cx="1279.3" cy="856.5" r="1.0"/>
<circle cx="1285.8" cy="856.5" r="1.0"/>
<circle cx="1287.3" cy="856.5" r="1.0"/>
<circle cx="1290" cy="856.5" r="1.0"/>
<circle cx="1291.2" cy="856.5" r="1.0"/>
<circle cx="1292.6" cy="856.5" r="1.0"/>
<circle cx="1296.6" cy="856.5" r="1.0"/>
<circle cx="1297.5" cy="856.5" r="1.0"/>
<circle cx="1299" cy="856.5" r="1.0"/>
</g>
<g clip-path="url(#c4)">
<path d="M162.3 1005.9h.01M162.5 1006.3h.01M162.7 1006.6h.01M162.9 1006.9h.01M163 1007h.01M163.2 1007.1h.01M163.4 1006.5h.01M163.6 1006.3h.01M163.8 1006.3h.01M164 1005.8h.01M164.1 1005.8h.01M164.3 1006h.01M164.5 1006h.01M164.7 1005.7h.01M164.9 1005.7h.01M165.1 1005.8h.01M165.3 1005.7h.01M165.4 1006.1h.01M165.6 1006h.01M165.8 1006.4h.01M166 1006.8h.01M166.2 1007.2h.01M166.4 1007.8h.01M166.5 1007.2h.01M166.7 1006.9h.01M166.9 1006.7h.01M167.1 1006.4h.01M167.3 1006.7h.01M167.5 1006.2h.01M167.7 1006.4h.01M167.8 1006h.01M168 1006.4h.01M168.2 1006.2h.01M168.4 1006.6h.01M168.6 1006.3h.01M168.8 1006.8h.01M168.9 1006.7h.01M169.1 1006.9h.01M169.4 1007.1h.01M169.6 1007.6h.01M169.8 1007.5h.01M170 1007.7h.01M170.1 1007.9h.01M170.3 1007.8h.01M170.5 1008.2h.01M170.7 1007.9h.01M170.9 1007.8h.01M171.1 1007.8h.01M171.2 1007.6h.01M171.4 1007.5h.01M171.6 1007.3h.01M171.8 1007.5h.01M172 1007.4h.01M172.2 1007.1h.01M172.4 1007.4h.01M172.5 1007.4h.01M172.7 1007.4h.01M172.9 1007.2h.01M173.1 1007.3h.01M173.3 1007.3h.01M173.5 1007.5h.01M173.6 1007.3h.01M173.8 1007.6h.01M174 1007.4h.01M174.2 1007.2h.01M174.4 1006.8h.01M174.6 1006.8h.01M174.8 1006.9h.01M174.9 1007h.01M175.1 1006.9h.01M175.3 1007.1h.01M175.5 1007.3h.01M175.7 1007.4h.01M175.9 1007.2h.01M176 1007.3h.01M176.2 1007.4h.01M176.4 1007.4h.01M176.6 1007.2h.01M176.8 1006.8h.01M177 1006.2h.01M177.2 1006.2h.01M177.3 1006.2h.01M177.5 1005.8h.01M177.7 1005.9h.01M177.9 1005.2h.01M178.1 1005.4h.01M178.3 1005.6h.01M178.4 1005.4h.01M178.6 1005.7h.01M178.8 1005.9h.01M179 1005.6h.01M179.2 1005.8h.01M179.4 1005.6h.01M179.6 1005.5h.01M179.7 1005.3h.01M179.9 1005.6h.01M180.1 1005.3h.01M180.3 1005.3h.01M180.5 1005.1h.01M180.7 1005.1h.01M180.8 1005.2h.01M181 1005.3h.01M181.2 1005.4h.01M181.4 1005.4h.01M181.6 1005.5h.01M181.8 1006h.01M182 1006h.01M182.1 1006.5h.01M182.3 1006.2h.01M182.5 1006.4h.01M182.7 1006.8h.01M182.9 1007.1h.01M183.1 1006.8h.01M183.2 1007.1h.01M183.4 1007.3h.01M183.6 1007.3h.01M183.8 1007h.01M184 1007.3h.01M184.2 1007.2h.01M184.4 1007.6h.01M184.5 1007.5h.01M184.7 1007.8h.01M184.9 1007.7h.01M185.1 1007.3h.01M185.3 1007.4h.01M185.5 1006.8h.01M185.7 1007.1h.01M185.8 1007.2h.01M186 1007h.01M186.2 1006.7h.01M186.4 1007h.01M186.6 1006.8h.01M186.8 1007.1h.01M186.9 1007.7h.01M187.1 1007.7h.01M187.3 1008h.01M187.5 1008h.01M187.7 1008.1h.01M187.9 1008.3h.01M188.1 1008h.01M188.2 1008h.01M188.4 1007.5h.01M188.6 1007.1h.01M188.8 1007.1h.01M189 1006.8h.01M189.2 1006.7h.01M189.3 1006.7h.01M189.5 1006.6h.01M189.7 1006.3h.01M189.9 1006.4h.01M190.1 1006.5h.01M190.3 1006.6h.01M190.5 1006.8h.01M190.6 1006.5h.01M190.8 1006.9h.01M191 1007.1h.01M191.2 1007.2h.01M191.4 1006.5h.01M191.6 1006.3h.01M191.7 1005.9h.01M191.9 1005.8h.01M192.1 1005.4h.01M192.3 1005.6h.01M192.5 1005.3h.01M192.7 1005.4h.01M192.9 1005.7h.01M193 1005.6h.01M193.2 1005.4h.01M193.4 1006.3h.01M193.6 1006.1h.01M193.8 1006.2h.01M194 1006.3h.01M194.1 1006.3h.01M194.3 1006.3h.01M194.5 1006.4h.01M194.7 1006.4h.01M194.9 1006.2h.01M195.1 1006.7h.01M195.3 1006.5h.01M195.4 1006.4h.01M195.6 1006.2h.01M195.8 1006.5h.01M196 1006.4h.01M196.2 1006.4h.01M196.4 1006.5h.01M196.5 1006.7h.01M196.7 1006.9h.01M196.9 1007h.01M197.1 1007.3h.01M197.3 1007.3h.01M197.5 1007.6h.01M197.7 1007.7h.01M197.8 1007.7h.01M198 1007.7h.01M198.2 1007.5h.01M198.4 1007.2h.01M198.6 1006.8h.01M198.8 1006.8h.01M198.9 1006.7h.01M199.1 1006.1h.01M199.3 1005.7h.01M199.5 1005.6h.01M199.7 1005.6h.01M199.9 1005h.01M200.1 1004.5h.01M200.2 1004.3h.01M200.4 1004.2h.01M200.6 1004h.01M200.8 1003.9h.01M201 1004.1h.01M201.2 1003.5h.01M201.3 1003.8h.01M201.5 1004h.01M201.7 1003.4h.01M201.9 1003.9h.01M202.1 1004h.01M202.3 1004h.01M202.5 1004h.01M202.6 1004.5h.01M202.8 1004.3h.01M203 1004.8h.01M203.2 1004.4h.01M203.4 1004.9h.01M203.6 1004.9h.01M203.7 1005h.01M203.9 1005.1h.01M204.1 1005.2h.01M204.3 1005.1h.01M204.5 1005h.01M204.7 1005h.01M204.9 1005.1h.01M205 1004.7h.01M205.2 1004.9h.01M205.4 1005h.01M205.6 1005h.01M205.8 1005.1h.01M206 1005.1h.01M206.1 1005.3h.01M206.3 1005.3h.01M206.5 1005.6h.01M206.7 1005.4h.01M206.9 1005.9h.01M207.1 1006h.01M207.3 1006.2h.01M207.4 1006.3h.01M207.6 1006.4h.01M207.8 1006.8h.01M208 1007.1h.01M208.2 1007h.01M208.4 1006.9h.01M208.5 1006.8h.01M208.7 1007.1h.01M208.9 1007.2h.01M209.1 1007.5h.01M209.3 1007.7h.01M209.5 1007.6h.01M209.7 1007.5h.01M209.8 1007.5h.01M210 1007.5h.01M210.2 1007.4h.01M210.4 1007.1h.01M210.6 1007h.01M210.8 1007.1h.01M210.9 1006.8h.01M211.1 1006.5h.01M211.3 1006.4h.01M211.5 1006.6h.01M211.7 1006.8h.01M211.9 1006.4h.01M212.1 1006.8h.01M212.2 1006.7h.01M212.4 1007.2h.01M212.6 1007.6h.01M212.8 1007.5h.01M213 1007.9h.01M213.2 1008h.01M213.4 1007.8h.01M213.5 1007.8h.01M213.7 1007.4h.01M213.9 1007.5h.01M214.1 1007.5h.01M214.3 1007.2h.01M214.5 1006.8h.01M214.6 1006.9h.01M214.8 1007.2h.01M215 1007.4h.01M215.2 1007.6h.01M215.4 1007.6h.01M215.6 1008h.01M215.8 1008h.01M215.9 1007.8h.01M216.1 1007.8h.01M216.3 1007.7h.01M216.5 1007.7h.01M216.7 1008h.01M216.9 1007.9h.01M217 1008.4h.01M217.2 1008.2h.01M217.4 1008h.01M217.6 1008.4h.01M217.8 1008.4h.01M218 1008.3h.01M218.2 1008.1h.01M218.3 1007.6h.01M218.5 1007.1h.01M218.7 1006.9h.01M218.9 1006.7h.01M219.1 1006.4h.01M219.3 1006h.01M219.4 1006.1h.01M219.6 1005.5h.01M219.8 1005.5h.01M220 1005.5h.01M220.2 1005.5h.01M220.4 1005.6h.01M220.6 1005.7h.01M220.7 1005.8h.01M220.9 1006.2h.01M221.1 1006.4h.01M221.3 1006.6h.01M221.5 1006.5h.01M221.7 1006.7h.01M221.8 1006.4h.01M222 1006.3h.01M222.2 1006.3h.01M222.4 1006.6h.01M222.6 1006.5h.01M222.8 1006.6h.01M223 1006.7h.01M223.1 1006.7h.01M223.3 1006.6h.01M223.5 1006.8h.01M223.7 1006.8h.01M223.9 1007.2h.01M224.1 1007.4h.01M224.2 1007.5h.01M224.4 1007.5h.01M224.6 1007.4h.01M224.8 1007.6h.01M225 1007.5h.01M225.2 1007.6h.01M225.4 1007.5h.01M225.5 1007.7h.01M225.7 1007.7h.01M225.9 1007.6h.01M226.1 1007.6h.01M226.3 1007.6h.01M226.5 1007.5h.01M226.6 1007.7h.01M226.8 1007.4h.01M227 1007.5h.01M227.2 1007.1h.01M227.4 1007.4h.01M227.6 1007.2h.01M227.8 1007.2h.01M227.9 1007.3h.01M228.1 1007.3h.01M228.3 1007.2h.01M228.5 1007.1h.01M228.7 1007.5h.01M228.9 1007.7h.01M229 1008.2h.01M229.2 1008.1h.01M229.4 1008.4h.01M229.6 1008.2h.01M229.8 1008.3h.01M230 1008.1h.01M230.2 1008h.01M230.3 1007.9h.01M230.5 1007.8h.01M230.7 1008h.01M230.9 1008h.01M231.1 1008.1h.01M231.3 1007.8h.01M231.4 1007.8h.01M231.6 1007.3h.01M231.8 1007.4h.01M232 1006.9h.01M232.2 1006.8h.01M232.4 1006.3h.01M232.6 1006.6h.01M232.7 1005.9h.01M232.9 1006.1h.01M233.1 1005.6h.01M233.3 1006h.01M233.5 1005.9h.01M233.7 1006.2h.01M233.8 1006h.01M234 1006.2h.01M234.2 1005.8h.01M234.4 1005.5h.01M234.6 1005.3h.01M234.8 1005.2h.01M235 1004.9h.01M235.1 1004.7h.01M235.3 1004.8h.01M235.5 1005h.01M235.7 1004.5h.01M235.9 1004.4h.01M236.1 1004.2h.01M236.2 1004.2h.01M236.4 1004h.01M236.6 1003.9h.01M236.8 1004.1h.01M237 1004h.01M237.2 1004.3h.01M237.4 1004.6h.01M237.5 1004.8h.01M237.7 1005.3h.01M237.9 1005.4h.01M238.1 1005.5h.01M238.3 1005.3h.01M238.5 1005.5h.01M238.6 1005.7h.01M238.8 1006.1h.01M239 1006.4h.01M239.2 1006.9h.01M239.4 1006.8h.01M239.6 1006.9h.01M239.8 1006.8h.01M239.9 1006.8h.01M240.1 1007.1h.01M240.3 1007.3h.01M240.5 1007.8h.01M240.7 1007.8h.01M240.9 1008.1h.01M241 1007.8h.01M241.2 1007.1h.01M241.4 1006.7h.01M241.6 1006.2h.01M241.8 1005.8h.01M242 1005.1h.01M242.2 1004.8h.01M242.3 1004.5h.01M242.5 1004.2h.01M242.7 1003.6h.01M242.9 1003.7h.01M243.1 1003.1h.01M243.3 1003.3h.01M243.5 1003.3h.01M243.6 1003.2h.01M243.8 1003.5h.01M244 1003.5h.01M244.2 1003.8h.01M244.4 1004.1h.01M244.6 1004.8h.01M244.7 1005h.01M244.9 1005.6h.01M245.1 1004.9h.01M245.3 1004.7h.01M245.5 1004.7h.01M245.7 1004.1h.01M245.9 1004.3h.01M246 1004h.01M246.2 1003.9h.01M246.4 1004.1h.01M246.6 1004.1h.01M246.8 1004.3h.01M247 1004.4h.01M247.1 1004.9h.01M247.3 1004.9h.01M247.5 1005.3h.01M247.7 1005.3h.01M247.9 1005.4h.01M248.1 1005.7h.01M248.3 1006h.01M248.4 1006h.01M248.6 1006.3h.01M248.8 1006.3h.01M249 1006.7h.01M249.2 1006.8h.01M249.4 1007h.01M249.5 1006.6h.01M249.7 1006.7h.01M249.9 1006.2h.01M250.1 1006.1h.01M250.3 1005.8h.01M250.5 1005.6h.01M250.7 1005.5h.01M250.8 1005.5h.01M251 1005.2h.01M251.2 1005.1h.01M251.4 1005.2h.01M251.6 1005.1h.01M251.8 1005.1h.01M251.9 1005.5h.01M252.1 1005.3h.01M252.3 1005.9h.01M252.5 1005.7h.01M252.7 1005.4h.01M252.9 1005.2h.01M253.1 1005h.01M253.2 1004.6h.01M253.4 1004.4h.01M253.6 1004h.01M253.8 1004h.01M254 1004.2h.01M254.2 1004.1h.01M254.3 1004.2h.01M254.5 1004.6h.01M254.7 1004.5h.01M254.9 1005.1h.01M255.1 1005.1h.01M255.3 1005.5h.01M255.5 1005.6h.01M255.6 1006.3h.01M255.8 1006.4h.01M256 1007h.01M256.2 1007.5h.01M256.4 1007.6h.01M256.6 1007.7h.01M256.7 1007.7h.01M256.9 1007.6h.01M257.1 1007h.01M257.3 1006.6h.01M257.5 1006.4h.01M257.7 1006.2h.01M257.9 1006.1h.01M258 1006.2h.01M258.2 1006.3h.01M258.4 1005.7h.01M258.6 1006.3h.01M258.8 1006.1h.01M259 1006.3h.01M259.1 1006.6h.01M259.3 1006.2h.01M259.5 1006h.01M259.7 1006.1h.01M259.9 1005.9h.01M260.1 1005.4h.01M260.3 1005.7h.01M260.4 1005.8h.01M260.6 1005.8h.01M260.8 1005.6h.01M261 1005.9h.01M261.2 1006h.01M261.4 1006.3h.01M261.5 1006.3h.01M261.7 1006.5h.01M261.9 1006.4h.01M262.1 1006.2h.01M262.3 1006.1h.01M262.5 1006.4h.01M262.7 1006.2h.01M262.8 1006.5h.01M263 1006.8h.01M263.2 1006.4h.01M263.4 1006.4h.01M263.6 1006.1h.01M263.8 1005.9h.01M263.9 1005.8h.01M264.1 1005.9h.01M264.3 1006h.01M264.5 1005.8h.01M264.7 1005.8h.01M264.9 1006.2h.01M265.1 1006.5h.01M265.2 1006.6h.01M265.4 1007.2h.01M265.6 1006.8h.01M265.8 1007h.01M266 1006.8h.01M266.2 1006.5h.01M266.3 1006.6h.01M266.5 1006.5h.01M266.7 1006.6h.01M266.9 1006.6h.01M267.1 1006.3h.01M267.3 1006.2h.01M267.5 1005.7h.01M267.6 1005.7h.01M267.8 1006h.01M268 1005.8h.01M268.2 1006h.01M268.4 1006.4h.01M268.6 1006.4h.01M268.7 1006.9h.01M268.9 1007h.01M269.1 1007.5h.01M269.3 1007.6h.01M269.5 1007.7h.01M269.7 1008h.01M269.9 1008.1h.01M270 1008h.01M270.2 1007.8h.01M270.4 1007.6h.01M270.6 1007.4h.01M270.8 1007.5h.01M271 1007.4h.01M271.1 1007.4h.01M271.3 1007h.01M271.5 1007h.01M271.7 1006.9h.01M271.9 1006.7h.01M272.1 1006.6h.01M272.3 1006.6h.01M272.4 1006.5h.01M272.6 1006.6h.01M272.8 1007.2h.01M273 1007.3h.01M273.2 1007.4h.01M273.4 1007.9h.01M273.6 1008.1h.01M273.7 1008h.01M273.9 1007.9h.01M274.1 1008h.01M274.3 1007.4h.01M274.5 1007.4h.01M274.7 1007.4h.01M274.8 1007.5h.01M275 1007.3h.01M275.2 1007.2h.01M275.4 1007h.01M275.6 1006.5h.01M275.8 1006.4h.01M276 1006.1h.01M276.1 1006.3h.01M276.3 1006h.01M276.5 1006.1h.01M276.7 1006.2h.01M276.9 1006.2h.01M277.1 1006.3h.01M277.2 1006.2h.01M277.4 1006.2h.01M277.6 1006.1h.01M277.8 1006.5h.01M278 1005.9h.01M278.2 1006.1h.01M278.4 1005.7h.01M278.5 1005.8h.01M278.7 1005.5h.01M278.9 1005.6h.01M279.1 1005.6h.01M279.3 1005.3h.01M279.5 1005.4h.01M279.6 1005.8h.01M279.8 1005.5h.01M280 1005.7h.01M280.2 1006.3h.01M280.4 1006.5h.01M280.6 1007.2h.01M280.8 1007.4h.01M280.9 1006.8h.01M281.1 1006.2h.01M281.3 1005.9h.01M281.5 1005.9h.01M281.7 1005.6h.01M281.9 1005h.01M282 1005.2h.01M282.2 1005.2h.01M282.4 1005.2h.01M282.6 1005.2h.01M282.8 1005.4h.01M283 1005.7h.01M283.2 1005.1h.01M283.3 1004.6h.01M283.5 1004.2h.01M283.7 1003.7h.01M283.9 1003.5h.01M284.1 1003.2h.01M284.3 1002.9h.01M284.4 1002.8h.01M284.6 1002.9h.01M284.8 1003.1h.01M285 1002.9h.01M285.2 1003.4h.01M285.4 1003.2h.01M285.6 1003.2h.01M285.7 1004h.01M285.9 1003.9h.01M286.1 1004.1h.01M286.3 1004.5h.01M286.5 1004h.01M286.7 1004.3h.01M286.8 1004.1h.01M287 1004.1h.01M287.2 1004.4h.01M287.4 1004.7h.01M287.6 1004.9h.01M287.8 1005.4h.01M288 1005.8h.01M288.1 1006h.01M288.3 1006.5h.01M288.5 1007h.01M288.7 1007.2h.01M288.9 1007.4h.01M289.1 1007.2h.01M289.2 1007h.01M289.4 1006.3h.01M289.6 1005.9h.01M289.8 1005.5h.01M290 1004.8h.01M290.2 1004.4h.01M290.4 1003.9h.01M290.5 1003.7h.01M290.7 1003.2h.01M290.9 1003h.01M291.1 1002.9h.01M291.3 1002.8h.01M291.5 1002.4h.01M291.6 1002.5h.01M291.8 1002.3h.01M292 1002.2h.01M292.2 1002.3h.01M292.4 1002.1h.01M292.6 1002.1h.01M292.8 1001.5h.01M292.9 1001.7h.01M293.1 1001.6h.01M293.3 1001.6h.01M293.5 1001h.01M293.7 1001.5h.01M293.9 1001.1h.01M294 1001.7h.01M294.2 1002.2h.01M294.4 1002.2h.01M294.6 1002.4h.01M294.8 1002.4h.01M295 1002h.01M295.2 1001.6h.01M295.3 1001.4h.01M295.5 1001.2h.01M295.7 1001.3h.01M295.9 1001.4h.01M296.1 1001.2h.01M296.3 1001.6h.01M296.4 1001.6h.01M296.6 1001.6h.01M296.8 1002.4h.01M297 1002.6h.01M297.2 1002.8h.01M297.4 1003h.01M297.6 1003.3h.01M297.7 1004h.01M297.9 1004.1h.01M298.1 1003.8h.01M298.3 1003.7h.01M298.5 1003.8h.01M298.7 1003.6h.01M298.8 1003.5h.01M299 1004.3h.01M299.2 1004.4h.01M299.4 1004.7h.01M299.6 1004.8h.01M299.8 1005.1h.01M300 1005h.01M300.1 1004.7h.01M300.3 1004.5h.01M300.5 1004.7h.01M300.7 1004.4h.01M300.9 1004.6h.01M301.1 1004.9h.01M301.3 1005.3h.01M301.4 1005.2h.01M301.6 1005.5h.01M301.8 1005.4h.01M302 1006h.01M302.2 1005.8h.01M302.4 1005.9h.01M302.5 1006.2h.01M302.7 1005.9h.01M302.9 1006.1h.01M303.1 1006.3h.01M303.3 1006.1h.01M303.5 1006.1h.01M303.7 1006.2h.01M303.8 1005.9h.01M304 1006.5h.01M304.2 1006.3h.01M304.4 1006.5h.01M304.6 1006.7h.01M304.8 1006.7h.01M304.9 1006.8h.01M305.1 1006.7h.01M305.3 1006.7h.01M305.5 1006.5h.01M305.7 1006.4h.01M305.9 1006.4h.01M306.1 1006.5h.01M306.2 1006.3h.01M306.4 1006.6h.01M306.6 1006.4h.01M306.8 1006.3h.01M307 1005.9h.01M307.2 1005.6h.01M307.3 1005.2h.01M307.5 1004.9h.01M307.7 1004.8h.01M307.9 1004.7h.01M308.1 1004.9h.01M308.3 1004.8h.01M308.5 1005h.01M308.6 1005h.01M308.8 1004.9h.01M309 1005.3h.01M309.2 1005h.01M309.4 1005.4h.01M309.6 1005.3h.01M309.7 1005.4h.01M309.9 1005.1h.01M310.1 1005.1h.01M310.3 1005h.01M310.5 1004.9h.01M310.7 1004.7h.01M310.9 1004.4h.01M311 1004.7h.01M311.2 1004.3h.01M311.4 1004.2h.01M311.6 1003.9h.01M311.8 1004h.01M312 1004h.01M312.1 1003.9h.01M312.3 1003.9h.01M312.5 1004h.01M312.7 1004.3h.01M312.9 1004.2h.01M313.1 1004.1h.01M313.3 1004.4h.01M313.4 1004.6h.01M313.6 1004.3h.01M313.8 1004.5h.01M314 1005.1h.01M314.2 1005.1h.01M314.4 1005.1h.01M314.5 1005.4h.01M314.7 1005.3h.01M314.9 1005.2h.01M315.1 1005.3h.01M315.3 1005.7h.01M315.5 1005.4h.01M315.7 1005.7h.01M315.8 1005.6h.01M316 1005.9h.01M316.2 1006.2h.01M316.4 1006.6h.01M316.6 1006.6h.01M316.8 1006.6h.01M316.9 1007.3h.01M317.1 1007.8h.01M317.3 1008h.01M317.5 1007.9h.01M317.7 1007.9h.01M317.9 1007.4h.01M318.1 1006.9h.01M318.2 1006.9h.01M318.4 1006.4h.01M318.6 1006.3h.01M318.8 1006.3h.01M319 1006.1h.01M319.2 1005.7h.01M319.3 1005.8h.01M319.5 1006h.01M319.7 1005.7h.01M319.9 1006.2h.01M320.1 1005.9h.01M320.3 1005.8h.01M320.5 1006.3h.01M320.6 1006h.01M320.8 1006.1h.01M321 1005.8h.01M321.2 1006h.01M321.4 1006.1h.01M321.6 1005.8h.01M321.7 1005.5h.01M321.9 1005.8h.01M322.1 1005.7h.01M322.3 1006h.01M322.5 1005.9h.01M322.7 1005.9h.01M322.9 1006.1h.01M323 1006h.01M323.2 1006.3h.01M323.4 1006.3h.01M323.6 1006.5h.01M323.8 1006.5h.01M324 1007h.01M324.1 1006.9h.01M324.3 1007.1h.01M324.5 1007.4h.01M324.7 1007.3h.01M324.9 1007.4h.01M325.1 1007.6h.01M325.3 1007.8h.01M325.4 1007.8h.01M325.6 1007.6h.01M325.8 1007.4h.01M326 1007.4h.01M326.2 1007.1h.01M326.4 1007.2h.01M326.5 1006.8h.01M326.7 1006.9h.01M326.9 1007h.01M327.1 1006.9h.01M327.3 1007h.01M327.5 1007h.01M327.7 1007.2h.01M327.8 1007.2h.01M328 1007.2h.01M328.2 1007.4h.01M328.4 1007.2h.01M328.6 1006.8h.01M328.8 1006.7h.01M328.9 1006.2h.01M329.1 1006.3h.01M329.3 1005.4h.01M329.5 1004.9h.01M329.7 1004.6h.01M329.9 1004.4h.01M330.1 1004.6h.01M330.2 1004.2h.01M330.4 1004.1h.01M330.6 1004.5h.01M330.8 1004.7h.01M331 1004.9h.01M331.2 1005.3h.01M331.4 1005.7h.01M331.5 1006.2h.01M331.7 1006.5h.01M331.9 1006.9h.01M332.1 1007.3h.01M332.3 1006.8h.01M332.5 1007.1h.01M332.6 1007.4h.01M332.8 1007.6h.01M333 1007.5h.01M333.2 1007.1h.01M333.4 1007.2h.01M333.6 1006.9h.01M333.8 1007h.01M333.9 1007.1h.01M334.1 1007.4h.01M334.3 1007.5h.01M334.5 1007.6h.01M334.7 1007.8h.01M334.9 1008.1h.01M335 1007.6h.01M335.2 1007.1h.01M335.4 1007.5h.01M335.6 1006.8h.01M335.8 1006.6h.01M336 1006.7h.01M336.2 1006.9h.01M336.3 1007.3h.01M336.5 1007.4h.01M336.7 1007.5h.01M336.9 1007.7h.01M337.1 1007.2h.01M337.3 1006.7h.01M337.4 1006.8h.01M337.6 1006.8h.01M337.8 1007h.01M338 1007.2h.01M338.2 1007.5h.01M338.4 1007.7h.01M338.6 1007.4h.01M338.7 1007.8h.01M338.9 1008.5h.01M339.1 1008.5h.01M339.3 1008.2h.01M339.5 1008.1h.01M339.7 1008h.01M339.8 1007.9h.01M340 1007.8h.01M340.2 1007.3h.01M340.4 1007.2h.01M340.6 1007.2h.01M340.8 1006.6h.01M341 1006.6h.01M341.1 1006.3h.01M341.3 1006.1h.01M341.5 1006.2h.01M341.5 1006h.01M341.7 1006h.01M341.9 1005.9h.01M342.1 1005.7h.01M342.2 1006.1h.01M342.4 1006.4h.01M342.6 1006.3h.01M342.8 1006.5h.01M343 1006.9h.01M343.2 1007h.01M343.4 1006.8h.01M343.5 1007.1h.01M343.7 1007.1h.01M343.9 1007.1h.01M344.1 1007.3h.01M344.3 1007.1h.01M344.5 1007.4h.01M344.6 1007.2h.01M344.8 1007.3h.01M345 1007.1h.01M345.2 1006.9h.01M345.4 1006.7h.01M345.6 1006.6h.01M345.8 1006.3h.01M345.9 1006.4h.01M346.1 1006.3h.01M346.3 1006.1h.01M346.5 1006.3h.01M346.7 1006h.01M346.9 1005.8h.01M347 1006.2h.01M347.2 1006h.01M347.4 1006.4h.01M347.6 1006.8h.01M347.8 1006.6h.01M348 1006.7h.01M348.2 1006.7h.01M348.3 1007h.01M348.5 1007.2h.01M348.7 1007.3h.01M348.9 1007.1h.01M349.1 1007.1h.01M349.3 1007.3h.01M349.4 1006.9h.01M349.6 1007.1h.01M349.8 1007.1h.01M350 1006.8h.01M350.2 1007.1h.01M350.4 1007.3h.01M350.6 1007.5h.01M350.7 1007.6h.01M350.9 1007.8h.01M351.1 1007.8h.01M351.3 1007.6h.01M351.5 1007.7h.01M351.7 1007.6h.01M351.8 1008h.01M352 1007.3h.01M352.2 1007.5h.01M352.4 1007.7h.01M352.6 1007.3h.01M352.8 1007.1h.01M353 1007.1h.01M353.1 1007.1h.01M353.3 1006.9h.01M353.5 1006.7h.01M353.7 1006.7h.01M353.9 1006.8h.01M354.1 1006.4h.01M354.2 1006.6h.01M354.4 1006.6h.01M354.6 1006.6h.01M354.8 1006.7h.01M355 1006.5h.01M355.2 1006.3h.01M355.4 1007.1h.01M355.5 1006.9h.01M355.7 1007h.01M355.9 1007.6h.01M356.1 1007.7h.01M356.3 1007.8h.01M356.5 1007.9h.01M356.6 1008.2h.01M356.8 1008h.01M357 1007.6h.01M357.2 1007.7h.01M357.4 1008h.01M357.6 1007.8h.01M357.8 1007.8h.01M357.9 1007.3h.01M358.1 1007.3h.01M358.3 1007.4h.01M358.5 1007.4h.01M358.7 1007.4h.01M358.9 1007.4h.01M359 1007.1h.01M359.2 1007.3h.01M359.4 1007.2h.01M359.6 1007.2h.01M359.8 1007.4h.01M360 1007.3h.01M360.2 1007.5h.01M360.3 1007.7h.01M360.5 1007.8h.01M360.7 1007.6h.01M360.9 1007.9h.01M361.1 1007.9h.01M361.3 1007.7h.01M361.5 1007.7h.01M361.6 1007.4h.01M361.8 1007.4h.01M362 1007.1h.01M362.2 1006.7h.01M362.4 1006.5h.01M362.6 1006.4h.01M362.7 1006.2h.01M362.9 1005.9h.01M363.1 1005.7h.01M363.3 1005.5h.01M363.5 1005h.01M363.7 1004.7h.01M363.9 1004.5h.01M364 1004.8h.01M364.2 1004.3h.01M364.4 1004.5h.01M364.6 1004.8h.01M364.8 1004.7h.01M365 1005.2h.01M365.1 1005.5h.01M365.3 1005.8h.01M365.5 1006.1h.01M365.7 1006.6h.01M365.9 1006.6h.01M366.1 1006.8h.01M366.3 1007.6h.01M366.4 1007.5h.01M366.6 1007.5h.01M366.8 1007.4h.01M366.8 1007.8h.01M367 1007.6h.01M367.2 1007.6h.01M367.4 1007.2h.01M367.5 1007.1h.01M367.7 1006.9h.01M367.9 1006.6h.01M368.1 1006.5h.01M368.3 1006.2h.01M368.5 1006.3h.01M368.7 1006.3h.01M368.8 1006.1h.01M369 1006.2h.01M369.2 1006.1h.01M369.2 1006.2h.01M369.4 1006.2h.01M369.6 1005.9h.01M369.8 1006.1h.01M369.9 1005.5h.01M370.1 1005.3h.01M370.3 1005.6h.01M370.5 1005.2h.01M370.7 1005.5h.01M370.9 1005.7h.01M371.1 1005.6h.01M371.2 1005.8h.01M371.4 1005.5h.01M371.6 1005.3h.01M371.8 1004.9h.01M372 1004.4h.01M372.2 1004.7h.01M372.3 1004.5h.01M372.5 1004.7h.01M372.7 1004.4h.01M372.9 1004.7h.01M373.1 1004.2h.01M373.3 1004.2h.01M373.5 1004.1h.01M373.6 1004.4h.01M373.8 1004.5h.01M374 1004.1h.01M374.2 1003.9h.01M374.4 1004.3h.01M374.6 1004.6h.01M374.7 1004.8h.01M374.9 1005.3h.01M375.1 1005.6h.01M375.3 1005.8h.01M375.5 1006.2h.01M375.7 1006.8h.01M375.9 1007.8h.01M376 1008.2h.01M376.2 1008.1h.01M376.4 1008.2h.01M376.6 1007.5h.01M376.8 1007.3h.01M377 1007.2h.01M377.1 1007.3h.01M377.3 1007.5h.01M377.5 1007.6h.01M377.7 1007.9h.01M377.9 1008h.01M378.1 1007.7h.01M378.3 1007.7h.01M378.4 1007.9h.01M378.6 1007.2h.01M378.8 1007.5h.01M379 1007.6h.01M379.2 1007.9h.01M379.4 1007.8h.01M379.5 1007.8h.01M379.7 1007.4h.01M379.9 1007.3h.01M380.1 1007.5h.01M380.3 1007.4h.01M380.5 1007.5h.01M380.7 1007.9h.01M380.8 1007.7h.01M381 1008.1h.01M381.2 1008.2h.01M381.4 1008.3h.01M381.6 1008.2h.01M381.8 1008h.01M381.9 1007.9h.01M382.1 1007.7h.01M382.3 1007.7h.01M382.5 1007.6h.01M382.7 1007.2h.01M382.9 1007.5h.01M383.1 1007.5h.01M383.2 1007.2h.01M383.4 1007.6h.01M383.6 1007.4h.01M383.8 1007.1h.01M384 1007h.01M384.2 1006.7h.01M384.3 1006.7h.01M384.5 1006.3h.01M384.7 1006.7h.01M384.9 1006.5h.01M385.1 1006.3h.01M385.3 1006.2h.01M385.5 1005.9h.01M385.6 1005.2h.01M385.8 1005.4h.01M386 1005.1h.01M386.2 1005.3h.01M386.4 1005.2h.01M386.6 1005.2h.01M386.7 1004.9h.01M386.9 1005.4h.01M387.1 1005.6h.01M387.3 1006h.01M387.5 1006h.01M387.7 1005.5h.01M387.9 1004.9h.01M388 1005h.01M388.2 1004.5h.01M388.4 1004.6h.01M388.6 1004.3h.01M388.8 1004.1h.01M389 1004.4h.01M389.2 1004.6h.01M389.3 1004.7h.01M389.5 1005.3h.01M389.7 1005.9h.01M389.9 1006.5h.01M390.1 1007.2h.01M390.3 1007.7h.01M390.4 1008.4h.01M390.6 1008.3h.01M390.8 1008.3h.01M391 1007.9h.01M391.2 1007.6h.01M391.4 1007.7h.01M391.6 1007.4h.01M391.7 1006.9h.01M391.9 1006.3h.01M392.1 1006h.01M392.3 1006.1h.01M392.5 1005.4h.01M392.7 1005h.01M392.8 1004.9h.01M393 1004.7h.01M393.2 1004.6h.01M393.4 1004.2h.01M393.6 1004.1h.01M393.8 1004.3h.01M394 1004.1h.01M394.1 1004h.01M394.3 1004.2h.01M394.5 1004.3h.01M394.7 1004.5h.01M394.9 1004.8h.01M395.1 1004.9h.01M395.2 1005.4h.01M395.4 1005.6h.01M395.6 1006.1h.01M395.8 1006.7h.01M396 1006.6h.01M396.2 1006.6h.01M396.4 1006.8h.01M396.5 1006.5h.01M396.7 1006.6h.01M396.9 1006.4h.01M397.1 1006.3h.01M397.3 1006.5h.01M397.5 1006.4h.01M397.6 1006.5h.01M397.8 1006.6h.01M398 1006.9h.01M398.2 1007.1h.01M398.4 1007.2h.01M398.6 1007.2h.01M398.8 1007.4h.01M398.9 1007.7h.01M399.1 1007.8h.01M399.3 1007.6h.01M399.5 1007.9h.01M399.7 1008.2h.01M399.9 1008h.01M400 1008.3h.01M400.2 1008.1h.01M400.4 1008.1h.01M400.6 1007.7h.01M400.8 1007.6h.01M401 1007.3h.01M401.2 1006.9h.01M401.3 1006.8h.01M401.5 1006.7h.01M401.7 1006.4h.01M401.9 1006.5h.01M402.1 1006.5h.01M402.3 1006.1h.01M402.4 1006.1h.01M402.6 1005.8h.01M402.8 1006.2h.01M403 1005.9h.01M403.2 1006.1h.01M403.4 1006.3h.01M403.6 1006.3h.01M403.7 1006.9h.01M403.9 1007h.01M404.1 1006.9h.01M404.3 1006.7h.01M404.5 1007.1h.01M404.7 1007h.01M404.8 1007.2h.01M405 1007.4h.01M405.2 1007h.01M405.4 1007.1h.01M405.6 1007.4h.01M405.8 1007.3h.01M406 1007.7h.01M406.1 1007.7h.01M406.3 1007.9h.01M406.5 1008h.01M406.7 1007.8h.01M406.9 1007.7h.01M407.1 1007.8h.01M407.2 1007.6h.01M407.4 1007.3h.01M407.6 1007h.01M407.8 1007.1h.01M408 1007.1h.01M408.2 1006.8h.01M408.4 1006.9h.01M408.5 1007.1h.01M408.7 1007h.01M408.9 1007.1h.01M409.1 1006.8h.01M409.3 1007.2h.01M409.5 1007.1h.01M409.6 1007.6h.01M409.8 1007.6h.01M410 1007.6h.01M410.2 1008.1h.01M410.4 1008.4h.01M410.6 1008.1h.01M410.8 1008h.01M410.9 1007.7h.01M411.1 1007.8h.01M411.3 1007.4h.01M411.5 1007.4h.01M411.7 1007.5h.01M411.9 1006.9h.01M412 1006.6h.01M412.2 1006.4h.01M412.4 1005.9h.01M412.6 1005.9h.01M412.8 1005.3h.01M413 1005.1h.01M413.2 1004.8h.01M413.3 1004.4h.01M413.5 1004.2h.01M413.7 1004.2h.01M413.9 1003.9h.01M414.1 1003.6h.01M414.3 1003.4h.01M414.4 1003.2h.01M414.6 1002.6h.01M414.8 1002.4h.01M415 1002.1h.01M415.2 1002.3h.01M415.4 1001.9h.01M415.6 1001.3h.01M415.7 1001.1h.01M415.9 1000.8h.01M416.1 1000.6h.01M416.3 1000.9h.01M416.5 1000.9h.01M416.7 1000.9h.01M416.8 1001h.01M417 1001h.01M417.2 1001.4h.01M417.4 1001.9h.01M417.6 1001.9h.01M417.8 1001.8h.01M418 1001.7h.01M418.1 1001.8h.01M418.3 1001.6h.01M418.5 1001.8h.01M418.7 1002h.01M418.9 1001.8h.01M419.1 1001.9h.01M419.3 1002.2h.01M419.4 1002.7h.01M419.6 1002.7h.01M419.8 1002.7h.01M420 1003.6h.01M420.2 1003.5h.01M420.4 1003.8h.01M420.5 1003.6h.01M420.7 1003.2h.01M420.9 1003h.01M421.1 1002.9h.01M421.3 1003.2h.01M421.5 1003.1h.01M421.7 1003.1h.01M421.8 1002.7h.01M422 1002.8h.01M422.2 1003.1h.01M422.4 1003.2h.01M422.6 1003.3h.01M422.8 1003.8h.01M422.9 1004.2h.01M423.1 1004.3h.01M423.3 1004.6h.01M423.5 1004.8h.01M423.7 1005.3h.01M423.9 1005.7h.01M424.1 1005.8h.01M424.2 1006h.01M424.4 1005.8h.01M424.6 1005.9h.01M424.8 1005.7h.01M425 1006h.01M425.2 1005.6h.01M425.3 1005.6h.01M425.5 1005.6h.01M425.7 1005.8h.01M425.9 1005.9h.01M426.1 1005.7h.01M426.3 1006.1h.01M426.5 1006h.01M426.6 1006.4h.01M426.8 1006.5h.01M427 1006.4h.01M427.2 1006.8h.01M427.4 1006.7h.01M427.6 1006.9h.01M427.7 1006.9h.01M427.9 1007h.01M428.1 1007.5h.01M428.3 1007.7h.01M428.5 1008.1h.01M428.7 1008.6h.01M428.9 1008.1h.01M429 1007.7h.01M429.2 1007.1h.01M429.4 1007h.01M429.6 1006.7h.01M429.8 1006.6h.01M430 1006.3h.01M430.1 1006.5h.01M430.3 1006.3h.01M430.5 1006.8h.01M430.7 1006.9h.01M430.9 1007.1h.01M431.1 1007.6h.01M431.3 1007.7h.01M431.4 1007.9h.01M431.6 1007.9h.01M431.8 1008.2h.01M432 1008.1h.01M432.2 1008h.01M432.4 1008.1h.01M432.5 1008.5h.01M432.7 1007.9h.01M432.9 1008.4h.01M433.1 1008.1h.01M433.3 1007.7h.01M433.5 1007.6h.01M433.7 1007.5h.01M433.8 1007.6h.01M434 1007.3h.01M434.2 1007.4h.01M434.4 1007.6h.01M434.6 1007.7h.01M434.8 1007.2h.01M434.9 1007.4h.01M435.1 1007h.01M435.3 1006.7h.01M435.5 1006.7h.01M435.7 1006.4h.01M435.9 1006.7h.01M436.1 1006.8h.01M436.2 1006.2h.01M436.4 1006h.01M436.6 1005.9h.01M436.8 1005.6h.01M437 1005.5h.01M437.2 1005.6h.01M437.3 1005.3h.01M437.5 1005.7h.01M437.7 1005.5h.01M437.9 1005.8h.01M438.1 1005.7h.01M438.3 1005.9h.01M438.5 1005.7h.01M438.6 1006.1h.01M438.8 1006.4h.01M439 1006.5h.01M439.2 1006.5h.01M439.4 1006.7h.01M439.6 1006.8h.01M439.7 1006.9h.01M439.9 1006.7h.01M440.1 1006.7h.01M440.3 1006.9h.01M440.5 1006.5h.01M440.7 1006.6h.01M440.9 1006.5h.01M441 1006.8h.01M441.2 1006.8h.01M441.4 1006.9h.01M441.6 1007.1h.01M441.8 1006.9h.01M442 1006.9h.01M442.1 1006.4h.01M442.3 1006.7h.01M442.5 1006.7h.01M442.7 1006.8h.01M442.9 1006.5h.01M443.1 1006.5h.01M443.3 1006.4h.01M443.4 1006.7h.01M443.6 1006.7h.01M443.8 1006.9h.01M444 1007h.01M444.2 1006.4h.01M444.4 1006.5h.01M444.5 1006h.01M444.7 1006h.01M444.9 1005.8h.01M445.1 1005.6h.01M445.3 1005.5h.01M445.5 1004.9h.01M445.7 1004.5h.01M445.8 1004.3h.01M446 1003.8h.01M446.2 1003.5h.01M446.4 1003.2h.01M446.6 1003.1h.01M446.8 1002.7h.01M446.9 1002.9h.01M447.1 1002.3h.01M447.3 1002.7h.01M447.5 1002.2h.01M447.7 1002.4h.01M447.9 1002.2h.01M448.1 1002.3h.01M448.2 1002.5h.01M448.4 1002.6h.01M448.6 1002.8h.01M448.8 1002.7h.01M449 1002.9h.01M449.2 1002.2h.01M449.3 1002.1h.01M449.4 1002.2h.01M449.5 1001.8h.01M449.7 1001.9h.01M449.9 1001.7h.01M450.1 1001.8h.01M450.2 1001.7h.01M450.2 1001.8h.01M450.3 1002.1h.01M450.5 1002h.01M450.6 1002.2h.01M450.8 1002.4h.01M451 1002.4h.01M451.2 1002.8h.01M451.4 1003.4h.01M451.6 1003.6h.01M451.8 1004h.01M451.9 1004.3h.01M452.1 1004.8h.01M452.3 1005.4h.01M452.5 1005.6h.01M452.7 1005.7h.01M452.9 1006.3h.01M453 1006.6h.01M453.2 1006.8h.01M453.4 1007h.01M453.6 1007.1h.01M453.8 1007h.01M454 1007.1h.01M454.2 1007.1h.01M454.3 1006.7h.01M454.5 1006.6h.01M454.7 1006.2h.01M454.9 1006.2h.01M455.1 1006h.01M455.3 1006.3h.01M455.4 1005.9h.01M455.6 1005.9h.01M455.8 1006.1h.01M456 1006.3h.01M456.2 1006.2h.01M456.4 1006.2h.01M456.6 1006.4h.01M456.7 1006.6h.01M456.9 1006.6h.01M457.1 1006.7h.01M457.3 1007h.01M457.5 1006.8h.01M457.7 1007h.01M457.8 1007.1h.01M458 1007.3h.01M458.2 1007.2h.01M458.4 1007.6h.01M458.6 1007.7h.01M458.8 1007.5h.01M459 1007.4h.01M459.1 1007.6h.01M459.3 1007.8h.01M459.5 1007.5h.01M459.7 1007.5h.01M459.9 1007.5h.01M460.1 1007.5h.01M460.2 1007.4h.01M460.4 1007.6h.01M460.6 1007.6h.01M460.8 1007.6h.01M461 1007.6h.01M461.2 1007.4h.01M461.4 1007.5h.01M461.5 1007.6h.01M461.7 1007.9h.01M461.9 1008.1h.01M462.1 1007.8h.01M462.3 1007.9h.01M462.5 1008.3h.01M462.6 1008.1h.01M462.8 1008.2h.01M463 1007.8h.01M463.2 1007.7h.01M463.4 1007.5h.01M463.6 1007.1h.01M463.8 1006.7h.01M463.9 1006.5h.01M464.1 1006.2h.01M464.3 1006.5h.01M464.5 1006.4h.01M464.7 1006.3h.01M464.9 1006.3h.01M465 1006.1h.01M465.2 1006.2h.01M465.4 1006.2h.01M465.4 1006.3h.01M465.6 1006.5h.01M465.8 1006.4h.01M466 1006.7h.01M466.2 1006.6h.01M466.3 1006.5h.01M466.5 1006.2h.01M466.7 1006.7h.01M466.9 1006.7h.01M467.1 1006.6h.01M467.3 1006.5h.01M467.4 1006.5h.01M467.6 1006.5h.01M467.8 1006.6h.01M468 1006.8h.01M468.2 1006.8h.01M468.4 1007.1h.01M468.6 1007.3h.01M468.7 1007h.01M468.9 1006.7h.01M469.1 1006.4h.01M469.3 1006.4h.01M469.5 1006.2h.01M469.7 1006.2h.01M469.8 1006.2h.01M470 1006.5h.01M470.2 1006.1h.01M470.4 1006.2h.01M470.6 1006.3h.01M470.8 1006.4h.01M471 1006.5h.01M471.1 1006.7h.01M471.3 1007h.01M471.5 1006.9h.01M471.7 1007.3h.01M471.9 1007.6h.01M472.1 1007.9h.01M472.2 1007.9h.01M472.4 1007.5h.01M472.6 1007.2h.01M472.8 1006.9h.01M473 1006.9h.01M473.2 1006.8h.01M473.4 1006.9h.01M473.5 1006.6h.01M473.7 1006.6h.01M473.9 1007h.01M474.1 1006.7h.01M474.3 1006.6h.01M474.5 1006.2h.01M474.6 1006.2h.01M474.8 1005.9h.01M475 1005.9h.01M475.2 1005.3h.01M475.4 1005.1h.01M475.6 1005.1h.01M475.8 1004.9h.01M475.9 1005.1h.01M476.1 1004.6h.01M476.3 1004.2h.01M476.5 1003.9h.01M476.7 1003.3h.01M476.9 1003.3h.01M477.1 1003.2h.01M477.2 1002.9h.01M477.4 1002.9h.01M477.6 1002.8h.01M477.8 1002.7h.01M478 1002.9h.01M478.2 1002.6h.01M478.3 1002.8h.01M478.5 1002.5h.01M478.7 1002.7h.01M478.9 1003h.01M479.1 1002.7h.01M479.3 1002.6h.01M479.5 1002.4h.01M479.6 1002.3h.01M479.8 1002.4h.01M480 1002.2h.01M480.2 1001.9h.01M480.4 1002.3h.01M480.6 1002.3h.01M480.7 1002.2h.01M480.9 1002.9h.01M481.1 1002.9h.01M481.3 1003.2h.01M481.5 1003.2h.01M481.7 1003.6h.01M481.9 1004.1h.01M482 1004.4h.01M482.2 1004.5h.01M482.4 1004.7h.01M482.6 1005.1h.01M482.8 1004.6h.01M483 1004.8h.01M483.1 1004.9h.01M483.3 1004.8h.01M483.5 1004.7h.01M483.7 1005h.01M483.9 1004.7h.01M484.1 1004.9h.01M484.3 1004.7h.01M484.4 1004.8h.01M484.6 1005.1h.01M484.8 1005h.01M485 1005.4h.01M485.2 1005.1h.01M485.4 1005.4h.01M485.5 1005.3h.01M485.7 1005.7h.01M485.9 1005.5h.01M486.1 1005.3h.01M486.3 1005.3h.01M486.5 1005.4h.01M486.7 1005.5h.01M486.8 1004.8h.01M487 1004.9h.01M487.2 1005.3h.01M487.4 1005h.01M487.6 1004.9h.01M487.8 1005.2h.01M487.9 1005.3h.01M488.1 1005.4h.01M488.3 1005.5h.01M488.5 1005.3h.01M488.7 1005.3h.01M488.9 1004.9h.01M489.1 1004.6h.01M489.2 1004.3h.01M489.4 1004.2h.01M489.6 1004.3h.01M489.8 1003.6h.01M490 1003.7h.01M490.2 1003.8h.01M490.3 1003.4h.01M490.5 1003.4h.01M490.7 1003.4h.01M490.9 1003.2h.01M491.1 1003.3h.01M491.3 1003.7h.01M491.5 1003.4h.01M491.6 1003.9h.01M491.8 1004.1h.01M492 1004.4h.01M492.2 1004.8h.01M492.4 1004.8h.01M492.6 1005.4h.01M492.7 1005.6h.01M492.9 1006.3h.01M493.1 1006.4h.01M493.3 1007.3h.01M493.5 1008h.01M493.7 1008.3h.01M493.9 1008h.01M494 1007.5h.01M494.2 1007h.01M494.4 1006.8h.01M494.6 1006.4h.01M494.8 1006.4h.01M495 1006h.01M495.1 1006.1h.01M495.3 1006.2h.01M495.5 1006.4h.01M495.7 1006.3h.01M495.9 1006.5h.01M496.1 1006.7h.01M496.3 1006.6h.01M496.4 1006.4h.01M496.6 1006h.01M496.8 1005.9h.01M497 1005.6h.01M497.2 1005.2h.01M497.4 1005.1h.01M497.5 1004.7h.01M497.7 1004.7h.01M497.9 1004.7h.01M498.1 1004.4h.01M498.3 1004.8h.01M498.5 1005.2h.01M498.7 1005.2h.01M498.8 1004.9h.01M499 1005.5h.01M499.2 1005.4h.01M499.4 1005.3h.01M499.6 1005.5h.01M499.8 1005.1h.01M499.9 1005.2h.01M500.1 1004.8h.01M500.3 1005.2h.01M500.5 1005.3h.01M500.7 1005.1h.01M500.9 1005.3h.01M501.1 1005h.01M501.2 1004.8h.01M501.4 1004.5h.01M501.6 1004.2h.01M501.8 1004.2h.01M502 1003.6h.01M502.2 1003.9h.01M502.3 1003.5h.01M502.5 1003.6h.01M502.7 1003.8h.01M502.9 1003.4h.01M503.1 1003.3h.01M503.3 1003.6h.01M503.5 1003.6h.01M503.6 1003.6h.01M503.8 1003.6h.01M504 1003.9h.01M504.2 1004h.01M504.4 1003.8h.01M504.6 1004.1h.01M504.7 1004.2h.01M504.9 1003.9h.01M505.1 1003.5h.01M505.3 1003.4h.01M505.5 1003.3h.01M505.7 1002.7h.01M505.9 1002.7h.01M506 1002.7h.01M506.2 1002.3h.01M506.4 1002.4h.01M506.6 1002.5h.01M506.8 1002.9h.01M507 1002.5h.01M507.2 1002.8h.01M507.3 1003h.01M507.5 1003.3h.01M507.7 1003.2h.01M507.9 1003.6h.01M508.1 1003.9h.01M508.3 1003.8h.01M508.4 1004.2h.01M508.6 1004.7h.01M508.8 1004.7h.01M509 1005h.01M509.2 1004.9h.01M509.4 1005.1h.01M509.6 1004.8h.01M509.7 1004.8h.01M509.9 1005.2h.01M510.1 1005.5h.01M510.3 1005.8h.01M510.5 1006.1h.01M510.7 1005.8h.01M510.8 1006.4h.01M511 1006.4h.01M511.2 1006h.01M511.4 1006.3h.01M511.6 1006.5h.01M511.8 1006.6h.01M512 1006.5h.01M512.1 1006.2h.01M512.3 1006.5h.01M512.5 1006.8h.01M512.7 1006.7h.01M512.9 1006.9h.01M513.1 1006.9h.01M513.2 1007h.01M513.4 1007.2h.01M513.6 1007h.01M513.8 1007.4h.01M514 1007.1h.01M514.2 1007.3h.01M514.4 1006.8h.01M514.5 1006.5h.01M514.7 1006.6h.01M514.9 1006.3h.01M515.1 1006.3h.01M515.3 1006.5h.01M515.5 1006.4h.01M515.6 1006.5h.01M515.8 1006.6h.01M516 1007h.01M516.2 1007.4h.01M516.4 1007.7h.01M516.6 1007.7h.01M516.8 1008.3h.01M516.9 1008h.01M517.1 1008h.01M517.3 1007.5h.01M517.4 1007.2h.01M517.5 1007.1h.01M517.7 1007h.01M517.9 1006.7h.01M518 1006.9h.01M518.2 1006.3h.01M518.4 1006.4h.01M518.6 1006.2h.01M518.8 1006.3h.01M519 1006h.01M519.2 1005.7h.01M519.3 1005.8h.01M519.5 1005.4h.01M519.7 1005.1h.01M519.9 1005.1h.01M520.1 1004.6h.01M520.3 1004.3h.01M520.4 1003.5h.01M520.6 1003.5h.01M520.8 1003h.01M521 1002.6h.01M521.2 1002.3h.01M521.4 1002.5h.01M521.6 1002.4h.01M521.7 1002.1h.01M521.9 1002.8h.01M522.1 1002.5h.01M522.3 1002.3h.01M522.5 1002.8h.01M522.7 1003.1h.01M522.8 1003.3h.01M523 1003.5h.01M523.2 1003.7h.01M523.4 1003.8h.01M523.6 1004.1h.01M523.8 1004.5h.01M524 1004.5h.01M524.1 1004.9h.01M524.3 1005.3h.01M524.5 1005.6h.01M524.7 1005.7h.01M524.9 1005.9h.01M525.1 1006.2h.01M525.2 1006.3h.01M525.4 1006.4h.01M525.6 1006.6h.01M525.8 1006.7h.01M526 1007h.01M526.2 1007h.01M526.4 1006.9h.01M526.5 1006.9h.01M526.7 1007.1h.01M526.9 1007h.01M527.1 1006.8h.01M527.3 1007h.01M527.5 1007.2h.01M527.6 1006.9h.01M527.8 1006.9h.01M528 1007h.01M528.2 1006.9h.01M528.4 1006.7h.01M528.6 1006.7h.01M528.8 1006.9h.01M528.9 1006.6h.01M529.1 1006.2h.01M529.3 1006.2h.01M529.5 1006h.01M529.7 1006.1h.01M529.9 1005.9h.01M530 1005.7h.01M530.2 1005.7h.01M530.4 1005.9h.01M530.6 1006h.01M530.8 1005.9h.01M531 1006h.01M531.2 1006.4h.01M531.3 1006.7h.01M531.5 1007.1h.01M531.7 1007.3h.01M531.9 1007.2h.01M532.1 1007.8h.01M532.3 1007.8h.01M532.4 1007.8h.01M532.6 1007.9h.01M532.8 1007.9h.01M533 1008h.01M533.2 1007.8h.01M533.4 1007.5h.01M533.6 1007.1h.01M533.7 1007h.01M533.9 1006.9h.01M534.1 1006.8h.01M534.3 1006.5h.01M534.5 1006.4h.01M534.7 1006.3h.01M534.9 1006.5h.01M535 1006.5h.01M535.2 1006.4h.01M535.4 1006.7h.01M535.6 1007.2h.01M535.8 1007.1h.01M536 1007.4h.01M536.1 1008h.01M536.3 1008h.01M536.5 1007.4h.01M536.7 1006.9h.01M536.9 1006.7h.01M537.1 1006h.01M537.3 1005.7h.01M537.4 1005.2h.01M537.6 1005h.01M537.8 1004.9h.01M538 1004.5h.01M538.2 1005.1h.01M538.4 1004.8h.01M538.5 1004.9h.01M538.7 1005.2h.01M538.9 1004.9h.01M539.1 1005.5h.01M539.3 1005.7h.01M539.5 1006h.01M539.7 1006.1h.01M539.8 1006.5h.01M540 1006.6h.01M540.2 1006.7h.01M540.4 1006.6h.01M540.6 1006.6h.01M540.8 1006.5h.01M540.9 1006.3h.01M541.1 1006.5h.01M541.3 1006.6h.01M541.5 1006.8h.01M541.7 1006.6h.01M541.9 1006.5h.01M542.1 1006.1h.01M542.2 1006.1h.01M542.4 1006h.01M542.6 1006h.01M542.8 1006.2h.01M543 1006.2h.01M543.2 1006.5h.01M543.3 1006.5h.01M543.5 1006.9h.01M543.7 1007.4h.01M543.9 1007.4h.01M544.1 1007.3h.01M544.3 1007.2h.01M544.5 1007h.01M544.6 1007h.01M544.8 1006.9h.01M545 1007.1h.01M545.2 1007h.01M545.4 1007.5h.01M545.6 1007.1h.01M545.7 1007.4h.01M545.9 1007.5h.01M546.1 1008h.01M546.3 1008h.01M546.5 1008.1h.01M546.7 1007.9h.01M546.9 1007.4h.01M547 1007.1h.01M547.2 1006.7h.01M547.4 1006.5h.01M547.6 1006.2h.01M547.8 1005.9h.01M548 1005.8h.01M548.1 1005.8h.01M548.3 1005.9h.01M548.5 1005.9h.01M548.7 1006.1h.01M548.9 1006.2h.01M549.1 1005.9h.01M549.3 1005.4h.01M549.4 1005h.01M549.6 1004.5h.01M549.8 1004.4h.01M550 1003.9h.01M550.2 1003.9h.01M550.4 1003.4h.01M550.5 1004h.01M550.7 1003.7h.01M550.9 1003.5h.01M551.1 1003.5h.01M551.3 1003.7h.01M551.5 1003.6h.01M551.7 1003.4h.01M551.8 1003.3h.01M552 1002.8h.01M552.2 1002.5h.01M552.4 1002.3h.01M552.6 1001.5h.01M552.8 1001.5h.01M552.9 1001.3h.01M553.1 1001.5h.01M553.3 1001.3h.01M553.5 1001h.01M553.7 1001.4h.01M553.9 1001.5h.01M554.1 1001.3h.01M554.2 1001.6h.01M554.4 1001.8h.01M554.6 1002h.01M554.8 1002.1h.01M555 1002.1h.01M555.2 1002.1h.01M555.3 1002.1h.01M555.5 1002.4h.01M555.7 1002.4h.01M555.9 1002.7h.01M556.1 1002.3h.01M556.3 1002.7h.01M556.5 1002.6h.01M556.6 1002.8h.01M556.8 1002.7h.01M557 1002.7h.01M557.2 1002.6h.01M557.4 1002.7h.01M557.6 1002.7h.01M557.7 1003.2h.01M557.9 1003.1h.01M558.1 1003.5h.01M558.3 1003.7h.01M558.5 1003.9h.01M558.7 1004.1h.01M558.9 1004.1h.01M559 1003.9h.01M559.2 1004.5h.01M559.4 1004.7h.01M559.6 1004.4h.01M559.8 1004.9h.01M560 1005h.01M560.1 1005.2h.01M560.3 1005.3h.01M560.5 1005.9h.01M560.7 1006.3h.01M560.9 1006.1h.01M561.1 1005.7h.01M561.3 1005.9h.01M561.4 1005.7h.01M561.6 1005.7h.01M561.8 1006h.01M562 1006.1h.01M562.2 1006.4h.01M562.4 1006.9h.01M562.5 1006.9h.01M562.7 1007.6h.01M562.9 1008h.01M563.1 1008.2h.01M563.3 1008.2h.01M563.5 1007.8h.01M563.7 1007.6h.01M563.8 1007h.01M564 1007.1h.01M564.2 1007.2h.01M564.4 1007.3h.01M564.6 1007.3h.01M564.8 1007.7h.01M565 1007.9h.01M565.1 1007.6h.01M565.3 1007.5h.01M565.5 1007.4h.01M565.7 1007.1h.01M565.9 1007h.01M566.1 1006.7h.01M566.2 1006.5h.01M566.4 1007.1h.01M566.6 1007.1h.01M566.8 1007.4h.01M567 1007.5h.01M567.2 1007.6h.01M567.4 1007.7h.01M567.5 1008.3h.01M567.7 1008h.01M567.9 1008.3h.01M568.1 1008.3h.01M568.3 1008.1h.01M568.5 1008.1h.01M568.6 1008.2h.01M568.8 1008h.01M569 1008h.01M569.2 1008h.01M569.4 1007.9h.01M569.6 1008h.01M569.8 1007.7h.01M569.9 1007.6h.01M570.1 1007.6h.01M570.3 1007.1h.01M570.5 1007.1h.01M570.7 1006.9h.01M570.9 1006.7h.01M571 1006.8h.01M571.2 1006.5h.01M571.4 1006.4h.01M571.6 1006.4h.01M571.8 1006.5h.01M572 1006.3h.01M572.2 1006.2h.01M572.3 1006.3h.01M572.5 1006.5h.01M572.7 1006.6h.01M572.9 1006.5h.01M573.1 1006.6h.01M573.3 1006.7h.01M573.4 1007.1h.01M573.6 1006.7h.01M573.8 1006.4h.01M574 1006.3h.01M574.2 1006h.01M574.4 1005.6h.01M574.6 1005.5h.01M574.7 1005.4h.01M574.9 1005.6h.01M575.1 1004.9h.01M575.3 1005.1h.01M575.5 1005.1h.01M575.7 1004.8h.01M575.8 1005.2h.01M576 1005.2h.01M576.2 1005.3h.01M576.4 1005.3h.01M576.6 1005.6h.01M576.8 1005h.01M577 1004.8h.01M577.1 1004.6h.01M577.3 1004.5h.01M577.5 1004.3h.01M577.7 1004.1h.01M577.9 1003.8h.01M578.1 1004h.01M578.2 1003.7h.01M578.4 1003.7h.01M578.6 1004h.01M578.8 1004.1h.01M579 1003.9h.01M579.2 1004.5h.01M579.4 1004.6h.01M579.5 1004.3h.01M579.7 1004.4h.01M579.9 1004.3h.01M580.1 1004.2h.01M580.3 1004.7h.01M580.5 1004.4h.01M580.6 1004.1h.01M580.8 1003.7h.01M581 1003.3h.01M581.2 1003.1h.01M581.4 1002.6h.01M581.6 1002.3h.01M581.8 1002.2h.01M581.9 1001.4h.01M582.1 1001.2h.01M582.3 1001.1h.01M582.5 1001.1h.01M582.7 1001.1h.01M582.9 1001.1h.01M583 1001.2h.01M583.2 1001.1h.01M583.4 1001.1h.01M583.6 1001.2h.01M583.8 1001.6h.01M584 1001.9h.01M584.2 1002h.01M584.3 1002h.01M584.5 1002.6h.01M584.7 1002.9h.01M584.9 1002.9h.01M585.1 1003h.01M585.3 1003.8h.01M585.4 1004.2h.01M585.6 1004.1h.01M585.8 1004.5h.01M586 1004.5h.01M586.2 1004.5h.01M586.4 1004.6h.01M586.6 1004.5h.01M586.7 1005.1h.01M586.9 1005h.01M587.1 1005.2h.01M587.3 1005.5h.01M587.5 1006h.01M587.7 1006.2h.01M587.8 1006.2h.01M588 1006.5h.01M588.2 1006.6h.01M588.4 1007.1h.01M588.6 1006.9h.01M588.8 1007.3h.01M589 1007.4h.01M589.1 1006.8h.01M589.3 1006.8h.01M589.5 1006.5h.01M589.7 1006.2h.01M589.9 1005.8h.01M590.1 1005.4h.01M590.2 1005.6h.01M590.4 1004.9h.01M590.6 1005h.01M590.8 1004.9h.01M591 1004.5h.01M591.2 1004.3h.01M591.4 1004.3h.01M591.5 1004.5h.01M591.7 1004.5h.01M591.9 1004.4h.01M592.1 1004.4h.01M592.3 1004.4h.01M592.5 1005h.01M592.6 1004.9h.01M592.8 1005.1h.01M593 1005.2h.01M593.2 1005.4h.01M593.4 1005.4h.01M593.6 1005.3h.01M593.8 1005.9h.01M593.9 1005.6h.01M594.1 1005.7h.01M594.3 1006.2h.01M594.5 1006.6h.01M594.7 1006.4h.01M594.9 1006.9h.01M595.1 1007.3h.01M595.2 1007.4h.01M595.4 1007.4h.01M595.6 1007.5h.01M595.8 1007.4h.01M596 1007.7h.01M596.2 1007.7h.01M596.3 1007.6h.01M596.5 1007.5h.01M596.7 1007.2h.01M596.9 1006.9h.01M597.1 1007h.01M597.3 1006.7h.01M597.5 1006.8h.01M597.6 1006.3h.01M597.8 1006.4h.01M598 1006.4h.01M598.2 1006.2h.01M598.4 1006.5h.01M598.6 1006.4h.01M598.7 1006.6h.01M598.9 1006.7h.01M599.1 1006.3h.01M599.3 1006.4h.01M599.5 1006.1h.01M599.7 1006h.01M599.9 1006.2h.01M600 1005.8h.01M600.2 1006h.01M600.4 1006h.01M600.6 1005.8h.01M600.8 1005.5h.01M601 1005.6h.01M601.1 1006h.01M601.3 1005.8h.01M601.5 1005.9h.01M601.7 1006.1h.01M601.9 1006.1h.01M602.1 1006.3h.01M602.3 1006.8h.01M602.4 1007h.01M602.6 1007.1h.01M602.8 1007.1h.01M603 1007.4h.01M603.2 1007.9h.01M603.4 1007.9h.01M603.5 1008.3h.01M603.7 1008.3h.01M603.9 1008.5h.01M604.1 1008.1h.01M604.3 1007.7h.01M604.5 1007.6h.01M604.7 1007.2h.01M604.8 1006.8h.01M605 1006.8h.01M605.2 1006.5h.01M605.4 1006.5h.01M605.6 1006.3h.01M605.8 1006.3h.01M605.9 1006.4h.01M606.1 1006.3h.01M606.3 1006.7h.01M606.5 1006.5h.01M606.7 1006.8h.01M606.9 1006.8h.01M607.1 1007.1h.01M607.2 1007h.01M607.4 1007.4h.01M607.6 1006.9h.01M607.8 1006.6h.01M608 1007h.01M608.2 1006.8h.01M608.3 1006.5h.01M608.5 1006.6h.01M608.7 1006.5h.01M608.9 1006.2h.01M609.1 1006.7h.01M609.3 1006.6h.01M609.5 1006.8h.01M609.6 1006.5h.01M609.8 1006.2h.01M610 1006h.01M610.2 1005.4h.01M610.2 1005.4h.01M610.4 1005.2h.01M610.6 1005.1h.01M610.7 1005.4h.01M610.9 1005.4h.01M611.1 1005.6h.01M611.3 1005.6h.01M611.5 1006.2h.01M611.7 1006.9h.01M611.9 1006.9h.01M612 1006.8h.01M612.2 1006.8h.01M612.4 1006.9h.01M612.6 1006.7h.01M612.8 1007h.01M613 1007h.01M613.1 1007.1h.01M613.3 1007.3h.01M613.5 1007.3h.01M613.7 1007.6h.01M613.9 1007.3h.01M614.1 1007.1h.01M614.3 1007h.01M614.4 1006.7h.01M614.6 1006.5h.01M614.8 1006.5h.01M615 1006.3h.01M615.2 1006.3h.01M615.4 1005.8h.01M615.5 1006h.01M615.7 1005.7h.01M615.9 1005.9h.01M616.1 1006h.01M616.3 1006h.01M616.5 1006.3h.01M616.7 1006.5h.01M616.8 1006.5h.01M617 1006.8h.01M617.2 1006.4h.01M617.4 1006.3h.01M617.6 1006h.01M617.8 1006.3h.01M617.9 1006h.01M618.1 1005.8h.01M618.3 1005.8h.01M618.5 1006.2h.01M618.7 1005.8h.01M618.9 1005.9h.01M619.1 1005.9h.01M619.2 1005.9h.01M619.4 1006.1h.01M619.6 1006.2h.01M619.8 1006.4h.01M620 1006.1h.01M620.2 1006h.01M620.3 1005.9h.01M620.5 1005.6h.01M620.7 1005.2h.01M620.9 1005.2h.01M621.1 1004.9h.01M621.3 1005h.01M621.5 1005.3h.01M621.6 1005h.01M621.8 1004.8h.01M622 1005.2h.01M622.2 1005.1h.01M622.4 1005.5h.01M622.6 1005.2h.01M622.8 1005.7h.01M622.9 1005.5h.01M623.1 1005.8h.01M623.3 1005.9h.01M623.5 1005.7h.01M623.7 1005.4h.01M623.9 1005.2h.01M624 1005.2h.01M624.2 1005.1h.01M624.4 1004.7h.01M624.6 1004.6h.01M624.8 1004.7h.01M625 1004.7h.01M625.2 1004.7h.01M625.3 1004.2h.01M625.5 1004h.01M625.7 1004.3h.01M625.9 1004h.01M626.1 1003.8h.01M626.3 1003.7h.01M626.4 1003.8h.01M626.6 1003.5h.01M626.8 1003.5h.01M627 1003.2h.01M627.2 1003.2h.01M627.4 1002.7h.01M627.6 1003.3h.01M627.7 1002.9h.01M627.9 1002.5h.01M628.1 1002.8h.01M628.3 1002.7h.01M628.5 1002.9h.01M628.7 1002.9h.01M628.8 1003.1h.01M629 1003.3h.01M629.2 1003.9h.01M629.4 1004.2h.01M629.6 1004.5h.01M629.8 1004.8h.01M630 1005.1h.01M630.1 1006h.01M630.3 1006.2h.01M630.5 1006.4h.01M630.7 1007h.01M630.9 1006.7h.01M631.1 1006.2h.01M631.2 1006h.01M631.4 1006h.01M631.6 1005.8h.01M631.8 1005.5h.01M632 1005.1h.01M632.2 1005.2h.01M632.4 1005.1h.01M632.5 1004.8h.01M632.7 1004.8h.01M632.9 1004.7h.01M633.1 1005.1h.01M633.3 1004.8h.01M633.5 1005.1h.01M633.6 1005.3h.01M633.8 1005.3h.01M634 1004.8h.01M634.2 1004.4h.01M634.4 1004.5h.01M634.6 1004.2h.01M634.8 1004.2h.01M634.9 1004h.01M635.1 1003.8h.01M635.3 1004h.01M635.5 1003.6h.01M635.7 1003.9h.01M635.9 1003.9h.01M636 1004h.01M636.2 1004.1h.01M636.4 1004.2h.01M636.6 1004.2h.01M636.8 1004h.01M637 1004h.01M637.2 1003.9h.01M637.3 1003.8h.01M637.5 1003.9h.01M637.7 1004.3h.01M637.9 1004.1h.01M638.1 1003.9h.01M638.3 1004.4h.01M638.4 1004.4h.01M638.6 1004.3h.01M638.8 1004.5h.01M639 1004.6h.01M639.2 1005h.01M639.4 1004.7h.01M639.6 1005h.01M639.7 1005.2h.01M639.9 1005.7h.01M640.1 1005.8h.01M640.3 1006.2h.01M640.5 1006.3h.01M640.7 1007.2h.01M640.8 1007.4h.01M641 1007.6h.01M641.2 1007.6h.01M641.4 1007.7h.01M641.6 1007.6h.01M641.8 1007.6h.01M642 1007.6h.01M642.1 1007.1h.01M642.3 1007.2h.01M642.5 1007.1h.01M642.7 1007h.01M642.9 1007.1h.01M643.1 1006.9h.01M643.2 1007.1h.01M643.4 1007.2h.01M643.6 1007.1h.01M643.8 1007.2h.01M644 1006.7h.01M644.2 1006.4h.01M644.4 1006.3h.01M644.5 1005.9h.01M644.7 1006.2h.01M644.9 1005.8h.01M645.1 1005.6h.01M645.3 1005.2h.01M645.5 1005.3h.01M645.6 1005.2h.01M645.8 1004.9h.01M646 1005.1h.01M646.2 1005.2h.01M646.4 1005h.01M646.6 1005.5h.01M646.8 1005.6h.01M646.9 1005.6h.01M647.1 1006.2h.01M647.3 1006.6h.01M647.5 1006.3h.01M647.7 1005.5h.01M647.9 1005.1h.01M648 1004.5h.01M648.2 1004.5h.01M648.4 1003.9h.01M648.6 1004.3h.01M648.8 1004.3h.01M649 1004.8h.01M649.2 1004.9h.01M649.3 1005.2h.01M649.5 1005.5h.01M649.7 1005.6h.01M649.9 1006h.01M650.1 1005.9h.01M650.3 1005.8h.01M650.4 1005.7h.01M650.6 1005.2h.01M650.8 1005.2h.01M651 1004.9h.01M651.2 1004.7h.01M651.4 1005.1h.01M651.6 1005.3h.01M651.7 1005.2h.01M651.9 1005.4h.01M652.1 1005.5h.01M652.3 1005.8h.01M652.5 1006.2h.01M652.7 1006.6h.01M652.9 1007.3h.01M653 1006.9h.01M653.2 1006.7h.01M653.4 1006.3h.01M653.6 1006.7h.01M653.8 1006.7h.01M654 1006.7h.01M654.1 1007h.01M654.3 1007.2h.01M654.5 1007.3h.01M654.7 1007.9h.01M654.9 1007.8h.01M655.1 1007.8h.01M655.3 1008.2h.01M655.4 1008.1h.01M655.6 1007.9h.01M655.8 1007.9h.01M656 1007.8h.01M656.2 1007.2h.01M656.4 1007.1h.01M656.5 1006.9h.01M656.7 1006.6h.01M656.9 1006.9h.01M657.1 1006.8h.01M657.3 1006.9h.01M657.5 1006.6h.01M657.7 1007.1h.01M657.8 1006.6h.01M658 1006.9h.01M658.2 1007.1h.01M658.4 1007.3h.01M658.6 1007.6h.01M658.8 1007.6h.01M658.9 1007.9h.01M659.1 1007.9h.01M659.3 1008.2h.01M659.5 1007.9h.01M659.7 1007.6h.01M659.9 1007.8h.01M660.1 1007.7h.01M660.2 1007.6h.01M660.4 1007.5h.01M660.6 1007.6h.01M660.8 1007.3h.01M661 1007.2h.01M661.2 1007.2h.01M661.3 1007.1h.01M661.5 1007h.01M661.7 1007.1h.01M661.9 1007h.01M662.1 1007.4h.01M662.3 1007.1h.01M662.5 1007.3h.01M662.6 1007.1h.01M662.8 1007.3h.01M663 1007.3h.01M663.2 1007.1h.01M663.4 1007.5h.01M663.6 1007.2h.01M663.7 1007.2h.01M663.9 1007h.01M664.1 1007.2h.01M664.3 1007.3h.01M664.5 1007.6h.01M664.7 1007.4h.01M664.9 1007.7h.01M665 1007.5h.01M665.2 1007.1h.01M665.4 1007.4h.01M665.6 1007.2h.01M665.8 1007.2h.01M666 1007.4h.01M666.1 1007.1h.01M666.3 1007.2h.01M666.5 1007.2h.01M666.7 1007.6h.01M666.9 1007.7h.01M667.1 1007.5h.01M667.3 1007.2h.01M667.4 1007.4h.01M667.6 1007.2h.01M667.8 1007.1h.01M668 1007h.01M668.2 1006.8h.01M668.4 1007.1h.01M668.5 1007h.01M668.7 1006.9h.01M668.9 1006.8h.01M669.1 1006.9h.01M669.3 1006.7h.01M669.5 1006.8h.01M669.7 1006.4h.01M669.8 1006.9h.01M670 1006.5h.01M670.2 1006.8h.01M670.4 1006.7h.01M670.6 1007h.01M670.8 1007.3h.01M670.9 1007.5h.01M671.1 1007.6h.01M671.3 1007.9h.01M671.5 1008.3h.01M671.7 1008.3h.01M671.9 1007.9h.01M672.1 1007.9h.01M672.2 1007.7h.01M672.4 1007.6h.01M672.6 1007.1h.01M672.8 1006.6h.01M673 1006.1h.01M673.2 1006h.01M673.3 1005.7h.01M673.5 1005h.01M673.7 1005.3h.01M673.9 1005.1h.01M674.1 1004.7h.01M674.3 1004.6h.01M674.5 1004.6h.01M674.6 1004.5h.01M674.8 1004.4h.01M675 1004.3h.01M675.2 1004.5h.01M675.4 1004.5h.01M675.6 1004.4h.01M675.7 1004.3h.01M675.9 1004.2h.01M676.1 1004.5h.01M676.3 1004.5h.01M676.5 1004.3h.01M676.7 1004.6h.01M676.9 1004.5h.01M677 1004.5h.01M677.2 1004.7h.01M677.4 1004.6h.01M677.6 1004.5h.01M677.8 1004.4h.01M678 1004.4h.01M678.1 1004.7h.01M678.3 1004.7h.01M678.5 1004.7h.01M678.7 1005h.01M678.9 1004.7h.01M679.1 1005.3h.01M679.3 1005.5h.01M679.4 1005.3h.01M679.6 1006.1h.01M679.8 1006.4h.01M680 1006.7h.01M680.2 1006.8h.01M680.4 1007.1h.01M680.5 1007.6h.01M680.7 1008.2h.01M680.9 1008.2h.01M681.1 1008.2h.01M681.3 1008.1h.01M681.5 1007.8h.01M681.7 1007.7h.01M681.8 1007.3h.01M682 1006.9h.01M682.2 1006.4h.01M682.4 1005.8h.01M682.6 1005.2h.01M682.8 1004.8h.01M683 1004.4h.01M683.1 1004.1h.01M683.3 1003.3h.01M683.5 1003.4h.01M683.7 1003.1h.01M683.9 1002.7h.01M684.1 1003.3h.01M684.2 1003h.01M684.4 1003.4h.01M684.6 1003.6h.01M684.8 1004.3h.01M685 1003.6h.01M685.2 1002.5h.01M685.4 1002.4h.01M685.5 1001.6h.01M685.7 1001.6h.01M685.9 1001.2h.01M686.1 1001.2h.01M686.3 1001h.01M686.5 1001.1h.01M686.6 1001.2h.01M686.8 1001.3h.01M687 1002.1h.01M687.2 1002.4h.01M687.4 1002.3h.01M687.6 1003h.01M687.8 1003.4h.01M687.9 1003.5h.01M688.1 1003.2h.01M688.3 1003.3h.01M688.5 1003.4h.01M688.7 1003.5h.01M688.9 1003.8h.01M689 1004.1h.01M689.2 1004.1h.01M689.4 1004.5h.01M689.6 1004.8h.01M689.8 1005h.01M690 1004.9h.01M690.2 1005.4h.01M690.3 1005.6h.01M690.5 1005.6h.01M690.7 1005.7h.01M690.9 1006h.01M691.1 1006.2h.01M691.3 1006h.01M691.4 1006.3h.01M691.6 1006.6h.01M691.8 1006.5h.01M692 1007h.01M692.2 1007.2h.01M692.4 1007.4h.01M692.6 1007.5h.01M692.7 1007.6h.01M692.9 1008h.01M693.1 1007.8h.01M693.3 1007.7h.01M693.5 1007.4h.01M693.7 1007.5h.01M693.8 1007.1h.01M694 1007.4h.01M694.2 1007h.01M694.4 1006.8h.01M694.6 1006.7h.01M694.8 1006.6h.01M695 1007h.01M695.1 1006.7h.01M695.3 1006.6h.01M695.5 1006.9h.01M695.7 1006.8h.01M695.9 1006.8h.01M696.1 1007.2h.01M696.2 1007.3h.01M696.4 1007h.01M696.6 1007h.01M696.8 1006.7h.01M697 1006.2h.01M697.2 1006.2h.01M697.4 1006.3h.01M697.5 1006.3h.01M697.7 1006.3h.01M697.9 1006.4h.01M698.1 1006.3h.01M698.3 1006.5h.01M698.5 1006.4h.01M698.6 1007.3h.01M698.8 1007.9h.01M699 1007h.01M699.2 1007h.01M699.4 1006.3h.01M699.6 1006.1h.01M699.8 1005.9h.01M699.9 1005.6h.01M700.1 1005.2h.01M700.3 1004.6h.01M700.5 1004.5h.01M700.7 1003.9h.01M700.9 1003.9h.01M701 1003.7h.01M701.2 1003.6h.01M701.4 1003.5h.01M701.6 1003.5h.01M701.8 1003.6h.01M702 1003.9h.01M702.2 1004.2h.01M702.3 1004.4h.01M702.5 1004.6h.01M702.7 1005h.01M702.9 1005.3h.01M703.1 1006.1h.01M703.3 1006.2h.01M703.4 1006.5h.01M703.6 1006.1h.01M703.8 1006.2h.01M704 1006.1h.01M704.2 1005.9h.01M704.4 1005.9h.01M704.6 1006.3h.01M704.7 1006.6h.01M704.9 1006.9h.01M705.1 1007h.01M705.3 1006.6h.01M705.5 1006.2h.01M705.7 1005.9h.01M705.8 1005.9h.01M706 1005.1h.01M706.2 1005.2h.01M706.4 1005h.01M706.6 1005.1h.01M706.8 1005.3h.01M707 1005.5h.01M707.1 1005.8h.01M707.3 1005.7h.01M707.5 1006h.01M707.7 1006.1h.01M707.9 1006.5h.01M708.1 1006.6h.01M708.2 1006.7h.01M708.4 1006.8h.01M708.6 1007h.01M708.8 1007.3h.01M709 1007.3h.01M709.2 1007.5h.01M709.4 1007.9h.01M709.5 1007.5h.01M709.7 1007.7h.01M709.9 1007.3h.01M710.1 1007.1h.01M710.3 1007.2h.01M710.5 1006.8h.01M710.7 1006.9h.01M710.8 1006.9h.01M711 1006.9h.01M711.2 1007.1h.01M711.4 1007.1h.01M711.6 1007.1h.01M711.8 1007.5h.01M711.9 1007.8h.01M712.1 1008.3h.01M712.3 1008h.01M712.5 1008.1h.01M712.7 1008h.01M712.9 1008.2h.01M713.1 1008h.01M713.2 1008h.01M713.4 1007.7h.01M713.6 1007.8h.01M713.8 1008.1h.01M714 1007.7h.01M714.2 1007.6h.01M714.3 1007.3h.01M714.5 1007.3h.01M714.7 1007.1h.01M714.9 1006.7h.01M715.1 1007h.01M715.3 1006.5h.01M715.5 1006.2h.01M715.6 1005.6h.01M715.8 1005.7h.01M716 1005.4h.01M716.2 1005.1h.01M716.4 1004.8h.01M716.6 1004.4h.01M716.7 1004.1h.01M716.9 1003.4h.01M717.1 1003.5h.01M717.3 1003.2h.01M717.5 1003.3h.01M717.7 1002.8h.01M717.9 1003h.01M718 1003h.01M718.2 1003.3h.01M718.4 1003.2h.01M718.6 1003.6h.01M718.8 1003.8h.01M719 1003.9h.01M719.1 1004.1h.01M719.3 1004.5h.01M719.5 1004.6h.01M719.7 1004.7h.01M719.9 1005.4h.01M720.1 1005.3h.01M720.3 1005.8h.01M720.4 1005.8h.01M720.6 1006.2h.01M720.8 1006.5h.01M721 1006.8h.01M721.2 1007h.01M721.4 1007.3h.01M721.5 1007.7h.01M721.7 1008.1h.01M721.9 1008h.01M722.1 1007.6h.01M722.3 1007.5h.01M722.5 1007.1h.01M722.7 1006.6h.01M722.8 1006.5h.01M723 1006.1h.01M723.2 1006h.01M723.4 1005.6h.01M723.6 1005.5h.01M723.8 1005.4h.01M723.9 1005.1h.01M724.1 1004.8h.01M724.3 1004.5h.01M724.5 1004.2h.01M724.7 1003.7h.01M724.9 1003.8h.01M725.1 1003.4h.01M725.2 1003.7h.01M725.4 1003.5h.01M725.6 1003.9h.01M725.8 1003.9h.01M726 1004h.01M726.2 1004.3h.01M726.3 1004.1h.01M726.5 1004.2h.01M726.7 1004.3h.01M726.9 1004.9h.01M727.1 1004.8h.01M727.3 1005h.01M727.5 1005.5h.01M727.6 1005.3h.01M727.8 1005.6h.01M728 1005.8h.01M728.2 1006.4h.01M728.4 1006.6h.01M728.6 1007.1h.01M728.7 1007.4h.01M728.9 1007.2h.01M729.1 1007.1h.01M729.3 1007h.01M729.5 1006.7h.01M729.7 1006.6h.01M729.9 1006.4h.01M730 1006.2h.01M730.2 1006.1h.01M730.4 1005.9h.01M730.6 1005.9h.01M730.8 1005.9h.01M731 1005.9h.01M731.1 1005.9h.01M731.3 1005.8h.01M731.5 1006.1h.01M731.7 1006.1h.01M731.9 1006.2h.01M732.1 1006.3h.01M732.3 1006.5h.01M732.4 1006.8h.01M732.6 1006.9h.01M732.8 1006.7h.01M733 1006.8h.01M733.2 1006.9h.01M733.4 1006.8h.01M733.5 1007.1h.01M733.7 1007.1h.01M733.9 1006.6h.01M734.1 1006.8h.01M734.3 1006.7h.01M734.5 1006.6h.01M734.7 1006.7h.01M734.8 1006.6h.01M735 1006.4h.01M735.2 1006.4h.01M735.4 1006.6h.01M735.6 1006.8h.01M735.8 1006.9h.01M735.9 1006.8h.01M736.1 1006.9h.01M736.3 1007.3h.01M736.5 1007.2h.01M736.7 1007.2h.01M736.9 1007.4h.01M737.1 1007h.01M737.2 1007.2h.01M737.4 1007.1h.01M737.6 1007.2h.01M737.8 1006.5h.01M738 1006.2h.01M738.2 1006h.01M738.3 1006.2h.01M738.5 1006.1h.01M738.7 1006.3h.01M738.9 1006.1h.01M739.1 1006.3h.01M739.3 1006.5h.01M739.5 1006.4h.01M739.6 1006.2h.01M739.8 1006.4h.01M740 1006.2h.01M740.2 1006.6h.01M740.4 1006.7h.01M740.6 1007h.01M740.8 1007h.01M740.9 1007.1h.01M741.1 1007.2h.01M741.3 1007.6h.01M741.5 1007.9h.01M741.7 1007.6h.01M741.9 1007.6h.01M742 1007.3h.01M742.2 1007.5h.01M742.4 1007.3h.01M742.6 1007.4h.01M742.8 1007.3h.01M743 1007.1h.01M743.2 1006.7h.01M743.3 1006.8h.01M743.5 1006.4h.01M743.7 1006.1h.01M743.9 1006.2h.01M744.1 1005.9h.01M744.3 1005.4h.01M744.4 1005.4h.01M744.6 1005.4h.01M744.8 1005.3h.01M745 1005.2h.01M745.2 1005.1h.01M745.4 1005.2h.01M745.6 1005h.01M745.7 1005h.01M745.9 1004.9h.01M746.1 1005.1h.01M746.3 1005.2h.01M746.5 1005.1h.01M746.7 1005.4h.01M746.8 1005.4h.01M747 1005.2h.01M747.2 1005.1h.01M747.4 1005h.01M747.6 1004.9h.01M747.8 1005h.01M748 1005.1h.01M748.1 1005.3h.01M748.3 1005.6h.01M748.5 1005.5h.01M748.7 1005.3h.01M748.9 1005.2h.01M749.1 1005.3h.01M749.2 1004.7h.01M749.4 1004.8h.01M749.6 1005.1h.01M749.8 1005.3h.01M750 1005h.01M750.2 1005.1h.01M750.4 1005h.01M750.5 1005.3h.01M750.7 1005.6h.01M750.9 1005.6h.01M751.1 1005.5h.01M751.3 1005.6h.01M751.5 1005.5h.01M751.6 1005.6h.01M751.8 1005.4h.01M752 1005.6h.01M752.2 1005.7h.01M752.4 1005.9h.01M752.6 1005.9h.01M752.8 1006h.01M752.9 1006.1h.01M753.1 1006.1h.01M753.3 1006.2h.01M753.5 1006.5h.01M753.7 1006.5h.01M753.9 1006.5h.01M754 1006.5h.01M754.2 1006.4h.01M754.4 1006.3h.01M754.6 1006.3h.01M754.8 1006.3h.01M755 1006.3h.01M755.2 1006.7h.01M755.3 1006.5h.01M755.5 1006.6h.01M755.7 1006.6h.01M755.9 1006.3h.01M756.1 1006.8h.01M756.3 1006.4h.01M756.4 1006.4h.01M756.6 1006.4h.01M756.8 1006.4h.01M757 1006.1h.01M757.2 1006.2h.01M757.4 1006.2h.01M757.6 1006.3h.01M757.7 1006h.01M757.9 1005.8h.01M758.1 1005.9h.01M758.3 1006.2h.01M758.5 1006.1h.01M758.7 1006.1h.01M758.8 1006.2h.01M759 1006.3h.01M759.2 1005.9h.01M759.4 1005.6h.01M759.6 1005.9h.01M759.8 1005.8h.01M760 1005.1h.01M760.1 1005.5h.01M760.3 1005.2h.01M760.5 1005.5h.01M760.7 1005.4h.01M760.9 1005.7h.01M761.1 1005.3h.01M761.2 1005.1h.01M761.4 1005.3h.01M761.6 1005.6h.01M761.8 1005.6h.01M762 1005.8h.01M762.2 1005.9h.01M762.4 1006h.01M762.5 1006.4h.01M762.7 1006.7h.01M762.9 1006.6h.01M763.1 1006.5h.01M763.3 1007.4h.01M763.5 1006.9h.01M763.6 1006.6h.01M763.8 1006.8h.01M764 1006.7h.01M764.2 1006.6h.01M764.4 1006.5h.01M764.6 1006.6h.01M764.8 1006.8h.01M764.9 1006.8h.01M765.1 1007.1h.01M765.3 1007.3h.01M765.5 1007.3h.01M765.7 1007.5h.01M765.9 1007.8h.01M766 1007.5h.01M766.2 1007.5h.01M766.4 1007.8h.01M766.6 1007.5h.01M766.8 1008h.01M767 1008h.01M767.2 1008.3h.01M767.3 1008.1h.01M767.5 1008.1h.01M767.7 1008h.01M767.9 1007.9h.01M768.1 1007.6h.01M768.3 1007.3h.01M768.5 1007.8h.01M768.6 1006.9h.01M768.8 1006.9h.01M769 1007.1h.01M769.2 1007.1h.01M769.4 1006.9h.01M769.6 1006.8h.01M769.7 1007.1h.01M769.9 1007.2h.01M770.1 1007.6h.01M770.3 1007.4h.01M770.5 1007.8h.01M770.7 1008h.01M770.9 1008h.01M771 1007.9h.01M771.2 1007.9h.01M771.4 1007.4h.01M771.6 1007.1h.01M771.8 1006.8h.01M772 1006.2h.01M772.1 1005.9h.01M772.3 1005.9h.01M772.5 1005.7h.01M772.7 1005.4h.01M772.9 1005.7h.01M773.1 1005.6h.01M773.3 1005.6h.01M773.4 1005.6h.01M773.6 1005.9h.01M773.8 1006.1h.01M774 1006.3h.01M774.2 1005.9h.01M774.4 1005.8h.01M774.5 1005.5h.01M774.7 1005.2h.01M774.9 1005.6h.01M775.1 1005.2h.01M775.3 1005.3h.01M775.5 1005.3h.01M775.7 1005.6h.01M775.8 1005.3h.01M776 1005.4h.01M776.2 1005.6h.01M776.4 1006.3h.01M776.6 1006.3h.01M776.8 1006.5h.01M776.9 1006.7h.01M777.1 1007.2h.01M777.3 1007.4h.01M777.5 1007h.01M777.7 1007.1h.01M777.9 1006.9h.01M778.1 1007.1h.01M778.2 1007.3h.01M778.4 1007h.01M778.6 1007h.01M778.8 1006.9h.01M779 1006.9h.01M779.2 1006.8h.01M779.3 1006.6h.01M779.5 1006.6h.01M779.7 1006.7h.01M779.9 1006.4h.01M780.1 1006.7h.01M780.3 1006.3h.01M780.5 1006.1h.01M780.6 1005.9h.01M780.8 1005.8h.01M781 1005.7h.01M781.2 1005.7h.01M781.4 1005.9h.01M781.6 1006h.01M781.7 1006.1h.01M781.9 1006.3h.01M782.1 1006.8h.01M782.3 1007.1h.01M782.5 1007.2h.01M782.7 1007.6h.01M782.9 1007.6h.01M783 1007.4h.01M783.2 1007.1h.01M783.4 1006.9h.01M783.6 1006.5h.01M783.8 1006.1h.01M784 1005.7h.01M784.1 1005.2h.01M784.3 1005.3h.01M784.5 1004.8h.01M784.7 1004.4h.01M784.9 1004.2h.01M785.1 1003.8h.01M785.3 1003.9h.01M785.4 1003.5h.01M785.6 1003.4h.01M785.8 1003.5h.01M786 1003.1h.01M786.2 1003.5h.01M786.4 1004h.01M786.5 1003.9h.01M786.7 1003.8h.01M786.9 1004.4h.01M787.1 1004.3h.01M787.3 1004.9h.01M787.5 1004.7h.01M787.7 1005.1h.01M787.8 1005.4h.01M788 1005.4h.01M788.2 1005.5h.01M788.4 1005.7h.01M788.6 1005.8h.01M788.8 1005.8h.01M788.9 1005.6h.01M789.1 1005.4h.01M789.3 1005.7h.01M789.5 1005.8h.01M789.7 1005.9h.01M789.9 1006h.01M790.1 1006.1h.01M790.2 1006h.01M790.4 1006.2h.01M790.6 1006.2h.01M790.8 1006.1h.01M791 1006.4h.01M791.2 1006.4h.01M791.3 1006.6h.01M791.5 1007.2h.01M791.7 1007.4h.01M791.9 1007.6h.01M792.1 1007.6h.01M792.3 1007.4h.01M792.5 1007.6h.01M792.6 1007.6h.01M792.8 1007.1h.01M793 1007.1h.01M793.2 1006.9h.01M793.4 1006.6h.01M793.6 1006.5h.01M793.7 1006h.01M793.9 1005.6h.01M794.1 1005.2h.01M794.3 1004.7h.01M794.5 1004.5h.01M794.7 1003.9h.01M794.9 1003.9h.01M795 1004h.01M795.2 1003.9h.01M795.4 1003.7h.01M795.6 1003.6h.01M795.8 1003.4h.01M796 1003.3h.01M796.1 1003.6h.01M796.3 1003.3h.01M796.5 1003.6h.01M796.7 1003.5h.01M796.9 1003.4h.01M797.1 1003.3h.01M797.3 1003.2h.01M797.4 1003.4h.01M797.6 1003.5h.01M797.8 1003.8h.01M798 1004.3h.01M798.2 1004.5h.01M798.4 1004.7h.01M798.6 1005.3h.01M798.7 1005.6h.01M798.9 1005.5h.01M799.1 1005.9h.01M799.3 1005.8h.01M799.5 1006h.01M799.7 1006h.01M799.8 1005.8h.01M800 1006.3h.01M800.2 1006.4h.01M800.4 1006.6h.01M800.6 1006.6h.01M800.8 1006.7h.01M801 1006.3h.01M801.1 1006.5h.01M801.3 1006.1h.01M801.5 1006h.01M801.7 1005.8h.01M801.9 1005.6h.01M802.1 1005.2h.01M802.2 1005.2h.01M802.4 1005h.01M802.4 1004.8h.01M802.6 1004.8h.01M802.8 1004.8h.01M803 1004.8h.01M803.2 1004.6h.01M803.4 1004.5h.01M803.5 1004.3h.01M803.7 1004.5h.01M803.9 1004.7h.01M804.1 1004.8h.01M804.3 1005h.01M804.5 1004.9h.01M804.6 1004.8h.01M804.8 1005h.01M805 1005h.01M805.2 1004.6h.01M805.4 1004.7h.01M805.6 1004.6h.01M805.8 1004.6h.01M805.9 1004.6h.01M806.1 1005h.01M806.3 1004.9h.01M806.5 1004.7h.01M806.7 1005.3h.01M806.9 1005.5h.01M807 1005.9h.01M807.2 1005.9h.01M807.4 1006.3h.01M807.6 1006.3h.01M807.8 1006.9h.01M808 1007h.01M808.2 1007h.01M808.3 1007.7h.01M808.5 1007.3h.01M808.7 1007.2h.01M808.9 1007.2h.01M809.1 1007.2h.01M809.3 1006.7h.01M809.4 1006.5h.01M809.6 1006.5h.01M809.8 1006.4h.01M810 1006.3h.01M810.2 1006.1h.01M810.4 1005.6h.01M810.6 1006h.01M810.7 1005.8h.01M810.9 1005.1h.01M811.1 1005.3h.01M811.3 1005.4h.01M811.5 1005.6h.01M811.7 1005.5h.01M811.8 1005.8h.01M812 1006h.01M812.2 1006.1h.01M812.4 1006.1h.01M812.6 1006.6h.01M812.8 1006.5h.01M813 1006.9h.01M813.1 1006.9h.01M813.3 1006.6h.01M813.5 1006.7h.01M813.7 1006.7h.01M813.9 1006.7h.01M814.1 1006.8h.01M814.2 1007.2h.01M814.4 1007h.01M814.6 1007.2h.01M814.8 1007.2h.01M815 1007.1h.01M815.2 1007h.01M815.4 1007h.01M815.5 1007.5h.01M815.7 1007.3h.01M815.9 1007.5h.01M816.1 1007.7h.01M816.3 1007.6h.01M816.5 1008h.01M816.6 1008h.01M816.8 1008.2h.01M817 1008h.01M817.2 1007.7h.01M817.4 1007.5h.01M817.6 1007h.01M817.8 1006.8h.01M817.9 1006.4h.01M818.1 1006.2h.01M818.3 1006.5h.01M818.5 1006h.01M818.7 1006.1h.01M818.9 1005.9h.01M819 1005.9h.01M819.2 1005.9h.01M819.4 1006h.01M819.6 1006.2h.01M819.8 1005.6h.01M820 1005.8h.01M820.2 1005.8h.01M820.3 1005.7h.01M820.5 1005.4h.01M820.7 1005.2h.01M820.9 1005.5h.01M821.1 1005.6h.01M821.3 1004.9h.01M821.4 1004.5h.01M821.6 1004.6h.01M821.8 1004.6h.01M822 1004.8h.01M822.2 1004.5h.01M822.4 1004.4h.01M822.6 1004.3h.01M822.7 1004.6h.01M822.9 1004.7h.01M823.1 1004.9h.01M823.3 1004.9h.01M823.5 1005.1h.01M823.7 1004.9h.01M823.8 1005.5h.01M824 1005.8h.01M824.2 1005.3h.01M824.4 1005.2h.01M824.6 1004.8h.01M824.8 1005h.01M825 1004.6h.01M825.1 1004.5h.01M825.3 1004.4h.01M825.5 1004.6h.01M825.7 1005.1h.01M825.9 1005.2h.01M826.1 1005.5h.01M826.2 1005.5h.01M826.4 1005.2h.01M826.6 1004.7h.01M826.8 1004.5h.01M827 1004.2h.01M827.2 1003.9h.01M827.4 1003.7h.01M827.5 1003.4h.01M827.7 1003.7h.01M827.9 1003.6h.01M828.1 1003.9h.01M828.3 1004.2h.01M828.5 1004.3h.01M828.7 1004.2h.01M828.8 1004.4h.01M829 1004.8h.01M829.2 1004.9h.01M829.4 1005.3h.01M829.6 1005.8h.01M829.8 1005.4h.01M829.9 1005.3h.01M830.1 1005.5h.01M830.3 1005.4h.01M830.5 1005.6h.01M830.7 1005.7h.01M830.9 1005.8h.01M831.1 1006h.01M831.2 1006.6h.01M831.4 1006.4h.01M831.6 1007.1h.01M831.8 1007.2h.01M832 1007.3h.01M832.2 1007.5h.01M832.3 1007.1h.01M832.5 1006.8h.01M832.7 1006.5h.01M832.9 1006.1h.01M833.1 1005.7h.01M833.3 1005.5h.01M833.5 1005.3h.01M833.6 1004.9h.01M833.8 1004.7h.01M834 1004.5h.01M834.2 1004.6h.01M834.4 1004.3h.01M834.6 1004.7h.01M834.7 1004.6h.01M834.9 1004.6h.01M835.1 1004.9h.01M835.3 1005.2h.01M835.5 1005.6h.01M835.7 1005.2h.01M835.9 1005.1h.01M836 1004.5h.01M836.2 1004.4h.01M836.4 1004.3h.01M836.6 1004.6h.01M836.8 1004.5h.01M837 1004.5h.01M837.1 1005.1h.01M837.3 1005.2h.01M837.5 1005.3h.01M837.7 1005.6h.01M837.9 1006.1h.01M838.1 1006.1h.01M838.3 1006.8h.01M838.4 1006.9h.01M838.6 1007.8h.01M838.8 1007.8h.01M839 1007.7h.01M839.2 1007.4h.01M839.4 1007.6h.01M839.5 1007.4h.01M839.7 1007h.01M839.9 1006.5h.01M840.1 1006.4h.01M840.3 1006.3h.01M840.5 1006.2h.01M840.7 1005.9h.01M840.8 1006.1h.01M841 1005.8h.01M841.2 1006h.01M841.4 1005.7h.01M841.6 1005.8h.01M841.8 1005.6h.01M841.9 1005.8h.01M842.1 1005.7h.01M842.3 1005.8h.01M842.5 1006.5h.01M842.7 1006.5h.01M842.9 1006.7h.01M843.1 1006.7h.01M843.2 1006.8h.01M843.4 1007.3h.01M843.6 1007.1h.01M843.8 1006.4h.01M844 1006.6h.01M844.2 1006.5h.01M844.3 1006.3h.01M844.5 1005.9h.01M844.7 1005.8h.01M844.9 1005.7h.01M845.1 1005.3h.01M845.3 1005.1h.01M845.5 1005.3h.01M845.6 1004.9h.01M845.8 1005.3h.01M846 1004.9h.01M846.2 1004.8h.01M846.4 1004.9h.01M846.6 1004.7h.01M846.7 1004.6h.01M846.9 1004.7h.01M847.1 1004.4h.01M847.3 1004.6h.01M847.5 1004.4h.01M847.7 1003.9h.01M847.9 1003.6h.01M848 1003.6h.01M848.2 1003.4h.01M848.4 1003.6h.01M848.6 1002.9h.01M848.8 1002.8h.01M849 1002.8h.01M849.1 1002.6h.01M849.3 1002.6h.01M849.5 1002.6h.01M849.7 1002.7h.01M849.9 1002.6h.01M850.1 1003.1h.01M850.3 1003.3h.01M850.4 1003.5h.01M850.6 1003.5h.01M850.8 1003.8h.01M851 1004h.01M851.2 1004.3h.01M851.4 1004.2h.01M851.5 1004.7h.01M851.7 1004.5h.01M851.9 1004.6h.01M852.1 1004.6h.01M852.3 1004.8h.01M852.5 1004.9h.01M852.7 1005.1h.01M852.8 1005.1h.01M853 1005.1h.01M853.2 1005.3h.01M853.4 1005.3h.01M853.6 1005.6h.01M853.8 1005.7h.01M853.9 1005.8h.01M854.1 1005.9h.01M854.3 1006h.01M854.5 1006.4h.01M854.7 1006.3h.01M854.9 1006.6h.01M855.1 1006.5h.01M855.2 1007h.01M855.4 1006.9h.01M855.6 1007.2h.01M855.8 1007.5h.01M856 1007.4h.01M856.2 1007.3h.01M856.4 1007.2h.01M856.5 1007.3h.01M856.7 1007.1h.01M856.9 1007.3h.01M857.1 1007.6h.01M857.3 1007.2h.01M857.5 1007.4h.01M857.6 1007.2h.01M857.8 1007.4h.01M858 1007.6h.01M858.2 1007.4h.01M858.4 1006.8h.01M858.6 1006.4h.01M858.8 1006.2h.01M858.9 1005.5h.01M859.1 1005.8h.01M859.3 1005.9h.01M859.5 1005.5h.01M859.7 1005.4h.01M859.9 1005.4h.01M860 1005.6h.01M860.2 1005.4h.01M860.4 1005.5h.01M860.6 1005.6h.01M860.8 1005.3h.01M861 1005.4h.01M861.2 1005.5h.01M861.3 1005.6h.01M861.5 1005.6h.01M861.7 1005.7h.01M861.9 1005.8h.01M862.1 1005.8h.01M862.3 1005.9h.01M862.4 1005.9h.01M862.6 1006.1h.01M862.8 1006h.01M863 1006.3h.01M863.2 1006h.01M863.4 1006.5h.01M863.6 1006.2h.01M863.7 1006.1h.01M863.9 1006h.01M864.1 1005.8h.01M864.3 1005.6h.01M864.5 1005.7h.01M864.7 1005.2h.01M864.8 1005h.01M865 1005.1h.01M865.2 1005.6h.01M865.4 1005.4h.01M865.6 1005h.01M865.8 1005.4h.01M866 1005.3h.01M866.1 1005.6h.01M866.3 1006h.01M866.5 1006.1h.01M866.7 1006.3h.01M866.9 1005.4h.01M867.1 1005.7h.01M867.2 1005.5h.01M867.4 1005.4h.01M867.6 1005.1h.01M867.8 1005.2h.01M868 1004.3h.01M868.2 1004.7h.01M868.4 1004.7h.01M868.5 1004.8h.01M868.7 1004.1h.01M868.9 1004.3h.01M869.1 1004.2h.01M869.3 1004.2h.01M869.5 1004.2h.01M869.6 1004.1h.01M869.8 1004.3h.01M870 1004.2h.01M870.2 1004.1h.01M870.4 1004.5h.01M870.6 1004.6h.01M870.8 1005.2h.01M870.9 1004.7h.01M871.1 1004.5h.01M871.3 1004h.01M871.5 1003.6h.01M871.7 1003.4h.01M871.9 1003.3h.01M872 1002.9h.01M872.2 1002.5h.01M872.4 1002.7h.01M872.6 1002.4h.01M872.8 1002h.01M873 1002h.01M873.2 1001.9h.01M873.3 1002.2h.01M873.5 1002.4h.01M873.7 1002.4h.01M873.9 1002.6h.01M874.1 1003h.01M874.3 1003.2h.01M874.4 1002.6h.01M874.6 1002.4h.01M874.8 1001.7h.01M875 1001.7h.01M875.2 1001.5h.01M875.4 1001.4h.01M875.6 1001.3h.01M875.7 1001.7h.01M875.9 1001.8h.01M876.1 1002.1h.01M876.3 1002.4h.01M876.5 1002.6h.01M876.7 1002.9h.01M876.8 1003.3h.01M877 1003.7h.01M877.2 1003.6h.01M877.4 1004.3h.01M877.6 1004.3h.01M877.8 1004.4h.01M878 1004.9h.01M878.1 1005h.01M878.3 1004.9h.01M878.5 1004.8h.01M878.7 1005.6h.01M878.9 1005.2h.01M879.1 1005.8h.01M879.2 1005.7h.01M879.4 1005.5h.01M879.6 1005.9h.01M879.8 1006.1h.01M880 1006.4h.01M880.2 1006.1h.01M880.4 1006.5h.01M880.5 1006.3h.01M880.7 1006.4h.01M880.9 1006.5h.01M881.1 1006.4h.01M881.3 1006.5h.01M881.5 1006.5h.01M881.6 1006.2h.01M881.8 1006.4h.01M882 1006.3h.01M882.2 1006.2h.01M882.4 1006.1h.01M882.6 1006.6h.01M882.8 1006.4h.01M882.9 1006.4h.01M883.1 1006.3h.01M883.3 1006.3h.01M883.5 1006.5h.01M883.7 1006.3h.01M883.9 1006.6h.01M884 1006.6h.01M884.2 1006.9h.01M884.4 1006.9h.01M884.6 1007h.01M884.8 1006.9h.01M885 1007.3h.01M885.2 1007.4h.01M885.3 1007.6h.01M885.5 1007.7h.01M885.7 1008.2h.01M885.9 1008.3h.01M886.1 1008.1h.01M886.3 1008.2h.01M886.5 1008.4h.01M886.6 1008.6h.01M886.8 1008.3h.01M887 1008.4h.01M887.2 1007.9h.01M887.4 1008.1h.01M887.6 1007.8h.01M887.7 1007.8h.01M887.9 1007.3h.01M888.1 1007.4h.01M888.3 1007.2h.01M888.5 1007.1h.01M888.7 1007.1h.01M888.9 1007.3h.01M889 1007h.01M889.2 1006.9h.01M889.4 1006.9h.01M889.6 1007h.01M889.8 1006.6h.01M890 1006.6h.01M890.1 1006.8h.01M890.3 1006.9h.01M890.5 1006.8h.01M890.7 1006.8h.01M890.9 1006.6h.01M891.1 1006.6h.01M891.3 1006.9h.01M891.4 1006.5h.01M891.6 1006.4h.01M891.8 1006.2h.01M892 1006.1h.01M892.2 1005.6h.01M892.4 1005.5h.01M892.5 1005.2h.01M892.7 1005.3h.01M892.9 1005.3h.01M893.1 1004.4h.01M893.3 1004.6h.01M893.5 1004.7h.01M893.7 1004.5h.01M893.8 1004.6h.01M894 1004.4h.01M894.2 1004.5h.01M894.4 1004.7h.01M894.6 1004.7h.01M894.8 1004.6h.01M894.9 1004.6h.01M895.1 1004.9h.01M895.3 1004.5h.01M895.5 1004.6h.01M895.7 1004.7h.01M895.9 1004.8h.01M896.1 1004.8h.01M896.2 1005h.01M896.4 1004.7h.01M896.6 1004.5h.01M896.8 1004.3h.01M897 1004.1h.01M897.2 1004.1h.01M897.3 1003.8h.01M897.5 1003.8h.01M897.7 1004.2h.01M897.9 1003.7h.01M898.1 1004.2h.01M898.3 1004.4h.01M898.5 1004.9h.01M898.6 1005.3h.01M898.8 1005.8h.01M899 1006.1h.01M899.2 1007h.01M899.4 1006.1h.01M899.6 1006.3h.01M899.7 1005.9h.01M899.9 1005.6h.01M900.1 1005.7h.01M900.3 1005.6h.01M900.5 1005.6h.01M900.7 1005.6h.01M900.9 1005.2h.01M901 1005.5h.01M901.2 1005.4h.01M901.4 1005.5h.01M901.6 1005.5h.01M901.8 1006.1h.01M902 1005.8h.01M902.1 1006.2h.01M902.3 1006.3h.01M902.5 1006.6h.01M902.7 1006.6h.01M902.9 1006.7h.01M903.1 1007.1h.01M903.3 1007.5h.01M903.4 1007.5h.01M903.6 1007.9h.01M903.8 1007.5h.01M904 1007.6h.01M904.2 1007.3h.01M904.4 1006.7h.01M904.5 1007.1h.01M904.7 1006.6h.01M904.9 1006h.01M905.1 1006h.01M905.3 1005.3h.01M905.5 1005.4h.01M905.7 1005.1h.01M905.8 1004.8h.01M906 1004.4h.01M906.2 1004.3h.01M906.4 1004.1h.01M906.6 1004.3h.01M906.8 1004.2h.01M906.9 1004.3h.01M907.1 1004.2h.01M907.3 1004.8h.01M907.5 1004.8h.01M907.7 1004.7h.01M907.9 1005.2h.01M908.1 1005.5h.01M908.2 1005.8h.01M908.4 1005.8h.01M908.6 1006h.01M908.8 1006.2h.01M909 1006.5h.01M909.2 1006.6h.01M909.3 1006.3h.01M909.5 1006.5h.01M909.7 1006.7h.01M909.9 1006.5h.01M910.1 1006.3h.01M910.3 1006.7h.01M910.5 1006.7h.01M910.6 1007.4h.01M910.8 1007.1h.01M911 1006.8h.01M911.2 1007h.01M911.4 1006.6h.01M911.6 1006.3h.01M911.7 1006.2h.01M911.9 1006.2h.01M912.1 1006.5h.01M912.3 1006.6h.01M912.5 1006.9h.01M912.7 1006.9h.01M912.9 1007.2h.01M913 1007.2h.01M913.2 1006.9h.01M913.4 1006.7h.01M913.6 1006.2h.01M913.8 1006.1h.01M914 1005.9h.01M914.1 1005.7h.01M914.3 1005.7h.01M914.5 1005.8h.01M914.7 1005.9h.01M914.9 1005.9h.01M915.1 1005.9h.01M915.3 1005.9h.01M915.4 1005.6h.01M915.6 1005.5h.01M915.8 1005.4h.01M916 1005.2h.01M916.2 1005.5h.01M916.4 1005.3h.01M916.6 1005h.01M916.7 1004.6h.01M916.9 1004.5h.01M917.1 1003.9h.01M917.3 1003.9h.01M917.5 1003.7h.01M917.7 1003.6h.01M917.8 1003.5h.01M918 1003.4h.01M918.2 1004h.01M918.4 1003.8h.01M918.6 1004h.01M918.8 1003.4h.01M919 1003.4h.01M919.1 1003.8h.01M919.3 1003.6h.01M919.5 1003.8h.01M919.7 1003.9h.01M919.9 1003.7h.01M920.1 1004h.01M920.2 1003.8h.01M920.4 1004h.01M920.6 1004h.01M920.8 1004.2h.01M921 1004.4h.01M921.2 1004.4h.01M921.4 1004.6h.01M921.5 1004.7h.01M921.7 1004.9h.01M921.9 1005.1h.01M922.1 1005.5h.01M922.3 1005.8h.01M922.5 1005.8h.01M922.6 1006.2h.01M922.8 1006.5h.01M923 1006.7h.01M923.2 1007.4h.01M923.4 1007.6h.01M923.6 1008.3h.01M923.8 1008.1h.01M923.9 1007.7h.01M924.1 1007.5h.01M924.3 1007.3h.01M924.5 1007h.01M924.7 1007.1h.01M924.9 1007.1h.01M925 1006.7h.01M925.2 1006.8h.01M925.4 1006.7h.01M925.6 1006.6h.01M925.8 1006.8h.01M926 1006.8h.01M926.2 1006.7h.01M926.3 1006.4h.01M926.5 1006.3h.01M926.7 1006.3h.01M926.9 1006.2h.01M927.1 1006.3h.01M927.3 1006.2h.01M927.4 1006.3h.01M927.6 1006.3h.01M927.8 1006.8h.01M928 1006.7h.01M928.2 1007h.01M928.4 1007.4h.01M928.6 1007.4h.01M928.7 1007.6h.01M928.9 1007.7h.01M929.1 1007h.01M929.3 1006.9h.01M929.5 1007.1h.01M929.7 1007.1h.01M929.8 1006.9h.01M930 1006.9h.01M930.2 1006.5h.01M930.4 1006.9h.01M930.6 1007h.01M930.8 1006.4h.01M931 1006.7h.01M931.1 1006.8h.01M931.3 1007.1h.01M931.5 1007.4h.01M931.7 1007.6h.01M931.9 1007.8h.01M932.1 1007.5h.01M932.2 1008.1h.01M932.4 1007.9h.01M932.6 1007.7h.01M932.8 1007.7h.01M933 1007.6h.01M933.2 1007.6h.01M933.4 1007.2h.01M933.5 1007h.01M933.7 1006.8h.01M933.9 1006.5h.01M934.1 1006.2h.01M934.3 1006.3h.01M934.5 1005.8h.01M934.6 1005.6h.01M934.8 1005.7h.01M935 1005.9h.01M935.2 1005.6h.01M935.4 1006h.01M935.6 1006.5h.01M935.8 1006.3h.01M935.9 1006.8h.01M936.1 1006.7h.01M936.3 1007.2h.01M936.5 1007.5h.01M936.7 1007.5h.01M936.9 1007.5h.01M937 1007.8h.01M937.2 1007.5h.01M937.4 1007.8h.01M937.6 1007.9h.01M937.8 1007.9h.01M938 1007.9h.01M938.2 1007.6h.01M938.3 1008h.01M938.5 1008.1h.01M938.7 1008.6h.01M938.9 1008h.01M939.1 1007.9h.01M939.3 1008h.01M939.4 1007.6h.01M939.6 1007.5h.01M939.8 1007.2h.01M940 1007.4h.01M940.2 1007.4h.01M940.4 1007.6h.01M940.6 1007.4h.01M940.7 1007.4h.01M940.9 1007.3h.01M941.1 1007.7h.01M941.3 1007.6h.01M941.5 1008.1h.01M941.7 1008.3h.01M941.8 1008.4h.01M942 1008.3h.01M942.2 1008.6h.01M942.4 1008.4h.01M942.6 1008.4h.01M942.8 1008.2h.01M943 1008.4h.01M943.1 1008.3h.01M943.3 1007.7h.01M943.5 1007.5h.01M943.7 1007.4h.01M943.9 1006.9h.01M944.1 1006.7h.01M944.3 1006.4h.01M944.4 1006.3h.01M944.6 1006.7h.01M944.8 1006.5h.01M945 1006.4h.01M945.2 1006.7h.01M945.4 1006.9h.01M945.5 1006.6h.01M945.7 1007h.01M945.9 1006.7h.01M946.1 1007.2h.01M946.3 1007h.01M946.5 1006.9h.01M946.7 1006.7h.01M946.8 1006.2h.01M947 1006.2h.01M947.2 1005.9h.01M947.4 1005.8h.01M947.6 1005.6h.01M947.8 1005.1h.01M947.9 1004.8h.01M948.1 1004.9h.01M948.3 1004.9h.01M948.5 1005.1h.01M948.7 1005.5h.01M948.9 1005.1h.01M949.1 1005.3h.01M949.2 1005.2h.01M949.4 1005.2h.01M949.6 1005.2h.01M949.8 1005.1h.01M950 1004.9h.01M950.2 1004.9h.01M950.3 1004.7h.01M950.5 1004.4h.01M950.7 1004.2h.01M950.9 1004.4h.01M951.1 1004.1h.01M951.3 1004h.01M951.5 1003.7h.01M951.6 1003.7h.01M951.8 1003.4h.01M952 1003.2h.01M952.2 1003.1h.01M952.4 1002.9h.01M952.6 1002.9h.01M952.7 1002.5h.01M952.9 1002.8h.01M953.1 1002.9h.01M953.3 1002.5h.01M953.5 1002.7h.01M953.7 1002.4h.01M953.9 1002.3h.01M954 1002.4h.01M954.2 1002.9h.01M954.4 1002.9h.01M954.6 1002.7h.01M954.8 1003h.01M955 1003.4h.01M955.1 1002.9h.01M955.3 1002.5h.01M955.5 1002.5h.01M955.7 1001.8h.01M955.9 1001.7h.01M956.1 1001.2h.01M956.3 1001h.01M956.4 1000.6h.01M956.6 1000.8h.01M956.8 1000.8h.01M957 1000.6h.01M957.2 1001h.01M957.4 1002h.01M957.5 1002.3h.01M957.7 1003h.01M957.9 1003.8h.01M958.1 1004.7h.01M958.3 1005.1h.01M958.5 1006h.01M958.7 1005.8h.01M958.8 1005.9h.01M959 1005.8h.01M959.2 1005.9h.01M959.4 1006.3h.01M959.6 1006.6h.01M959.8 1006.7h.01M959.9 1007h.01M960.1 1007.4h.01M960.3 1007.1h.01M960.5 1007h.01M960.7 1006.8h.01M960.9 1006.9h.01M961.1 1006.8h.01M961.2 1006.6h.01M961.4 1006.3h.01M961.6 1006.1h.01M961.8 1005.4h.01M962 1005.5h.01M962.2 1005.1h.01M962.3 1004.5h.01M962.5 1004.4h.01M962.7 1003.8h.01M962.9 1003.6h.01M963.1 1003h.01M963.3 1003.1h.01M963.5 1002.6h.01M963.6 1002.6h.01M963.8 1002.3h.01M964 1002.1h.01M964.2 1002.1h.01M964.4 1002.5h.01M964.6 1002.3h.01M964.7 1002.6h.01M964.9 1002.5h.01M965.1 1002.8h.01M965.3 1003.4h.01M965.5 1003.3h.01M965.7 1003.6h.01M965.9 1003.8h.01M966 1004.3h.01M966.2 1004.5h.01M966.4 1004.8h.01M966.6 1004.5h.01M966.8 1004.8h.01M967 1004.7h.01M967.1 1004.8h.01M967.3 1004.8h.01M967.5 1005.6h.01M967.7 1005.6h.01M967.9 1005.8h.01M968.1 1005.8h.01M968.3 1006.3h.01M968.4 1006.2h.01M968.4 1006.3h.01M968.6 1006.5h.01M968.8 1006.5h.01M969 1007h.01M969.2 1006.6h.01M969.4 1006.9h.01M969.5 1007.1h.01M969.7 1007.3h.01M969.9 1007h.01M970.1 1007.3h.01M970.3 1007.5h.01M970.5 1007.6h.01M970.7 1007.2h.01M970.8 1007.7h.01M971 1007.7h.01M971.2 1007h.01M971.4 1007.4h.01M971.6 1007.7h.01M971.8 1007.5h.01M971.9 1007.3h.01M972.1 1007.3h.01M972.3 1007.3h.01M972.5 1007h.01M972.7 1007.2h.01M972.9 1007.2h.01M973.1 1007h.01M973.2 1007h.01M973.4 1007h.01M973.6 1007h.01M973.8 1006.9h.01M974 1007.2h.01M974.2 1007.3h.01M974.4 1007.1h.01M974.5 1007.1h.01M974.7 1006.9h.01M974.9 1006.6h.01M975.1 1006.8h.01M975.3 1006.7h.01M975.5 1006.2h.01M975.6 1006.1h.01M975.8 1006.2h.01M976 1006h.01M976.2 1006h.01M976.4 1006h.01M976.6 1005.8h.01M976.8 1006.2h.01M976.9 1006.8h.01M977.1 1007h.01M977.3 1007.3h.01M977.5 1007.6h.01M977.7 1007.9h.01M977.9 1007.8h.01M978 1007.6h.01M978.2 1007.3h.01M978.4 1007.2h.01M978.6 1007.1h.01M978.8 1007.1h.01M979 1006.6h.01M979.2 1006.8h.01M979.3 1006.4h.01M979.5 1006h.01M979.7 1006.2h.01M979.9 1005.9h.01M980.1 1006.1h.01M980.3 1006.3h.01M980.4 1006.3h.01M980.6 1006.6h.01M980.8 1006.8h.01M981 1006.9h.01M981.2 1007.3h.01M981.4 1006.8h.01M981.6 1006.7h.01M981.7 1006.6h.01M981.9 1006.1h.01M982.1 1006h.01M982.3 1006h.01M982.5 1006.2h.01M982.7 1006.1h.01M982.8 1006.2h.01M983 1006.4h.01M983.2 1006.5h.01M983.4 1006.6h.01M983.6 1007.2h.01M983.8 1006.6h.01M984 1007.2h.01M984.1 1007.1h.01M984.3 1007.6h.01M984.5 1007.8h.01M984.7 1007.7h.01M984.9 1008h.01M985.1 1007.8h.01M985.2 1008.3h.01M985.4 1008.1h.01M985.6 1008h.01M985.8 1007.9h.01M986 1007.8h.01M986.2 1007.6h.01M986.4 1007.7h.01M986.5 1007.4h.01M986.7 1007.3h.01M986.9 1006.8h.01M987.1 1006.8h.01M987.3 1006.7h.01M987.5 1006.6h.01M987.6 1006.3h.01M987.8 1006h.01M988 1005.9h.01M988.2 1005.4h.01M988.4 1005.4h.01M988.6 1005h.01M988.8 1005h.01M988.9 1004.9h.01M989.1 1005h.01M989.3 1004.7h.01M989.5 1005.1h.01M989.7 1005h.01M989.9 1005.3h.01M990 1005.3h.01M990.2 1005.2h.01M990.4 1005.5h.01M990.6 1005.3h.01M990.8 1005.1h.01M991 1005.7h.01M991.2 1005.4h.01M991.3 1005.4h.01M991.5 1005.6h.01M991.7 1005.7h.01M991.9 1005.7h.01M992.1 1006h.01M992.3 1006.1h.01M992.4 1005.8h.01M992.6 1005h.01M992.8 1005h.01M993 1004.5h.01M993.2 1004.8h.01M993.4 1004.4h.01M993.6 1004.3h.01M993.7 1004.2h.01M993.9 1004.1h.01M994.1 1003.9h.01M994.3 1003.8h.01M994.5 1003.4h.01M994.7 1003.7h.01M994.8 1003.7h.01M995 1003.8h.01M995.2 1004h.01M995.4 1004.1h.01M995.6 1004.2h.01M995.8 1004.3h.01M996 1005h.01M996.1 1005.3h.01M996.3 1005.6h.01M996.5 1005.7h.01M996.7 1005.7h.01M996.9 1005.3h.01M997.1 1005.3h.01M997.2 1004.9h.01M997.4 1005.1h.01M997.6 1004.6h.01M997.8 1004.7h.01M998 1004.8h.01M998.2 1004.8h.01M998.4 1005h.01M998.5 1005.9h.01M998.7 1006h.01M998.9 1006.7h.01M999.1 1006.9h.01M999.3 1007h.01M999.5 1007.1h.01M999.6 1007.7h.01M999.8 1007.6h.01M1000 1006.9h.01M1000.2 1006.5h.01M1000.4 1006.2h.01M1000.6 1006h.01M1000.8 1005.6h.01M1000.9 1005.6h.01M1001.1 1005.3h.01M1001.3 1005.3h.01M1001.5 1005.3h.01M1001.7 1005.2h.01M1001.9 1005.3h.01M1002 1005.6h.01M1002.2 1005.5h.01M1002.4 1005.6h.01M1002.6 1005.9h.01M1002.8 1005.8h.01M1003 1006.3h.01M1003.2 1006.1h.01M1003.3 1006.1h.01M1003.5 1005.9h.01M1003.7 1005.7h.01M1003.9 1005.8h.01M1004.1 1005.7h.01M1004.3 1006.1h.01M1004.5 1006.1h.01M1004.6 1005.9h.01M1004.8 1006.1h.01M1005 1005.7h.01M1005.2 1005.7h.01M1005.4 1005.5h.01M1005.6 1005.5h.01M1005.7 1005.6h.01M1005.9 1005.7h.01M1006.1 1005.3h.01M1006.3 1005.3h.01M1006.5 1005.4h.01M1006.7 1005.1h.01M1006.9 1005.1h.01M1007 1005.1h.01M1007.2 1005.4h.01M1007.4 1004.9h.01M1007.6 1005h.01M1007.8 1005.1h.01M1008 1005.4h.01M1008.1 1005.6h.01M1008.3 1005.5h.01M1008.5 1006.1h.01M1008.7 1006.3h.01M1008.9 1006.4h.01M1009.1 1006.6h.01M1009.3 1007h.01M1009.4 1007h.01M1009.6 1006.7h.01M1009.8 1006.8h.01M1010 1006.6h.01M1010.2 1006.7h.01M1010.4 1006.1h.01M1010.5 1006.2h.01M1010.7 1006.4h.01M1010.9 1006.3h.01M1011.1 1006.2h.01M1011.3 1005.5h.01M1011.5 1005.2h.01M1011.7 1005h.01M1011.8 1004.8h.01M1012 1004.7h.01M1012.2 1004.5h.01M1012.4 1004.6h.01M1012.6 1004.9h.01M1012.8 1004.5h.01M1012.9 1004.4h.01M1013.1 1004.3h.01M1013.3 1004.5h.01M1013.5 1004.2h.01M1013.7 1003.9h.01M1013.9 1003.4h.01M1014.1 1003.2h.01M1014.2 1002.7h.01M1014.4 1002.5h.01M1014.6 1002.6h.01M1014.8 1002.6h.01M1015 1002.8h.01M1015.2 1002.9h.01M1015.3 1003h.01M1015.5 1003.5h.01M1015.7 1004h.01M1015.9 1003.7h.01M1016.1 1003.7h.01M1016.3 1003.3h.01M1016.5 1002.9h.01M1016.6 1002.7h.01M1016.8 1002.8h.01M1017 1002.7h.01M1017.2 1002.4h.01M1017.4 1002.7h.01M1017.6 1003.3h.01M1017.7 1002.9h.01M1017.9 1003.5h.01M1018.1 1003.7h.01M1018.3 1003.8h.01M1018.5 1004.7h.01M1018.7 1004.8h.01M1018.9 1005.2h.01M1019 1005.4h.01M1019.2 1006.2h.01M1019.4 1006.2h.01M1019.6 1006.3h.01M1019.8 1006.5h.01M1020 1006.6h.01M1020.1 1006.8h.01M1020.3 1006.8h.01M1020.5 1007h.01M1020.7 1007.1h.01M1020.9 1007.3h.01M1021.1 1007.2h.01M1021.3 1007.3h.01M1021.4 1007.1h.01M1021.6 1007.5h.01M1021.8 1007.2h.01M1022 1007.4h.01M1022.2 1007.4h.01M1022.4 1008.1h.01M1022.5 1008h.01M1022.7 1007.6h.01M1022.9 1007h.01M1023.1 1007h.01M1023.3 1006.8h.01M1023.5 1006.4h.01M1023.7 1006.3h.01M1023.8 1006h.01M1024 1005.9h.01M1024.2 1005.6h.01M1024.4 1005.8h.01M1024.6 1006h.01M1024.8 1006.4h.01M1024.9 1006.5h.01M1025.1 1006.6h.01M1025.3 1006.6h.01M1025.5 1006.3h.01M1025.7 1005.8h.01M1025.9 1006h.01M1026.1 1005.8h.01M1026.2 1006.2h.01M1026.4 1005.7h.01M1026.6 1004.8h.01M1026.8 1004.1h.01M1027 1003.4h.01M1027.2 1002.9h.01M1027.3 1002.3h.01M1027.5 1001.7h.01M1027.7 1001h.01M1027.9 1000.7h.01M1028.1 1000.6h.01M1028.3 1000.5h.01M1028.5 1000.1h.01M1028.6 1000.1h.01M1028.8 1000.1h.01M1029 1000.9h.01M1029.2 1001.1h.01M1029.4 1001.5h.01M1029.6 1002h.01M1029.7 1002.3h.01M1029.9 1002.8h.01M1030.1 1003.1h.01M1030.3 1003.9h.01M1030.5 1003.8h.01M1030.7 1004.6h.01M1030.9 1004.5h.01M1031 1004.9h.01M1031.2 1005.2h.01M1031.4 1005.2h.01M1031.6 1005.2h.01M1031.8 1005.7h.01M1032 1005.7h.01M1032.2 1005.6h.01M1032.3 1005.5h.01M1032.5 1005.8h.01M1032.7 1005.4h.01M1032.9 1005.6h.01M1033.1 1005.9h.01M1033.3 1005.4h.01M1033.4 1005.7h.01M1033.6 1006h.01M1033.8 1006.3h.01M1034 1006.7h.01M1034.2 1007h.01M1034.4 1007.6h.01M1034.6 1007.7h.01M1034.7 1007.6h.01M1034.9 1007.5h.01M1035.1 1007.7h.01M1035.3 1007.5h.01M1035.5 1007.4h.01M1035.7 1007.5h.01M1035.8 1007.4h.01M1036 1007.6h.01M1036.2 1007.2h.01M1036.4 1006.8h.01M1036.6 1006.3h.01M1036.8 1005.9h.01M1037 1005.7h.01M1037.1 1005.5h.01M1037.3 1005.6h.01M1037.5 1005.4h.01M1037.7 1005.4h.01M1037.9 1005.6h.01M1038.1 1005.8h.01M1038.2 1006.3h.01M1038.4 1006.2h.01M1038.6 1006.3h.01M1038.8 1006.7h.01M1039 1006.9h.01M1039.2 1006.9h.01M1039.4 1006.4h.01M1039.5 1006.5h.01M1039.7 1006.8h.01M1039.9 1006.9h.01M1040.1 1007h.01M1040.3 1007.1h.01M1040.5 1007.4h.01M1040.6 1007.9h.01M1040.8 1007.8h.01M1041 1007.4h.01M1041.2 1007.6h.01M1041.4 1007.7h.01M1041.6 1007.4h.01M1041.8 1007.2h.01M1041.9 1007.3h.01M1042.1 1006.8h.01M1042.3 1006.8h.01M1042.5 1006.7h.01M1042.7 1006.5h.01M1042.9 1006.4h.01M1043 1006.4h.01M1043.2 1006.5h.01M1043.4 1006.5h.01M1043.6 1006.9h.01M1043.8 1007.3h.01M1044 1007.6h.01M1044.2 1007h.01M1044.3 1006.5h.01M1044.5 1006.1h.01M1044.7 1005.7h.01M1044.9 1005.4h.01M1045.1 1005h.01M1045.3 1005.1h.01M1045.4 1005.3h.01M1045.6 1004.9h.01M1045.8 1005.7h.01M1046 1005.4h.01M1046.2 1005.7h.01M1046.4 1006.3h.01M1046.6 1006.1h.01M1046.7 1006.4h.01M1046.9 1006.6h.01M1047.1 1006.6h.01M1047.3 1006.9h.01M1047.5 1006.7h.01M1047.7 1007h.01M1047.8 1006.7h.01M1048 1006.5h.01M1048.2 1006.6h.01M1048.4 1006.7h.01M1048.6 1006.9h.01M1048.8 1007h.01M1049 1007h.01M1049.1 1007.1h.01M1049.3 1007.2h.01M1049.5 1007.3h.01M1049.7 1007.5h.01M1049.9 1007.3h.01M1050.1 1007.6h.01M1050.2 1007.4h.01M1050.4 1007.5h.01M1050.6 1007.7h.01M1050.8 1008h.01M1051 1008h.01M1051.2 1008.6h.01M1051.4 1008.3h.01M1051.5 1008.1h.01M1051.7 1007.7h.01M1051.9 1007.9h.01M1052.1 1007.8h.01M1052.3 1007.7h.01M1052.5 1007.8h.01M1052.6 1007.6h.01M1052.8 1007.5h.01M1053 1007.4h.01M1053.2 1007.1h.01M1053.4 1007h.01M1053.6 1007.3h.01M1053.8 1007.3h.01M1053.9 1007.4h.01M1054.1 1007.2h.01M1054.3 1007.3h.01M1054.5 1007.4h.01M1054.7 1007.4h.01M1054.9 1007.4h.01M1055 1007.2h.01M1055.2 1007.5h.01M1055.4 1007.3h.01M1055.6 1007.4h.01M1055.8 1007.7h.01M1056 1007.6h.01M1056.2 1007.9h.01M1056.3 1007.7h.01M1056.5 1007.5h.01M1056.7 1007.2h.01M1056.9 1007.2h.01M1057.1 1007h.01M1057.3 1007.1h.01M1057.4 1006.8h.01M1057.6 1006.6h.01M1057.8 1006.7h.01M1058 1006.7h.01M1058.2 1006.4h.01M1058.4 1006.3h.01M1058.6 1006.4h.01M1058.7 1005.9h.01M1058.9 1006h.01M1059.1 1005.8h.01M1059.3 1005.5h.01M1059.5 1005.6h.01M1059.7 1005.9h.01M1059.8 1005.7h.01M1060 1005.5h.01M1060.2 1005.2h.01M1060.4 1005.2h.01M1060.6 1004.5h.01M1060.8 1004.4h.01M1061 1004.3h.01M1061.1 1004.2h.01M1061.3 1004.1h.01M1061.5 1003.9h.01M1061.7 1004h.01M1061.9 1004.2h.01M1062.1 1004.5h.01M1062.3 1004.5h.01M1062.4 1005.2h.01M1062.6 1005.8h.01M1062.8 1006.4h.01M1063 1006.6h.01M1063.2 1007.2h.01M1063.4 1007.3h.01M1063.5 1007.3h.01M1063.7 1007.1h.01M1063.9 1007.5h.01M1064.1 1007.2h.01M1064.3 1007.7h.01M1064.5 1007.9h.01M1064.7 1007.5h.01M1064.8 1007.8h.01M1065 1008.2h.01M1065.2 1008.2h.01M1065.4 1007.8h.01M1065.6 1007.8h.01M1065.8 1007.5h.01M1065.9 1007.1h.01M1066.1 1006.7h.01M1066.3 1006.4h.01M1066.5 1006.7h.01M1066.7 1006.4h.01M1066.9 1006.1h.01M1067.1 1006.5h.01M1067.2 1006.6h.01M1067.4 1007.1h.01M1067.6 1007.2h.01M1067.8 1007.4h.01M1068 1007.5h.01M1068.2 1007.5h.01M1068.3 1007.6h.01M1068.5 1007.7h.01M1068.7 1007.6h.01M1068.9 1007.4h.01M1069.1 1007.6h.01M1069.3 1007h.01M1069.5 1006.9h.01M1069.6 1006.4h.01M1069.8 1006.5h.01M1070 1006h.01M1070.2 1005.9h.01M1070.4 1005.8h.01M1070.6 1006.1h.01M1070.7 1005.6h.01M1070.9 1005.4h.01M1071.1 1005.6h.01M1071.3 1005.6h.01M1071.5 1005.2h.01M1071.7 1005.3h.01M1071.9 1004.9h.01M1072 1005h.01M1072.2 1004.7h.01M1072.4 1004.7h.01M1072.6 1004.4h.01M1072.8 1004.7h.01M1073 1004.9h.01M1073.1 1005h.01M1073.3 1005.4h.01M1073.5 1005.5h.01M1073.7 1006.1h.01M1073.9 1006.2h.01M1074.1 1006.4h.01M1074.3 1006.8h.01M1074.4 1006.6h.01M1074.6 1006.5h.01M1074.8 1006.6h.01M1075 1006h.01M1075.2 1006.2h.01M1075.4 1005.8h.01M1075.5 1005.9h.01M1075.7 1006h.01M1075.9 1005.9h.01M1076.1 1005.8h.01M1076.3 1006.1h.01M1076.5 1006.2h.01M1076.7 1006.3h.01M1076.8 1006.3h.01M1077 1006.7h.01M1077.2 1006.6h.01M1077.4 1007.1h.01M1077.6 1007.1h.01M1077.8 1007.4h.01M1077.9 1007.2h.01M1078.1 1007.2h.01M1078.3 1007.1h.01M1078.5 1007.6h.01M1078.7 1007.4h.01M1078.9 1007.1h.01M1079.1 1006.2h.01M1079.2 1005.3h.01M1079.4 1004.9h.01M1079.6 1004.1h.01M1079.8 1003.4h.01M1080 1002.8h.01M1080.2 1002.6h.01M1080.3 1002.3h.01M1080.5 1001.8h.01M1080.7 1001.6h.01M1080.9 1001.4h.01M1081.1 1001.8h.01M1081.3 1001.4h.01M1081.5 1001.6h.01M1081.6 1001.5h.01M1081.8 1002h.01M1082 1002.5h.01M1082.2 1002.4h.01M1082.4 1002.4h.01M1082.6 1002.7h.01M1082.7 1003h.01M1082.9 1003.1h.01M1083.1 1003.5h.01M1083.3 1003.2h.01M1083.5 1002.9h.01M1083.7 1002.6h.01M1083.9 1002.3h.01M1084 1002.7h.01M1084.2 1002.8h.01M1084.4 1002.9h.01M1084.6 1002.9h.01M1084.8 1003h.01M1085 1003.4h.01M1085.1 1003.6h.01M1085.3 1004h.01M1085.5 1004.2h.01M1085.7 1004.3h.01M1085.9 1004.8h.01M1086.1 1004.8h.01M1086.3 1004.9h.01M1086.4 1005.1h.01M1086.6 1005.2h.01M1086.8 1005.4h.01M1087 1005.5h.01M1087.2 1005.5h.01M1087.4 1005.7h.01M1087.5 1005.9h.01M1087.7 1005.8h.01M1087.9 1006.5h.01M1088.1 1006.6h.01M1088.3 1006.8h.01M1088.5 1006.5h.01M1088.7 1006.6h.01M1088.8 1006.7h.01M1089 1007.1h.01M1089.2 1007.2h.01M1089.4 1007.1h.01M1089.6 1007.1h.01M1089.8 1007.2h.01M1090 1007.1h.01M1090.1 1007.4h.01M1090.3 1007.7h.01M1090.5 1007.5h.01M1090.7 1008.3h.01M1090.9 1007.8h.01M1091.1 1007.5h.01M1091.2 1007.8h.01M1091.4 1008.2h.01M1091.6 1007.4h.01M1091.8 1007.8h.01M1092 1007.7h.01M1092.2 1007.3h.01M1092.4 1007h.01M1092.5 1007.5h.01M1092.7 1006.9h.01M1092.9 1006.8h.01M1093.1 1007.1h.01M1093.3 1007.2h.01M1093.5 1007.4h.01M1093.6 1007.1h.01M1093.8 1006.9h.01M1094 1007.1h.01M1094.2 1006.5h.01M1094.4 1006.7h.01M1094.6 1006.4h.01M1094.8 1006.7h.01M1094.9 1006.7h.01M1095.1 1006.7h.01M1095.3 1007h.01M1095.5 1006.8h.01M1095.7 1006.6h.01M1095.9 1006.5h.01M1096 1006.4h.01M1096.2 1006h.01M1096.4 1006.2h.01M1096.6 1006h.01M1096.8 1006.2h.01M1097 1006.3h.01M1097.2 1006.2h.01M1097.3 1006.2h.01M1097.5 1007h.01M1097.7 1006.9h.01M1097.9 1007.3h.01M1098.1 1007.5h.01M1098.3 1007.7h.01M1098.4 1008h.01M1098.6 1008h.01M1098.8 1007.8h.01M1099 1008.1h.01M1099.2 1007.6h.01M1099.4 1007.4h.01M1099.6 1007.1h.01M1099.7 1006.9h.01M1099.9 1007h.01M1100.1 1006.6h.01M1100.3 1006.5h.01M1100.5 1006.5h.01M1100.7 1006.2h.01M1100.8 1006h.01M1101 1006h.01M1101.2 1005.7h.01M1101.4 1005.6h.01M1101.6 1005.7h.01M1101.8 1005.4h.01M1102 1005.7h.01M1102.1 1005.1h.01M1102.3 1005.3h.01M1102.5 1005.4h.01M1102.7 1006h.01M1102.9 1005.7h.01M1103.1 1006.2h.01M1103.2 1006.1h.01M1103.4 1005.8h.01M1103.6 1006h.01M1103.8 1006.3h.01M1104 1006.3h.01M1104.2 1006.3h.01M1104.4 1006.6h.01M1104.5 1006.1h.01M1104.7 1005.9h.01M1104.9 1006.1h.01M1105.1 1006h.01M1105.3 1006.2h.01M1105.5 1006h.01M1105.6 1006.2h.01M1105.8 1006.2h.01M1106 1006.4h.01M1106.2 1006.7h.01M1106.4 1006.8h.01M1106.6 1006.9h.01M1106.8 1007.1h.01M1106.9 1007.7h.01M1107.1 1007.5h.01M1107.3 1007.6h.01M1107.5 1007.9h.01M1107.7 1008h.01M1107.9 1008.3h.01M1108 1007.5h.01M1108.2 1007.8h.01M1108.4 1007.5h.01M1108.6 1007.5h.01M1108.8 1007.3h.01M1109 1007.3h.01M1109.2 1006.8h.01M1109.3 1006.7h.01M1109.5 1006.8h.01M1109.7 1006.3h.01M1109.9 1006.3h.01M1110.1 1005.9h.01M1110.3 1005.7h.01M1110.4 1005.9h.01M1110.6 1005.8h.01M1110.8 1005.7h.01M1111 1005.7h.01M1111.2 1005.7h.01M1111.4 1005.7h.01M1111.6 1006h.01M1111.7 1006.2h.01M1111.9 1006h.01M1112.1 1006.2h.01M1112.3 1006.7h.01M1112.5 1007h.01M1112.7 1007.2h.01M1112.8 1007.5h.01M1113 1007.6h.01M1113.2 1007.9h.01M1113.4 1007.6h.01M1113.6 1007.3h.01M1113.8 1007h.01M1114 1006.7h.01M1114.1 1007h.01M1114.3 1006.6h.01M1114.5 1006.7h.01M1114.7 1007.1h.01M1114.9 1006.7h.01M1115.1 1006.9h.01M1115.2 1006.8h.01M1115.4 1006.9h.01M1115.6 1007h.01M1115.8 1006.7h.01M1116 1006.4h.01M1116.2 1006.6h.01M1116.4 1006.1h.01M1116.5 1005.7h.01M1116.7 1005.1h.01M1116.9 1005.3h.01M1117.1 1005.2h.01M1117.3 1004.8h.01M1117.5 1004.5h.01M1117.6 1004.3h.01M1117.8 1004.5h.01M1118 1004.9h.01M1118.2 1005.2h.01M1118.4 1005.3h.01M1118.6 1005.4h.01M1118.8 1005.6h.01M1118.9 1005.7h.01M1119.1 1005.6h.01M1119.3 1005.6h.01M1119.5 1005.3h.01M1119.7 1005.1h.01M1119.9 1005.4h.01M1120.1 1005.1h.01M1120.2 1005h.01M1120.4 1005.2h.01M1120.6 1005.5h.01M1120.8 1005.2h.01M1121 1005.6h.01M1121.2 1005.5h.01M1121.3 1005.6h.01M1121.5 1005.8h.01M1121.7 1005.9h.01M1121.9 1005.7h.01M1122.1 1006.3h.01M1122.3 1006.4h.01M1122.5 1006.4h.01M1122.6 1006.3h.01M1122.8 1006.8h.01M1123 1006.9h.01M1123.2 1006.8h.01M1123.4 1006.9h.01M1123.6 1007.3h.01M1123.7 1007h.01M1123.9 1007.3h.01M1124.1 1007.5h.01M1124.3 1007.5h.01M1124.5 1007.6h.01M1124.7 1008.1h.01M1124.9 1008.2h.01M1125 1008.4h.01M1125.2 1008.1h.01M1125.4 1008.1h.01M1125.6 1008.3h.01M1125.8 1007.8h.01M1126 1007.8h.01M1126.1 1007.6h.01M1126.3 1007.7h.01M1126.5 1007.6h.01M1126.7 1007.6h.01M1126.9 1007.7h.01M1127.1 1007.5h.01M1127.3 1007.4h.01M1127.4 1008h.01M1127.6 1007.8h.01M1127.8 1007.6h.01M1128 1007.8h.01M1128.2 1007.7h.01M1128.4 1008h.01M1128.5 1007.4h.01M1128.7 1007.2h.01M1128.9 1007.1h.01M1129.1 1007.2h.01M1129.3 1007h.01M1129.5 1007h.01M1129.7 1007.3h.01M1129.8 1006.9h.01M1130 1006.8h.01M1130.2 1007h.01M1130.4 1006.9h.01M1130.6 1006.9h.01M1130.8 1006.8h.01M1130.9 1006.7h.01M1131.1 1006.6h.01M1131.3 1006.6h.01M1131.5 1006.4h.01M1131.7 1005.8h.01M1131.9 1005.9h.01M1132.1 1005.6h.01M1132.2 1005.6h.01M1132.4 1005.3h.01M1132.6 1005.2h.01M1132.8 1005.3h.01M1133 1005.3h.01M1133.2 1004.8h.01M1133.3 1005h.01M1133.5 1005.1h.01M1133.7 1005.3h.01M1133.9 1005.4h.01M1134.1 1005.8h.01M1134.3 1005.5h.01M1134.5 1005.8h.01M1134.6 1005.5h.01M1134.8 1005.5h.01M1135 1005.2h.01M1135.2 1004.9h.01M1135.4 1004.8h.01M1135.6 1004.9h.01M1135.7 1004.6h.01M1135.9 1004.7h.01M1136.1 1004.7h.01M1136.3 1004.6h.01M1136.5 1004.8h.01M1136.7 1005h.01M1136.9 1005h.01M1137 1005h.01M1137.2 1005.5h.01M1137.4 1005.6h.01M1137.6 1005.6h.01M1137.8 1006.1h.01M1138 1006h.01M1138.1 1006h.01M1138.3 1006.2h.01M1138.5 1006.2h.01M1138.7 1006.2h.01M1138.9 1006.5h.01M1139.1 1006.5h.01M1139.3 1006.6h.01M1139.4 1006.6h.01M1139.6 1007h.01M1139.8 1007.3h.01M1140 1007.7h.01M1140.2 1007.5h.01M1140.4 1007.3h.01M1140.5 1007.4h.01M1140.7 1007.1h.01M1140.9 1006.8h.01M1141.1 1007h.01M1141.3 1007.3h.01M1141.5 1007.3h.01M1141.7 1007.6h.01M1141.8 1007.7h.01M1142 1008h.01M1142.2 1008.2h.01M1142.4 1008h.01M1142.6 1008.1h.01M1142.8 1008.2h.01M1142.9 1008.1h.01M1143.1 1008.2h.01M1143.3 1007.7h.01M1143.5 1007.9h.01M1143.7 1008h.01M1143.9 1007.5h.01M1144.1 1007.4h.01M1144.2 1007.4h.01M1144.4 1007.3h.01M1144.6 1007.3h.01M1144.8 1007.5h.01M1145 1007.5h.01M1145.2 1007.3h.01M1145.3 1007.2h.01M1145.5 1007.1h.01M1145.7 1007.1h.01M1145.9 1007.2h.01M1146.1 1007.5h.01M1146.3 1008h.01M1146.5 1007.7h.01M1146.6 1008h.01M1146.8 1008.2h.01M1147 1007.9h.01M1147.2 1007.9h.01M1147.4 1007.5h.01M1147.6 1007.6h.01M1147.7 1007.9h.01M1147.9 1007.4h.01M1148.1 1007.5h.01M1148.3 1007.3h.01M1148.5 1007.2h.01M1148.7 1007.1h.01M1148.9 1007h.01M1149 1007.2h.01M1149.2 1007.1h.01M1149.4 1007.2h.01M1149.6 1007h.01M1149.8 1007h.01M1150 1007.2h.01M1150.2 1007.5h.01M1150.3 1007.6h.01M1150.5 1007.6h.01M1150.7 1007.7h.01M1150.9 1007.7h.01M1151.1 1007.5h.01M1151.3 1007.8h.01M1151.4 1007.8h.01M1151.6 1007.7h.01M1151.8 1007.6h.01M1152 1007.6h.01M1152.2 1007.7h.01M1152.4 1007.7h.01M1152.6 1007.6h.01M1152.7 1007.1h.01M1152.9 1007.1h.01M1153.1 1006.9h.01M1153.3 1007h.01M1153.5 1006.7h.01M1153.7 1006.8h.01M1153.8 1006.9h.01M1154 1006.9h.01M1154.2 1007.1h.01M1154.4 1006.8h.01M1154.6 1006.6h.01M1154.8 1006.9h.01M1155 1007.1h.01M1155.1 1006.6h.01M1155.3 1006.4h.01M1155.5 1006.8h.01M1155.7 1006.6h.01M1155.9 1006.4h.01M1156.1 1006.1h.01M1156.2 1006.5h.01M1156.4 1006.7h.01M1156.6 1006.4h.01M1156.8 1006.8h.01M1157 1007h.01M1157.2 1007.2h.01M1157.4 1007.2h.01M1157.5 1007.5h.01M1157.7 1007h.01M1157.9 1007.1h.01M1158.1 1007.3h.01M1158.3 1007.2h.01M1158.5 1007.2h.01M1158.6 1007.5h.01M1158.8 1007.3h.01M1159 1007.9h.01M1159.2 1007.6h.01M1159.4 1007.9h.01M1159.6 1007.9h.01M1159.8 1007.3h.01M1159.9 1007.4h.01M1160.1 1006.9h.01M1160.3 1007h.01M1160.5 1006.9h.01M1160.7 1006.6h.01M1160.9 1007h.01M1161 1006.3h.01M1161.2 1006.3h.01M1161.4 1006.1h.01M1161.6 1005.8h.01M1161.8 1005.9h.01M1162 1005.9h.01M1162.2 1005.8h.01M1162.3 1005.9h.01M1162.5 1006.2h.01M1162.7 1006.1h.01M1162.9 1006.6h.01M1163.1 1007h.01M1163.3 1006.9h.01M1163.4 1006.6h.01M1163.6 1006.9h.01M1163.8 1006.8h.01M1164 1006.7h.01M1164.2 1006.7h.01M1164.4 1006.6h.01M1164.6 1006.8h.01M1164.7 1006.5h.01M1164.9 1006.4h.01M1165.1 1006h.01M1165.3 1005.8h.01M1165.5 1005.6h.01M1165.7 1005.5h.01M1165.8 1005.4h.01M1166 1004.9h.01M1166.2 1005h.01M1166.4 1005h.01M1166.6 1005.3h.01M1166.7 1005.5h.01M1166.8 1005.7h.01M1167 1005.9h.01M1167.1 1006.2h.01M1167.3 1006.3h.01M1167.5 1006.7h.01M1167.7 1006.6h.01M1167.9 1006.6h.01M1168.1 1006.5h.01M1168.2 1006.9h.01M1168.4 1006.5h.01M1168.6 1006.3h.01M1168.8 1005.8h.01M1169 1005.8h.01M1169.2 1005.4h.01M1169.4 1005.6h.01M1169.5 1005.2h.01M1169.7 1005.6h.01M1169.9 1005.8h.01M1170.1 1005.6h.01M1170.3 1005.7h.01M1170.5 1005.6h.01M1170.6 1006.1h.01M1170.8 1006.2h.01M1171 1006.3h.01M1171.2 1006.4h.01M1171.4 1006.8h.01M1171.6 1006.7h.01M1171.8 1006.7h.01M1171.9 1006.8h.01M1172.1 1006.5h.01M1172.3 1006.7h.01M1172.5 1006.7h.01M1172.7 1006.5h.01M1172.9 1006.5h.01M1173 1006.4h.01M1173.2 1006.2h.01M1173.4 1006.3h.01M1173.6 1006.2h.01M1173.8 1006.1h.01M1174 1006.2h.01M1174.2 1006.7h.01M1174.3 1006.7h.01M1174.5 1006.8h.01M1174.7 1007.2h.01M1174.9 1006.9h.01M1175.1 1006.9h.01M1175.3 1006.7h.01M1175.4 1006.5h.01M1175.6 1006.7h.01M1175.8 1006.8h.01M1176 1006.6h.01M1176.2 1007.3h.01M1176.4 1006.9h.01M1176.6 1007.2h.01M1176.7 1007.3h.01M1176.9 1007.1h.01M1177.1 1007.5h.01M1177.3 1007.4h.01M1177.5 1007.6h.01M1177.7 1007.8h.01M1177.9 1008h.01M1178 1007.7h.01M1178.2 1007.9h.01M1178.4 1007.5h.01M1178.6 1007.7h.01M1178.8 1007.9h.01M1179 1007.7h.01M1179.1 1007.5h.01M1179.3 1007.6h.01M1179.5 1007.4h.01M1179.7 1007.6h.01M1179.9 1007.4h.01M1180.1 1007.1h.01M1180.3 1007.1h.01M1180.4 1006.8h.01M1180.6 1006.9h.01M1180.8 1006.8h.01M1181 1006.5h.01M1181.2 1006.7h.01M1181.4 1006.6h.01M1181.5 1007h.01M1181.7 1006.7h.01M1181.9 1006.3h.01M1182.1 1006h.01M1182.3 1005.5h.01M1182.3 1005.1h.01M1182.5 1004.3h.01M1182.7 1004.5h.01M1182.8 1004h.01M1183 1004.5h.01M1183.2 1004.4h.01M1183.4 1004.3h.01M1183.6 1004.7h.01M1183.8 1005h.01M1183.9 1005.4h.01M1184.1 1006h.01M1184.3 1006.5h.01M1184.5 1007.1h.01M1184.7 1006.7h.01M1184.9 1006.4h.01M1185.1 1005.7h.01M1185.2 1006h.01M1185.4 1005.8h.01M1185.6 1005.8h.01M1185.8 1006.3h.01M1186 1006.2h.01M1186.2 1006.4h.01M1186.3 1006.9h.01M1186.5 1007.1h.01M1186.7 1007.4h.01M1186.9 1007.6h.01M1187.1 1007.7h.01M1187.3 1007.5h.01M1187.5 1007.9h.01M1187.6 1007.7h.01M1187.8 1007.5h.01M1188 1007.3h.01M1188.2 1007.2h.01M1188.4 1007.1h.01M1188.6 1006.7h.01M1188.7 1006.8h.01M1188.9 1007h.01M1189.1 1007.1h.01M1189.3 1007.2h.01M1189.5 1007h.01M1189.7 1006.8h.01M1189.9 1006.3h.01M1190 1006.7h.01M1190.2 1006.6h.01M1190.4 1006.5h.01M1190.6 1006.2h.01M1190.8 1006.2h.01M1191 1006.2h.01M1191.1 1006.2h.01M1191.3 1006.3h.01M1191.5 1006.2h.01M1191.7 1006h.01M1191.9 1006h.01M1192.1 1006h.01M1192.3 1006.1h.01M1192.4 1006.4h.01M1192.6 1006h.01M1192.8 1006h.01M1193 1005.8h.01M1193.2 1006.1h.01M1193.4 1006.2h.01M1193.5 1005.7h.01M1193.7 1005.7h.01M1193.9 1005.8h.01M1194.1 1005.6h.01M1194.3 1005.1h.01M1194.5 1005.3h.01M1194.7 1005.3h.01M1194.8 1004.9h.01M1195 1004.9h.01M1195.2 1004.8h.01M1195.4 1004.6h.01M1195.6 1004.8h.01M1195.8 1004.5h.01M1195.9 1004.5h.01M1196.1 1004.3h.01M1196.3 1004.3h.01M1196.5 1004.5h.01M1196.7 1004.3h.01M1196.9 1004.4h.01M1197.1 1004.2h.01M1197.2 1004.5h.01M1197.4 1004.2h.01M1197.6 1004.2h.01M1197.8 1004.4h.01M1198 1004.4h.01M1198.2 1004.5h.01M1198.3 1004.5h.01M1198.5 1004.6h.01M1198.7 1004.7h.01M1198.9 1004.9h.01M1199.1 1005.4h.01M1199.3 1005.5h.01M1199.5 1006.1h.01M1199.6 1006.5h.01M1199.8 1007h.01M1200 1007.5h.01M1200.2 1007.7h.01M1200.4 1007.8h.01M1200.6 1007.7h.01M1200.7 1007.7h.01M1200.9 1007.8h.01M1201.1 1007.7h.01M1201.3 1007.4h.01M1201.5 1007.3h.01M1201.7 1007.1h.01M1201.9 1007.5h.01M1202 1007.2h.01M1202.2 1006.8h.01M1202.3 1007h.01M1202.4 1007.2h.01M1202.6 1006.9h.01M1202.8 1006.6h.01M1203 1006.8h.01M1203.1 1006.9h.01M1203.3 1006.8h.01M1203.5 1007h.01M1203.7 1007.4h.01M1203.9 1007.2h.01M1204.1 1007.4h.01M1204.3 1007.3h.01M1204.4 1007.5h.01M1204.6 1007.8h.01M1204.8 1007.9h.01M1205 1007.6h.01M1205.2 1007.6h.01M1205.4 1008h.01M1205.5 1007.8h.01M1205.7 1007.8h.01M1205.9 1007.7h.01M1206.1 1007.8h.01M1206.3 1007.7h.01M1206.5 1007.4h.01M1206.7 1007.3h.01M1206.8 1007.5h.01M1207 1007.6h.01M1207.2 1007.8h.01M1207.4 1007.7h.01M1207.6 1007.8h.01M1207.8 1008.1h.01M1208 1008h.01M1208.1 1008h.01M1208.3 1008.4h.01M1208.5 1008.6h.01M1208.7 1008.5h.01M1208.9 1008.3h.01M1209.1 1008.1h.01M1209.2 1007.7h.01M1209.4 1008h.01M1209.6 1007.8h.01M1209.8 1007.5h.01M1210 1007.3h.01M1210.2 1007.2h.01M1210.4 1006.7h.01M1210.5 1006.5h.01M1210.7 1006.3h.01M1210.9 1006.2h.01M1211.1 1006.6h.01M1211.3 1006.3h.01M1211.5 1006.5h.01M1211.6 1006.5h.01M1211.8 1006.5h.01M1212 1006.7h.01M1212.2 1006.2h.01M1212.4 1005.9h.01M1212.6 1006.3h.01M1212.8 1005.5h.01M1212.9 1005.9h.01M1213.1 1006.2h.01M1213.3 1005.8h.01M1213.5 1005.9h.01M1213.7 1006.2h.01M1213.9 1006.4h.01M1214 1006.6h.01M1214.2 1007h.01M1214.4 1007.1h.01M1214.6 1007.3h.01M1214.8 1007.7h.01M1215 1007.8h.01M1215.2 1007.8h.01M1215.3 1007.8h.01M1215.5 1007.7h.01M1215.7 1007.4h.01M1215.9 1007.2h.01M1216.1 1007h.01M1216.3 1006.3h.01M1216.4 1006.1h.01M1216.5 1005.9h.01M1216.6 1005.5h.01M1216.8 1005.5h.01M1217 1005.3h.01M1217.2 1005.5h.01M1217.4 1005.4h.01M1217.6 1005.4h.01M1217.7 1005.6h.01M1217.9 1005.4h.01M1218.1 1005.8h.01M1218.3 1005.6h.01M1218.5 1005.3h.01M1218.7 1005.1h.01M1218.8 1004.5h.01M1219 1004.2h.01M1219.2 1004.4h.01M1219.4 1004.2h.01M1219.6 1004h.01M1219.8 1003.7h.01M1220 1003.6h.01M1220.1 1003.7h.01M1220.3 1003.4h.01M1220.5 1003.5h.01M1220.7 1003h.01M1220.9 1003.1h.01M1221.1 1003.1h.01M1221.2 1003.4h.01M1221.3 1003.4h.01M1221.4 1003.7h.01M1221.6 1004.2h.01M1221.8 1004.3h.01M1222 1004.3h.01M1222.2 1004.6h.01M1222.4 1004.4h.01M1222.5 1004.8h.01M1222.7 1004.4h.01M1222.9 1004.9h.01M1223.1 1004.9h.01M1223.3 1005.4h.01M1223.5 1005.5h.01M1223.6 1005.8h.01M1223.8 1005.5h.01M1224 1005.5h.01M1224.2 1005.6h.01M1224.4 1005.8h.01M1224.6 1005.3h.01M1224.8 1005.8h.01M1224.9 1006h.01M1225.1 1006h.01M1225.3 1006.7h.01M1225.5 1006.3h.01M1225.7 1006.8h.01M1225.9 1006.4h.01M1226 1006.4h.01M1226.2 1005.9h.01M1226.4 1006h.01M1226.6 1005.4h.01M1226.8 1005.3h.01M1227 1005.1h.01M1227.2 1005.1h.01M1227.3 1004.6h.01M1227.5 1004.4h.01M1227.7 1004.3h.01M1227.9 1004.5h.01M1228.1 1004.1h.01M1228.3 1004h.01M1228.4 1003.8h.01M1228.6 1003.6h.01M1228.8 1003.6h.01M1229 1003.3h.01M1229.2 1003.3h.01M1229.4 1003.1h.01M1229.6 1002.7h.01M1229.7 1002.4h.01M1229.9 1002.4h.01M1230.1 1002.2h.01M1230.3 1002.2h.01M1230.5 1002.2h.01M1230.7 1002.2h.01M1230.8 1002.2h.01M1231 1002.2h.01M1231.2 1002.2h.01M1231.4 1002.6h.01M1231.6 1002.9h.01M1231.8 1002.8h.01M1232 1002.8h.01M1232.1 1003h.01M1232.3 1003.2h.01M1232.5 1003.6h.01M1232.7 1004.3h.01M1232.9 1004.5h.01M1233.1 1004.7h.01M1233.2 1004.4h.01M1233.4 1004.5h.01M1233.6 1004.4h.01M1233.8 1004.6h.01M1234 1004.2h.01M1234.2 1004.4h.01M1234.4 1004.5h.01M1234.5 1004.5h.01M1234.7 1004.7h.01M1234.9 1004.6h.01M1235.1 1004.8h.01M1235.3 1004.5h.01M1235.5 1005.2h.01M1235.6 1005.4h.01M1235.8 1005.4h.01M1236 1005.6h.01M1236.2 1005.8h.01M1236.4 1005.9h.01M1236.6 1006.2h.01M1236.8 1006.5h.01M1236.9 1006.7h.01M1237.1 1006.8h.01M1237.3 1006.9h.01M1237.5 1006.8h.01M1237.7 1006.8h.01M1237.9 1006.6h.01M1238.1 1006.9h.01M1238.2 1006.8h.01M1238.4 1006.9h.01M1238.6 1006.7h.01M1238.8 1006.9h.01M1239 1007.2h.01M1239.2 1007.2h.01M1239.3 1007.1h.01M1239.5 1007h.01M1239.7 1007h.01M1239.9 1007.1h.01M1240.1 1006.8h.01M1240.3 1006.6h.01M1240.5 1007.1h.01M1240.6 1007.3h.01M1240.8 1006.9h.01M1241 1007h.01M1241.2 1007h.01M1241.4 1007h.01M1241.6 1007.1h.01M1241.7 1007.7h.01M1241.9 1007.2h.01M1242.1 1006.6h.01M1242.3 1006.8h.01M1242.5 1006.3h.01M1242.7 1006.4h.01M1242.9 1006.2h.01M1243 1006h.01M1243.2 1006.3h.01M1243.4 1006.2h.01M1243.6 1005.9h.01M1243.8 1006.4h.01M1244 1006.1h.01M1244.1 1006.2h.01M1244.3 1006.2h.01M1244.5 1006.1h.01M1244.7 1006h.01M1244.9 1006h.01M1245.1 1006h.01M1245.3 1005.9h.01M1245.4 1006h.01M1245.6 1005.6h.01M1245.8 1005.5h.01M1246 1005.3h.01M1246.2 1004.9h.01M1246.4 1004.5h.01M1246.5 1004.2h.01M1246.7 1004.2h.01M1246.9 1003.8h.01M1247.1 1003.2h.01M1247.3 1003.4h.01M1247.5 1003.1h.01M1247.7 1003.3h.01M1247.8 1003.3h.01M1248 1003.5h.01M1248.2 1003.3h.01M1248.4 1003.6h.01M1248.6 1004h.01M1248.8 1004h.01M1248.9 1003.7h.01M1249.1 1004h.01M1249.3 1004.4h.01M1249.5 1004.6h.01M1249.7 1004.3h.01M1249.9 1004.7h.01M1250.1 1005h.01M1250.2 1005.1h.01M1250.4 1005.3h.01M1250.6 1005.5h.01M1250.8 1005.7h.01M1251 1005.7h.01M1251.2 1004.5h.01M1251.4 1004.6h.01M1251.6 1004.1h.01M1251.7 1005h.01M1251.9 1005.4h.01M1252.1 1005.1h.01M1252.3 1005.5h.01M1252.5 1005.6h.01M1252.7 1005.9h.01M1252.8 1006.3h.01M1253 1006.2h.01M1253.2 1006h.01M1253.4 1006.6h.01M1253.6 1006.3h.01M1253.8 1006.5h.01M1254 1007.3h.01M1254.1 1006.9h.01M1254.3 1007.4h.01M1254.5 1007.6h.01M1254.7 1007h.01M1254.9 1007.6h.01M1255.1 1007h.01M1255.2 1007h.01M1255.4 1006.7h.01M1255.6 1006.4h.01M1255.8 1006.4h.01M1256 1006h.01M1256.2 1006.2h.01M1256.4 1005.9h.01M1256.5 1005.8h.01M1256.7 1005.4h.01M1256.9 1005.3h.01M1257.1 1005.5h.01M1257.3 1005.1h.01M1257.5 1005.1h.01M1257.6 1005.3h.01M1257.8 1005.7h.01M1258 1005.8h.01M1258.2 1006.3h.01M1258.4 1006.5h.01M1258.6 1007h.01M1258.8 1007.1h.01M1258.9 1006.9h.01M1259.1 1007h.01M1259.3 1007.1h.01M1259.5 1007.1h.01M1259.7 1007h.01M1259.9 1007.1h.01M1260 1006.7h.01M1260.2 1006.7h.01M1260.4 1006.6h.01M1260.6 1006.2h.01M1260.8 1006h.01M1261 1006.5h.01M1261.2 1006.4h.01M1261.3 1006.2h.01M1261.5 1006.1h.01M1261.7 1006.2h.01M1261.9 1005.6h.01M1262.1 1005.3h.01M1262.3 1005.1h.01M1262.4 1004.9h.01M1262.6 1004.5h.01M1262.8 1004.6h.01M1263 1004.2h.01M1263.2 1003.8h.01M1263.4 1004.1h.01M1263.6 1004.3h.01M1263.7 1004.7h.01M1263.9 1005h.01M1264.1 1005.2h.01M1264.3 1005.5h.01M1264.5 1006.1h.01M1264.7 1006.5h.01M1264.8 1007.2h.01M1265 1007.4h.01M1265.2 1007.7h.01M1265.4 1007.5h.01M1265.6 1007.2h.01M1265.8 1007.4h.01M1266 1007.2h.01M1266.1 1007.2h.01M1266.3 1007h.01M1266.5 1007.1h.01M1266.7 1006.7h.01M1266.9 1007h.01M1267.1 1006.7h.01M1267.3 1006.9h.01M1267.4 1006.6h.01M1267.6 1007.2h.01M1267.8 1007.1h.01M1268 1007.5h.01M1268.2 1007.3h.01M1268.4 1007.2h.01M1268.5 1007.2h.01M1268.7 1007.4h.01M1268.9 1006.9h.01M1269.1 1006.8h.01M1269.3 1006.4h.01M1269.5 1006.1h.01M1269.7 1005.7h.01M1269.8 1005.3h.01M1270 1004.8h.01M1270.2 1004.6h.01M1270.4 1004.5h.01M1270.6 1003.9h.01M1270.8 1003.8h.01M1270.9 1003.8h.01M1271.1 1003.8h.01M1271.3 1003.7h.01M1271.5 1003.7h.01M1271.7 1004.4h.01M1271.9 1005h.01M1272.1 1005.2h.01M1272.2 1006.2h.01M1272.4 1006.3h.01M1272.6 1006.2h.01M1272.8 1005.2h.01M1273 1005.7h.01M1273.2 1005.4h.01M1273.3 1006.2h.01M1273.5 1005.8h.01M1273.7 1006.1h.01M1273.9 1006.7h.01M1274.1 1006.5h.01M1274.3 1006.9h.01M1274.5 1006.4h.01M1274.6 1006.1h.01M1274.8 1005.6h.01M1275 1005.5h.01M1275.2 1005h.01M1275.4 1004.4h.01M1275.6 1004.7h.01M1275.7 1004.7h.01M1275.9 1004.6h.01M1276.1 1004.6h.01M1276.3 1004.3h.01M1276.5 1004.7h.01M1276.7 1005h.01M1276.9 1004.7h.01M1277 1004.7h.01M1277.2 1005h.01M1277.4 1004.7h.01M1277.6 1005h.01M1277.8 1004.4h.01M1278 1004.5h.01M1278.1 1004.2h.01M1278.3 1004.2h.01M1278.5 1003.7h.01M1278.7 1004h.01M1278.9 1003.9h.01M1279.1 1004h.01M1279.3 1004.2h.01M1279.4 1004.5h.01M1279.6 1004h.01M1279.8 1004.3h.01M1280 1004.5h.01M1280.2 1004.5h.01M1280.4 1004.1h.01M1280.5 1004.3h.01M1280.7 1004.3h.01M1280.9 1004.3h.01M1281.1 1004.3h.01M1281.3 1004h.01M1281.5 1003.7h.01M1281.7 1003.3h.01M1281.8 1003h.01M1282 1003.1h.01M1282.2 1002.5h.01M1282.4 1002.3h.01M1282.6 1001.8h.01M1282.8 1002.3h.01M1282.9 1002.2h.01M1283.1 1001.9h.01M1283.3 1002.1h.01M1283.5 1001.6h.01M1283.7 1001.4h.01M1283.9 1000.7h.01M1284.1 1000.5h.01M1284.2 1000.5h.01M1284.4 1000.2h.01M1284.6 1000.2h.01M1284.8 1000.1h.01M1285 1000.4h.01M1285.2 1000h.01M1285.3 1000.3h.01M1285.5 999.9h.01M1285.7 1000.2h.01M1285.9 999.8h.01M1286.1 1000h.01M1286.3 999.5h.01M1286.5 999.2h.01M1286.6 999h.01M1286.8 998.9h.01M1287 998.4h.01M1287.2 998.5h.01M1287.4 998.5h.01M1287.6 998.6h.01M1287.7 998.5h.01M1287.9 998.2h.01M1288.1 998.4h.01M1288.3 998.6h.01M1288.5 998.5h.01M1288.7 998.6h.01M1288.9 999.1h.01M1289 998.4h.01M1289.2 998.7h.01M1289.4 998.7h.01M1289.6 998.7h.01M1289.8 998.5h.01M1290 998.3h.01M1290.1 998.5h.01M1290.3 998.6h.01M1290.5 998.3h.01M1290.7 998.6h.01M1290.9 998.5h.01M1291.1 998h.01M1291.3 998.6h.01M1291.4 998.4h.01M1291.6 998.2h.01M1291.8 997.9h.01M1292 997.1h.01M1292.2 997.3h.01M1292.4 996.6h.01M1292.5 996.7h.01M1292.7 996.5h.01M1292.9 996.4h.01M1293.1 996.2h.01M1293.3 996.1h.01M1293.5 995.8h.01M1293.7 996h.01M1293.8 996.1h.01M1294 995.8h.01M1294.2 996.5h.01M1294.4 996.5h.01M1294.6 997h.01M1294.8 997.1h.01M1295 997.6h.01M1295.1 997.8h.01M1295.3 997.9h.01M1295.5 998.5h.01M1295.7 998.8h.01M1295.9 999.3h.01M1296.1 999.3h.01M1296.2 999.3h.01M1296.4 999.6h.01M1296.6 999.5h.01M1296.8 998.8h.01M1297 999.5h.01M1297.2 999.3h.01M1297.4 998.9h.01M1297.5 999.1h.01M1297.7 999.5h.01M1297.9 999.2h.01M1298.1 999h.01M1298.3 999.4h.01M1298.5 999.3h.01M1298.6 998.8h.01M1298.8 998.9h.01M1299 998.7h.01M1299.2 998.8h.01M1299.4 998.6h.01M1299.6 998.3h.01M1299.8 998.6h.01M1299.9 998.8h.01M1300.1 999.4h.01M1300.3 999.6h.01M1300.5 999.8h.01M1300.7 1005.7h.01M1300.9 1005.4h.01M1301 1006h.01M1301.2 1005.8h.01M1301.4 1006.2h.01M1301.6 1006.2h.01M1301.8 1006.4h.01M1302 1007h.01M1302.2 1006.8h.01M1302.3 1006.9h.01M1302.5 1007.2h.01M1302.7 1007.1h.01M1302.9 1007.3h.01M1303.1 1007.2h.01" fill="none" stroke="#000" stroke-width="2.4" stroke-linecap="round" />
<path d="M492 1000h.01M1034 999.2h.01" fill="none" stroke="#000" stroke-width="2.6" stroke-linecap="round" />
<circle cx="1273.4" cy="992.4" r="1.0" fill="#f00"/>
<circle cx="1273.0" cy="996.3" r="1.9" fill="#000"/>
<g fill="none" stroke="#f00" stroke-width="0.9" stroke-linejoin="round">
<path d="M199.5 958.7l1.5 -2.9l1.5 2.9z"/>
<path d="M200.1 958.7l1.5 -2.9l1.5 2.9z"/>
<path d="M235.5 958.7l1.5 -2.9l1.5 2.9z"/>
<path d="M236.1 958.7l1.5 -2.9l1.5 2.9z"/>
<path d="M251.8 958.7l1.5 -2.9l1.5 2.9z"/>
<path d="M325.5 958.7l1.5 -2.9l1.5 2.9z"/>
<path d="M496.8 958.7l1.5 -2.9l1.5 2.9z"/>
<path d="M497.8 958.7l1.5 -2.9l1.5 2.9z"/>
<path d="M511 958.7l1.5 -2.9l1.5 2.9z"/>
<path d="M691.7 958.7l1.5 -2.9l1.5 2.9z"/>
<path d="M761 958.7l1.5 -2.9l1.5 2.9z"/>
<path d="M947 958.7l1.5 -2.9l1.5 2.9z"/>
<path d="M1130 958.7l1.5 -2.9l1.5 2.9z"/>
<path d="M1265.3 958.7l1.5 -2.9l1.5 2.9z"/>
<path d="M1266.75 958.7l1.5 -2.9l1.5 2.9z"/>
<path d="M1268.2 958.7l1.5 -2.9l1.5 2.9z"/>
<path d="M1269.65 958.7l1.5 -2.9l1.5 2.9z"/>
<path d="M1271.1 958.7l1.5 -2.9l1.5 2.9z"/>
<path d="M1272.55 958.7l1.5 -2.9l1.5 2.9z"/>
<path d="M1274 958.7l1.5 -2.9l1.5 2.9z"/>
<path d="M1275.5 958.7l1.5 -2.9l1.5 2.9z"/>
<path d="M1277.8 958.7l1.5 -2.9l1.5 2.9z"/>
<path d="M1284.3 958.7l1.5 -2.9l1.5 2.9z"/>
<path d="M1285.8 958.7l1.5 -2.9l1.5 2.9z"/>
<path d="M1288.5 958.7l1.5 -2.9l1.5 2.9z"/>
<path d="M1289.7 958.7l1.5 -2.9l1.5 2.9z"/>
<path d="M1291.1 958.7l1.5 -2.9l1.5 2.9z"/>
<path d="M1295.1 958.7l1.5 -2.9l1.5 2.9z"/>
<path d="M1296 958.7l1.5 -2.9l1.5 2.9z"/>
<path d="M1297.5 958.7l1.5 -2.9l1.5 2.9z"/>
</g>
</g>
<line x1="162" y1="954" x2="162" y2="725.5" stroke="#800080" stroke-width="2.08" stroke-dasharray="2.083 3.4375"/>
<line x1="169" y1="954" x2="169" y2="725.5" stroke="#800080" stroke-width="2.08" stroke-dasharray="2.083 3.4375"/>
<line x1="1251" y1="954" x2="1251" y2="725.5" stroke="#800080" stroke-width="2.08" stroke-dasharray="2.083 3.4375"/>
<line x1="1303" y1="954" x2="1303" y2="725.5" stroke="#800080" stroke-width="2.08" stroke-dasharray="2.083 3.4375"/>
<line x1="162" y1="1011" x2="162" y2="954.5" stroke="#800080" stroke-width="2.08" stroke-dasharray="2.083 3.4375"/>
<line x1="169" y1="1011" x2="169" y2="954.5" stroke="#800080" stroke-width="2.08" stroke-dasharray="2.083 3.4375"/>
<line x1="1251" y1="1011" x2="1251" y2="954.5" stroke="#800080" stroke-width="2.08" stroke-dasharray="2.083 3.4375"/>
<line x1="1303" y1="1011" x2="1303" y2="954.5" stroke="#800080" stroke-width="2.08" stroke-dasharray="2.083 3.4375"/>
<rect x="105.5" y="725.5" width="1380" height="286" fill="none" stroke="#000" stroke-width="1.11"/>
<line x1="105.5" y1="954.5" x2="1485.5" y2="954.5" stroke="#000" stroke-width="1.11" />
<line x1="162.5" y1="1011.5" x2="162.5" y2="1016.36" stroke="#000" stroke-width="1.11" />
<text x="163.7" y="1031.8" text-anchor="middle" >0</text>
<line x1="342.5" y1="1011.5" x2="342.5" y2="1016.36" stroke="#000" stroke-width="1.11" />
<text x="342.2" y="1031.8" text-anchor="middle" >1000</text>
<line x1="522.5" y1="1011.5" x2="522.5" y2="1016.36" stroke="#000" stroke-width="1.11" />
<text x="522.2" y="1031.8" text-anchor="middle" >2000</text>
<line x1="702.5" y1="1011.5" x2="702.5" y2="1016.36" stroke="#000" stroke-width="1.11" />
<text x="702.2" y="1031.8" text-anchor="middle" >3000</text>
<line x1="882.5" y1="1011.5" x2="882.5" y2="1016.36" stroke="#000" stroke-width="1.11" />
<text x="882.2" y="1031.8" text-anchor="middle" >4000</text>
<line x1="1063.5" y1="1011.5" x2="1063.5" y2="1016.36" stroke="#000" stroke-width="1.11" />
<text x="1063.2" y="1031.8" text-anchor="middle" >5000</text>
<line x1="1243.5" y1="1011.5" x2="1243.5" y2="1016.36" stroke="#000" stroke-width="1.11" />
<text x="1243.2" y="1031.8" text-anchor="middle" >6000</text>
<line x1="1423.5" y1="1011.5" x2="1423.5" y2="1016.36" stroke="#000" stroke-width="1.11" />
<text x="1423.2" y="1031.8" text-anchor="middle" >7000</text>
<line x1="100.64" y1="921.5" x2="105.5" y2="921.5" stroke="#000" stroke-width="1.11" />
<text x="95.6" y="927.05" text-anchor="end" >OBS not OK</text>
<line x1="100.64" y1="889.5" x2="105.5" y2="889.5" stroke="#000" stroke-width="1.11" />
<text x="95.1" y="894.45" text-anchor="end" >dr &gt; 5</text>
<line x1="100.64" y1="856.5" x2="105.5" y2="856.5" stroke="#000" stroke-width="1.11" />
<text x="95.1" y="861.45" text-anchor="end" >Ion. rad.</text>
<line x1="100.64" y1="823.5" x2="105.5" y2="823.5" stroke="#000" stroke-width="1.11" />
<text x="95.1" y="828.45" text-anchor="end" >Sat. pixel.</text>
<line x1="100.64" y1="790.5" x2="105.5" y2="790.5" stroke="#000" stroke-width="1.11" />
<text x="95.1" y="795.45" text-anchor="end" >not track</text>
<line x1="100.64" y1="758.5" x2="105.5" y2="758.5" stroke="#000" stroke-width="1.11" />
<text x="95.1" y="764.25" text-anchor="end" >not Kalman</text>
<line x1="100.64" y1="1009.5" x2="105.5" y2="1009.5" stroke="#000" stroke-width="1.11" />
<text x="95.1" y="1014.45" text-anchor="end" >0</text>
<line x1="100.64" y1="983.5" x2="105.5" y2="983.5" stroke="#000" stroke-width="1.11" />
<text x="95.1" y="988.45" text-anchor="end" >5</text>
<line x1="100.64" y1="957.5" x2="105.5" y2="957.5" stroke="#000" stroke-width="1.11" />
<text x="95.1" y="962.45" text-anchor="end" >10</text>
<line x1="102.72" y1="996.5" x2="105.5" y2="996.5" stroke="#000" stroke-width="0.83" />
<line x1="102.72" y1="970.5" x2="105.5" y2="970.5" stroke="#000" stroke-width="0.83" />
<text transform="translate(69.1 983.5) rotate(-90)" text-anchor="middle">dr</text>
</g>
</svg>
</body></html>
